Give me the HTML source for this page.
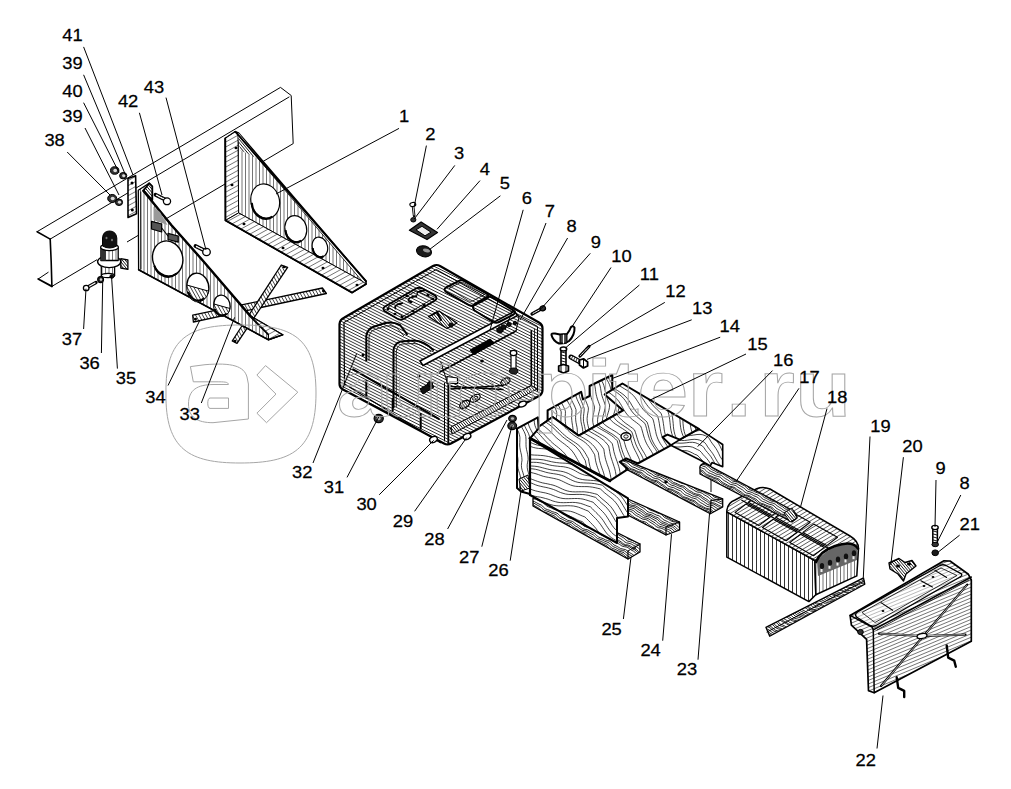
<!DOCTYPE html><html><head><meta charset="utf-8"><style>html,body{margin:0;padding:0;background:#fff;overflow:hidden}svg{display:block}</style></head><body>
<svg width="1011" height="789" viewBox="0 0 1011 789">
<rect width="1011" height="789" fill="#fff"/>
<line x1="37.1" y1="231.7" x2="280.5" y2="87.4" stroke="#000" stroke-width="1"/>
<line x1="50.2" y1="239.1" x2="289.4" y2="96.8" stroke="#000" stroke-width="1"/>
<line x1="51.9" y1="286.4" x2="97.0" y2="259.7" stroke="#000" stroke-width="1"/>
<line x1="127.0" y1="242.0" x2="139.0" y2="234.9" stroke="#000" stroke-width="1"/>
<line x1="138.0" y1="235.4" x2="225.0" y2="184.0" stroke="#000" stroke-width="1"/>
<line x1="238.0" y1="176.3" x2="293.2" y2="143.6" stroke="#000" stroke-width="1"/>
<line x1="280.5" y1="87.4" x2="291.2" y2="95.5" stroke="#000" stroke-width="1"/>
<line x1="291.2" y1="95.5" x2="293.2" y2="143.6" stroke="#000" stroke-width="1"/>
<polyline points="37.1,231.7 50.2,239.1" fill="none" stroke="#000" stroke-width="1.6" stroke-linejoin="round" stroke-linecap="round" />
<polyline points="38.2,279.0 51.9,286.4" fill="none" stroke="#000" stroke-width="1.8" stroke-linejoin="round" stroke-linecap="round" />
<line x1="38.2" y1="279.0" x2="48.5" y2="272.1" stroke="#000" stroke-width="1"/>
<polyline points="50.2,239.1 51.2,262.0 51.9,286.4" fill="none" stroke="#000" stroke-width="1.6" stroke-linejoin="round" stroke-linecap="round" />
<polygon points="225.3,138.3 235.3,131.7 238.5,133.0 366.0,281.2 366.0,284.0 352.1,292.6 225.5,220.4" fill="#fff" stroke="#000" stroke-width="1.6" stroke-linejoin="round" />
<clipPath id="c1"><polygon points="238.0,135.0 362.0,281.0 238.6,212.9"/></clipPath>
<polygon points="238.0,135.0 362.0,281.0 238.6,212.9" fill="#fff" stroke="none"/>
<g clip-path="url(#c1)"><path d="M235.00,133.0V283.0M238.50,133.0V283.0M242.00,133.0V283.0M245.50,133.0V283.0M249.00,133.0V283.0M252.50,133.0V283.0M256.00,133.0V283.0M259.50,133.0V283.0M263.00,133.0V283.0M266.50,133.0V283.0M270.00,133.0V283.0M273.50,133.0V283.0M277.00,133.0V283.0M280.50,133.0V283.0M284.00,133.0V283.0M287.50,133.0V283.0M291.00,133.0V283.0M294.50,133.0V283.0M298.00,133.0V283.0M301.50,133.0V283.0M305.00,133.0V283.0M308.50,133.0V283.0M312.00,133.0V283.0M315.50,133.0V283.0M319.00,133.0V283.0M322.50,133.0V283.0M326.00,133.0V283.0M329.50,133.0V283.0M333.00,133.0V283.0M336.50,133.0V283.0M340.00,133.0V283.0M343.50,133.0V283.0M347.00,133.0V283.0M350.50,133.0V283.0M354.00,133.0V283.0M357.50,133.0V283.0M361.00,133.0V283.0M364.50,133.0V283.0" stroke="#000" stroke-width="0.55" fill="none"/></g>
<polygon points="238.0,135.0 362.0,281.0 238.6,212.9" fill="none" stroke="#000" stroke-width="0.8" stroke-linejoin="round" />
<clipPath id="c2"><polygon points="225.3,138.3 235.3,131.7 238.0,135.0 238.6,212.9 225.5,220.4"/></clipPath>
<polygon points="225.3,138.3 235.3,131.7 238.0,135.0 238.6,212.9 225.5,220.4" fill="#fff" stroke="none"/>
<g clip-path="url(#c2)"><path d="M183.5,150.1L236.0,121.3M185.7,154.0L238.1,125.1M187.8,157.8L240.2,129.0M189.9,161.7L242.3,132.9M192.0,165.5L244.5,136.7M194.2,169.4L246.6,140.6M196.3,173.3L248.7,144.4M198.4,177.1L250.8,148.3M200.5,181.0L252.9,152.1M202.6,184.8L255.1,156.0M204.8,188.7L257.2,159.8M206.9,192.5L259.3,163.7M209.0,196.4L261.4,167.6M211.1,200.2L263.5,171.4M213.2,204.1L265.7,175.3M215.4,208.0L267.8,179.1M217.5,211.8L269.9,183.0M219.6,215.7L272.0,186.8M221.7,219.5L274.1,190.7M223.8,223.4L276.3,194.5M226.0,227.2L278.4,198.4" stroke="#000" stroke-width="0.55" fill="none"/></g>
<polygon points="225.3,138.3 235.3,131.7 238.0,135.0 238.6,212.9 225.5,220.4" fill="none" stroke="#000" stroke-width="1" stroke-linejoin="round" />
<clipPath id="c3"><polygon points="225.5,220.4 238.6,212.9 362.0,281.0 366.0,284.0 352.1,292.6"/></clipPath>
<polygon points="225.5,220.4 238.6,212.9 362.0,281.0 366.0,284.0 352.1,292.6" fill="#fff" stroke="none"/>
<g clip-path="url(#c3)"><path d="M187.1,228.5L333.4,148.0M189.3,232.4L335.5,151.9M191.4,236.2L337.7,155.8M193.5,240.1L339.8,159.6M195.6,243.9L341.9,163.5M197.7,247.8L344.0,167.3M199.9,251.6L346.1,171.2M202.0,255.5L348.3,175.0M204.1,259.3L350.4,178.9M206.2,263.2L352.5,182.7M208.3,267.0L354.6,186.6M210.5,270.9L356.8,190.4M212.6,274.8L358.9,194.3M214.7,278.6L361.0,198.2M216.8,282.5L363.1,202.0M218.9,286.3L365.2,205.9M221.1,290.2L367.4,209.7M223.2,294.0L369.5,213.6M225.3,297.9L371.6,217.4M227.4,301.7L373.7,221.3M229.6,305.6L375.8,225.1M231.7,309.5L378.0,229.0M233.8,313.3L380.1,232.9M235.9,317.2L382.2,236.7M238.0,321.0L384.3,240.6M240.2,324.9L386.4,244.4M242.3,328.7L388.6,248.3M244.4,332.6L390.7,252.1M246.5,336.4L392.8,256.0M248.6,340.3L394.9,259.8M250.8,344.2L397.0,263.7M252.9,348.0L399.2,267.6M255.0,351.9L401.3,271.4" stroke="#000" stroke-width="0.55" fill="none"/></g>
<polygon points="225.5,220.4 238.6,212.9 362.0,281.0 366.0,284.0 352.1,292.6" fill="none" stroke="#000" stroke-width="1" stroke-linejoin="round" />
<clipPath id="c4"><polygon points="238.0,135.0 238.5,133.0 260.0,159.6 240.0,150.0"/></clipPath>
<polygon points="238.0,135.0 238.5,133.0 260.0,159.6 240.0,150.0" fill="#fff" stroke="none"/>
<g clip-path="url(#c4)"><path d="M252.4,117.3L278.1,148.2M250.7,118.7L276.4,149.6M249.0,120.1L274.7,151.0M247.3,121.5L273.0,152.4M245.7,123.0L271.4,153.8M244.0,124.4L269.7,155.2M242.3,125.8L268.0,156.6M240.6,127.2L266.3,158.0M238.9,128.6L264.6,159.4M237.2,130.0L262.9,160.8M235.5,131.4L261.2,162.3M233.8,132.8L259.5,163.7M232.1,134.2L257.8,165.1M230.4,135.6L256.1,166.5M228.8,137.0L254.5,167.9M227.1,138.4L252.8,169.3M225.4,139.9L251.1,170.7M223.7,141.3L249.4,172.1M222.0,142.7L247.7,173.5" stroke="#000" stroke-width="0.9" fill="none"/></g>
<polygon points="238.0,135.0 238.5,133.0 260.0,159.6 240.0,150.0" fill="none" stroke="none" stroke-width="1" stroke-linejoin="round" />
<polyline points="225.3,138.3 225.5,220.4 352.1,292.6 366.0,284.0" fill="none" stroke="#000" stroke-width="1.8" stroke-linejoin="round" stroke-linecap="round" />
<polyline points="235.3,131.7 366.0,281.2" fill="none" stroke="#000" stroke-width="1.8" stroke-linejoin="round" stroke-linecap="round" />
<ellipse cx="236" cy="148" rx="1.5" ry="1.2" transform="rotate(0 236 148)" fill="#000" stroke="none" stroke-width="1"/>
<ellipse cx="232" cy="185" rx="1.5" ry="1.2" transform="rotate(0 232 185)" fill="#000" stroke="none" stroke-width="1"/>
<ellipse cx="244" cy="224" rx="1.5" ry="1.2" transform="rotate(0 244 224)" fill="#000" stroke="none" stroke-width="1"/>
<ellipse cx="283" cy="248" rx="1.5" ry="1.2" transform="rotate(0 283 248)" fill="#000" stroke="none" stroke-width="1"/>
<ellipse cx="323" cy="268" rx="1.5" ry="1.2" transform="rotate(0 323 268)" fill="#000" stroke="none" stroke-width="1"/>
<ellipse cx="357" cy="285" rx="1.5" ry="1.2" transform="rotate(0 357 285)" fill="#000" stroke="none" stroke-width="1"/>
<ellipse cx="265.2" cy="201.1" rx="14.2" ry="17.4" transform="rotate(-15 265.2 201.1)" fill="#fff" stroke="#000" stroke-width="1.2"/>
<path d="M251.7,202.8 A14.2,17.4 0 0 0 272.3,216.8" fill="none" stroke="#000" stroke-width="2.2" stroke-linejoin="round" />
<ellipse cx="295.8" cy="228.8" rx="10.8" ry="13.3" transform="rotate(-15 295.8 228.8)" fill="#fff" stroke="#000" stroke-width="1.2"/>
<path d="M285.5,230.1 A10.8,13.3 0 0 0 301.2,240.8" fill="none" stroke="#000" stroke-width="2.2" stroke-linejoin="round" />
<ellipse cx="319.9" cy="247" rx="7.6" ry="10.1" transform="rotate(-15 319.9 247)" fill="#fff" stroke="#000" stroke-width="1.2"/>
<path d="M312.7,248.0 A7.6,10.1 0 0 0 323.7,256.1" fill="none" stroke="#000" stroke-width="2.2" stroke-linejoin="round" />
<clipPath id="c5"><polygon points="192.7,315.2 322.4,288.0 326.4,293.5 193.4,322.0"/></clipPath>
<polygon points="192.7,315.2 322.4,288.0 326.4,293.5 193.4,322.0" fill="#fff" stroke="none"/>
<g clip-path="url(#c5)"><path d="M297.5,226.7L346.1,314.2M294.9,228.1L343.5,315.6M292.3,229.6L340.9,317.1M289.6,231.0L338.3,318.5M287.0,232.5L335.6,320.0M284.4,233.9L333.0,321.4M281.8,235.4L330.4,322.9M279.2,236.9L327.8,324.4M276.5,238.3L325.1,325.8M273.9,239.8L322.5,327.3M271.3,241.2L319.9,328.7M268.7,242.7L317.3,330.2M266.0,244.1L314.7,331.6M263.4,245.6L312.0,333.1M260.8,247.1L309.4,334.6M258.2,248.5L306.8,336.0M255.6,250.0L304.2,337.5M252.9,251.4L301.5,338.9M250.3,252.9L298.9,340.4M247.7,254.3L296.3,341.8M245.1,255.8L293.7,343.3M242.4,257.3L291.1,344.7M239.8,258.7L288.4,346.2M237.2,260.2L285.8,347.7M234.6,261.6L283.2,349.1M232.0,263.1L280.6,350.6M229.3,264.5L277.9,352.0M226.7,266.0L275.3,353.5M224.1,267.5L272.7,354.9M221.5,268.9L270.1,356.4M218.8,270.4L267.4,357.9M216.2,271.8L264.8,359.3M213.6,273.3L262.2,360.8M211.0,274.7L259.6,362.2M208.4,276.2L257.0,363.7M205.7,277.7L254.3,365.1M203.1,279.1L251.7,366.6M200.5,280.6L249.1,368.1M197.9,282.0L246.5,369.5M195.2,283.5L243.8,371.0M192.6,284.9L241.2,372.4M190.0,286.4L238.6,373.9M187.4,287.8L236.0,375.3M184.7,289.3L233.4,376.8M182.1,290.8L230.7,378.3M179.5,292.2L228.1,379.7M176.9,293.7L225.5,381.2" stroke="#000" stroke-width="0.75" fill="none"/></g>
<polygon points="192.7,315.2 322.4,288.0 326.4,293.5 193.4,322.0" fill="none" stroke="#000" stroke-width="1.3" stroke-linejoin="round" />
<clipPath id="c6"><polygon points="281.3,265.0 287.6,267.4 237.0,343.4 232.2,341.0"/></clipPath>
<polygon points="281.3,265.0 287.6,267.4 237.0,343.4 232.2,341.0" fill="#fff" stroke="none"/>
<g clip-path="url(#c6)"><path d="M276.1,237.5L325.1,325.7M273.5,239.0L322.5,327.1M270.8,240.4L319.8,328.6M268.2,241.9L317.2,330.1M265.6,243.3L314.6,331.5M263.0,244.8L312.0,333.0M260.4,246.2L309.3,334.4M257.7,247.7L306.7,335.9M255.1,249.2L304.1,337.3M252.5,250.6L301.5,338.8M249.9,252.1L298.9,340.3M247.2,253.5L296.2,341.7M244.6,255.0L293.6,343.2M242.0,256.4L291.0,344.6M239.4,257.9L288.4,346.1M236.8,259.4L285.7,347.5M234.1,260.8L283.1,349.0M231.5,262.3L280.5,350.5M228.9,263.7L277.9,351.9M226.3,265.2L275.3,353.4M223.6,266.6L272.6,354.8M221.0,268.1L270.0,356.3M218.4,269.6L267.4,357.7M215.8,271.0L264.8,359.2M213.1,272.5L262.1,360.7M210.5,273.9L259.5,362.1M207.9,275.4L256.9,363.6M205.3,276.8L254.3,365.0M202.7,278.3L251.6,366.5M200.0,279.8L249.0,367.9M197.4,281.2L246.4,369.4" stroke="#000" stroke-width="0.75" fill="none"/></g>
<polygon points="281.3,265.0 287.6,267.4 237.0,343.4 232.2,341.0" fill="none" stroke="#000" stroke-width="1.3" stroke-linejoin="round" />
<ellipse cx="323.5" cy="291" rx="1.5" ry="1.3" transform="rotate(0 323.5 291)" fill="#000" stroke="none" stroke-width="1"/>
<ellipse cx="195.5" cy="319" rx="1.5" ry="1.3" transform="rotate(0 195.5 319)" fill="#000" stroke="none" stroke-width="1"/>
<ellipse cx="284" cy="267" rx="1.5" ry="1.3" transform="rotate(0 284 267)" fill="#000" stroke="none" stroke-width="1"/>
<ellipse cx="235" cy="341" rx="1.5" ry="1.3" transform="rotate(0 235 341)" fill="#000" stroke="none" stroke-width="1"/>
<clipPath id="c7"><polygon points="138.3,190.2 149.1,183.2 152.3,186.4 152.3,201.7 171.3,225.0 202.3,260.0 250.2,315.9 282.7,334.7 268.4,339.8 138.6,269.8"/></clipPath>
<polygon points="138.3,190.2 149.1,183.2 152.3,186.4 152.3,201.7 171.3,225.0 202.3,260.0 250.2,315.9 282.7,334.7 268.4,339.8 138.6,269.8" fill="#fff" stroke="none"/>
<g clip-path="url(#c7)"><path d="M133.50,181.2V341.8M137.00,181.2V341.8M140.50,181.2V341.8M144.00,181.2V341.8M147.50,181.2V341.8M151.00,181.2V341.8M154.50,181.2V341.8M158.00,181.2V341.8M161.50,181.2V341.8M165.00,181.2V341.8M168.50,181.2V341.8M172.00,181.2V341.8M175.50,181.2V341.8M179.00,181.2V341.8M182.50,181.2V341.8M186.00,181.2V341.8M189.50,181.2V341.8M193.00,181.2V341.8M196.50,181.2V341.8M200.00,181.2V341.8M203.50,181.2V341.8M207.00,181.2V341.8M210.50,181.2V341.8M214.00,181.2V341.8M217.50,181.2V341.8M221.00,181.2V341.8M224.50,181.2V341.8M228.00,181.2V341.8M231.50,181.2V341.8M235.00,181.2V341.8M238.50,181.2V341.8M242.00,181.2V341.8M245.50,181.2V341.8M249.00,181.2V341.8M252.50,181.2V341.8M256.00,181.2V341.8M259.50,181.2V341.8M263.00,181.2V341.8M266.50,181.2V341.8M270.00,181.2V341.8M273.50,181.2V341.8M277.00,181.2V341.8M280.50,181.2V341.8M284.00,181.2V341.8" stroke="#000" stroke-width="0.55" fill="none"/></g>
<polygon points="138.3,190.2 149.1,183.2 152.3,186.4 152.3,201.7 171.3,225.0 202.3,260.0 250.2,315.9 282.7,334.7 268.4,339.8 138.6,269.8" fill="none" stroke="#000" stroke-width="1.3" stroke-linejoin="round" />
<clipPath id="c8"><polygon points="143.4,190.8 149.1,183.2 152.3,186.4 152.3,200.0"/></clipPath>
<polygon points="143.4,190.8 149.1,183.2 152.3,186.4 152.3,200.0" fill="#fff" stroke="none"/>
<g clip-path="url(#c8)"><path d="M150.4,173.7L166.0,192.3M148.8,175.1L164.3,193.7M147.1,176.5L162.6,195.1M145.4,177.9L160.9,196.5M143.7,179.3L159.2,197.9M142.0,180.7L157.5,199.3M140.3,182.1L155.8,200.7M138.6,183.5L154.1,202.1M136.9,184.9L152.4,203.5M135.2,186.3L150.8,205.0M133.5,187.7L149.1,206.4M131.9,189.2L147.4,207.8" stroke="#000" stroke-width="0.9" fill="none"/></g>
<polygon points="143.4,190.8 149.1,183.2 152.3,186.4 152.3,200.0" fill="none" stroke="#000" stroke-width="1.8" stroke-linejoin="round" />
<polyline points="143.4,190.8 152.3,201.7 171.3,225.0 202.3,260.0 250.2,315.9 268.4,334.1" fill="none" stroke="#000" stroke-width="2.4" stroke-linejoin="round" stroke-linecap="round" />
<polyline points="140.8,192.0 141.0,269.0" fill="none" stroke="#000" stroke-width="0.9" stroke-linejoin="round" stroke-linecap="round" />
<clipPath id="c9"><polygon points="250.2,315.9 282.7,334.7 268.4,339.8 268.4,334.1"/></clipPath>
<polygon points="250.2,315.9 282.7,334.7 268.4,339.8 268.4,334.1" fill="#fff" stroke="none"/>
<g clip-path="url(#c9)"><path d="M234.9,317.7L274.8,295.8M237.1,321.6L276.9,299.7M239.2,325.4L279.0,303.5M241.3,329.3L281.1,307.4M243.4,333.1L283.2,311.2M245.5,337.0L285.4,315.1M247.7,340.8L287.5,318.9M249.8,344.7L289.6,322.8M251.9,348.5L291.7,326.7M254.0,352.4L293.8,330.5M256.2,356.3L296.0,334.4" stroke="#000" stroke-width="0.55" fill="none"/></g>
<polygon points="250.2,315.9 282.7,334.7 268.4,339.8 268.4,334.1" fill="none" stroke="#000" stroke-width="1.2" stroke-linejoin="round" />
<polyline points="138.6,269.8 268.4,339.8 282.7,334.7" fill="none" stroke="#000" stroke-width="1.6" stroke-linejoin="round" stroke-linecap="round" />
<polygon points="153.5,206.7 160.0,212.0 167.5,225.0 153.5,220.0" fill="#999" stroke="none" stroke-width="1" stroke-linejoin="round" />
<polygon points="151.5,221.3 161.7,224.0 161.7,232.0 151.5,229.0" fill="#555" stroke="#000" stroke-width="1.2" stroke-linejoin="round" />
<polygon points="168.0,233.3 178.2,236.0 178.2,242.2 168.0,239.5" fill="#555" stroke="#000" stroke-width="1.2" stroke-linejoin="round" />
<polyline points="161.7,228.0 168.0,236.0" fill="none" stroke="#000" stroke-width="1.2" stroke-linejoin="round" stroke-linecap="round" />
<ellipse cx="167.7" cy="258.5" rx="15" ry="17.8" transform="rotate(-15 167.7 258.5)" fill="#fff" stroke="#000" stroke-width="1.4"/>
<path d="M154.2,265.6 A15,17.8 0 0 0 176.7,273.6" fill="none" stroke="#000" stroke-width="2" stroke-linejoin="round" />
<ellipse cx="197.9" cy="286.5" rx="10.8" ry="13.5" transform="rotate(-15 197.9 286.5)" fill="#fff" stroke="#000" stroke-width="1.4"/>
<clipPath id="c10"><path d="M187.1,285.1 L208.7,291.2 A10.8,13.5 0 0 1 187.1,285.1 Z"/></clipPath>
<path d="M187.1,285.1 L208.7,291.2 A10.8,13.5 0 0 1 187.1,285.1 Z" fill="#fff" stroke="none"/>
<g clip-path="url(#c10)"><path d="M219.0,-124.8L412.5,223.5M216.3,-123.3L409.8,225.0M213.7,-121.8L407.2,226.5M211.1,-120.4L404.6,227.9M208.5,-118.9L402.0,229.4M205.9,-117.5L399.4,230.8M203.2,-116.0L396.7,232.3M200.6,-114.6L394.1,233.7M198.0,-113.1L391.5,235.2M195.4,-111.6L388.9,236.7M192.7,-110.2L386.2,238.1M190.1,-108.7L383.6,239.6M187.5,-107.3L381.0,241.0M184.9,-105.8L378.4,242.5M182.3,-104.4L375.8,243.9M179.6,-102.9L373.1,245.4M177.0,-101.4L370.5,246.9M174.4,-100.0L367.9,248.3M171.8,-98.5L365.3,249.8M169.1,-97.1L362.6,251.2M166.5,-95.6L360.0,252.7M163.9,-94.2L357.4,254.1M161.3,-92.7L354.8,255.6M158.7,-91.3L352.2,257.1M156.0,-89.8L349.5,258.5M153.4,-88.3L346.9,260.0M150.8,-86.9L344.3,261.4M148.2,-85.4L341.7,262.9M145.5,-84.0L339.0,264.3M142.9,-82.5L336.4,265.8M140.3,-81.1L333.8,267.3M137.7,-79.6L331.2,268.7M135.0,-78.1L328.6,270.2M132.4,-76.7L325.9,271.6M129.8,-75.2L323.3,273.1M127.2,-73.8L320.7,274.5M124.6,-72.3L318.1,276.0M121.9,-70.9L315.4,277.5M119.3,-69.4L312.8,278.9M116.7,-67.9L310.2,280.4M114.1,-66.5L307.6,281.8M111.4,-65.0L305.0,283.3M108.8,-63.6L302.3,284.7M106.2,-62.1L299.7,286.2M103.6,-60.7L297.1,287.7M101.0,-59.2L294.5,289.1M98.3,-57.7L291.8,290.6M95.7,-56.3L289.2,292.0M93.1,-54.8L286.6,293.5M90.5,-53.4L284.0,294.9M87.8,-51.9L281.3,296.4M85.2,-50.5L278.7,297.9M82.6,-49.0L276.1,299.3M80.0,-47.5L273.5,300.8M77.4,-46.1L270.9,302.2M74.7,-44.6L268.2,303.7M72.1,-43.2L265.6,305.1M69.5,-41.7L263.0,306.6M66.9,-40.3L260.4,308.1M64.2,-38.8L257.7,309.5M61.6,-37.3L255.1,311.0M59.0,-35.9L252.5,312.4M56.4,-34.4L249.9,313.9M53.8,-33.0L247.3,315.3M51.1,-31.5L244.6,316.8M48.5,-30.1L242.0,318.2M45.9,-28.6L239.4,319.7M43.3,-27.1L236.8,321.2M40.6,-25.7L234.1,322.6M38.0,-24.2L231.5,324.1M35.4,-22.8L228.9,325.5M32.8,-21.3L226.3,327.0M30.1,-19.9L223.7,328.4M27.5,-18.4L221.0,329.9M24.9,-16.9L218.4,331.4M22.3,-15.5L215.8,332.8M19.7,-14.0L213.2,334.3M17.0,-12.6L210.5,335.7M14.4,-11.1L207.9,337.2M11.8,-9.7L205.3,338.6M9.2,-8.2L202.7,340.1M6.5,-6.7L200.1,341.6M3.9,-5.3L197.4,343.0M1.3,-3.8L194.8,344.5M-1.3,-2.4L192.2,345.9M-3.9,-0.9L189.6,347.4M-6.6,0.5L186.9,348.8M-9.2,2.0L184.3,350.3M-11.8,3.5L181.7,351.8M-14.4,4.9L179.1,353.2M-17.1,6.4L176.4,354.7M-19.7,7.8L173.8,356.1M-22.3,9.3L171.2,357.6M-24.9,10.7L168.6,359.0M-27.5,12.2L166.0,360.5M-30.2,13.6L163.3,362.0M-32.8,15.1L160.7,363.4M-35.4,16.6L158.1,364.9M-38.0,18.0L155.5,366.3M-40.7,19.5L152.8,367.8M-43.3,20.9L150.2,369.2M-45.9,22.4L147.6,370.7M-48.5,23.8L145.0,372.2M-51.1,25.3L142.4,373.6M-53.8,26.8L139.7,375.1M-56.4,28.2L137.1,376.5M-59.0,29.7L134.5,378.0M-61.6,31.1L131.9,379.4M-64.3,32.6L129.2,380.9M-66.9,34.0L126.6,382.4M-69.5,35.5L124.0,383.8M-72.1,37.0L121.4,385.3M-74.7,38.4L118.8,386.7M-77.4,39.9L116.1,388.2M-80.0,41.3L113.5,389.6M-82.6,42.8L110.9,391.1M-85.2,44.2L108.3,392.6M-87.9,45.7L105.6,394.0M-90.5,47.2L103.0,395.5M-93.1,48.6L100.4,396.9M-95.7,50.1L97.8,398.4M-98.4,51.5L95.2,399.8M-101.0,53.0L92.5,401.3M-103.6,54.4L89.9,402.8M-106.2,55.9L87.3,404.2M-108.8,57.4L84.7,405.7M-111.5,58.8L82.0,407.1M-114.1,60.3L79.4,408.6M-116.7,61.7L76.8,410.0M-119.3,63.2L74.2,411.5M-122.0,64.6L71.6,412.9M-124.6,66.1L68.9,414.4M-127.2,67.6L66.3,415.9" stroke="#000" stroke-width="0.75" fill="none"/></g>
<path d="M187.1,285.1 L208.7,291.2 A10.8,13.5 0 0 1 187.1,285.1 Z" fill="none" stroke="#000" stroke-width="1" stroke-linejoin="round" />
<path d="M188.2,291.9 A10.8,13.5 0 0 0 204.4,298.0" fill="none" stroke="#000" stroke-width="2" stroke-linejoin="round" />
<ellipse cx="222" cy="305" rx="8" ry="10" transform="rotate(-15 222 305)" fill="#fff" stroke="#000" stroke-width="1.4"/>
<clipPath id="c11"><path d="M214.0,304.0 L230.0,308.5 A8,10 0 0 1 214.0,304.0 Z"/></clipPath>
<path d="M214.0,304.0 L230.0,308.5 A8,10 0 0 1 214.0,304.0 Z" fill="#fff" stroke="none"/>
<g clip-path="url(#c11)"><path d="M234.7,-133.5L440.0,236.1M232.1,-132.0L437.4,237.5M229.5,-130.6L434.8,239.0M226.8,-129.1L432.1,240.4M224.2,-127.7L429.5,241.9M221.6,-126.2L426.9,243.3M219.0,-124.8L424.3,244.8M216.3,-123.3L421.7,246.2M213.7,-121.8L419.0,247.7M211.1,-120.4L416.4,249.2M208.5,-118.9L413.8,250.6M205.9,-117.5L411.2,252.1M203.2,-116.0L408.5,253.5M200.6,-114.6L405.9,255.0M198.0,-113.1L403.3,256.4M195.4,-111.6L400.7,257.9M192.7,-110.2L398.0,259.4M190.1,-108.7L395.4,260.8M187.5,-107.3L392.8,262.3M184.9,-105.8L390.2,263.7M182.3,-104.4L387.6,265.2M179.6,-102.9L384.9,266.6M177.0,-101.4L382.3,268.1M174.4,-100.0L379.7,269.6M171.8,-98.5L377.1,271.0M169.1,-97.1L374.4,272.5M166.5,-95.6L371.8,273.9M163.9,-94.2L369.2,275.4M161.3,-92.7L366.6,276.8M158.7,-91.3L364.0,278.3M156.0,-89.8L361.3,279.8M153.4,-88.3L358.7,281.2M150.8,-86.9L356.1,282.7M148.2,-85.4L353.5,284.1M145.5,-84.0L350.8,285.6M142.9,-82.5L348.2,287.0M140.3,-81.1L345.6,288.5M137.7,-79.6L343.0,290.0M135.0,-78.1L340.4,291.4M132.4,-76.7L337.7,292.9M129.8,-75.2L335.1,294.3M127.2,-73.8L332.5,295.8M124.6,-72.3L329.9,297.2M121.9,-70.9L327.2,298.7M119.3,-69.4L324.6,300.2M116.7,-67.9L322.0,301.6M114.1,-66.5L319.4,303.1M111.4,-65.0L316.8,304.5M108.8,-63.6L314.1,306.0M106.2,-62.1L311.5,307.4M103.6,-60.7L308.9,308.9M101.0,-59.2L306.3,310.4M98.3,-57.7L303.6,311.8M95.7,-56.3L301.0,313.3M93.1,-54.8L298.4,314.7M90.5,-53.4L295.8,316.2M87.8,-51.9L293.1,317.6M85.2,-50.5L290.5,319.1M82.6,-49.0L287.9,320.6M80.0,-47.5L285.3,322.0M77.4,-46.1L282.7,323.5M74.7,-44.6L280.0,324.9M72.1,-43.2L277.4,326.4M69.5,-41.7L274.8,327.8M66.9,-40.3L272.2,329.3M64.2,-38.8L269.5,330.8M61.6,-37.3L266.9,332.2M59.0,-35.9L264.3,333.7M56.4,-34.4L261.7,335.1M53.8,-33.0L259.1,336.6M51.1,-31.5L256.4,338.0M48.5,-30.1L253.8,339.5M45.9,-28.6L251.2,340.9M43.3,-27.1L248.6,342.4M40.6,-25.7L245.9,343.9M38.0,-24.2L243.3,345.3M35.4,-22.8L240.7,346.8M32.8,-21.3L238.1,348.2M30.1,-19.9L235.5,349.7M27.5,-18.4L232.8,351.1M24.9,-16.9L230.2,352.6M22.3,-15.5L227.6,354.1M19.7,-14.0L225.0,355.5M17.0,-12.6L222.3,357.0M14.4,-11.1L219.7,358.4M11.8,-9.7L217.1,359.9M9.2,-8.2L214.5,361.3M6.5,-6.7L211.9,362.8M3.9,-5.3L209.2,364.3M1.3,-3.8L206.6,365.7M-1.3,-2.4L204.0,367.2M-3.9,-0.9L201.4,368.6M-6.6,0.5L198.7,370.1M-9.2,2.0L196.1,371.5M-11.8,3.5L193.5,373.0M-14.4,4.9L190.9,374.5M-17.1,6.4L188.3,375.9M-19.7,7.8L185.6,377.4M-22.3,9.3L183.0,378.8M-24.9,10.7L180.4,380.3M-27.5,12.2L177.8,381.7M-30.2,13.6L175.1,383.2M-32.8,15.1L172.5,384.7M-35.4,16.6L169.9,386.1M-38.0,18.0L167.3,387.6M-40.7,19.5L164.6,389.0M-43.3,20.9L162.0,390.5M-45.9,22.4L159.4,391.9M-48.5,23.8L156.8,393.4M-51.1,25.3L154.2,394.9M-53.8,26.8L151.5,396.3M-56.4,28.2L148.9,397.8M-59.0,29.7L146.3,399.2M-61.6,31.1L143.7,400.7M-64.3,32.6L141.0,402.1M-66.9,34.0L138.4,403.6M-69.5,35.5L135.8,405.1M-72.1,37.0L133.2,406.5M-74.7,38.4L130.6,408.0M-77.4,39.9L127.9,409.4M-80.0,41.3L125.3,410.9M-82.6,42.8L122.7,412.3M-85.2,44.2L120.1,413.8M-87.9,45.7L117.4,415.3M-90.5,47.2L114.8,416.7M-93.1,48.6L112.2,418.2M-95.7,50.1L109.6,419.6M-98.4,51.5L107.0,421.1M-101.0,53.0L104.3,422.5M-103.6,54.4L101.7,424.0M-106.2,55.9L99.1,425.5M-108.8,57.4L96.5,426.9M-111.5,58.8L93.8,428.4M-114.1,60.3L91.2,429.8M-116.7,61.7L88.6,431.3M-119.3,63.2L86.0,432.7M-122.0,64.6L83.4,434.2M-124.6,66.1L80.7,435.7M-127.2,67.6L78.1,437.1M-129.8,69.0L75.5,438.6M-132.4,70.5L72.9,440.0" stroke="#000" stroke-width="0.75" fill="none"/></g>
<path d="M214.0,304.0 L230.0,308.5 A8,10 0 0 1 214.0,304.0 Z" fill="none" stroke="#000" stroke-width="1" stroke-linejoin="round" />
<path d="M214.8,309.0 A8,10 0 0 0 226.8,313.5" fill="none" stroke="#000" stroke-width="2" stroke-linejoin="round" />
<ellipse cx="114.7" cy="170.5" rx="4.2" ry="3.7800000000000002" transform="rotate(0 114.7 170.5)" fill="#333" stroke="#000" stroke-width="1"/>
<ellipse cx="115.2" cy="170.5" rx="1.8900000000000001" ry="1.6800000000000002" transform="rotate(0 115.2 170.5)" fill="#ddd" stroke="none" stroke-width="1"/>
<ellipse cx="123.2" cy="175.7" rx="3.6" ry="3.24" transform="rotate(0 123.2 175.7)" fill="#333" stroke="#000" stroke-width="1"/>
<ellipse cx="123.7" cy="175.7" rx="1.62" ry="1.4400000000000002" transform="rotate(0 123.7 175.7)" fill="#ddd" stroke="none" stroke-width="1"/>
<ellipse cx="112.2" cy="198.5" rx="4.5" ry="4.05" transform="rotate(0 112.2 198.5)" fill="#333" stroke="#000" stroke-width="1"/>
<ellipse cx="112.7" cy="198.5" rx="2.025" ry="1.8" transform="rotate(0 112.7 198.5)" fill="#ddd" stroke="none" stroke-width="1"/>
<ellipse cx="119" cy="202.3" rx="3.6" ry="3.24" transform="rotate(0 119 202.3)" fill="#333" stroke="#000" stroke-width="1"/>
<ellipse cx="119.5" cy="202.3" rx="1.62" ry="1.4400000000000002" transform="rotate(0 119.5 202.3)" fill="#ddd" stroke="none" stroke-width="1"/>
<clipPath id="c12"><polygon points="128.0,178.5 135.6,175.7 136.5,213.7 128.0,217.5"/></clipPath>
<polygon points="128.0,178.5 135.6,175.7 136.5,213.7 128.0,217.5" fill="#fff" stroke="none"/>
<g clip-path="url(#c12)"><path d="M105.8,182.8L134.8,166.9M108.0,186.7L136.9,170.8M110.1,190.5L139.0,174.6M112.2,194.4L141.1,178.5M114.3,198.3L143.2,182.3M116.4,202.1L145.4,186.2M118.6,206.0L147.5,190.0M120.7,209.8L149.6,193.9M122.8,213.7L151.7,197.8M124.9,217.5L153.9,201.6M127.0,221.4L156.0,205.5" stroke="#000" stroke-width="0.55" fill="none"/></g>
<polygon points="128.0,178.5 135.6,175.7 136.5,213.7 128.0,217.5" fill="none" stroke="#000" stroke-width="1.6" stroke-linejoin="round" />
<ellipse cx="132" cy="183" rx="1.5" ry="1.5" transform="rotate(0 132 183)" fill="#000" stroke="none" stroke-width="1"/>
<ellipse cx="132.3" cy="210" rx="1.5" ry="1.5" transform="rotate(0 132.3 210)" fill="#000" stroke="none" stroke-width="1"/>
<polyline points="155.5,194.7 165.0,199.5" fill="none" stroke="#000" stroke-width="3.8" stroke-linejoin="round" stroke-linecap="round" />
<polyline points="156.5,195.2 164.0,199.0" fill="none" stroke="#fff" stroke-width="1.4" stroke-linejoin="round" stroke-linecap="round" stroke-dasharray="1.2 1.2"/>
<ellipse cx="167" cy="201.3" rx="3.6" ry="3.4" transform="rotate(0 167 201.3)" fill="#fff" stroke="#000" stroke-width="1.3"/>
<polyline points="195.5,246.0 204.5,250.5" fill="none" stroke="#000" stroke-width="3.8" stroke-linejoin="round" stroke-linecap="round" />
<polyline points="196.5,246.5 203.5,250.0" fill="none" stroke="#fff" stroke-width="1.4" stroke-linejoin="round" stroke-linecap="round" stroke-dasharray="1.2 1.2"/>
<ellipse cx="206.5" cy="252" rx="3.8" ry="3.6" transform="rotate(0 206.5 252)" fill="#fff" stroke="#000" stroke-width="1.3"/>
<clipPath id="c13"><polygon points="101.3,264.0 114.6,264.0 114.6,275.5 101.3,275.5"/></clipPath>
<polygon points="101.3,264.0 114.6,264.0 114.6,275.5 101.3,275.5" fill="#fff" stroke="none"/>
<g clip-path="url(#c13)"><path d="M98.50,262.0V277.5M102.00,262.0V277.5M105.50,262.0V277.5M109.00,262.0V277.5M112.50,262.0V277.5M116.00,262.0V277.5" stroke="#000" stroke-width="0.55" fill="none"/></g>
<polygon points="101.3,264.0 114.6,264.0 114.6,275.5 101.3,275.5" fill="none" stroke="#000" stroke-width="1.3" stroke-linejoin="round" />
<ellipse cx="108" cy="275.5" rx="6.6" ry="2.2" transform="rotate(0 108 275.5)" fill="#fff" stroke="#000" stroke-width="1.2"/>
<clipPath id="c14"><path d="M120.8,258.7 L127.9,260 L127.9,269.4 L120.8,268 Z"/></clipPath>
<path d="M120.8,258.7 L127.9,260 L127.9,269.4 L120.8,268 Z" fill="#fff" stroke="none"/>
<g clip-path="url(#c14)"><path d="M125.9,250.8L137.7,264.9M124.2,252.2L136.0,266.3M122.5,253.6L134.3,267.7M120.9,255.0L132.6,269.1M119.2,256.4L130.9,270.5M117.5,257.8L129.3,271.9M115.8,259.2L127.6,273.3M114.1,260.6L125.9,274.8M112.4,262.0L124.2,276.2" stroke="#000" stroke-width="0.9" fill="none"/></g>
<path d="M120.8,258.7 L127.9,260 L127.9,269.4 L120.8,268 Z" fill="none" stroke="#000" stroke-width="1.3" stroke-linejoin="round" />
<ellipse cx="109.2" cy="261.8" rx="11.6" ry="5.8" transform="rotate(0 109.2 261.8)" fill="#fff" stroke="#000" stroke-width="1.4"/>
<clipPath id="c15"><polygon points="100.9,247.2 118.2,247.2 118.2,260.5 100.9,260.5"/></clipPath>
<polygon points="100.9,247.2 118.2,247.2 118.2,260.5 100.9,260.5" fill="#fff" stroke="none"/>
<g clip-path="url(#c15)"><path d="M98.50,245.2V262.5M102.00,245.2V262.5M105.50,245.2V262.5M109.00,245.2V262.5M112.50,245.2V262.5M116.00,245.2V262.5M119.50,245.2V262.5" stroke="#000" stroke-width="0.55" fill="none"/></g>
<polygon points="100.9,247.2 118.2,247.2 118.2,260.5 100.9,260.5" fill="none" stroke="#000" stroke-width="1.3" stroke-linejoin="round" />
<rect x="100.9" y="247.2" width="5" height="13.3" fill="#333" stroke="none"/>
<ellipse cx="109.5" cy="247.2" rx="8.9" ry="3.4" transform="rotate(0 109.5 247.2)" fill="#fff" stroke="#000" stroke-width="1.3"/>
<path d="M102.5,246 L102.5,238 Q103,231 109.5,231 Q116,231 116.8,238 L116.8,246 Q109.5,250 102.5,246 Z" fill="#111" stroke="#000" stroke-width="1" stroke-linejoin="round" />
<ellipse cx="106.5" cy="238" rx="1" ry="1.2" transform="rotate(0 106.5 238)" fill="#777" stroke="none" stroke-width="1"/>
<ellipse cx="112" cy="240" rx="1" ry="1.2" transform="rotate(0 112 240)" fill="#777" stroke="none" stroke-width="1"/>
<ellipse cx="111.8" cy="276.5" rx="1.9" ry="1.8" transform="rotate(0 111.8 276.5)" fill="#111" stroke="#000" stroke-width="1"/>
<ellipse cx="100.6" cy="279.6" rx="2.9" ry="3.1" transform="rotate(0 100.6 279.6)" fill="#222" stroke="#000" stroke-width="1.2"/>
<ellipse cx="101" cy="279.6" rx="1.2" ry="1.3" transform="rotate(0 101 279.6)" fill="#ccc" stroke="none" stroke-width="1"/>
<polyline points="87.0,287.5 96.0,282.5" fill="none" stroke="#000" stroke-width="3.4" stroke-linejoin="round" stroke-linecap="round" />
<polyline points="88.0,287.0 95.0,283.0" fill="none" stroke="#fff" stroke-width="1.2" stroke-linejoin="round" stroke-linecap="round" />
<ellipse cx="86.2" cy="288" rx="2.8" ry="2.7" transform="rotate(0 86.2 288)" fill="#fff" stroke="#000" stroke-width="1.3"/>
<clipPath id="c16"><path d="M339.5,324 Q340,319.5 344,317.8 L433,266 Q436.5,264 440,266 L539,322.5 Q542.5,324.5 542.5,328 L542.5,390 Q542.5,394 539,396 L451,443.5 Q447.5,445.5 444,443.5 L343,389.5 Q339.5,387.5 339.5,384 Z"/></clipPath>
<path d="M339.5,324 Q340,319.5 344,317.8 L433,266 Q436.5,264 440,266 L539,322.5 Q542.5,324.5 542.5,328 L542.5,390 Q542.5,394 539,396 L451,443.5 Q447.5,445.5 444,443.5 L343,389.5 Q339.5,387.5 339.5,384 Z" fill="#fff" stroke="none"/>
<g clip-path="url(#c16)"><path d="M379.7,177.6L619.5,297.5M378.5,180.0L618.3,299.9M377.3,182.5L617.1,302.4M376.0,184.9L615.8,304.8M374.8,187.4L614.6,307.3M373.6,189.9L613.4,309.8M372.3,192.3L612.1,312.2M371.1,194.8L610.9,314.7M369.9,197.2L609.7,317.1M368.7,199.7L608.5,319.6M367.4,202.2L607.2,322.1M366.2,204.6L606.0,324.5M365.0,207.1L604.8,327.0M363.7,209.5L603.5,329.4M362.5,212.0L602.3,331.9M361.3,214.5L601.1,334.4M360.0,216.9L599.8,336.8M358.8,219.4L598.6,339.3M357.6,221.8L597.4,341.7M356.4,224.3L596.2,344.2M355.1,226.8L594.9,346.7M353.9,229.2L593.7,349.1M352.7,231.7L592.5,351.6M351.4,234.1L591.2,354.0M350.2,236.6L590.0,356.5M349.0,239.1L588.8,359.0M347.7,241.5L587.5,361.4M346.5,244.0L586.3,363.9M345.3,246.4L585.1,366.3M344.1,248.9L583.9,368.8M342.8,251.4L582.6,371.3M341.6,253.8L581.4,373.7M340.4,256.3L580.2,376.2M339.1,258.7L578.9,378.6M337.9,261.2L577.7,381.1M336.7,263.6L576.5,383.5M335.4,266.1L575.2,386.0M334.2,268.6L574.0,388.5M333.0,271.0L572.8,390.9M331.8,273.5L571.6,393.4M330.5,275.9L570.3,395.8M329.3,278.4L569.1,398.3M328.1,280.9L567.9,400.8M326.8,283.3L566.6,403.2M325.6,285.8L565.4,405.7M324.4,288.2L564.2,408.1M323.1,290.7L562.9,410.6M321.9,293.2L561.7,413.1M320.7,295.6L560.5,415.5M319.5,298.1L559.3,418.0M318.2,300.5L558.0,420.4M317.0,303.0L556.8,422.9M315.8,305.5L555.6,425.4M314.5,307.9L554.3,427.8M313.3,310.4L553.1,430.3M312.1,312.8L551.9,432.7M310.8,315.3L550.6,435.2M309.6,317.8L549.4,437.7M308.4,320.2L548.2,440.1M307.2,322.7L547.0,442.6M305.9,325.1L545.7,445.0M304.7,327.6L544.5,447.5M303.5,330.1L543.3,450.0M302.2,332.5L542.0,452.4M301.0,335.0L540.8,454.9M299.8,337.4L539.6,457.3M298.6,339.9L538.4,459.8M297.3,342.4L537.1,462.3M296.1,344.8L535.9,464.7M294.9,347.3L534.7,467.2M293.6,349.7L533.4,469.6M292.4,352.2L532.2,472.1M291.2,354.7L531.0,474.6M289.9,357.1L529.7,477.0M288.7,359.6L528.5,479.5M287.5,362.0L527.3,481.9M286.3,364.5L526.1,484.4M285.0,367.0L524.8,486.9M283.8,369.4L523.6,489.3M282.6,371.9L522.4,491.8M281.3,374.3L521.1,494.2M280.1,376.8L519.9,496.7M278.9,379.3L518.7,499.2M277.6,381.7L517.4,501.6M276.4,384.2L516.2,504.1M275.2,386.6L515.0,506.5M274.0,389.1L513.8,509.0M272.7,391.6L512.5,511.5M271.5,394.0L511.3,513.9M270.3,396.5L510.1,516.4M269.0,398.9L508.8,518.8M267.8,401.4L507.6,521.3M266.6,403.9L506.4,523.8M265.3,406.3L505.1,526.2M264.1,408.8L503.9,528.7" stroke="#000" stroke-width="0.8" fill="none"/></g>
<path d="M339.5,324 Q340,319.5 344,317.8 L433,266 Q436.5,264 440,266 L539,322.5 Q542.5,324.5 542.5,328 L542.5,390 Q542.5,394 539,396 L451,443.5 Q447.5,445.5 444,443.5 L343,389.5 Q339.5,387.5 339.5,384 Z" fill="none" stroke="#000" stroke-width="2.2" stroke-linejoin="round" />
<polyline points="344.0,322.5 436.3,269.5 537.5,326.5 537.5,391.0" fill="none" stroke="#000" stroke-width="1" stroke-linejoin="round" stroke-linecap="round" />
<polyline points="344.0,323.0 344.5,385.0" fill="none" stroke="#000" stroke-width="1.2" stroke-linejoin="round" stroke-linecap="round" />
<polyline points="448.3,385.6 448.3,443.9" fill="none" stroke="#000" stroke-width="1.8" stroke-linejoin="round" stroke-linecap="round" />
<polyline points="444.5,383.0 444.5,441.0" fill="none" stroke="#000" stroke-width="1" stroke-linejoin="round" stroke-linecap="round" />
<polyline points="531.3,330.7 531.3,385.6 450.5,428.8" fill="none" stroke="#000" stroke-width="1.6" stroke-linejoin="round" stroke-linecap="round" />
<polyline points="534.5,329.0 534.5,389.0 451.0,433.0" fill="none" stroke="#000" stroke-width="0.8" stroke-linejoin="round" stroke-linecap="round" />
<polyline points="344.9,384.3 440.5,442.8" fill="none" stroke="#000" stroke-width="1.2" stroke-linejoin="round" stroke-linecap="round" />
<polyline points="353.1,369.4 438.8,418.9" fill="none" stroke="#000" stroke-width="2" stroke-linejoin="round" stroke-linecap="round" />
<polygon points="420.0,361.0 514.5,311.3 517.5,315.5 423.0,365.5" fill="#fff" stroke="#000" stroke-width="1.5" stroke-linejoin="round" />
<polyline points="439.9,372.0 516.0,331.0" fill="none" stroke="#000" stroke-width="1.6" stroke-linejoin="round" stroke-linecap="round" />
<polyline points="440.8,362.0 448.3,385.6" fill="none" stroke="#000" stroke-width="1" stroke-linejoin="round" stroke-linecap="round" />
<polyline points="516.0,313.4 519.0,317.0 516.0,331.0" fill="none" stroke="#000" stroke-width="1" stroke-linejoin="round" stroke-linecap="round" />
<polyline points="366.3,381.0 366.3,397.5" fill="none" stroke="#000" stroke-width="2" stroke-linejoin="round" stroke-linecap="round" />
<polyline points="392.7,399.0 392.7,410.7" fill="none" stroke="#000" stroke-width="2" stroke-linejoin="round" stroke-linecap="round" />
<polyline points="420.7,414.0 420.7,428.8" fill="none" stroke="#000" stroke-width="2" stroke-linejoin="round" stroke-linecap="round" />
<path d="M366.3,361.2 L366.3,335.7 Q367.5,329 373,327 L384.4,323.3 Q392,321 400,325 L407.5,334.8" fill="none" stroke="#000" stroke-width="2" stroke-linejoin="round" />
<path d="M369,361 L369,337 Q370,331 375,329.5 L385,326 Q391,324.5 397,328 L404,336" fill="none" stroke="#000" stroke-width="0.8" stroke-linejoin="round" />
<path d="M393.5,408 L393.5,350.5 Q394,343.5 400.9,341.4 L414.1,340.6 Q424,341 433.9,350.5" fill="none" stroke="#000" stroke-width="2" stroke-linejoin="round" />
<path d="M396.3,407 L396.3,352 Q396.5,346 402,344 L414,343.5 Q422,344 431,352" fill="none" stroke="#000" stroke-width="0.8" stroke-linejoin="round" />
<path d="M446,287.5 L459,280.8 Q462,279.5 465,281.3 L487,294 Q490,296.5 487,298.5 L474.5,305 Q471.5,306.5 468.5,304.8 L446,291.8 Q443,289.5 446,287.5 Z" fill="none" stroke="#000" stroke-width="2" stroke-linejoin="round" />
<path d="M449,288.2 L460,282.8 Q462.5,281.8 465,283.3 L484.5,294.5 L473,300.8 Q471,302 468.5,300.8 Z" fill="none" stroke="#000" stroke-width="0.8" stroke-linejoin="round" />
<path d="M474.5,304 L486,297.3 Q489,295.8 492,297.5 L513.5,310.5 Q516.5,312.5 513.5,314.5 L499,322 Q496,323.5 493,321.8 L474.5,310.5 Q471.5,307 474.5,304 Z" fill="none" stroke="#000" stroke-width="2" stroke-linejoin="round" />
<clipPath id="c17"><path d="M385,306.5 L416,288.5 Q419.5,286.8 423,288.8 L435,295.5 Q438,298 435,300.5 L404,318.8 Q400.5,320.5 397,318.5 L384.5,311 Q382,308.5 385,306.5 Z"/></clipPath>
<path d="M385,306.5 L416,288.5 Q419.5,286.8 423,288.8 L435,295.5 Q438,298 435,300.5 L404,318.8 Q400.5,320.5 397,318.5 L384.5,311 Q382,308.5 385,306.5 Z" fill="#fff" stroke="none"/>
<g clip-path="url(#c17)"><path d="M392.1,260.6L455.2,292.2M390.9,263.1L453.9,294.6M389.6,265.5L452.7,297.1M388.4,268.0L451.5,299.5M387.2,270.5L450.3,302.0M385.9,272.9L449.0,304.5M384.7,275.4L447.8,306.9M383.5,277.8L446.6,309.4M382.3,280.3L445.3,311.8M381.0,282.8L444.1,314.3M379.8,285.2L442.9,316.7M378.6,287.7L441.6,319.2M377.3,290.1L440.4,321.7M376.1,292.6L439.2,324.1M374.9,295.0L438.0,326.6M373.6,297.5L436.7,329.0M372.4,300.0L435.5,331.5M371.2,302.4L434.3,334.0M370.0,304.9L433.0,336.4M368.7,307.3L431.8,338.9M367.5,309.8L430.6,341.3M366.3,312.3L429.3,343.8M365.0,314.7L428.1,346.3" stroke="#000" stroke-width="0.8" fill="none"/></g>
<path d="M385,306.5 L416,288.5 Q419.5,286.8 423,288.8 L435,295.5 Q438,298 435,300.5 L404,318.8 Q400.5,320.5 397,318.5 L384.5,311 Q382,308.5 385,306.5 Z" fill="none" stroke="#000" stroke-width="1.8" stroke-linejoin="round" />
<path d="M388,307 L416.5,290.8 L433,298.5 L403,316.5 Z" fill="none" stroke="#000" stroke-width="0.9" stroke-linejoin="round" />
<ellipse cx="388" cy="309" rx="1.5" ry="1.3" transform="rotate(0 388 309)" fill="#000" stroke="none" stroke-width="1"/>
<ellipse cx="395" cy="314" rx="1.5" ry="1.3" transform="rotate(0 395 314)" fill="#000" stroke="none" stroke-width="1"/>
<ellipse cx="402" cy="317" rx="1.5" ry="1.3" transform="rotate(0 402 317)" fill="#000" stroke="none" stroke-width="1"/>
<ellipse cx="411" cy="302" rx="1.5" ry="1.3" transform="rotate(0 411 302)" fill="#000" stroke="none" stroke-width="1"/>
<ellipse cx="421" cy="291" rx="1.5" ry="1.3" transform="rotate(0 421 291)" fill="#000" stroke="none" stroke-width="1"/>
<ellipse cx="428" cy="295" rx="1.5" ry="1.3" transform="rotate(0 428 295)" fill="#000" stroke="none" stroke-width="1"/>
<ellipse cx="433" cy="299" rx="1.5" ry="1.3" transform="rotate(0 433 299)" fill="#000" stroke="none" stroke-width="1"/>
<ellipse cx="424" cy="305" rx="1.5" ry="1.3" transform="rotate(0 424 305)" fill="#000" stroke="none" stroke-width="1"/>
<ellipse cx="413" cy="311" rx="1.5" ry="1.3" transform="rotate(0 413 311)" fill="#000" stroke="none" stroke-width="1"/>
<ellipse cx="400" cy="304" rx="1.5" ry="1.3" transform="rotate(0 400 304)" fill="#000" stroke="none" stroke-width="1"/>
<ellipse cx="407" cy="296" rx="1.5" ry="1.3" transform="rotate(0 407 296)" fill="#000" stroke="none" stroke-width="1"/>
<path d="M396,309 Q393,306 399,304 L403,303" fill="none" stroke="#000" stroke-width="1.8" stroke-linejoin="round" />
<path d="M410,302 Q406,299 412,297 L417,296" fill="none" stroke="#000" stroke-width="1.8" stroke-linejoin="round" />
<path d="M418,295 Q415,292 421,291 L425,290.5" fill="none" stroke="#000" stroke-width="1.4" stroke-linejoin="round" />
<clipPath id="c18"><polygon points="428.5,316.5 439.0,311.0 457.0,323.0 447.0,328.5"/></clipPath>
<polygon points="428.5,316.5 439.0,311.0 457.0,323.0 447.0,328.5" fill="#fff" stroke="none"/>
<g clip-path="url(#c18)"><path d="M446.8,292.1L470.7,320.8M445.1,293.5L469.0,322.2M443.4,294.9L467.3,323.6M441.7,296.3L465.6,325.0M440.0,297.8L463.9,326.4M438.3,299.2L462.2,327.8M436.6,300.6L460.5,329.2M434.9,302.0L458.8,330.6M433.2,303.4L457.1,332.1M431.5,304.8L455.4,333.5M429.9,306.2L453.8,334.9M428.2,307.6L452.1,336.3M426.5,309.0L450.4,337.7M424.8,310.4L448.7,339.1M423.1,311.8L447.0,340.5M421.4,313.2L445.3,341.9M419.7,314.7L443.6,343.3M418.0,316.1L441.9,344.7M416.3,317.5L440.2,346.1" stroke="#000" stroke-width="0.9" fill="none"/></g>
<polygon points="428.5,316.5 439.0,311.0 457.0,323.0 447.0,328.5" fill="none" stroke="#000" stroke-width="1.3" stroke-linejoin="round" />
<polyline points="432.0,315.0 437.0,312.0 441.0,320.0" fill="none" stroke="#000" stroke-width="2" stroke-linejoin="round" stroke-linecap="round" />
<ellipse cx="451" cy="325" rx="2.2" ry="2" transform="rotate(0 451 325)" fill="#111" stroke="#000" stroke-width="1"/>
<polygon points="470.3,350.0 490.0,339.2 493.8,343.0 474.0,354.4" fill="#000" stroke="#000" stroke-width="1.2" stroke-linejoin="round" />
<ellipse cx="500" cy="330" rx="3.2" ry="2.8" transform="rotate(-30 500 330)" fill="#111" stroke="#000" stroke-width="1"/>
<ellipse cx="503.5" cy="327" rx="2.5" ry="2.2" transform="rotate(0 503.5 327)" fill="#111" stroke="#000" stroke-width="1"/>
<ellipse cx="509" cy="324.5" rx="2.2" ry="2" transform="rotate(0 509 324.5)" fill="#111" stroke="#000" stroke-width="1"/>
<ellipse cx="515" cy="323" rx="1.6" ry="1.8" transform="rotate(0 515 323)" fill="#111" stroke="#000" stroke-width="1"/>
<ellipse cx="482" cy="361" rx="1.8" ry="1.6" transform="rotate(0 482 361)" fill="#000" stroke="none" stroke-width="1"/>
<clipPath id="c19"><polygon points="451.0,427.0 531.3,385.6 537.0,389.0 452.0,434.0"/></clipPath>
<polygon points="451.0,427.0 531.3,385.6 537.0,389.0 452.0,434.0" fill="#fff" stroke="none"/>
<g clip-path="url(#c19)"><path d="M502.8,338.8L565.5,413.9M501.1,340.2L563.8,415.4M499.4,341.6L562.1,416.8M497.7,343.0L560.4,418.2M496.0,344.4L558.7,419.6M494.4,345.8L557.0,421.0M492.7,347.2L555.3,422.4M491.0,348.6L553.6,423.8M489.3,350.0L551.9,425.2M487.6,351.4L550.3,426.6M485.9,352.8L548.6,428.0M484.2,354.3L546.9,429.4M482.5,355.7L545.2,430.8M480.8,357.1L543.5,432.3M479.1,358.5L541.8,433.7M477.5,359.9L540.1,435.1M475.8,361.3L538.4,436.5M474.1,362.7L536.7,437.9M472.4,364.1L535.0,439.3M470.7,365.5L533.4,440.7M469.0,366.9L531.7,442.1M467.3,368.3L530.0,443.5M465.6,369.7L528.3,444.9M463.9,371.2L526.6,446.3M462.2,372.6L524.9,447.7M460.6,374.0L523.2,449.2M458.9,375.4L521.5,450.6M457.2,376.8L519.8,452.0M455.5,378.2L518.1,453.4M453.8,379.6L516.5,454.8M452.1,381.0L514.8,456.2M450.4,382.4L513.1,457.6M448.7,383.8L511.4,459.0M447.0,385.2L509.7,460.4M445.3,386.6L508.0,461.8M443.7,388.1L506.3,463.2M442.0,389.5L504.6,464.6M440.3,390.9L502.9,466.1M438.6,392.3L501.2,467.5M436.9,393.7L499.6,468.9M435.2,395.1L497.9,470.3M433.5,396.5L496.2,471.7M431.8,397.9L494.5,473.1M430.1,399.3L492.8,474.5M428.4,400.7L491.1,475.9M426.8,402.1L489.4,477.3M425.1,403.5L487.7,478.7M423.4,405.0L486.0,480.1" stroke="#000" stroke-width="0.9" fill="none"/></g>
<polygon points="451.0,427.0 531.3,385.6 537.0,389.0 452.0,434.0" fill="none" stroke="#000" stroke-width="1" stroke-linejoin="round" />
<rect x="511" y="354" width="5" height="16" fill="#fff" stroke="#000" stroke-width="1.2"/>
<ellipse cx="513.5" cy="353" rx="3.3" ry="2.6" transform="rotate(0 513.5 353)" fill="#fff" stroke="#000" stroke-width="1.3"/>
<ellipse cx="513.7" cy="371" rx="4.2" ry="3" transform="rotate(0 513.7 371)" fill="#222" stroke="#000" stroke-width="1"/>
<polyline points="451.0,386.5 503.0,389.5" fill="none" stroke="#000" stroke-width="1.3" stroke-linejoin="round" stroke-linecap="round" />
<polyline points="451.0,389.0 503.0,385.5" fill="none" stroke="#000" stroke-width="1.3" stroke-linejoin="round" stroke-linecap="round" />
<clipPath id="c20"><ellipse cx="464.7" cy="404.4" rx="5.5" ry="3.2" transform="rotate(-30 464.7 404.4)"/></clipPath>
<ellipse cx="464.7" cy="404.4" rx="5.5" ry="3.2" transform="rotate(-30 464.7 404.4)" fill="#fff" stroke="none"/>
<g clip-path="url(#c20)"><path d="M467.1,388.7L480.6,404.9M465.4,390.1L478.9,406.3M463.7,391.5L477.2,407.7M462.0,392.9L475.5,409.1M460.3,394.3L473.8,410.5M458.6,395.7L472.2,411.9M456.9,397.1L470.5,413.3M455.2,398.5L468.8,414.8M453.6,399.9L467.1,416.2M451.9,401.3L465.4,417.6M450.2,402.8L463.7,419.0" stroke="#000" stroke-width="0.9" fill="none"/></g>
<ellipse cx="464.7" cy="404.4" rx="5.5" ry="3.2" transform="rotate(-30 464.7 404.4)" fill="none" stroke="#000" stroke-width="1.3"/>
<ellipse cx="475.2" cy="398.2" rx="5.5" ry="3" transform="rotate(-30 475.2 398.2)" fill="#fff" stroke="#000" stroke-width="1.3"/>
<clipPath id="c21"><ellipse cx="475.2" cy="398.2" rx="3" ry="1.5" transform="rotate(-30 475.2 398.2)"/></clipPath>
<ellipse cx="475.2" cy="398.2" rx="3" ry="1.5" transform="rotate(-30 475.2 398.2)" fill="#fff" stroke="none"/>
<g clip-path="url(#c21)"><path d="M477.3,387.2L486.4,398.1M475.7,388.7L484.7,399.5M474.0,390.1L483.0,400.9M472.3,391.5L481.3,402.3M470.6,392.9L479.6,403.7M468.9,394.3L477.9,405.1M467.2,395.7L476.2,406.5M465.5,397.1L474.5,407.9" stroke="#000" stroke-width="0.9" fill="none"/></g>
<ellipse cx="475.2" cy="398.2" rx="3" ry="1.5" transform="rotate(-30 475.2 398.2)" fill="none" stroke="#000" stroke-width="0.8"/>
<clipPath id="c22"><ellipse cx="505.4" cy="381.5" rx="5" ry="3" transform="rotate(-30 505.4 381.5)"/></clipPath>
<ellipse cx="505.4" cy="381.5" rx="5" ry="3" transform="rotate(-30 505.4 381.5)" fill="#fff" stroke="none"/>
<g clip-path="url(#c22)"><path d="M506.7,367.5L519.4,382.7M505.1,369.0L517.7,384.1M503.4,370.4L516.0,385.5M501.7,371.8L514.3,386.9M500.0,373.2L512.6,388.3M498.3,374.6L510.9,389.7M496.6,376.0L509.2,391.1M494.9,377.4L507.5,392.5M493.2,378.8L505.9,394.0M491.5,380.2L504.2,395.4" stroke="#000" stroke-width="0.9" fill="none"/></g>
<ellipse cx="505.4" cy="381.5" rx="5" ry="3" transform="rotate(-30 505.4 381.5)" fill="none" stroke="#000" stroke-width="1.2"/>
<polygon points="420.0,389.0 431.0,382.0 434.0,387.0 423.0,394.0" fill="#111" stroke="#000" stroke-width="1" stroke-linejoin="round" />
<ellipse cx="430" cy="384" rx="2.5" ry="2.5" transform="rotate(0 430 384)" fill="#111" stroke="#000" stroke-width="1"/>
<polygon points="447.0,376.5 457.5,378.0 457.5,383.6 447.0,383.0" fill="#fff" stroke="#000" stroke-width="1.2" stroke-linejoin="round" />
<ellipse cx="363" cy="355" rx="1.5" ry="1.5" transform="rotate(0 363 355)" fill="#000" stroke="none" stroke-width="1"/>
<ellipse cx="419" cy="376" rx="1.5" ry="1.5" transform="rotate(0 419 376)" fill="#000" stroke="none" stroke-width="1"/>
<ellipse cx="378.7" cy="418.5" rx="4.6" ry="4.2" transform="rotate(0 378.7 418.5)" fill="#333" stroke="#000" stroke-width="1.2"/>
<ellipse cx="378.7" cy="418.5" rx="2" ry="1.8" transform="rotate(0 378.7 418.5)" fill="#bbb" stroke="none" stroke-width="1"/>
<ellipse cx="512.5" cy="418.5" rx="3.8" ry="3.2" transform="rotate(0 512.5 418.5)" fill="#333" stroke="#000" stroke-width="1.2"/>
<ellipse cx="512.5" cy="418.5" rx="1.6" ry="1.3" transform="rotate(0 512.5 418.5)" fill="#bbb" stroke="none" stroke-width="1"/>
<ellipse cx="512.2" cy="425.8" rx="4.4" ry="3.8" transform="rotate(0 512.2 425.8)" fill="#333" stroke="#000" stroke-width="1.2"/>
<ellipse cx="512.2" cy="425.8" rx="1.8" ry="1.5" transform="rotate(0 512.2 425.8)" fill="#bbb" stroke="none" stroke-width="1"/>
<ellipse cx="467" cy="436.5" rx="4" ry="2.8" transform="rotate(-25 467 436.5)" fill="#fff" stroke="#000" stroke-width="1.4"/>
<ellipse cx="433.5" cy="439.5" rx="4" ry="2.8" transform="rotate(-25 433.5 439.5)" fill="#fff" stroke="#000" stroke-width="1.4"/>
<ellipse cx="522.5" cy="404" rx="4" ry="2.6" transform="rotate(-25 522.5 404)" fill="#fff" stroke="#000" stroke-width="1.4"/>
<polyline points="413.0,206.0 414.2,216.0" fill="none" stroke="#000" stroke-width="2.6" stroke-linejoin="round" stroke-linecap="round" />
<polyline points="413.2,207.0 414.0,215.0" fill="none" stroke="#fff" stroke-width="0.8" stroke-linejoin="round" stroke-linecap="round" />
<ellipse cx="412.8" cy="204.5" rx="3" ry="2" transform="rotate(-10 412.8 204.5)" fill="#fff" stroke="#000" stroke-width="1.1"/>
<ellipse cx="413.3" cy="219.8" rx="2.6" ry="2.2" transform="rotate(0 413.3 219.8)" fill="#333" stroke="#000" stroke-width="1"/>
<polygon points="409.4,230.2 421.1,222.0 437.5,232.5 427.0,239.5" fill="#333" stroke="#000" stroke-width="1.3" stroke-linejoin="round" />
<polygon points="416.0,229.8 422.0,226.3 431.0,232.2 425.0,235.8" fill="#eee" stroke="#000" stroke-width="1" stroke-linejoin="round" />
<ellipse cx="424" cy="251.3" rx="7.6" ry="5.4" transform="rotate(15 424 251.3)" fill="#1a1a1a" stroke="#000" stroke-width="1"/>
<ellipse cx="426.5" cy="250.5" rx="3.6" ry="1.8" transform="rotate(15 426.5 250.5)" fill="#999" stroke="none" stroke-width="1"/>
<polyline points="532.0,314.0 541.0,309.0" fill="none" stroke="#000" stroke-width="3.2" stroke-linejoin="round" stroke-linecap="round" />
<polyline points="533.0,313.4 540.0,309.6" fill="none" stroke="#fff" stroke-width="1" stroke-linejoin="round" stroke-linecap="round" stroke-dasharray="1 1"/>
<ellipse cx="542.8" cy="308.3" rx="2.7" ry="2.5" transform="rotate(-20 542.8 308.3)" fill="#333" stroke="#000" stroke-width="1.2"/>
<path d="M551.5,335 Q551,333 555,333.5 L560,334.5 L567,334 Q570,330 571,327 Q573,325.5 574.5,327.5 Q575,335 569,341 Q565,344 559,343.5 Q553,341 551.5,335 Z" fill="#fff" stroke="#000" stroke-width="2" stroke-linejoin="round" />
<polygon points="560.0,334.5 567.0,334.0 567.0,343.0 560.0,343.0" fill="#444" stroke="#000" stroke-width="1" stroke-linejoin="round" />
<polyline points="563.5,335.0 563.5,343.0" fill="none" stroke="#fff" stroke-width="1.2" stroke-linejoin="round" stroke-linecap="round" />
<polygon points="561.0,349.0 566.0,349.0 566.0,366.0 561.0,366.0" fill="#fff" stroke="#000" stroke-width="1.6" stroke-linejoin="round" />
<polyline points="561.5,352.0 565.5,353.0" fill="none" stroke="#000" stroke-width="0.9" stroke-linejoin="round" stroke-linecap="round" />
<polyline points="561.5,355.0 565.5,356.0" fill="none" stroke="#000" stroke-width="0.9" stroke-linejoin="round" stroke-linecap="round" />
<polyline points="561.5,358.0 565.5,359.0" fill="none" stroke="#000" stroke-width="0.9" stroke-linejoin="round" stroke-linecap="round" />
<polyline points="561.5,361.0 565.5,362.0" fill="none" stroke="#000" stroke-width="0.9" stroke-linejoin="round" stroke-linecap="round" />
<polyline points="561.5,364.0 565.5,365.0" fill="none" stroke="#000" stroke-width="0.9" stroke-linejoin="round" stroke-linecap="round" />
<ellipse cx="563.5" cy="349" rx="3.2" ry="2" transform="rotate(0 563.5 349)" fill="#fff" stroke="#000" stroke-width="1.5"/>
<polygon points="558.7,366.0 563.5,364.5 568.4,366.0 568.4,371.0 563.5,373.0 558.7,371.0" fill="#fff" stroke="#000" stroke-width="1.8" stroke-linejoin="round" />
<polyline points="561.0,366.5 561.0,372.0" fill="none" stroke="#000" stroke-width="1" stroke-linejoin="round" stroke-linecap="round" />
<polyline points="566.0,366.5 566.0,372.0" fill="none" stroke="#000" stroke-width="1" stroke-linejoin="round" stroke-linecap="round" />
<polyline points="580.0,356.0 589.0,346.5" fill="none" stroke="#000" stroke-width="3.2" stroke-linejoin="round" stroke-linecap="round" />
<polyline points="580.5,355.5 588.5,347.0" fill="none" stroke="#fff" stroke-width="1" stroke-linejoin="round" stroke-linecap="round" stroke-dasharray="1 1"/>
<polyline points="571.0,357.0 581.0,362.5" fill="none" stroke="#000" stroke-width="5" stroke-linejoin="round" stroke-linecap="round" />
<polyline points="571.5,357.3 580.5,362.2" fill="none" stroke="#fff" stroke-width="2.6" stroke-linejoin="round" stroke-linecap="round" />
<polyline points="572.5,356.5 571.5,359.0" fill="none" stroke="#000" stroke-width="0.8" stroke-linejoin="round" stroke-linecap="round" />
<polyline points="574.7,357.7 573.7,360.2" fill="none" stroke="#000" stroke-width="0.8" stroke-linejoin="round" stroke-linecap="round" />
<polyline points="576.9,358.9 575.9,361.4" fill="none" stroke="#000" stroke-width="0.8" stroke-linejoin="round" stroke-linecap="round" />
<polyline points="579.1,360.1 578.1,362.6" fill="none" stroke="#000" stroke-width="0.8" stroke-linejoin="round" stroke-linecap="round" />
<polygon points="579.5,360.0 583.5,358.8 587.6,362.0 587.6,366.0 583.5,367.9 579.5,365.0" fill="#fff" stroke="#000" stroke-width="1.8" stroke-linejoin="round" />
<polyline points="583.5,359.5 583.5,367.0" fill="none" stroke="#000" stroke-width="1" stroke-linejoin="round" stroke-linecap="round" />
<clipPath id="c23"><polygon points="619.7,461.8 623.0,459.3 722.7,498.9 722.7,507.0 710.3,513.7 620.0,466.0"/></clipPath>
<polygon points="619.7,461.8 623.0,459.3 722.7,498.9 722.7,507.0 710.3,513.7 620.0,466.0" fill="#fff" stroke="none"/>
<g clip-path="url(#c23)"><path d="M641.5,411.9L643.8,413.1L645.6,415.1L647.7,416.6L650.1,417.4L652.4,418.6L654.7,419.7L657.3,420.2L659.6,421.3L661.5,423.2L663.6,424.7L665.9,425.8L668.0,427.3L670.3,428.3L673.0,428.7L675.4,429.8L677.4,431.4L679.6,432.6L681.8,434.0L683.7,435.9L686.0,436.9L688.6,437.4L691.0,438.5L693.2,439.7L695.6,440.6L697.7,442.2L699.5,444.1L701.8,445.3L704.2,446.1L706.5,447.3L708.9,448.1L711.5,448.8L713.5,450.4L715.4,452.2L717.7,453.4L719.9,454.7L722.0,456.1L724.6,456.7L727.2,457.2L729.3,458.7L731.4,460.2L733.7,461.4L735.7,463.1L737.7,464.7L740.3,465.3L742.8,466.0L745.0,467.3L747.4,468.3L749.7,469.4M640.6,413.6L642.8,414.9L644.6,417.0L646.8,418.3L649.3,419.0L651.6,420.1L653.9,421.1L656.5,421.7L658.7,423.1L660.5,425.1L662.7,426.4L665.0,427.5L667.1,428.9L669.6,429.8L672.3,430.2L674.5,431.5L676.5,433.1L678.7,434.4L680.8,435.8L682.8,437.6L685.2,438.4L687.9,438.8L690.1,440.0L692.4,441.3L694.7,442.3L696.7,444.0L698.6,445.9L701.0,446.8L703.4,447.6L705.7,448.8L708.2,449.6L710.6,450.4L712.6,452.2L714.5,454.0L716.8,455.1L719.0,456.3L721.2,457.6L723.9,458.1L726.4,458.8L728.4,460.5L730.5,462.0L732.7,463.2L734.7,464.9L736.9,466.3L739.5,466.7L742.0,467.5L744.2,468.9L746.5,469.9L748.7,471.2M639.6,415.6L641.6,417.1L643.5,419.0L645.8,420.2L648.4,420.8L650.6,421.9L653.0,422.9L655.5,423.6L657.5,425.2L659.4,427.2L661.6,428.4L664.0,429.4L666.2,430.7L668.7,431.5L671.3,432.0L673.4,433.5L675.4,435.2L677.6,436.4L679.7,437.9L681.8,439.4L684.3,440.1L686.9,440.6L689.1,442.0L691.3,443.2L693.6,444.4L695.5,446.2L697.5,447.9L700.0,448.6L702.5,449.4L704.7,450.6L707.2,451.4L709.5,452.4L711.4,454.4L713.4,456.1L715.8,457.0L718.0,458.2L720.3,459.4L722.9,459.8L725.4,460.7L727.3,462.5L729.4,464.0L731.6,465.2L733.7,466.9L735.9,468.0L738.6,468.4L741.0,469.3L743.1,470.8L745.4,472.0L747.6,473.3M638.8,417.0L640.9,418.6L642.8,420.4L645.2,421.3L647.8,421.9L650.0,423.0L652.4,424.1L654.8,425.0L656.7,426.7L658.6,428.6L661.0,429.7L663.3,430.6L665.6,431.9L668.1,432.5L670.6,433.2L672.6,434.9L674.6,436.6L676.9,437.8L679.0,439.2L681.1,440.6L683.8,441.1L686.3,441.8L688.4,443.3L690.6,444.6L692.8,445.8L694.7,447.6L696.8,449.2L699.4,449.7L701.9,450.5L704.1,451.8L706.5,452.7L708.8,453.9L710.6,455.9L712.7,457.4L715.1,458.2L717.4,459.4L719.7,460.5L722.3,461.0L724.6,462.1L726.5,464.0L728.6,465.4L730.9,466.6L733.0,468.1L735.3,469.1L738.0,469.5L740.4,470.6L742.4,472.2L744.7,473.3L746.8,474.8M637.6,419.2L639.7,420.8L641.7,422.5L644.2,423.2L646.8,423.8L649.0,425.0L651.3,426.1L653.6,427.2L655.5,429.0L657.5,430.8L659.9,431.6L662.3,432.6L664.6,433.8L667.1,434.4L669.5,435.3L671.4,437.2L673.4,438.8L675.7,439.9L677.9,441.3L680.1,442.5L682.8,442.9L685.3,443.7L687.3,445.4L689.4,446.8L691.6,448.0L693.6,449.8L695.8,451.1L698.4,451.6L700.9,452.5L703.0,453.8L705.4,454.8L707.6,456.1L709.4,458.1L711.6,459.5L714.1,460.2L716.4,461.3L718.7,462.3L721.3,462.9L723.5,464.3L725.3,466.3L727.5,467.6L729.8,468.7L731.9,470.1L734.4,471.0L737.0,471.4L739.3,472.6L741.3,474.3L743.5,475.5L745.6,477.0M637.0,420.4L639.0,422.0L641.1,423.5L643.7,424.0L646.3,424.7L648.4,426.0L650.7,427.2L653.0,428.4L654.9,430.3L656.9,431.9L659.4,432.6L661.8,433.5L664.1,434.7L666.6,435.4L668.9,436.5L670.7,438.4L672.8,440.0L675.2,441.0L677.4,442.3L679.7,443.4L682.4,443.8L684.7,444.8L686.6,446.6L688.8,448.0L691.0,449.2L693.0,450.9L695.3,452.0L698.0,452.4L700.4,453.4L702.5,454.8L704.8,455.9L706.9,457.4L708.8,459.3L711.0,460.5L713.6,461.1L715.9,462.2L718.2,463.2L720.8,464.0L722.8,465.5L724.7,467.5L726.9,468.7L729.2,469.7L731.4,471.1L733.9,471.8L736.5,472.3L738.6,473.8L740.6,475.5L742.9,476.7L745.0,478.2M635.9,422.5L637.9,424.0L640.1,425.3L642.8,425.7L645.3,426.5L647.4,428.0L649.6,429.2L651.8,430.5L653.7,432.4L655.9,433.8L658.5,434.4L660.8,435.3L663.1,436.5L665.6,437.3L667.8,438.6L669.6,440.6L671.7,442.1L674.1,442.9L676.4,444.2L678.7,445.1L681.4,445.6L683.6,446.9L685.5,448.7L687.7,450.1L689.9,451.3L691.9,452.9L694.4,453.8L697.1,454.2L699.3,455.4L701.4,456.9L703.7,458.0L705.8,459.6L707.7,461.4L710.1,462.3L712.6,462.9L714.9,464.1L717.3,465.1L719.7,466.0L721.6,467.7L723.5,469.6L725.9,470.7L728.2,471.6L730.5,472.9L733.0,473.6L735.5,474.2L737.5,475.9L739.5,477.6L741.8,478.8L743.9,480.2M634.9,424.3L637.0,425.7L639.3,426.9L642.0,427.2L644.4,428.2L646.4,429.8L648.7,431.1L650.8,432.4L652.7,434.3L655.0,435.4L657.6,435.9L660.0,436.9L662.2,438.1L664.6,439.0L666.7,440.5L668.6,442.5L670.8,443.8L673.3,444.6L675.5,445.8L677.9,446.7L680.5,447.2L682.6,448.7L684.5,450.6L686.7,451.9L689.0,453.1L691.1,454.6L693.6,455.3L696.2,455.7L698.4,457.1L700.5,458.7L702.7,459.8L704.7,461.4L706.7,463.2L709.2,463.9L711.8,464.4L714.1,465.7L716.4,466.8L718.7,467.8L720.6,469.7L722.5,471.5L725.0,472.3L727.4,473.2L729.6,474.4L732.2,475.1L734.6,476.0L736.5,477.8L738.5,479.5L740.8,480.6L743.0,482.0M634.1,425.8L636.3,427.2L638.7,428.1L641.3,428.5L643.6,429.7L645.6,431.4L647.8,432.7L650.0,434.1L651.9,435.8L654.3,436.8L657.0,437.2L659.3,438.3L661.5,439.6L663.8,440.6L665.8,442.2L667.7,444.2L670.0,445.2L672.6,445.9L674.8,447.1L677.2,448.0L679.7,448.7L681.7,450.4L683.6,452.3L685.9,453.4L688.2,454.6L690.3,455.9L692.9,456.5L695.5,457.1L697.6,458.7L699.6,460.3L701.9,461.5L703.9,463.1L706.0,464.6L708.6,465.1L711.1,465.8L713.3,467.1L715.6,468.3L717.8,469.4L719.7,471.4L721.7,473.0L724.3,473.7L726.7,474.6L728.9,475.8L731.4,476.5L733.8,477.6L735.6,479.5L737.6,481.1L740.0,482.1L742.2,483.4M632.9,428.0L635.1,429.4L637.6,430.2L640.2,430.7L642.4,432.0L644.3,433.8L646.5,435.1L648.7,436.5L650.7,438.1L653.2,438.8L655.8,439.3L658.1,440.6L660.2,441.9L662.5,443.0L664.5,444.7L666.4,446.5L668.9,447.4L671.4,448.0L673.7,449.3L676.1,450.2L678.5,451.1L680.4,452.9L682.3,454.7L684.7,455.7L687.0,456.8L689.2,458.0L691.8,458.6L694.3,459.4L696.3,461.1L698.3,462.7L700.6,463.9L702.6,465.4L704.8,466.8L707.5,467.2L710.0,467.9L712.1,469.4L714.3,470.6L716.5,471.9L718.4,473.8L720.5,475.2L723.1,475.8L725.5,476.7L727.8,477.9L730.2,478.7L732.5,480.0L734.3,482.0L736.4,483.5L738.8,484.3L741.0,485.6M632.3,429.2L634.5,430.5L637.0,431.2L639.6,431.8L641.6,433.4L643.5,435.2L645.8,436.4L648.0,437.8L650.1,439.2L652.7,439.8L655.3,440.4L657.4,441.8L659.5,443.2L661.8,444.4L663.7,446.2L665.8,447.8L668.3,448.4L670.8,449.1L673.1,450.4L675.4,451.4L677.8,452.4L679.6,454.4L681.6,456.1L684.0,456.9L686.4,458.0L688.7,459.1L691.2,459.7L693.6,460.6L695.5,462.5L697.6,464.1L699.9,465.2L702.0,466.7L704.2,467.8L706.9,468.2L709.3,469.1L711.4,470.7L713.6,472.0L715.8,473.3L717.7,475.2L719.9,476.4L722.6,476.9L724.9,477.9L727.2,479.1L729.6,480.0L731.7,481.4L733.5,483.5L735.7,484.7L738.2,485.5L740.4,486.7M631.2,431.3L633.4,432.5L635.9,433.2L638.4,434.0L640.4,435.8L642.3,437.6L644.6,438.7L646.8,440.0L649.0,441.3L651.6,441.8L654.2,442.5L656.2,444.1L658.3,445.5L660.6,446.7L662.5,448.5L664.7,449.9L667.3,450.4L669.8,451.2L671.9,452.5L674.3,453.5L676.5,454.8L678.3,456.8L680.4,458.3L683.0,459.0L685.3,460.0L687.6,461.1L690.2,461.7L692.4,462.9L694.2,464.9L696.4,466.3L698.7,467.4L700.8,468.8L703.2,469.8L705.9,470.2L708.2,471.3L710.2,473.0L712.4,474.3L714.5,475.7L716.5,477.4L718.9,478.4L721.5,478.8L723.8,479.9L726.0,481.2L728.4,482.2L730.4,483.8L732.3,485.8L734.6,486.8L737.1,487.5L739.4,488.7M630.3,433.0L632.5,434.2L635.0,435.0L637.4,435.9L639.3,437.9L641.3,439.5L643.6,440.5L645.8,441.8L648.1,442.9L650.8,443.4L653.2,444.3L655.1,446.0L657.3,447.5L659.5,448.7L661.5,450.4L663.7,451.6L666.4,452.0L668.8,452.9L671.0,454.3L673.3,455.4L675.4,456.8L677.3,458.8L679.5,460.1L682.1,460.7L684.4,461.7L686.7,462.8L689.2,463.5L691.3,464.9L693.2,467.0L695.3,468.3L697.7,469.2L699.9,470.6L702.3,471.4L705.0,471.9L707.2,473.2L709.1,475.0L711.3,476.3L713.5,477.7L715.5,479.3L718.0,480.0L720.6,480.5L722.9,481.7L725.0,483.1L727.3,484.2L729.3,485.9L731.2,487.7L733.7,488.6L736.2,489.2L738.5,490.5M629.9,433.8L632.1,435.0L634.5,435.9L636.8,437.1L638.6,439.1L640.7,440.6L643.1,441.5L645.4,442.7L647.7,443.7L650.3,444.2L652.6,445.3L654.5,447.2L656.7,448.6L658.9,449.8L661.0,451.4L663.3,452.4L666.0,452.8L668.3,453.8L670.4,455.4L672.7,456.5L674.8,458.0L676.7,459.9L679.0,460.9L681.6,461.5L683.9,462.6L686.2,463.7L688.7,464.5L690.7,466.1L692.5,468.1L694.8,469.2L697.2,470.1L699.5,471.4L701.9,472.2L704.5,472.8L706.6,474.3L708.5,476.1L710.8,477.3L712.9,478.7L715.0,480.2L717.6,480.8L720.2,481.3L722.3,482.7L724.5,484.1L726.7,485.3L728.7,487.1L730.7,488.7L733.3,489.4L735.8,490.1L738.0,491.3M628.7,436.0L630.9,437.3L633.3,438.2L635.5,439.6L637.3,441.6L639.4,443.0L641.9,443.7L644.2,444.9L646.6,445.9L649.2,446.4L651.3,447.8L653.2,449.7L655.4,451.0L657.7,452.2L659.8,453.7L662.2,454.5L664.9,454.9L667.1,456.2L669.1,457.8L671.4,459.0L673.5,460.5L675.4,462.3L677.9,463.1L680.5,463.6L682.7,464.8L685.0,466.0L687.4,466.9L689.3,468.7L691.2,470.6L693.6,471.5L696.1,472.4L698.3,473.6L700.8,474.3L703.3,475.1L705.2,476.8L707.2,478.6L709.5,479.7L711.7,481.0L713.9,482.4L716.5,482.9L719.0,483.5L721.1,485.1L723.2,486.6L725.4,487.8L727.4,489.5L729.5,491.0L732.1,491.5L734.6,492.2L736.8,493.6M627.9,437.5L630.1,438.9L632.4,439.9L634.5,441.4L636.3,443.4L638.6,444.5L641.2,445.2L643.4,446.3L645.8,447.3L648.3,448.0L650.4,449.5L652.2,451.5L654.5,452.7L656.8,453.8L659.0,455.2L661.5,455.9L664.1,456.4L666.2,457.8L668.2,459.5L670.5,460.7L672.5,462.2L674.6,463.8L677.1,464.5L679.7,465.0L681.9,466.3L684.2,467.6L686.5,468.7L688.4,470.5L690.3,472.2L692.8,473.0L695.3,473.8L697.5,475.0L700.0,475.8L702.4,476.8L704.3,478.7L706.3,480.4L708.6,481.4L710.8,482.6L713.1,483.8L715.8,484.2L718.2,485.1L720.1,486.8L722.3,488.3L724.5,489.5L726.5,491.2L728.7,492.4L731.4,492.8L733.8,493.7L736.0,495.2M627.1,439.0L629.2,440.4L631.5,441.5L633.6,443.1L635.5,445.0L637.9,445.9L640.4,446.6L642.7,447.7L645.1,448.7L647.5,449.5L649.5,451.3L651.3,453.2L653.7,454.2L656.0,455.3L658.2,456.6L660.8,457.2L663.3,457.8L665.3,459.5L667.3,461.2L669.6,462.4L671.7,463.9L673.8,465.3L676.4,465.8L679.0,466.4L681.1,467.9L683.3,469.2L685.6,470.4L687.5,472.2L689.5,473.8L692.1,474.4L694.5,475.2L696.8,476.4L699.2,477.3L701.5,478.4L703.3,480.4L705.4,482.0L707.8,482.9L710.1,484.1L712.4,485.1L715.0,485.6L717.3,486.7L719.2,488.6L721.4,490.0L723.6,491.2L725.7,492.8L728.0,493.8L730.7,494.2L733.0,495.2L735.1,496.7M626.5,440.0L628.6,441.5L630.9,442.7L632.9,444.4L634.9,446.1L637.4,446.8L640.0,447.4L642.2,448.7L644.5,449.7L646.9,450.7L648.8,452.6L650.7,454.3L653.1,455.2L655.5,456.2L657.8,457.4L660.3,458.0L662.8,458.9L664.7,460.7L666.7,462.4L669.0,463.5L671.1,464.9L673.3,466.2L676.0,466.6L678.5,467.4L680.5,469.0L682.7,470.3L684.9,471.6L686.8,473.4L689.0,474.7L691.6,475.2L694.1,476.1L696.3,477.4L698.7,478.3L700.9,479.6L702.7,481.7L704.8,483.1L707.3,483.8L709.6,485.0L711.9,486.0L714.5,486.5L716.7,487.8L718.6,489.8L720.8,491.1L723.0,492.3L725.1,493.8L727.6,494.6L730.3,495.0L732.5,496.3L734.5,497.9M625.4,442.2L627.5,443.8L629.7,444.9L631.7,446.6L633.8,448.2L636.4,448.7L638.9,449.4L641.1,450.7L643.4,451.8L645.7,452.9L647.5,454.9L649.6,456.5L652.1,457.3L654.5,458.2L656.7,459.4L659.3,460.0L661.6,461.1L663.4,463.0L665.5,464.6L667.8,465.6L670.0,467.0L672.3,468.1L675.0,468.5L677.4,469.5L679.3,471.2L681.5,472.5L683.7,473.8L685.7,475.6L688.0,476.7L690.6,477.1L693.0,478.1L695.2,479.5L697.5,480.5L699.6,482.0L701.4,484.0L703.7,485.1L706.3,485.8L708.5,487.0L710.9,487.9L713.4,488.6L715.5,490.1L717.4,492.1L719.6,493.3L721.9,494.4L724.1,495.8L726.6,496.5L729.2,497.0L731.3,498.4L733.3,500.1M624.3,444.2L626.4,445.7L628.7,446.9L630.7,448.6L632.9,449.9L635.5,450.3L638.0,451.1L640.1,452.6L642.4,453.7L644.6,455.0L646.5,456.9L648.6,458.4L651.2,459.0L653.5,459.9L655.8,461.1L658.3,461.8L660.5,463.1L662.3,465.1L664.5,466.5L666.9,467.5L669.1,468.8L671.4,469.7L674.1,470.2L676.3,471.4L678.3,473.2L680.5,474.5L682.7,475.8L684.7,477.5L687.1,478.4L689.8,478.8L692.0,479.9L694.2,481.3L696.5,482.4L698.5,484.0L700.4,485.9L702.8,486.9L705.3,487.5L707.6,488.7L710.0,489.7L712.4,490.5L714.4,492.2L716.3,494.1L718.6,495.2L720.9,496.2L723.2,497.5L725.7,498.1L728.3,498.8L730.3,500.4L732.3,502.1M623.5,445.7L625.6,447.2L627.9,448.4L629.9,449.9L632.2,451.1L634.9,451.5L637.3,452.4L639.4,453.9L641.6,455.1L643.8,456.5L645.7,458.4L647.9,459.6L650.5,460.1L652.9,461.1L655.2,462.3L657.6,463.2L659.7,464.6L661.5,466.7L663.7,467.9L666.2,468.8L668.4,470.0L670.8,470.9L673.4,471.4L675.6,472.8L677.5,474.7L679.7,476.0L681.9,477.3L684.0,478.8L686.5,479.5L689.1,479.9L691.3,481.3L693.4,482.8L695.7,483.9L697.7,485.6L699.7,487.3L702.2,488.1L704.7,488.7L707.0,489.9L709.3,490.9L711.7,491.9L713.6,493.8L715.5,495.6L717.9,496.5L720.3,497.5L722.5,498.7L725.1,499.3L727.5,500.1L729.5,501.9L731.5,503.6M622.6,447.5L624.7,449.0L627.0,450.1L629.1,451.5L631.5,452.5L634.2,452.9L636.5,454.0L638.5,455.6L640.7,456.9L642.8,458.3L644.8,460.1L647.1,461.1L649.8,461.5L652.1,462.7L654.3,463.9L656.7,464.8L658.7,466.5L660.6,468.4L662.9,469.5L665.4,470.3L667.6,471.5L670.1,472.3L672.6,473.0L674.6,474.6L676.5,476.5L678.8,477.7L681.0,478.9L683.2,480.3L685.8,480.9L688.3,481.4L690.4,482.9L692.5,484.5L694.8,485.7L696.8,487.3L698.8,488.9L701.4,489.5L704.0,490.1L706.1,491.5L708.5,492.5L710.7,493.7L712.6,495.6L714.6,497.3L717.1,498.0L719.5,499.0L721.8,500.1L724.3,500.8L726.6,501.8L728.5,503.8L730.5,505.3M621.5,449.5L623.7,450.8L626.1,451.8L628.2,453.2L630.7,454.0L633.3,454.5L635.5,455.8L637.5,457.5L639.7,458.8L641.8,460.2L643.8,461.9L646.3,462.6L649.0,463.1L651.2,464.4L653.4,465.7L655.7,466.7L657.7,468.5L659.6,470.3L662.0,471.1L664.5,471.9L666.8,473.1L669.2,473.9L671.6,474.8L673.6,476.6L675.5,478.4L677.8,479.5L680.1,480.6L682.3,481.9L684.9,482.4L687.4,483.1L689.4,484.8L691.5,486.4L693.7,487.6L695.8,489.2L697.9,490.6L700.6,491.0L703.1,491.8L705.2,493.2L707.5,494.3L709.7,495.6L711.6,497.6L713.7,499.0L716.2,499.6L718.6,500.6L720.9,501.7L723.4,502.5L725.6,503.7L727.4,505.7L729.6,507.2M620.6,451.3L622.8,452.5L625.2,453.4L627.4,454.7L629.9,455.4L632.5,456.0L634.6,457.6L636.5,459.3L638.8,460.5L640.9,461.9L643.0,463.5L645.6,464.0L648.2,464.6L650.3,466.0L652.5,467.3L654.8,468.5L656.7,470.3L658.7,472.0L661.2,472.6L663.7,473.4L666.0,474.6L668.4,475.5L670.7,476.5L672.6,478.5L674.6,480.2L677.0,481.1L679.3,482.2L681.6,483.3L684.2,483.8L686.6,484.8L688.5,486.6L690.6,488.1L692.8,489.3L694.9,490.9L697.2,492.0L699.8,492.4L702.3,493.3L704.3,494.9L706.6,496.1L708.7,497.4L710.6,499.3L712.9,500.6L715.5,501.1L717.8,502.1L720.1,503.3L722.5,504.1L724.7,505.5L726.5,507.6L728.7,508.8M619.3,453.7L621.7,454.6L624.1,455.5L626.3,456.8L628.8,457.5L631.3,458.2L633.3,459.9L635.3,461.7L637.5,462.8L639.7,464.2L641.9,465.5L644.5,466.0L647.1,466.7L649.1,468.2L651.3,469.6L653.5,470.9L655.4,472.7L657.6,474.1L660.2,474.6L662.6,475.4L664.8,476.7L667.2,477.7L669.5,478.9L671.3,480.9L673.4,482.4L675.8,483.2L678.2,484.3L680.5,485.4L683.1,485.9L685.3,487.1L687.2,489.0L689.3,490.5L691.6,491.6L693.7,493.1L696.1,494.0L698.8,494.4L701.1,495.5L703.1,497.2L705.3,498.4L707.5,499.8L709.4,501.6L711.7,502.6L714.4,503.1L716.7,504.2L718.9,505.4L721.3,506.4L723.4,508.0L725.2,509.9L727.5,511.0M618.6,455.0L621.1,455.8L623.5,456.7L625.7,457.9L628.3,458.6L630.6,459.5L632.5,461.4L634.5,463.1L636.9,464.1L639.1,465.4L641.3,466.6L644.0,467.0L646.4,467.9L648.4,469.6L650.5,471.0L652.8,472.3L654.7,474.0L657.0,475.2L659.6,475.7L662.0,476.6L664.2,477.9L666.5,479.0L668.7,480.3L670.5,482.3L672.7,483.7L675.3,484.3L677.6,485.4L679.9,486.4L682.4,487.1L684.6,488.5L686.4,490.5L688.6,491.8L690.9,492.8L693.1,494.2L695.5,495.1L698.2,495.5L700.4,496.8L702.4,498.5L704.6,499.8L706.7,501.2L708.7,502.9L711.2,503.7L713.8,504.1L716.1,505.4L718.3,506.7L720.6,507.7L722.6,509.4L724.5,511.3L726.9,512.2M617.7,456.8L620.2,457.4L622.6,458.3L624.9,459.5L627.4,460.2L629.6,461.4L631.5,463.4L633.5,464.9L635.9,465.9L638.2,467.1L640.5,468.2L643.1,468.6L645.5,469.7L647.4,471.5L649.5,472.9L651.8,474.1L653.8,475.8L656.1,476.8L658.8,477.2L661.1,478.2L663.3,479.7L665.6,480.8L667.7,482.3L669.5,484.2L671.8,485.3L674.4,485.9L676.7,487.0L679.0,488.1L681.5,488.9L683.6,490.4L685.4,492.4L687.7,493.6L690.0,494.6L692.2,495.9L694.7,496.6L697.3,497.2L699.4,498.7L701.4,500.4L703.6,501.6L705.7,503.1L707.8,504.6L710.4,505.2L713.0,505.7L715.1,507.1L717.3,508.5L719.6,509.6L721.5,511.4L723.5,513.1L726.1,513.8M616.7,458.6L619.3,459.1L621.7,460.0L623.9,461.3L626.4,462.1L628.5,463.5L630.3,465.5L632.5,466.9L635.0,467.7L637.2,468.9L639.6,469.9L642.2,470.4L644.4,471.7L646.3,473.6L648.5,474.9L650.7,476.1L652.8,477.7L655.2,478.5L657.9,478.9L660.1,480.1L662.2,481.7L664.5,482.8L666.5,484.4L668.5,486.2L670.9,487.1L673.5,487.6L675.8,488.8L678.1,489.9L680.5,490.8L682.4,492.6L684.3,494.5L686.7,495.5L689.1,496.4L691.3,497.6L693.8,498.3L696.3,499.0L698.3,500.8L700.3,502.5L702.5,503.6L704.7,505.0L706.9,506.4L709.5,506.9L712.0,507.5L714.1,509.1L716.3,510.5L718.5,511.7L720.4,513.5L722.5,515.0L725.1,515.5M615.7,460.5L618.3,460.9L620.7,461.9L622.9,463.2L625.3,464.1L627.4,465.7L629.2,467.7L631.5,468.8L634.0,469.6L636.2,470.7L638.6,471.7L641.2,472.3L643.3,473.8L645.1,475.8L647.4,477.0L649.6,478.2L651.8,479.6L654.3,480.3L656.9,480.7L659.1,482.2L661.1,483.8L663.3,485.0L665.4,486.6L667.4,488.2L669.9,488.9L672.5,489.4L674.7,490.7L677.0,491.9L679.3,492.9L681.2,494.8L683.2,496.6L685.7,497.4L688.1,498.2L690.3,499.4L692.8,500.1L695.2,501.1L697.1,503.0L699.1,504.6L701.5,505.7L703.7,507.0L705.9,508.2L708.6,508.6L711.0,509.5L713.0,511.2L715.1,512.6L717.4,513.8L719.3,515.6L721.5,516.8L724.2,517.3M615.2,461.3L617.9,461.7L620.2,462.9L622.4,464.2L624.7,465.3L626.7,466.9L628.6,468.8L631.0,469.8L633.5,470.4L635.8,471.6L638.2,472.6L640.6,473.3L642.6,475.1L644.5,477.0L646.8,478.0L649.1,479.1L651.3,480.5L653.9,481.1L656.4,481.7L658.5,483.3L660.5,484.9L662.7,486.1L664.8,487.7L666.9,489.2L669.5,489.7L672.1,490.3L674.2,491.7L676.5,492.9L678.7,494.1L680.6,496.0L682.6,497.6L685.2,498.2L687.6,499.1L689.9,500.3L692.3,501.1L694.6,502.2L696.5,504.2L698.5,505.8L700.9,506.7L703.1,508.0L705.5,509.0L708.1,509.5L710.5,510.5L712.4,512.3L714.5,513.7L716.7,515.0L718.8,516.6L721.1,517.7L723.8,518.1M614.6,462.5L617.2,463.0L619.4,464.3L621.6,465.7L623.9,466.8L625.8,468.5L627.8,470.3L630.3,471.1L632.8,471.7L635.1,472.9L637.4,473.9L639.8,474.9L641.7,476.7L643.7,478.5L646.0,479.5L648.4,480.5L650.6,481.7L653.2,482.3L655.7,483.1L657.6,484.9L659.6,486.5L661.9,487.7L664.0,489.2L666.2,490.4L668.9,490.9L671.4,491.6L673.4,493.2L675.6,494.4L677.9,495.7L679.7,497.6L681.9,499.0L684.5,499.5L686.9,500.4L689.2,501.6L691.6,502.5L693.8,503.8L695.6,505.8L697.7,507.2L700.2,508.1L702.4,509.3L704.8,510.3L707.4,510.8L709.6,512.0L711.5,513.9L713.7,515.3L715.9,516.5L718.0,518.0L720.4,518.9L723.1,519.3M613.3,464.9L615.9,465.4L618.0,466.9L620.1,468.4L622.4,469.6L624.4,471.3L626.4,472.9L629.0,473.5L631.5,474.2L633.7,475.5L636.1,476.5L638.4,477.6L640.2,479.6L642.2,481.2L644.7,482.0L647.0,483.0L649.3,484.2L651.9,484.8L654.2,485.8L656.1,487.7L658.2,489.3L660.5,490.3L662.6,491.8L664.9,492.9L667.6,493.3L670.0,494.2L672.0,495.9L674.2,497.2L676.4,498.5L678.3,500.3L680.6,501.5L683.2,501.9L685.6,502.9L687.8,504.2L690.2,505.1L692.3,506.6L694.1,508.6L696.4,509.8L698.9,510.6L701.1,511.8L703.5,512.7L706.1,513.3L708.2,514.8L710.0,516.7L712.3,518.0L714.5,519.1L716.7,520.6L719.2,521.3L721.8,521.8M612.6,466.2L615.1,466.9L617.1,468.6L619.2,470.1L621.5,471.3L623.5,473.0L625.6,474.4L628.3,474.8L630.8,475.6L632.9,477.0L635.2,478.1L637.4,479.3L639.3,481.3L641.4,482.8L643.9,483.4L646.3,484.4L648.6,485.5L651.1,486.2L653.4,487.5L655.2,489.5L657.3,490.9L659.7,491.9L661.8,493.3L664.2,494.2L666.9,494.6L669.2,495.8L671.1,497.6L673.3,498.8L675.5,500.2L677.5,501.9L679.9,502.8L682.5,503.2L684.8,504.4L687.0,505.7L689.3,506.8L691.4,508.4L693.2,510.3L695.6,511.3L698.1,512.0L700.4,513.2L702.8,514.1L705.3,514.9L707.2,516.5L709.1,518.5L711.4,519.6L713.7,520.7L715.9,522.0L718.5,522.6L721.0,523.2M611.9,467.6L614.3,468.6L616.2,470.4L618.3,471.9L620.6,473.1L622.6,474.7L624.8,475.8L627.5,476.2L629.9,477.1L632.0,478.6L634.3,479.8L636.5,481.2L638.3,483.1L640.6,484.3L643.2,484.9L645.5,485.9L647.8,487.1L650.3,487.8L652.4,489.3L654.2,491.3L656.4,492.6L658.8,493.5L661.0,494.8L663.5,495.6L666.1,496.1L668.2,497.5L670.1,499.4L672.4,500.6L674.5,502.0L676.6,503.5L679.1,504.3L681.8,504.7L684.0,506.0L686.1,507.4L688.4,508.5L690.4,510.2L692.3,512.0L694.8,512.8L697.3,513.5L699.6,514.7L702.0,515.6L704.3,516.6L706.3,518.4L708.2,520.2L710.6,521.2L712.9,522.2L715.1,523.5L717.7,524.0L720.2,524.8M611.2,468.9L613.5,470.0L615.3,472.0L617.5,473.4L619.8,474.5L621.8,476.1L624.2,477.1L626.9,477.4L629.2,478.5L631.2,480.1L633.5,481.3L635.6,482.8L637.5,484.6L639.9,485.6L642.5,486.1L644.8,487.2L647.1,488.4L649.5,489.3L651.5,490.9L653.4,492.9L655.7,494.0L658.1,494.8L660.3,496.1L662.8,496.8L665.4,497.5L667.4,499.1L669.3,500.9L671.6,502.1L673.8,503.4L675.9,504.8L678.5,505.4L681.1,506.0L683.2,507.4L685.3,508.9L687.5,510.1L689.5,511.8L691.6,513.4L694.1,514.0L696.7,514.7L698.9,516.0L701.2,517.0L703.5,518.1L705.4,520.1L707.4,521.7L709.8,522.5L712.2,523.5L714.5,524.7L717.0,525.3L719.4,526.3M610.5,470.2L612.7,471.6L614.5,473.6L616.7,474.9L619.0,476.0L621.1,477.4L623.6,478.2L626.3,478.6L628.4,479.9L630.4,481.6L632.7,482.8L634.8,484.3L636.8,486.0L639.2,486.8L641.9,487.3L644.1,488.5L646.3,489.8L648.7,490.8L650.7,492.5L652.6,494.4L655.0,495.3L657.4,496.1L659.7,497.3L662.2,498.1L664.6,498.9L666.5,500.7L668.5,502.5L670.8,503.6L673.0,504.8L675.2,506.1L677.9,506.6L680.4,507.3L682.4,508.9L684.5,510.4L686.7,511.6L688.7,513.3L690.9,514.7L693.5,515.2L696.0,516.0L698.1,517.3L700.5,518.4L702.7,519.7L704.5,521.7L706.6,523.1L709.2,523.8L711.5,524.8L713.8,525.9L716.4,526.6L718.6,527.8M609.7,471.8L611.7,473.4L613.6,475.3L615.8,476.5L618.2,477.6L620.3,478.9L622.9,479.6L625.5,480.1L627.5,481.6L629.5,483.4L631.8,484.6L633.9,486.0L635.9,487.6L638.5,488.2L641.1,488.7L643.3,490.1L645.5,491.4L647.8,492.5L649.7,494.3L651.7,496.0L654.2,496.8L656.7,497.5L658.9,498.8L661.4,499.6L663.7,500.6L665.6,502.5L667.6,504.2L670.0,505.2L672.2,506.3L674.5,507.5L677.1,508.0L679.5,508.9L681.5,510.7L683.6,512.2L685.8,513.4L687.8,515.0L690.1,516.2L692.8,516.6L695.2,517.5L697.3,519.0L699.6,520.1L701.7,521.5L703.6,523.4L705.8,524.7L708.4,525.2L710.7,526.3L713.0,527.4L715.5,528.2L717.6,529.6M608.7,473.7L610.6,475.4L612.5,477.3L614.8,478.3L617.2,479.3L619.4,480.6L622.0,481.2L624.5,481.9L626.5,483.6L628.5,485.3L630.7,486.5L632.9,487.9L635.0,489.3L637.7,489.8L640.2,490.5L642.3,492.0L644.5,493.3L646.7,494.5L648.6,496.4L650.7,497.9L653.3,498.4L655.8,499.2L658.0,500.5L660.4,501.4L662.7,502.6L664.5,504.6L666.6,506.1L669.0,506.9L671.3,508.1L673.6,509.1L676.2,509.7L678.5,510.8L680.4,512.7L682.5,514.1L684.8,515.3L686.9,516.8L689.2,517.8L691.9,518.2L694.2,519.3L696.3,520.9L698.5,522.0L700.7,523.5L702.6,525.4L704.9,526.4L707.5,526.9L709.8,528.0L712.1,529.1L714.5,530.0L716.6,531.6M607.6,475.6L609.5,477.5L611.5,479.3L613.9,480.1L616.3,481.0L618.6,482.2L621.1,482.9L623.5,483.8L625.4,485.7L627.4,487.3L629.7,488.4L631.9,489.8L634.1,491.0L636.8,491.4L639.3,492.2L641.3,493.9L643.4,495.2L645.6,496.5L647.6,498.3L649.8,499.6L652.4,500.0L654.9,500.9L657.0,502.3L659.4,503.2L661.6,504.6L663.4,506.6L665.6,508.0L668.1,508.7L670.4,509.8L672.7,510.8L675.3,511.4L677.5,512.8L679.3,514.7L681.5,516.1L683.8,517.2L685.9,518.6L688.4,519.4L691.0,519.9L693.2,521.1L695.2,522.8L697.5,524.0L699.6,525.5L701.6,527.2L704.0,528.0L706.7,528.5L708.9,529.7L711.1,531.0L713.5,532.0L715.5,533.7M606.9,477.1L608.7,479.0L610.8,480.6L613.3,481.3L615.7,482.2L618.0,483.4L620.5,484.1L622.8,485.2L624.6,487.2L626.7,488.7L629.0,489.7L631.2,491.0L633.6,492.1L636.2,492.5L638.6,493.5L640.5,495.3L642.7,496.7L644.9,498.0L646.9,499.7L649.2,500.7L651.9,501.1L654.2,502.1L656.4,503.5L658.7,504.6L660.8,506.1L662.6,508.1L664.9,509.2L667.5,509.8L669.8,510.9L672.1,511.9L674.6,512.7L676.7,514.2L678.5,516.2L680.8,517.4L683.1,518.4L685.3,519.8L687.8,520.5L690.4,521.0L692.5,522.5L694.5,524.2L696.7,525.4L698.8,526.9L700.9,528.5L703.5,529.1L706.1,529.6L708.2,531.0L710.4,532.3L712.7,533.4L714.7,535.2M605.5,479.6L607.4,481.5L609.5,482.9L612.1,483.4L614.5,484.4L616.8,485.6L619.3,486.3L621.5,487.7L623.3,489.7L625.4,491.1L627.8,492.0L630.1,493.2L632.4,494.2L635.1,494.7L637.3,495.9L639.2,497.8L641.4,499.1L643.6,500.4L645.6,502.0L648.1,502.8L650.7,503.2L653.0,504.4L655.1,505.9L657.4,507.0L659.4,508.6L661.3,510.5L663.8,511.4L666.3,511.9L668.6,513.1L670.9,514.2L673.4,515.0L675.3,516.8L677.2,518.7L679.6,519.7L681.9,520.7L684.1,521.9L686.7,522.6L689.2,523.3L691.2,525.0L693.2,526.7L695.5,527.9L697.6,529.3L699.7,530.7L702.3,531.2L704.9,531.8L707.0,533.3L709.2,534.7L711.4,535.9L713.3,537.7M604.5,481.5L606.4,483.3L608.7,484.5L611.3,484.9L613.7,486.0L615.9,487.2L618.3,488.1L620.4,489.6L622.2,491.6L624.5,492.8L627.0,493.6L629.2,494.8L631.6,495.7L634.2,496.3L636.3,497.8L638.2,499.7L640.4,500.9L642.7,502.1L644.8,503.6L647.3,504.3L649.9,504.8L652.1,506.2L654.1,507.7L656.4,508.9L658.4,510.5L660.4,512.2L662.9,512.9L665.5,513.5L667.7,514.7L670.1,515.8L672.4,516.9L674.3,518.7L676.2,520.5L678.7,521.4L681.1,522.3L683.3,523.5L685.9,524.1L688.3,525.0L690.2,526.9L692.2,528.6L694.5,529.6L696.7,531.0L698.9,532.2L701.6,532.7L704.0,533.5L706.0,535.1L708.2,536.5L710.4,537.7L712.4,539.6M603.9,482.6L605.9,484.3L608.3,485.3L610.9,485.7L613.2,486.8L615.4,488.1L617.8,489.1L619.8,490.8L621.7,492.7L624.0,493.7L626.5,494.4L628.8,495.6L631.2,496.5L633.7,497.2L635.7,498.9L637.6,500.8L639.9,501.9L642.1,503.1L644.3,504.4L646.9,505.0L649.5,505.6L651.5,507.2L653.6,508.8L655.8,510.0L657.9,511.6L659.9,513.1L662.5,513.6L665.1,514.3L667.3,515.7L669.5,516.8L671.8,518.0L673.7,519.9L675.7,521.5L678.2,522.2L680.6,523.1L682.9,524.3L685.4,525.0L687.7,526.1L689.6,528.1L691.6,529.6L694.0,530.6L696.2,531.9L698.5,533.0L701.2,533.4L703.5,534.4L705.5,536.2L707.6,537.6L709.8,538.9L711.8,540.6M602.5,485.2L604.5,486.8L607.1,487.6L609.7,488.0L611.9,489.3L614.1,490.7L616.4,491.8L618.3,493.5L620.3,495.3L622.7,496.1L625.3,496.8L627.5,498.0L629.9,498.9L632.3,499.8L634.2,501.7L636.2,503.5L638.5,504.5L640.8,505.6L643.1,506.8L645.7,507.3L648.1,508.1L650.1,509.9L652.2,511.4L654.4,512.6L656.5,514.2L658.7,515.5L661.3,515.9L663.8,516.7L665.9,518.2L668.2,519.4L670.4,520.7L672.2,522.6L674.4,524.0L677.0,524.6L679.4,525.5L681.6,526.7L684.1,527.5L686.3,528.8L688.1,530.8L690.2,532.2L692.7,533.1L694.9,534.4L697.3,535.3L699.9,535.8L702.1,537.0L704.0,538.9L706.2,540.2L708.4,541.5L710.5,543.1M601.8,486.6L603.9,488.1L606.5,488.7L609.1,489.2L611.2,490.7L613.3,492.1L615.6,493.2L617.5,495.0L619.6,496.6L622.1,497.3L624.6,498.0L626.9,499.2L629.2,500.2L631.6,501.3L633.4,503.2L635.4,504.9L637.9,505.7L640.2,506.8L642.5,507.9L645.1,508.5L647.4,509.5L649.3,511.4L651.4,512.9L653.7,514.0L655.8,515.5L658.1,516.7L660.7,517.0L663.1,518.0L665.2,519.6L667.4,520.8L669.6,522.2L671.5,524.1L673.7,525.2L676.4,525.7L678.7,526.7L681.0,527.9L683.4,528.8L685.5,530.3L687.3,532.3L689.5,533.5L692.0,534.3L694.2,535.6L696.7,536.5L699.2,537.0L701.4,538.5L703.2,540.4L705.5,541.6L707.7,542.9L709.8,544.4M600.6,488.8L602.8,490.1L605.5,490.5L608.0,491.2L610.0,492.8L612.1,494.3L614.4,495.5L616.3,497.3L618.5,498.7L621.1,499.2L623.6,499.9L625.8,501.3L628.1,502.3L630.3,503.6L632.2,505.6L634.3,507.0L636.8,507.7L639.1,508.8L641.4,509.9L644.0,510.5L646.2,511.7L648.1,513.7L650.2,515.1L652.5,516.2L654.7,517.6L657.0,518.6L659.7,518.9L662.0,520.1L664.0,521.8L666.2,523.1L668.4,524.5L670.3,526.2L672.7,527.2L675.4,527.6L677.6,528.7L679.9,530.0L682.2,531.0L684.2,532.6L686.1,534.6L688.4,535.6L690.9,536.3L693.2,537.5L695.6,538.4L698.1,539.1L700.1,540.8L702.0,542.7L704.3,543.8L706.6,545.0L708.7,546.3M600.0,490.0L602.3,491.1L604.9,491.6L607.3,492.5L609.3,494.2L611.4,495.7L613.7,496.9L615.6,498.6L617.9,499.8L620.6,500.2L623.0,501.1L625.1,502.5L627.4,503.6L629.6,505.0L631.4,507.0L633.6,508.2L636.2,508.8L638.5,509.9L640.8,511.0L643.4,511.7L645.5,513.1L647.3,515.1L649.5,516.4L651.9,517.4L654.1,518.7L656.5,519.6L659.1,520.0L661.3,521.4L663.3,523.2L665.5,524.4L667.6,525.8L669.7,527.4L672.2,528.2L674.8,528.6L677.0,529.9L679.2,531.3L681.5,532.4L683.5,534.1L685.4,535.9L687.8,536.7L690.4,537.4L692.6,538.6L695.0,539.5L697.4,540.4L699.4,542.2L701.3,544.1L703.6,545.1L705.9,546.2L708.2,547.4M599.0,491.9L601.3,492.9L604.0,493.4L606.3,494.5L608.1,496.4L610.3,497.8L612.5,499.0L614.6,500.6L616.9,501.6L619.6,502.0L622.0,503.0L624.0,504.6L626.3,505.7L628.4,507.2L630.3,509.1L632.6,510.1L635.2,510.6L637.5,511.8L639.8,512.9L642.3,513.7L644.3,515.3L646.1,517.3L648.4,518.4L650.8,519.3L653.1,520.6L655.6,521.4L658.1,522.0L660.2,523.5L662.1,525.3L664.4,526.5L666.5,527.9L668.6,529.4L671.2,530.0L673.8,530.5L675.9,531.9L678.1,533.3L680.4,534.5L682.3,536.3L684.3,537.9L686.9,538.5L689.4,539.3L691.6,540.5L694.0,541.5L696.3,542.5L698.2,544.5L700.2,546.2L702.6,547.0L704.9,548.1L707.2,549.2M598.3,493.1L600.7,494.1L603.3,494.6L605.5,496.0L607.3,497.9L609.5,499.2L611.8,500.4L613.9,501.9L616.3,502.7L619.0,503.1L621.2,504.4L623.3,506.0L625.5,507.2L627.6,508.7L629.6,510.5L632.0,511.3L634.6,511.8L636.9,513.0L639.2,514.2L641.5,515.1L643.5,516.9L645.4,518.8L647.8,519.7L650.2,520.6L652.4,521.8L654.9,522.5L657.4,523.3L659.4,525.1L661.3,526.8L663.6,527.9L665.8,529.3L668.0,530.6L670.6,531.1L673.2,531.7L675.2,533.3L677.3,534.8L679.6,536.0L681.5,537.8L683.6,539.2L686.3,539.7L688.8,540.5L690.9,541.8L693.3,542.8L695.5,544.0L697.3,546.0L699.4,547.5L701.9,548.3L704.3,549.3L706.6,550.4M597.4,494.8L599.8,495.7L602.3,496.4L604.4,498.0L606.3,499.9L608.5,501.1L610.8,502.2L613.0,503.6L615.5,504.3L618.1,504.8L620.2,506.3L622.2,508.0L624.5,509.1L626.5,510.7L628.6,512.3L631.1,512.9L633.7,513.5L635.9,514.8L638.2,516.0L640.5,517.1L642.4,519.0L644.4,520.7L646.8,521.4L649.3,522.3L651.5,523.5L654.0,524.2L656.4,525.2L658.3,527.1L660.3,528.8L662.6,529.8L664.8,531.1L667.1,532.2L669.8,532.7L672.2,533.6L674.1,535.3L676.3,536.8L678.5,538.0L680.5,539.7L682.7,540.9L685.4,541.3L687.8,542.2L690.0,543.6L692.3,544.7L694.4,546.1L696.3,548.1L698.5,549.3L701.0,549.9L703.4,551.0L705.7,552.1M596.7,496.2L599.0,497.2L601.5,498.0L603.5,499.8L605.3,501.7L607.7,502.7L610.0,503.8L612.2,505.0L614.8,505.7L617.3,506.3L619.3,508.0L621.3,509.7L623.6,510.8L625.7,512.4L627.8,513.8L630.4,514.3L633.0,514.9L635.1,516.4L637.3,517.6L639.6,518.8L641.4,520.7L643.5,522.3L646.1,522.9L648.5,523.7L650.8,524.9L653.2,525.7L655.5,526.9L657.3,528.9L659.4,530.5L661.8,531.3L664.1,532.5L666.4,533.6L669.0,534.1L671.3,535.2L673.2,537.0L675.4,538.5L677.6,539.7L679.6,541.3L682.0,542.3L684.7,542.6L687.0,543.7L689.1,545.2L691.4,546.4L693.5,547.8L695.4,549.8L697.7,550.8L700.3,551.3L702.6,552.5L704.9,553.6M596.1,497.3L598.4,498.3L600.8,499.3L602.7,501.2L604.6,503.0L607.0,503.9L609.4,504.9L611.7,506.1L614.2,506.7L616.7,507.5L618.6,509.4L620.6,511.0L622.9,512.1L625.0,513.6L627.2,514.8L629.9,515.2L632.4,516.0L634.4,517.6L636.6,518.9L638.8,520.2L640.7,522.1L642.9,523.4L645.6,523.9L648.0,524.8L650.2,526.0L652.6,526.9L654.8,528.3L656.6,530.3L658.7,531.7L661.2,532.5L663.5,533.6L665.8,534.6L668.4,535.2L670.6,536.5L672.5,538.4L674.7,539.8L676.9,540.9L679.0,542.4L681.5,543.3L684.2,543.7L686.4,544.9L688.4,546.5L690.7,547.7L692.8,549.2L694.7,551.0L697.1,551.8L699.8,552.4L702.0,553.6L704.3,554.7M595.2,499.1L597.5,500.1L599.8,501.3L601.6,503.2L603.6,504.9L606.1,505.6L608.5,506.6L610.8,507.7L613.3,508.4L615.7,509.4L617.5,511.4L619.6,512.9L621.9,514.0L624.1,515.4L626.4,516.4L629.1,516.8L631.4,517.8L633.4,519.5L635.6,520.9L637.8,522.2L639.7,524.0L642.0,525.0L644.7,525.4L647.1,526.5L649.2,527.8L651.6,528.8L653.7,530.3L655.5,532.3L657.8,533.5L660.3,534.1L662.6,535.3L665.0,536.3L667.5,536.9L669.6,538.5L671.4,540.4L673.7,541.6L676.0,542.7L678.1,544.1L680.6,544.8L683.3,545.3L685.4,546.8L687.4,548.4L689.7,549.6L691.7,551.2L693.8,552.8L696.3,553.4L698.9,554.0L701.1,555.3L703.3,556.5M594.2,500.8L596.5,501.9L598.7,503.2L600.6,505.2L602.7,506.6L605.3,507.2L607.6,508.2L609.9,509.3L612.4,510.1L614.6,511.3L616.5,513.4L618.6,514.8L621.0,515.7L623.2,517.0L625.6,518.0L628.2,518.4L630.5,519.6L632.4,521.5L634.6,522.8L636.8,524.1L638.8,525.7L641.2,526.6L643.9,527.0L646.1,528.2L648.3,529.6L650.6,530.7L652.6,532.3L654.5,534.2L656.9,535.1L659.5,535.8L661.7,536.9L664.1,537.9L666.6,538.7L668.5,540.5L670.4,542.4L672.7,543.4L675.1,544.5L677.3,545.8L679.8,546.4L682.4,547.0L684.4,548.7L686.4,550.4L688.6,551.5L690.7,553.0L692.9,554.5L695.5,555.0L698.0,555.6L700.1,557.1L702.4,558.3" stroke="#000" stroke-width="0.85" fill="none"/></g>
<polygon points="619.7,461.8 623.0,459.3 722.7,498.9 722.7,507.0 710.3,513.7 620.0,466.0" fill="none" stroke="#000" stroke-width="1.3" stroke-linejoin="round" />
<polyline points="711.0,500.5 722.7,498.9" fill="none" stroke="#000" stroke-width="1" stroke-linejoin="round" stroke-linecap="round" />
<polyline points="711.0,500.5 710.3,513.7" fill="none" stroke="#000" stroke-width="1.2" stroke-linejoin="round" stroke-linecap="round" />
<ellipse cx="666" cy="482" rx="1.8" ry="1.4" transform="rotate(0 666 482)" fill="#000" stroke="none" stroke-width="1"/>
<clipPath id="c24"><polygon points="670.8,445.3 679.8,439.6 698.8,428.8 722.7,444.5 722.7,466.8 712.0,462.6 710.3,466.0 700.0,460.0"/></clipPath>
<polygon points="670.8,445.3 679.8,439.6 698.8,428.8 722.7,444.5 722.7,466.8 712.0,462.6 710.3,466.0 700.0,460.0" fill="#fff" stroke="none"/>
<g clip-path="url(#c24)"><path d="M684.9,398.3L687.6,398.8L690.4,399.2L693.4,399.3L696.3,399.3L699.2,399.5L701.9,400.0L704.4,400.9L706.7,402.1L709.0,403.3L711.5,404.1L714.4,404.3L717.4,404.2L720.6,403.8L723.8,403.6L726.8,403.6L728.9,405.1L730.5,407.4L732.3,409.6L734.1,411.5L736.2,413.2L738.2,414.9L740.0,416.9L741.6,419.4L742.9,422.3L744.0,425.6L745.2,428.7L746.5,431.5M681.4,404.5L684.0,405.1L686.8,405.5L689.7,405.6L692.6,405.7L695.4,406.1L698.0,406.7L700.4,407.7L702.8,408.9L705.2,409.9L707.9,410.4L710.8,410.5L714.0,410.1L717.3,409.7L720.4,409.4L723.4,409.4L725.5,410.9L727.1,413.3L728.9,415.5L730.7,417.4L732.7,419.2L734.6,421.1L736.3,423.3L737.8,426.0L738.9,429.1L740.1,432.4L741.3,435.5L742.7,438.1M680.3,406.3L682.9,407.0L685.7,407.4L688.5,407.6L691.4,407.8L694.2,408.2L696.7,409.0L699.1,410.0L701.5,411.1L704.1,411.8L706.9,412.1L710.0,411.9L713.3,411.4L716.6,410.9L719.7,410.7L722.6,410.8L724.7,412.4L726.3,414.8L728.0,417.0L729.8,419.0L731.7,420.9L733.5,422.9L735.1,425.4L736.4,428.3L737.6,431.5L738.7,434.7L740.0,437.6L741.6,440.1M676.6,412.8L679.1,413.5L681.9,414.0L684.7,414.2L687.6,414.5L690.3,415.0L692.8,415.7L695.3,416.7L697.7,417.6L700.4,418.2L703.4,418.2L706.6,417.8L709.9,417.2L713.2,416.7L716.3,416.5L719.1,416.8L721.2,418.5L722.7,420.9L724.4,423.2L726.2,425.3L728.0,427.3L729.7,429.5L731.2,432.1L732.5,435.2L733.6,438.4L734.8,441.5L736.2,444.3L737.9,446.5M674.2,416.8L676.8,417.6L679.5,418.0L682.4,418.2L685.2,418.5L688.0,419.0L690.5,419.8L693.0,420.6L695.6,421.3L698.4,421.7L701.5,421.5L704.8,420.9L708.2,420.2L711.4,419.8L714.4,419.8L717.1,420.2L719.1,422.0L720.6,424.6L722.3,426.9L724.0,429.0L725.8,431.2L727.4,433.5L728.8,436.3L730.0,439.4L731.2,442.6L732.4,445.6L734.0,448.1L735.8,450.1M671.3,421.9L673.9,422.6L676.7,423.0L679.6,423.2L682.4,423.4L685.1,423.9L687.7,424.6L690.3,425.3L693.0,425.8L695.9,425.9L699.1,425.5L702.5,424.9L705.9,424.3L709.0,424.0L711.9,424.2L714.5,424.8L716.4,426.7L717.9,429.3L719.5,431.7L721.2,433.9L722.9,436.1L724.5,438.6L725.9,441.4L727.1,444.5L728.3,447.6L729.7,450.4L731.4,452.6L733.3,454.4M668.4,426.9L671.1,427.5L673.9,427.8L676.8,427.9L679.7,428.1L682.4,428.5L685.1,429.2L687.7,429.8L690.5,430.1L693.6,430.0L696.9,429.4L700.3,428.8L703.5,428.3L706.6,428.2L709.3,428.6L711.9,429.4L713.7,431.4L715.2,434.1L716.8,436.5L718.5,438.7L720.1,441.0L721.6,443.6L723.0,446.4L724.2,449.5L725.5,452.4L727.1,454.9L728.9,456.9L731.0,458.5M666.8,429.7L669.6,430.1L672.5,430.3L675.4,430.3L678.4,430.4L681.1,430.8L683.8,431.3L686.6,431.8L689.5,431.9L692.6,431.7L695.9,431.1L699.3,430.5L702.4,430.2L705.3,430.3L708.0,431.0L710.4,431.9L712.2,434.0L713.6,436.7L715.3,439.1L717.0,441.3L718.6,443.6L720.1,446.2L721.4,449.1L722.7,452.0L724.2,454.7L725.9,457.0L727.8,458.7L730.0,460.2M664.1,434.5L666.9,434.8L669.9,434.8L672.9,434.7L675.9,434.8L678.7,435.1L681.4,435.5L684.2,435.8L687.2,435.9L690.4,435.5L693.7,435.0L697.0,434.5L700.0,434.4L702.8,434.8L705.3,435.7L707.6,436.7L709.4,438.8L710.9,441.5L712.5,443.8L714.2,446.0L715.9,448.4L717.4,450.9L718.8,453.7L720.1,456.5L721.7,459.0L723.5,461.0L725.6,462.6L727.8,464.0M661.0,439.8L663.9,439.9L667.0,439.8L670.1,439.6L673.0,439.6L675.9,439.9L678.7,440.3L681.5,440.5L684.5,440.5L687.7,440.1L691.0,439.6L694.2,439.3L697.1,439.5L699.7,440.1L702.1,441.2L704.4,442.3L706.2,444.4L707.7,446.9L709.4,449.2L711.1,451.4L712.8,453.7L714.3,456.2L715.8,458.9L717.3,461.5L718.9,463.8L720.9,465.6L723.0,467.1L725.2,468.4M659.1,443.1L662.2,443.0L665.3,442.6L668.5,442.4L671.4,442.4L674.3,442.7L677.1,443.0L680.0,443.2L683.0,443.1L686.2,442.8L689.4,442.4L692.4,442.3L695.2,442.7L697.7,443.6L700.0,444.8L702.3,445.9L704.1,447.9L705.7,450.4L707.5,452.5L709.3,454.6L711.0,456.8L712.5,459.3L714.0,461.9L715.6,464.4L717.4,466.5L719.4,468.1L721.6,469.6L723.8,471.0M656.8,447.1L659.9,446.8L663.2,446.4L666.3,446.1L669.3,446.1L672.1,446.4L674.9,446.8L677.8,447.0L680.8,446.9L684.0,446.6L687.1,446.4L690.0,446.6L692.6,447.2L695.0,448.3L697.3,449.5L699.6,450.6L701.5,452.5L703.2,454.7L705.1,456.7L706.9,458.7L708.6,460.9L710.2,463.3L711.8,465.8L713.4,468.1L715.3,470.1L717.4,471.7L719.5,473.1L721.6,474.7M654.5,450.9L657.8,450.5L661.1,450.0L664.2,449.7L667.2,449.8L669.9,450.2L672.7,450.6L675.6,450.8L678.6,450.7L681.7,450.6L684.7,450.6L687.5,450.9L690.0,451.8L692.3,452.9L694.6,454.2L697.0,455.1L699.0,456.8L700.8,458.9L702.7,460.8L704.6,462.7L706.4,464.8L708.0,467.2L709.6,469.6L711.3,471.8L713.2,473.7L715.3,475.2L717.4,476.7L719.4,478.5M651.5,456.3L654.8,455.7L658.1,455.2L661.2,455.0L664.0,455.2L666.8,455.7L669.5,456.1L672.4,456.4L675.3,456.4L678.4,456.4L681.2,456.5L683.9,457.1L686.3,458.1L688.6,459.3L691.0,460.4L693.5,461.2L695.7,462.7L697.6,464.5L699.5,466.3L701.5,468.1L703.2,470.2L704.9,472.6L706.5,474.9L708.3,477.1L710.2,478.9L712.3,480.5L714.3,482.2L716.1,484.2M649.4,459.9L652.7,459.3L656.0,458.9L659.0,458.8L661.8,459.2L664.4,459.8L667.1,460.3L669.9,460.6L672.9,460.7L675.8,460.8L678.6,461.1L681.2,461.8L683.6,462.9L685.9,464.0L688.3,465.0L691.0,465.6L693.3,466.8L695.3,468.5L697.3,470.1L699.3,472.0L701.0,474.1L702.7,476.4L704.3,478.8L706.1,480.9L708.0,482.7L710.0,484.4L711.9,486.3L713.6,488.5M647.4,463.3L650.8,462.7L653.9,462.4L656.8,462.5L659.5,463.1L662.1,463.7L664.8,464.3L667.6,464.7L670.5,464.8L673.3,465.0L676.1,465.5L678.6,466.3L681.0,467.4L683.3,468.5L685.9,469.2L688.7,469.5L691.1,470.5L693.2,472.1L695.3,473.6L697.2,475.5L698.9,477.7L700.6,480.1L702.2,482.4L703.9,484.6L705.8,486.5L707.8,488.3L709.6,490.3L711.2,492.8M646.2,465.4L649.5,464.9L652.6,464.8L655.3,465.1L657.9,465.8L660.4,466.6L663.1,467.3L665.8,467.6L668.7,467.9L671.6,468.1L674.2,468.7L676.7,469.5L679.1,470.5L681.6,471.5L684.3,472.0L687.2,472.1L689.8,472.8L691.9,474.3L694.0,475.9L695.9,477.8L697.6,480.1L699.1,482.5L700.7,484.9L702.5,487.1L704.3,489.1L706.2,491.1L707.9,493.3L709.3,495.9M643.1,470.7L646.3,470.4L649.3,470.5L651.9,471.1L654.4,472.0L656.9,472.9L659.5,473.5L662.2,473.9L665.1,474.1L667.9,474.4L670.6,475.0L673.1,475.8L675.5,476.8L678.1,477.5L680.9,477.8L684.0,477.6L686.7,478.2L688.8,479.6L690.9,481.3L692.7,483.3L694.3,485.7L695.8,488.3L697.4,490.8L699.1,493.0L700.9,495.1L702.7,497.2L704.3,499.6L705.6,502.4M641.6,473.4L644.7,473.3L647.4,473.6L650.0,474.4L652.4,475.5L654.8,476.4L657.4,477.0L660.2,477.4L663.1,477.6L665.9,477.9L668.6,478.4L671.1,479.2L673.7,480.0L676.3,480.5L679.3,480.6L682.5,480.2L685.2,480.7L687.4,482.2L689.3,484.0L691.0,486.2L692.5,488.8L694.0,491.4L695.5,494.0L697.2,496.2L699.0,498.4L700.7,500.6L702.2,503.1L703.5,506.0M639.7,476.6L642.7,476.7L645.3,477.3L647.7,478.3L650.1,479.4L652.5,480.3L655.2,480.9L658.1,481.1L661.0,481.3L663.8,481.6L666.5,482.1L669.1,482.8L671.7,483.4L674.5,483.8L677.6,483.6L680.9,483.1L683.6,483.6L685.7,485.1L687.5,487.1L689.1,489.5L690.5,492.3L691.9,495.0L693.4,497.6L695.1,499.9L696.8,502.1L698.4,504.5L699.9,507.1L701.2,510.0M637.1,481.2L639.9,481.5L642.4,482.4L644.7,483.5L647.1,484.7L649.6,485.5L652.3,486.0L655.2,486.1L658.1,486.2L661.0,486.4L663.7,486.9L666.4,487.5L669.1,488.0L672.0,488.1L675.2,487.8L678.5,487.2L681.2,487.7L683.2,489.5L684.9,491.6L686.4,494.3L687.7,497.2L689.0,500.0L690.5,502.6L692.2,505.0L693.9,507.2L695.5,509.6L696.9,512.2L698.2,515.2M634.7,485.3L637.3,485.9L639.7,487.0L642.0,488.2L644.4,489.3L647.0,490.0L649.8,490.3L652.8,490.3L655.8,490.3L658.6,490.5L661.4,490.9L664.1,491.4L666.9,491.7L669.9,491.7L673.1,491.3L676.5,490.7L679.1,491.4L681.0,493.3L682.5,495.7L683.9,498.6L685.1,501.6L686.5,504.5L688.0,507.1L689.6,509.4L691.3,511.6L692.9,514.0L694.4,516.7L695.7,519.5" stroke="#000" stroke-width="0.75" fill="none"/></g>
<polygon points="670.8,445.3 679.8,439.6 698.8,428.8 722.7,444.5 722.7,466.8 712.0,462.6 710.3,466.0 700.0,460.0" fill="none" stroke="#000" stroke-width="1.6" stroke-linejoin="round" />
<line x1="711.0" y1="479.0" x2="711.0" y2="492.0" stroke="#000" stroke-width="1"/>
<clipPath id="c25"><polygon points="618.0,492.0 627.9,499.0 679.6,522.0 679.6,530.0 666.0,535.0 618.0,510.0"/></clipPath>
<polygon points="618.0,492.0 627.9,499.0 679.6,522.0 679.6,530.0 666.0,535.0 618.0,510.0" fill="#fff" stroke="none"/>
<g clip-path="url(#c25)"><path d="M629.8,463.4L632.3,464.1L634.9,464.6L637.1,465.9L639.3,467.1L641.6,468.1L643.5,469.8L645.4,471.7L647.7,472.6L650.2,473.3L652.4,474.5L654.8,475.3L657.3,476.1L659.2,477.8L661.1,479.6L663.4,480.7L665.6,481.9L667.8,483.2L670.3,483.8L672.8,484.4L674.9,485.9L676.9,487.5L679.1,488.7L681.1,490.2L683.2,491.8L685.7,492.4L688.2,492.9L690.4,494.2L692.6,495.4L694.9,496.5L696.8,498.3L698.7,500.1L701.1,500.9M629.0,465.0L631.5,465.6L634.1,466.1L636.2,467.5L638.4,468.8L640.6,469.9L642.5,471.7L644.5,473.4L646.9,474.1L649.4,474.8L651.6,476.0L654.0,476.9L656.4,477.8L658.2,479.7L660.2,481.4L662.5,482.4L664.8,483.5L667.0,484.7L669.5,485.2L672.0,486.0L673.9,487.7L675.9,489.3L678.2,490.4L680.2,491.9L682.3,493.3L684.9,493.8L687.4,494.4L689.5,495.9L691.7,497.1L694.0,498.3L695.8,500.1L697.8,501.7L700.4,502.4M628.0,466.8L630.6,467.2L633.1,467.9L635.1,469.4L637.3,470.8L639.5,472.0L641.4,473.8L643.5,475.3L646.0,475.8L648.5,476.6L650.6,477.8L653.0,478.8L655.3,479.9L657.1,481.8L659.1,483.4L661.5,484.3L663.8,485.3L666.0,486.5L668.6,487.0L670.9,487.9L672.8,489.8L674.8,491.3L677.1,492.4L679.2,493.9L681.4,495.1L684.0,495.5L686.5,496.3L688.5,497.9L690.6,499.2L692.8,500.4L694.7,502.2L696.8,503.6L699.4,504.1M627.4,467.9L630.1,468.3L632.4,469.2L634.4,470.8L636.6,472.2L638.7,473.4L640.7,475.2L642.8,476.5L645.5,476.9L647.9,477.7L650.0,479.1L652.3,480.0L654.5,481.3L656.3,483.3L658.4,484.7L660.9,485.4L663.2,486.5L665.4,487.6L668.0,488.2L670.2,489.3L672.0,491.3L674.1,492.7L676.4,493.8L678.5,495.2L680.8,496.2L683.5,496.6L685.8,497.6L687.7,499.2L689.9,500.6L692.1,501.9L694.0,503.6L696.2,504.8L698.9,505.2M626.4,469.8L629.1,470.2L631.3,471.2L633.3,473.0L635.4,474.4L637.6,475.6L639.5,477.3L641.8,478.4L644.5,478.7L646.8,479.7L648.9,481.1L651.2,482.2L653.3,483.6L655.1,485.5L657.3,486.8L659.9,487.3L662.2,488.4L664.4,489.5L666.9,490.2L669.0,491.5L670.8,493.5L673.0,494.9L675.3,495.8L677.5,497.1L679.8,498.0L682.5,498.5L684.7,499.7L686.6,501.5L688.7,502.8L690.9,504.0L692.9,505.7L695.2,506.6L697.9,507.0M626.0,470.6L628.6,471.1L630.7,472.4L632.6,474.2L634.8,475.5L637.0,476.8L639.0,478.3L641.4,479.2L644.0,479.6L646.3,480.7L648.3,482.2L650.6,483.3L652.6,484.8L654.5,486.7L656.8,487.7L659.4,488.2L661.7,489.3L663.9,490.4L666.3,491.2L668.4,492.8L670.2,494.8L672.4,495.9L674.8,496.8L677.0,498.1L679.4,498.9L682.0,499.4L684.1,500.8L685.9,502.7L688.1,503.9L690.3,505.2L692.3,506.7L694.8,507.5L697.4,507.9M625.0,472.4L627.6,473.0L629.6,474.5L631.5,476.4L633.7,477.6L635.9,478.8L638.0,480.2L640.4,480.9L643.1,481.4L645.2,482.7L647.2,484.3L649.5,485.4L651.5,487.0L653.4,488.7L655.9,489.5L658.4,490.0L660.7,491.2L662.9,492.4L665.2,493.3L667.2,495.0L669.0,496.9L671.4,497.9L673.8,498.7L676.0,499.9L678.4,500.7L680.9,501.4L682.9,503.0L684.8,504.8L687.0,506.0L689.2,507.2L691.3,508.6L693.9,509.2L696.4,509.7M624.2,473.9L626.6,474.7L628.6,476.4L630.5,478.3L632.7,479.4L635.0,480.5L637.1,481.8L639.7,482.4L642.2,483.0L644.2,484.5L646.2,486.1L648.5,487.3L650.5,488.8L652.5,490.4L655.1,491.0L657.6,491.6L659.8,492.9L662.0,494.1L664.3,495.1L666.2,496.9L668.1,498.7L670.5,499.5L673.0,500.3L675.2,501.5L677.6,502.3L680.0,503.1L681.9,504.9L683.8,506.7L686.1,507.7L688.3,508.9L690.5,510.1L693.1,510.7L695.6,511.3M623.5,475.3L625.8,476.3L627.7,478.1L629.6,479.9L631.9,480.9L634.2,481.9L636.4,483.2L639.0,483.7L641.4,484.4L643.4,486.1L645.4,487.8L647.6,488.9L649.7,490.4L651.8,491.8L654.4,492.3L656.9,492.9L659.0,494.3L661.2,495.6L663.4,496.8L665.3,498.6L667.3,500.2L669.8,500.8L672.2,501.6L674.4,502.8L676.8,503.7L679.1,504.7L681.0,506.6L682.9,508.3L685.3,509.2L687.6,510.3L689.8,511.5L692.4,512.0L694.8,512.8M622.3,477.6L624.5,478.7L626.3,480.7L628.3,482.3L630.8,483.1L633.0,484.1L635.3,485.3L637.9,485.8L640.2,486.8L642.1,488.6L644.1,490.2L646.4,491.3L648.4,492.7L650.7,493.9L653.3,494.3L655.7,495.1L657.7,496.7L659.9,498.0L662.1,499.3L664.0,501.1L666.1,502.4L668.7,502.9L671.1,503.7L673.3,505.0L675.6,505.9L677.8,507.2L679.6,509.1L681.7,510.6L684.1,511.4L686.4,512.5L688.7,513.6L691.2,514.1L693.5,515.2M621.6,478.8L623.8,480.1L625.6,482.1L627.7,483.5L630.1,484.2L632.5,485.2L634.7,486.3L637.2,487.0L639.5,488.1L641.3,490.1L643.4,491.5L645.7,492.6L647.8,493.9L650.1,495.0L652.7,495.3L655.1,496.3L657.0,498.1L659.2,499.4L661.3,500.7L663.3,502.4L665.5,503.5L668.1,503.9L670.5,504.9L672.6,506.2L675.0,507.2L677.1,508.6L678.9,510.6L681.0,511.9L683.5,512.5L685.8,513.6L688.1,514.6L690.6,515.3L692.8,516.6M620.4,481.1L622.5,482.5L624.3,484.4L626.5,485.7L629.1,486.2L631.4,487.3L633.6,488.4L636.1,489.1L638.2,490.4L640.0,492.4L642.2,493.8L644.5,494.7L646.7,496.0L649.1,496.9L651.7,497.3L653.9,498.6L655.8,500.4L657.9,501.7L660.1,502.9L662.1,504.6L664.5,505.5L667.1,505.9L669.4,507.0L671.5,508.4L673.8,509.5L675.8,511.0L677.6,512.9L679.9,514.0L682.5,514.5L684.7,515.6L687.0,516.7L689.5,517.4L691.5,518.9M619.4,483.0L621.4,484.5L623.3,486.4L625.6,487.4L628.2,487.9L630.5,489.0L632.7,490.1L635.1,490.9L637.1,492.5L638.9,494.5L641.2,495.6L643.6,496.5L645.8,497.7L648.2,498.6L650.8,499.1L652.8,500.5L654.7,502.4L656.9,503.6L659.1,504.9L661.1,506.4L663.6,507.1L666.2,507.6L668.4,508.8L670.5,510.3L672.7,511.4L674.7,513.0L676.6,514.8L679.0,515.7L681.6,516.2L683.8,517.4L686.1,518.4L688.5,519.3L690.4,521.0M618.8,484.2L620.8,485.7L622.7,487.4L625.2,488.2L627.8,488.7L630.0,489.9L632.2,491.0L634.6,492.0L636.5,493.7L638.4,495.6L640.7,496.6L643.1,497.4L645.3,498.6L647.8,499.4L650.3,500.0L652.2,501.7L654.1,503.5L656.3,504.7L658.6,505.9L660.7,507.3L663.2,507.9L665.8,508.4L667.9,509.8L669.9,511.4L672.1,512.6L674.1,514.2L676.1,515.8L678.6,516.5L681.2,517.0L683.3,518.2L685.6,519.4L687.9,520.4L689.8,522.2M617.5,486.6L619.5,488.2L621.5,489.7L624.1,490.3L626.6,490.8L628.8,492.2L631.0,493.4L633.3,494.5L635.2,496.3L637.1,498.0L639.5,498.8L642.0,499.5L644.2,500.7L646.6,501.5L649.0,502.4L650.9,504.2L652.8,506.0L655.1,507.0L657.3,508.2L659.5,509.4L662.1,510.0L664.6,510.6L666.6,512.3L668.6,513.9L670.8,515.0L672.8,516.6L674.9,518.0L677.5,518.5L680.0,519.2L682.1,520.5L684.3,521.7L686.6,522.9L688.5,524.7M616.6,488.3L618.6,489.8L620.7,491.2L623.3,491.6L625.8,492.3L627.9,493.8L630.1,495.0L632.3,496.2L634.2,498.0L636.2,499.6L638.8,500.2L641.2,501.0L643.4,502.2L645.8,503.1L648.1,504.1L649.9,506.1L651.9,507.7L654.3,508.6L656.5,509.7L658.8,510.9L661.3,511.4L663.7,512.2L665.6,514.0L667.7,515.6L669.9,516.7L671.9,518.2L674.1,519.5L676.8,519.9L679.2,520.7L681.3,522.2L683.5,523.4L685.6,524.7L687.5,526.5M615.7,489.9L617.8,491.4L620.0,492.6L622.6,493.0L625.1,493.8L627.1,495.4L629.2,496.7L631.4,497.9L633.3,499.7L635.4,501.1L638.0,501.6L640.4,502.4L642.6,503.7L645.0,504.6L647.2,505.8L649.0,507.8L651.0,509.3L653.5,510.1L655.8,511.1L658.0,512.2L660.6,512.8L662.9,513.9L664.7,515.8L666.8,517.3L669.0,518.3L671.1,519.8L673.4,520.9L676.1,521.2L678.4,522.2L680.4,523.8L682.6,525.1L684.7,526.4L686.6,528.2M615.1,491.0L617.3,492.4L619.6,493.4L622.2,493.8L624.5,494.8L626.5,496.5L628.6,497.8L630.8,499.1L632.7,500.9L635.0,502.0L637.6,502.4L640.0,503.3L642.1,504.7L644.4,505.7L646.5,507.1L648.3,509.0L650.5,510.3L653.0,511.0L655.3,512.0L657.6,513.1L660.1,513.7L662.2,515.0L664.0,517.0L666.2,518.4L668.5,519.4L670.6,520.7L673.0,521.7L675.6,522.1L677.9,523.2L679.8,525.0L682.0,526.2L684.1,527.6L686.0,529.3M614.0,493.1L616.2,494.4L618.6,495.3L621.2,495.7L623.4,497.0L625.3,498.8L627.4,500.1L629.6,501.4L631.6,503.0L633.9,503.9L636.6,504.3L638.9,505.4L640.9,506.8L643.2,507.9L645.3,509.4L647.1,511.3L649.4,512.4L652.0,512.9L654.2,514.0L656.5,515.1L659.0,515.8L661.0,517.3L662.8,519.3L665.0,520.5L667.4,521.5L669.5,522.7L672.0,523.6L674.6,524.1L676.7,525.4L678.6,527.2L680.8,528.5L682.9,529.8L684.9,531.4M613.1,494.9L615.3,496.1L617.7,496.9L620.2,497.5L622.3,499.0L624.2,500.8L626.4,502.0L628.6,503.3L630.6,504.8L633.1,505.5L635.7,505.9L637.9,507.2L639.9,508.7L642.2,509.9L644.2,511.4L646.1,513.2L648.5,514.1L651.1,514.6L653.3,515.8L655.6,516.9L658.0,517.7L659.9,519.4L661.7,521.3L664.0,522.4L666.4,523.2L668.6,524.5L671.1,525.2L673.6,525.8L675.6,527.4L677.5,529.2L679.7,530.4L681.9,531.7L684.0,533.1M612.4,496.1L614.6,497.3L617.1,498.1L619.5,498.8L621.5,500.5L623.4,502.3L625.6,503.5L627.8,504.7L630.0,506.0L632.5,506.6L635.1,507.2L637.1,508.6L639.2,510.2L641.4,511.4L643.4,512.9L645.4,514.6L647.9,515.2L650.4,515.8L652.6,517.0L654.9,518.2L657.2,519.2L659.1,521.0L661.0,522.8L663.4,523.7L665.8,524.5L668.0,525.7L670.4,526.4L672.9,527.2L674.8,529.0L676.7,530.8L679.0,531.8L681.2,533.1L683.3,534.4M611.6,497.6L613.8,498.8L616.3,499.6L618.6,500.5L620.5,502.3L622.4,504.1L624.8,505.1L627.0,506.2L629.2,507.5L631.7,508.0L634.2,508.7L636.2,510.4L638.2,511.9L640.5,513.1L642.5,514.7L644.6,516.1L647.2,516.6L649.7,517.2L651.8,518.6L654.0,519.8L656.2,521.0L658.1,522.8L660.1,524.4L662.6,525.1L665.0,525.9L667.2,527.1L669.7,527.9L672.0,528.9L673.8,530.8L675.8,532.5L678.1,533.4L680.4,534.6L682.6,535.8M610.8,499.2L613.0,500.4L615.4,501.3L617.6,502.4L619.5,504.3L621.4,506.0L623.8,506.8L626.1,507.9L628.3,509.1L630.9,509.6L633.3,510.5L635.2,512.3L637.2,513.8L639.5,515.0L641.5,516.5L643.7,517.7L646.3,518.1L648.8,518.9L650.8,520.4L653.0,521.7L655.2,522.9L657.1,524.8L659.2,526.2L661.7,526.7L664.1,527.6L666.3,528.8L668.7,529.6L671.0,530.8L672.8,532.8L674.8,534.3L677.2,535.2L679.5,536.3L681.7,537.4M610.0,500.7L612.1,502.0L614.5,502.9L616.7,504.2L618.5,506.2L620.5,507.6L623.0,508.4L625.3,509.4L627.6,510.5L630.1,511.1L632.4,512.2L634.2,514.1L636.3,515.6L638.6,516.7L640.7,518.1L642.9,519.2L645.6,519.5L647.9,520.5L649.9,522.1L652.1,523.4L654.2,524.7L656.1,526.5L658.4,527.7L661.0,528.1L663.3,529.1L665.5,530.4L667.9,531.3L670.0,532.6L671.8,534.6L673.9,536.0L676.4,536.7L678.7,537.8L681.0,538.8M608.9,502.8L611.0,504.2L613.3,505.2L615.4,506.6L617.2,508.6L619.4,509.8L621.9,510.5L624.2,511.5L626.5,512.6L629.0,513.2L631.1,514.6L632.9,516.5L635.1,517.9L637.4,518.9L639.5,520.2L641.9,521.2L644.5,521.6L646.7,522.7L648.7,524.5L650.8,525.8L653.0,527.1L654.9,528.8L657.3,529.8L659.9,530.1L662.2,531.2L664.3,532.6L666.6,533.6L668.7,535.1L670.5,537.0L672.8,538.2L675.3,538.8L677.6,539.9L679.9,540.9M608.2,504.0L610.3,505.4L612.6,506.5L614.6,508.0L616.5,509.9L618.8,511.0L621.3,511.5L623.6,512.6L625.9,513.7L628.3,514.5L630.4,516.0L632.2,518.0L634.4,519.2L636.7,520.1L638.9,521.4L641.3,522.2L643.9,522.7L646.0,524.1L647.9,525.9L650.1,527.1L652.3,528.4L654.3,530.0L656.7,530.8L659.4,531.2L661.6,532.4L663.7,533.8L665.9,534.9L667.9,536.5L669.8,538.4L672.2,539.3L674.7,539.8L677.0,541.0L679.3,542.0M607.3,505.8L609.3,507.3L611.6,508.4L613.6,510.0L615.5,511.8L617.9,512.6L620.5,513.1L622.7,514.3L625.0,515.4L627.4,516.3L629.3,518.0L631.1,519.9L633.5,520.9L635.9,521.8L638.1,523.0L640.5,523.7L643.0,524.4L645.0,526.0L646.9,527.8L649.1,529.0L651.3,530.2L653.4,531.7L655.9,532.3L658.5,532.8L660.6,534.2L662.7,535.7L664.9,536.8L666.9,538.4L668.9,540.1L671.3,540.9L673.9,541.4L676.1,542.6L678.4,543.7M606.2,507.7L608.3,509.3L610.5,510.5L612.5,512.0L614.5,513.6L617.0,514.3L619.6,514.8L621.7,516.1L624.0,517.3L626.3,518.3L628.2,520.1L630.1,521.9L632.5,522.7L634.9,523.5L637.1,524.7L639.6,525.5L642.0,526.3L643.9,528.1L645.8,529.9L648.1,530.9L650.3,532.1L652.5,533.4L655.0,534.0L657.5,534.6L659.6,536.2L661.6,537.7L663.8,538.9L665.8,540.5L667.9,542.0L670.4,542.5L673.0,543.2L675.1,544.5L677.3,545.6M605.1,509.8L607.1,511.4L609.4,512.6L611.4,514.1L613.5,515.6L616.1,516.0L618.6,516.7L620.7,518.1L622.9,519.3L625.1,520.5L627.0,522.3L629.0,523.9L631.5,524.6L633.9,525.4L636.1,526.6L638.6,527.4L640.9,528.4L642.7,530.3L644.7,532.0L647.0,532.9L649.3,534.1L651.5,535.2L654.1,535.7L656.5,536.6L658.4,538.3L660.5,539.8L662.7,541.0L664.7,542.6L666.9,543.9L669.5,544.3L672.0,545.0L674.0,546.5L676.3,547.7M604.5,511.0L606.5,512.6L608.8,513.7L610.8,515.2L613.0,516.4L615.7,516.8L618.1,517.6L620.1,519.1L622.3,520.4L624.5,521.7L626.4,523.5L628.5,524.9L631.1,525.4L633.5,526.3L635.7,527.5L638.0,528.4L640.3,529.6L642.1,531.5L644.1,533.1L646.5,533.9L648.8,535.0L651.1,536.1L653.6,536.6L655.9,537.6L657.8,539.5L659.9,541.0L662.1,542.1L664.2,543.6L666.4,544.7L669.1,545.1L671.5,546.0L673.5,547.6L675.7,548.8M603.6,512.7L605.7,514.1L608.0,515.2L610.1,516.6L612.4,517.7L615.0,518.0L617.4,519.0L619.3,520.7L621.5,521.9L623.7,523.3L625.6,525.0L627.8,526.2L630.4,526.6L632.8,527.6L634.9,528.9L637.3,529.8L639.4,531.2L641.2,533.2L643.3,534.5L645.8,535.2L648.1,536.3L650.4,537.3L652.9,537.9L655.1,539.2L656.9,541.1L659.0,542.5L661.3,543.6L663.4,545.0L665.8,546.0L668.4,546.3L670.7,547.4L672.7,549.1L674.8,550.3M602.1,515.5L604.2,516.8L606.6,517.8L608.7,519.2L611.1,520.1L613.7,520.5L615.9,521.7L617.9,523.4L620.0,524.7L622.2,526.0L624.1,527.7L626.5,528.7L629.1,529.0L631.4,530.1L633.5,531.5L635.8,532.5L637.9,534.0L639.7,535.9L642.0,537.1L644.5,537.7L646.8,538.8L649.1,539.8L651.6,540.5L653.6,542.0L655.4,543.9L657.6,545.2L659.9,546.2L662.1,547.5L664.5,548.3L667.1,548.8L669.3,550.1L671.2,551.8L673.4,553.1M601.2,517.2L603.4,518.4L605.8,519.3L608.0,520.6L610.4,521.4L613.0,521.9L615.1,523.3L617.0,525.1L619.2,526.4L621.3,527.7L623.3,529.2L625.8,530.0L628.4,530.4L630.6,531.6L632.7,533.1L635.0,534.2L637.0,535.8L638.8,537.6L641.2,538.5L643.8,539.0L646.0,540.2L648.3,541.2L650.7,542.1L652.7,543.7L654.5,545.7L656.8,546.8L659.2,547.7L661.3,548.9L663.8,549.7L666.3,550.2L668.4,551.7L670.3,553.5L672.5,554.7M600.2,519.0L602.6,520.0L605.0,520.9L607.2,522.1L609.6,522.8L612.1,523.5L614.1,525.1L616.0,526.9L618.2,528.1L620.4,529.3L622.5,530.8L625.0,531.4L627.6,531.9L629.7,533.3L631.8,534.8L634.0,536.0L636.0,537.6L638.0,539.2L640.4,540.0L643.0,540.5L645.2,541.7L647.5,542.8L649.8,543.8L651.7,545.6L653.6,547.4L655.9,548.3L658.3,549.2L660.5,550.4L663.0,551.1L665.5,551.9L667.4,553.6L669.3,555.4L671.6,556.5M599.4,520.5L601.9,521.3L604.3,522.1L606.5,523.3L608.9,524.1L611.4,524.9L613.3,526.7L615.2,528.5L617.5,529.5L619.7,530.8L621.8,532.0L624.4,532.6L626.9,533.2L628.9,534.8L631.0,536.3L633.2,537.5L635.2,539.1L637.2,540.6L639.8,541.1L642.3,541.8L644.5,543.1L646.7,544.3L649.0,545.4L650.8,547.2L652.8,548.9L655.2,549.6L657.7,550.5L659.9,551.7L662.3,552.4L664.7,553.3L666.6,555.2L668.5,556.9L670.8,557.9M598.7,521.9L601.2,522.6L603.6,523.4L605.8,524.6L608.3,525.4L610.6,526.4L612.4,528.3L614.4,530.0L616.7,530.9L619.0,532.1L621.2,533.3L623.8,533.8L626.2,534.6L628.1,536.3L630.1,537.9L632.4,539.0L634.4,540.6L636.6,541.9L639.2,542.3L641.6,543.0L643.7,544.5L645.9,545.7L648.1,546.9L650.0,548.8L652.1,550.3L654.6,550.9L657.0,551.7L659.2,552.9L661.6,553.7L663.9,554.8L665.7,556.8L667.7,558.4L670.1,559.3M597.9,523.5L600.4,524.0L602.8,524.8L605.0,526.1L607.4,527.0L609.6,528.2L611.4,530.2L613.5,531.7L615.9,532.5L618.2,533.6L620.4,534.7L623.0,535.2L625.3,536.2L627.2,538.1L629.2,539.6L631.5,540.7L633.5,542.2L635.8,543.3L638.5,543.7L640.8,544.6L642.8,546.2L645.0,547.4L647.2,548.7L649.1,550.6L651.2,551.8L653.8,552.3L656.2,553.2L658.4,554.4L660.8,555.3L662.9,556.6L664.7,558.6L666.8,560.0L669.3,560.8M596.9,525.2L599.6,525.6L601.9,526.6L604.1,527.9L606.4,528.8L608.6,530.2L610.3,532.2L612.5,533.5L615.0,534.2L617.3,535.3L619.6,536.3L622.1,536.9L624.3,538.2L626.1,540.1L628.2,541.5L630.5,542.6L632.6,544.0L634.9,544.9L637.6,545.3L639.9,546.4L641.8,548.1L644.0,549.4L646.1,550.7L648.0,552.5L650.3,553.5L653.0,553.9L655.3,554.9L657.4,556.2L659.8,557.2L661.9,558.7L663.7,560.6L665.9,561.9L668.4,562.5" stroke="#000" stroke-width="0.85" fill="none"/></g>
<polygon points="618.0,492.0 627.9,499.0 679.6,522.0 679.6,530.0 666.0,535.0 618.0,510.0" fill="none" stroke="#000" stroke-width="1.3" stroke-linejoin="round" />
<polyline points="666.0,527.0 679.6,522.0" fill="none" stroke="#000" stroke-width="1" stroke-linejoin="round" stroke-linecap="round" />
<polyline points="666.0,527.0 666.0,535.0" fill="none" stroke="#000" stroke-width="1.2" stroke-linejoin="round" stroke-linecap="round" />
<clipPath id="c26"><polygon points="533.0,498.4 541.2,495.0 640.0,544.0 640.0,552.0 628.0,559.0 533.0,506.0"/></clipPath>
<polygon points="533.0,498.4 541.2,495.0 640.0,544.0 640.0,552.0 628.0,559.0 533.0,506.0" fill="#fff" stroke="none"/>
<g clip-path="url(#c26)"><path d="M555.6,446.1L557.8,447.2L560.4,447.8L562.7,448.8L564.6,450.6L566.6,452.2L568.8,453.3L570.9,454.7L573.1,455.9L575.8,456.3L578.2,457.1L580.2,458.7L582.3,460.0L584.5,461.2L586.4,463.0L588.5,464.4L591.1,464.9L593.5,465.7L595.7,467.0L598.0,467.9L600.2,469.1L602.0,471.0L604.1,472.6L606.5,473.4L608.8,474.4L611.0,475.5L613.6,476.1L615.9,477.1L617.7,479.0L619.7,480.5L622.0,481.6L624.1,483.0L626.3,484.1L629.0,484.5L631.4,485.3L633.4,487.0L635.5,488.3L637.7,489.5L639.6,491.3L641.7,492.7L644.3,493.1L646.7,493.9L648.9,495.2L651.2,496.2L653.4,497.4L655.2,499.4L657.2,500.9L659.7,501.6L662.0,502.6L664.3,503.7L666.8,504.3L669.1,505.4L670.9,507.3M554.8,447.6L557.0,448.7L559.6,449.4L561.8,450.5L563.6,452.5L565.6,454.0L567.9,455.0L570.1,456.3L572.4,457.3L575.0,457.7L577.3,458.7L579.3,460.4L581.4,461.8L583.6,463.0L585.5,464.7L587.7,465.9L590.3,466.3L592.7,467.2L594.8,468.6L597.1,469.6L599.3,470.9L601.1,472.9L603.2,474.2L605.7,474.9L608.0,475.9L610.3,477.0L612.7,477.6L615.0,478.8L616.7,480.8L618.8,482.3L621.1,483.2L623.3,484.6L625.6,485.6L628.2,486.0L630.5,487.0L632.4,488.7L634.6,490.1L636.7,491.3L638.7,493.0L640.9,494.2L643.6,494.5L645.9,495.4L648.0,496.8L650.3,497.9L652.4,499.2L654.2,501.2L656.4,502.5L658.9,503.1L661.2,504.1L663.5,505.2L665.9,505.9L668.1,507.2L669.9,509.1M553.8,449.4L556.1,450.5L558.5,451.3L560.7,452.6L562.4,454.6L564.6,456.0L566.9,456.9L569.1,458.1L571.5,459.1L574.1,459.5L576.3,460.7L578.1,462.5L580.3,463.8L582.5,465.1L584.5,466.7L586.8,467.7L589.4,468.0L591.7,469.1L593.8,470.5L596.0,471.6L598.1,473.0L600.0,475.0L602.2,476.1L604.8,476.6L607.0,477.7L609.3,478.8L611.7,479.5L613.8,480.9L615.6,482.9L617.8,484.3L620.1,485.1L622.3,486.4L624.7,487.3L627.3,487.8L629.5,489.0L631.3,490.8L633.5,492.1L635.6,493.4L637.6,495.0L640.0,495.9L642.6,496.3L644.9,497.3L647.0,498.8L649.2,499.9L651.3,501.4L653.1,503.3L655.4,504.4L658.0,504.9L660.2,505.9L662.5,507.0L664.9,507.8L667.0,509.3L668.8,511.3M553.2,450.6L555.5,451.7L557.9,452.6L559.9,454.1L561.7,456.1L563.9,457.3L566.3,458.1L568.5,459.3L570.9,460.1L573.4,460.7L575.5,462.1L577.4,464.0L579.6,465.2L581.7,466.4L583.8,467.9L586.2,468.7L588.9,469.1L591.1,470.3L593.1,471.9L595.3,473.0L597.3,474.5L599.2,476.3L601.6,477.2L604.2,477.7L606.4,478.8L608.7,480.0L611.0,480.9L613.0,482.4L614.8,484.4L617.1,485.5L619.5,486.3L621.7,487.5L624.1,488.4L626.6,489.0L628.7,490.4L630.5,492.3L632.7,493.5L634.9,494.7L637.0,496.2L639.4,497.0L642.1,497.4L644.2,498.6L646.2,500.2L648.5,501.3L650.5,502.8L652.4,504.6L654.8,505.5L657.4,506.0L659.6,507.1L661.8,508.3L664.2,509.2L666.2,510.8L668.0,512.7M552.2,452.6L554.4,453.7L556.7,454.7L558.7,456.4L560.5,458.3L562.8,459.3L565.3,460.0L567.5,461.2L569.9,462.0L572.4,462.7L574.3,464.3L576.2,466.2L578.4,467.4L580.6,468.5L582.8,469.9L585.2,470.5L587.8,471.0L589.9,472.4L591.9,474.0L594.1,475.2L596.2,476.7L598.1,478.4L600.6,479.1L603.2,479.6L605.4,480.8L607.6,482.0L609.9,483.0L611.8,484.7L613.7,486.6L616.0,487.5L618.5,488.3L620.7,489.4L623.1,490.3L625.5,491.0L627.5,492.7L629.4,494.5L631.6,495.6L633.8,496.8L636.0,498.1L638.5,498.8L641.0,499.3L643.1,500.7L645.1,502.4L647.3,503.5L649.3,505.0L651.3,506.7L653.8,507.3L656.4,507.8L658.6,509.1L660.8,510.3L663.1,511.3L665.0,513.1L666.8,514.9M551.6,453.6L553.8,454.8L556.1,455.9L558.0,457.7L559.9,459.4L562.3,460.2L564.8,460.9L567.0,462.1L569.4,463.0L571.8,463.8L573.7,465.6L575.5,467.4L577.8,468.4L580.1,469.5L582.3,470.8L584.8,471.4L587.3,472.0L589.3,473.6L591.3,475.2L593.5,476.4L595.5,477.9L597.6,479.4L600.2,479.9L602.7,480.5L604.8,481.8L607.0,483.1L609.2,484.2L611.1,486.0L613.1,487.7L615.5,488.4L618.0,489.2L620.2,490.4L622.6,491.2L624.9,492.1L626.8,493.9L628.7,495.7L631.0,496.7L633.3,497.8L635.5,499.0L638.0,499.6L640.5,500.3L642.5,501.9L644.5,503.6L646.7,504.7L648.7,506.2L650.8,507.6L653.4,508.2L655.9,508.7L658.0,510.1L660.2,511.4L662.4,512.5L664.3,514.3L666.3,516.0M550.6,455.6L552.7,456.9L554.9,458.0L556.8,459.8L558.8,461.4L561.4,462.0L563.8,462.7L566.0,464.0L568.4,464.9L570.7,465.9L572.5,467.8L574.4,469.5L576.8,470.4L579.1,471.4L581.3,472.6L583.9,473.2L586.3,474.0L588.2,475.7L590.2,477.4L592.4,478.5L594.5,479.9L596.6,481.2L599.2,481.7L601.7,482.4L603.8,483.9L605.9,485.2L608.1,486.4L610.0,488.2L612.0,489.7L614.6,490.2L617.0,491.0L619.2,492.2L621.6,493.1L623.8,494.2L625.6,496.1L627.6,497.8L630.0,498.6L632.3,499.7L634.5,500.8L637.1,501.4L639.5,502.3L641.3,504.1L643.3,505.7L645.6,506.8L647.7,508.2L649.8,509.5L652.4,509.9L654.9,510.6L656.9,512.1L659.1,513.5L661.3,514.7L663.2,516.5L665.2,517.9M549.6,457.4L551.8,458.7L553.9,459.9L555.8,461.7L558.0,463.0L560.6,463.5L563.0,464.3L565.1,465.6L567.5,466.6L569.7,467.8L571.5,469.8L573.5,471.3L575.9,472.0L578.2,473.0L580.5,474.1L583.0,474.7L585.3,475.8L587.1,477.7L589.2,479.2L591.5,480.3L593.6,481.6L595.8,482.8L598.4,483.2L600.8,484.0L602.8,485.7L604.9,487.0L607.1,488.2L609.0,490.0L611.2,491.3L613.8,491.7L616.2,492.6L618.3,493.9L620.6,494.9L622.8,496.1L624.6,498.1L626.7,499.6L629.1,500.3L631.4,501.3L633.7,502.4L636.2,503.0L638.5,504.1L640.3,506.0L642.3,507.5L644.6,508.5L646.8,509.9L649.0,511.0L651.7,511.4L654.0,512.3L656.0,514.0L658.1,515.3L660.3,516.6L662.2,518.3L664.4,519.6M548.8,459.0L550.9,460.3L553.1,461.6L555.0,463.3L557.3,464.4L559.9,464.8L562.2,465.7L564.3,467.1L566.6,468.1L568.8,469.5L570.6,471.4L572.7,472.7L575.2,473.4L577.5,474.4L579.8,475.5L582.3,476.1L584.5,477.4L586.2,479.4L588.3,480.8L590.7,481.7L592.8,483.1L595.1,484.1L597.8,484.5L600.0,485.5L601.9,487.3L604.1,488.6L606.2,489.9L608.2,491.6L610.5,492.6L613.1,493.0L615.4,494.0L617.5,495.4L619.8,496.4L621.9,497.8L623.7,499.7L625.9,501.0L628.4,501.6L630.7,502.6L633.0,503.7L635.5,504.4L637.6,505.7L639.4,507.7L641.5,509.1L643.9,510.0L646.0,511.3L648.3,512.3L651.0,512.7L653.2,513.8L655.1,515.6L657.2,516.9L659.4,518.2L661.4,519.8L663.7,520.9M547.5,461.4L549.6,462.7L551.8,464.0L553.8,465.6L556.1,466.5L558.8,466.8L561.1,467.9L563.1,469.4L565.4,470.5L567.4,472.0L569.3,473.9L571.5,474.9L574.1,475.5L576.4,476.5L578.6,477.6L581.1,478.4L583.1,479.9L584.9,481.9L587.1,483.1L589.5,484.0L591.6,485.2L594.0,486.1L596.6,486.6L598.8,487.9L600.6,489.7L602.8,491.0L605.0,492.3L607.0,493.8L609.3,494.7L612.0,495.1L614.2,496.2L616.3,497.7L618.5,498.8L620.6,500.3L622.5,502.2L624.7,503.2L627.3,503.7L629.6,504.8L631.8,505.9L634.3,506.7L636.3,508.2L638.1,510.2L640.3,511.4L642.7,512.3L644.9,513.5L647.2,514.4L649.8,514.9L651.9,516.2L653.8,518.0L656.0,519.3L658.1,520.6L660.2,522.1L662.6,523.0M546.7,462.8L548.9,464.1L551.1,465.3L553.1,466.8L555.6,467.5L558.2,467.9L560.4,469.2L562.4,470.7L564.6,471.9L566.7,473.4L568.6,475.2L571.0,476.0L573.5,476.5L575.8,477.7L578.0,478.8L580.4,479.7L582.4,481.3L584.2,483.3L586.4,484.3L588.9,485.1L591.1,486.4L593.5,487.2L596.0,487.8L598.0,489.3L599.9,491.2L602.1,492.4L604.3,493.6L606.3,495.0L608.8,495.7L611.4,496.2L613.6,497.5L615.6,499.0L617.8,500.2L619.8,501.7L621.8,503.5L624.2,504.3L626.7,504.8L629.0,505.9L631.2,507.1L633.6,508.0L635.5,509.7L637.3,511.6L639.6,512.6L642.1,513.4L644.3,514.6L646.7,515.4L649.2,516.1L651.2,517.6L653.0,519.5L655.3,520.7L657.5,521.9L659.6,523.3L662.0,524.0M545.5,465.2L547.7,466.3L549.9,467.5L552.1,468.8L554.6,469.4L557.1,469.9L559.2,471.4L561.2,473.0L563.4,474.2L565.4,475.7L567.4,477.3L569.9,478.0L572.5,478.5L574.7,479.8L576.9,481.0L579.2,482.0L581.1,483.7L583.0,485.5L585.3,486.4L587.8,487.2L590.0,488.4L592.4,489.2L594.8,489.9L596.8,491.6L598.6,493.5L600.9,494.6L603.1,495.7L605.3,497.1L607.8,497.7L610.3,498.2L612.4,499.7L614.4,501.3L616.6,502.5L618.6,504.0L620.6,505.6L623.1,506.2L625.7,506.8L627.9,508.0L630.1,509.2L632.3,510.3L634.3,512.0L636.1,513.8L638.5,514.7L641.0,515.4L643.2,516.6L645.6,517.4L648.0,518.2L649.9,520.0L651.8,521.8L654.1,522.9L656.3,524.0L658.5,525.3L661.0,525.9M544.4,467.2L546.7,468.2L549.0,469.3L551.2,470.5L553.7,471.1L556.2,471.7L558.2,473.4L560.1,475.0L562.4,476.1L564.4,477.7L566.5,479.1L569.1,479.6L571.6,480.2L573.7,481.6L575.9,482.8L578.1,484.0L580.0,485.8L581.9,487.4L584.4,488.1L586.9,488.9L589.1,490.1L591.5,490.9L593.8,491.9L595.7,493.7L597.6,495.5L599.9,496.4L602.2,497.5L604.4,498.7L606.9,499.3L609.4,500.0L611.3,501.7L613.3,503.3L615.5,504.5L617.6,506.0L619.7,507.4L622.3,507.9L624.8,508.5L626.9,509.9L629.0,511.1L631.3,512.3L633.2,514.1L635.1,515.7L637.6,516.4L640.1,517.1L642.3,518.3L644.7,519.2L647.0,520.2L648.8,522.0L650.8,523.8L653.1,524.7L655.4,525.8L657.6,527.0L660.1,527.5M543.8,468.2L546.2,469.1L548.5,470.2L550.7,471.3L553.3,471.8L555.7,472.7L557.5,474.5L559.5,476.1L561.8,477.2L563.9,478.7L566.0,479.9L568.7,480.4L571.1,481.1L573.1,482.6L575.3,483.9L577.5,485.1L579.4,486.9L581.4,488.4L584.0,488.9L586.4,489.7L588.6,491.0L591.0,491.9L593.2,493.0L595.0,494.9L597.0,496.5L599.4,497.4L601.7,498.4L603.9,499.5L606.5,500.1L608.8,501.0L610.7,502.8L612.7,504.4L615.0,505.5L617.1,507.0L619.2,508.2L621.9,508.6L624.3,509.3L626.3,510.9L628.5,512.2L630.7,513.4L632.6,515.2L634.6,516.7L637.2,517.2L639.6,518.0L641.8,519.2L644.2,520.1L646.4,521.3L648.2,523.3L650.2,524.8L652.6,525.6L654.9,526.7L657.2,527.8L659.7,528.3M542.6,470.6L545.0,471.3L547.3,472.4L549.6,473.5L552.1,474.0L554.4,475.1L556.2,477.1L558.2,478.6L560.5,479.6L562.6,481.0L564.9,482.1L567.5,482.5L569.9,483.4L571.9,485.0L574.0,486.3L576.2,487.6L578.1,489.4L580.3,490.6L582.9,491.0L585.3,491.9L587.4,493.2L589.7,494.2L591.9,495.5L593.7,497.5L595.8,498.9L598.2,499.6L600.5,500.6L602.8,501.7L605.3,502.3L607.6,503.4L609.4,505.4L611.4,506.9L613.7,507.9L615.8,509.3L618.1,510.3L620.8,510.7L623.1,511.6L625.0,513.3L627.2,514.7L629.3,515.9L631.3,517.7L633.5,518.9L636.1,519.3L638.5,520.2L640.6,521.5L642.9,522.5L645.1,523.8L646.8,525.8L649.0,527.2L651.4,527.8L653.7,528.9L656.0,529.9L658.5,530.6M541.7,472.2L544.3,472.8L546.6,473.8L548.8,474.9L551.3,475.6L553.5,476.9L555.2,478.9L557.4,480.2L559.7,481.2L561.8,482.5L564.2,483.5L566.8,483.9L569.0,485.0L570.9,486.8L573.1,488.1L575.2,489.3L577.2,491.0L579.5,492.0L582.1,492.4L584.5,493.4L586.6,494.8L588.8,495.9L590.9,497.3L592.7,499.2L594.9,500.4L597.5,501.0L599.8,502.1L602.0,503.1L604.5,503.8L606.6,505.2L608.4,507.2L610.5,508.5L612.9,509.5L615.0,510.8L617.4,511.7L620.0,512.1L622.2,513.3L624.1,515.1L626.3,516.4L628.4,517.7L630.4,519.3L632.7,520.3L635.4,520.7L637.7,521.7L639.7,523.1L642.0,524.2L644.1,525.6L645.9,527.5L648.1,528.7L650.7,529.3L653.0,530.3L655.2,531.4L657.7,532.1M541.0,473.6L543.5,474.1L545.8,475.2L548.1,476.3L550.5,477.1L552.5,478.6L554.3,480.6L556.5,481.8L558.9,482.7L561.1,483.9L563.5,484.8L566.0,485.3L568.2,486.6L570.0,488.5L572.2,489.7L574.4,491.0L576.4,492.5L578.8,493.4L581.4,493.8L583.7,494.9L585.7,496.4L588.0,497.5L590.0,499.0L591.9,500.9L594.2,501.9L596.7,502.4L599.0,503.5L601.3,504.6L603.7,505.4L605.7,506.9L607.5,508.9L609.7,510.1L612.1,511.0L614.3,512.2L616.7,513.0L619.2,513.5L621.3,514.9L623.2,516.8L625.4,518.0L627.6,519.3L629.6,520.8L632.0,521.6L634.6,522.0L636.9,523.2L638.9,524.7L641.1,525.8L643.2,527.3L645.0,529.2L647.4,530.1L650.0,530.6L652.2,531.7L654.5,532.9L656.9,533.7M540.5,474.5L543.1,475.0L545.3,476.2L547.5,477.3L549.9,478.2L551.9,479.9L553.7,481.8L556.0,482.8L558.4,483.6L560.6,484.8L563.0,485.6L565.5,486.3L567.5,487.8L569.4,489.7L571.6,490.9L573.8,492.1L575.9,493.5L578.4,494.2L581.0,494.6L583.1,496.0L585.1,497.5L587.3,498.7L589.4,500.2L591.3,502.0L593.7,502.7L596.3,503.2L598.5,504.4L600.7,505.6L603.1,506.5L605.0,508.2L606.9,510.1L609.2,511.1L611.6,511.9L613.8,513.1L616.2,513.9L618.7,514.5L620.7,516.1L622.6,518.0L624.8,519.2L627.0,520.4L629.1,521.8L631.6,522.4L634.2,522.9L636.3,524.3L638.3,525.8L640.5,527.0L642.5,528.6L644.5,530.2L646.9,531.0L649.5,531.5L651.7,532.7L653.9,533.9L656.3,534.8M539.5,476.4L542.1,476.9L544.2,478.2L546.4,479.4L548.7,480.4L550.6,482.2L552.5,484.0L554.9,484.8L557.3,485.6L559.5,486.8L562.0,487.6L564.4,488.4L566.3,490.1L568.2,492.0L570.5,493.0L572.7,494.2L574.8,495.5L577.4,496.1L579.9,496.6L581.9,498.2L583.9,499.8L586.1,500.9L588.2,502.5L590.2,504.0L592.7,504.6L595.3,505.2L597.4,506.5L599.6,507.7L601.9,508.8L603.8,510.5L605.7,512.3L608.1,513.1L610.5,513.9L612.8,515.0L615.2,515.9L617.6,516.7L619.5,518.5L621.3,520.3L623.6,521.3L625.9,522.5L628.0,523.7L630.6,524.3L633.1,524.9L635.1,526.5L637.1,528.1L639.3,529.3L641.3,530.8L643.4,532.3L645.9,532.9L648.5,533.4L650.6,534.8L652.8,536.0L655.1,537.1M538.6,478.0L541.1,478.6L543.2,480.1L545.4,481.3L547.6,482.5L549.5,484.3L551.5,485.9L554.0,486.5L556.4,487.3L558.6,488.5L561.0,489.4L563.4,490.3L565.2,492.2L567.1,493.9L569.5,494.9L571.7,496.0L573.9,497.2L576.5,497.7L578.9,498.5L580.9,500.2L582.9,501.8L585.1,502.9L587.1,504.4L589.3,505.8L591.8,506.2L594.3,506.9L596.4,508.3L598.6,509.6L600.8,510.8L602.7,512.6L604.7,514.2L607.2,514.8L609.6,515.6L611.8,516.8L614.2,517.6L616.5,518.6L618.4,520.5L620.3,522.2L622.7,523.1L624.9,524.2L627.1,525.4L629.7,525.9L632.1,526.7L634.0,528.5L636.0,530.1L638.3,531.2L640.3,532.7L642.5,534.0L645.1,534.5L647.5,535.2L649.6,536.6L651.8,537.9L654.0,539.1M538.0,479.1L540.5,479.9L542.5,481.4L544.7,482.7L546.8,484.0L548.7,485.8L550.8,487.2L553.4,487.7L555.8,488.5L558.0,489.8L560.3,490.7L562.6,491.8L564.4,493.8L566.4,495.4L568.8,496.2L571.1,497.2L573.3,498.3L575.9,498.9L578.2,499.9L580.0,501.7L582.1,503.3L584.3,504.3L586.4,505.8L588.6,507.0L591.3,507.4L593.7,508.2L595.7,509.7L597.8,511.0L600.0,512.3L601.9,514.1L604.0,515.5L606.6,515.9L609.0,516.8L611.2,518.0L613.5,519.0L615.7,520.2L617.5,522.1L619.5,523.7L622.0,524.4L624.3,525.5L626.5,526.6L629.1,527.1L631.4,528.2L633.2,530.0L635.2,531.6L637.5,532.6L639.6,534.1L641.8,535.2L644.5,535.6L646.9,536.4L648.9,538.0L651.0,539.4L653.2,540.6M537.3,480.5L539.6,481.5L541.6,483.2L543.7,484.5L545.9,485.7L547.8,487.5L550.0,488.7L552.6,489.1L555.0,490.0L557.1,491.3L559.5,492.3L561.6,493.6L563.4,495.6L565.5,497.0L568.0,497.7L570.3,498.7L572.5,499.8L575.1,500.4L577.3,501.6L579.1,503.5L581.2,505.0L583.5,506.0L585.6,507.4L587.9,508.4L590.5,508.8L592.8,509.8L594.8,511.5L596.9,512.8L599.1,514.1L601.0,515.8L603.2,516.9L605.9,517.3L608.2,518.3L610.3,519.6L612.6,520.6L614.8,522.0L616.6,523.9L618.7,525.3L621.2,525.9L623.5,527.0L625.8,528.0L628.3,528.7L630.4,529.9L632.2,531.9L634.3,533.3L636.6,534.3L638.8,535.6L641.1,536.6L643.7,537.0L646.0,538.1L647.9,539.8L650.1,541.1L652.2,542.4M536.5,482.1L538.7,483.3L540.6,485.1L542.7,486.4L544.9,487.7L546.8,489.3L549.2,490.3L551.8,490.7L554.1,491.7L556.2,493.1L558.5,494.2L560.6,495.6L562.4,497.5L564.6,498.7L567.1,499.3L569.4,500.3L571.7,501.4L574.1,502.1L576.2,503.5L578.0,505.5L580.2,506.8L582.5,507.7L584.7,509.0L587.0,509.9L589.7,510.4L591.9,511.6L593.7,513.4L595.9,514.7L598.1,516.0L600.0,517.6L602.4,518.5L605.0,518.9L607.3,520.0L609.4,521.4L611.7,522.5L613.7,523.9L615.5,525.8L617.8,527.0L620.3,527.5L622.6,528.6L624.9,529.7L627.3,530.4L629.4,531.8L631.2,533.8L633.4,535.1L635.7,536.0L637.9,537.3L640.3,538.2L642.9,538.6L645.0,539.9L646.9,541.7L649.1,543.0L651.2,544.3M535.6,483.6L537.7,485.0L539.6,486.9L541.8,488.1L544.0,489.4L546.0,490.9L548.4,491.7L551.0,492.1L553.3,493.3L555.3,494.8L557.6,495.9L559.6,497.4L561.4,499.3L563.8,500.2L566.4,500.7L568.6,501.8L570.9,502.9L573.3,503.8L575.3,505.4L577.1,507.3L579.3,508.5L581.7,509.3L583.9,510.5L586.3,511.4L588.8,511.9L590.9,513.3L592.8,515.2L595.0,516.4L597.1,517.7L599.2,519.2L601.6,519.9L604.3,520.3L606.4,521.6L608.5,523.1L610.7,524.2L612.7,525.8L614.6,527.6L617.0,528.5L619.6,529.0L621.8,530.1L624.1,531.2L626.4,532.1L628.4,533.7L630.2,535.6L632.5,536.7L634.9,537.6L637.1,538.8L639.5,539.6L642.0,540.2L644.1,541.7L646.0,543.5L648.1,544.7L650.3,546.0M534.5,485.8L536.5,487.4L538.3,489.3L540.6,490.4L542.8,491.6L544.9,493.0L547.4,493.7L550.0,494.2L552.1,495.5L554.1,497.1L556.3,498.3L558.3,499.8L560.3,501.5L562.7,502.2L565.3,502.8L567.5,504.0L569.7,505.1L572.0,506.1L574.0,507.8L575.8,509.7L578.2,510.6L580.6,511.4L582.8,512.6L585.2,513.4L587.7,514.1L589.6,515.7L591.5,517.6L593.8,518.7L596.0,519.9L598.1,521.3L600.6,521.9L603.2,522.4L605.2,523.8L607.2,525.4L609.5,526.6L611.5,528.1L613.4,529.8L615.9,530.5L618.5,531.0L620.7,532.2L622.9,533.4L625.2,534.4L627.1,536.1L629.0,538.0L631.4,538.9L633.8,539.7L636.0,540.9L638.4,541.6L640.9,542.4L642.8,544.1L644.7,545.9L646.9,547.0L649.1,548.2M533.8,487.1L535.7,488.9L537.6,490.6L539.9,491.7L542.1,492.9L544.3,494.1L546.8,494.7L549.3,495.3L551.3,496.9L553.3,498.5L555.6,499.6L557.6,501.2L559.6,502.7L562.2,503.3L564.7,503.8L566.8,505.2L569.0,506.4L571.3,507.5L573.2,509.3L575.1,511.0L577.6,511.7L580.0,512.5L582.2,513.7L584.6,514.5L587.0,515.4L588.9,517.2L590.8,519.0L593.1,520.0L595.3,521.1L597.5,522.4L600.0,522.9L602.5,523.6L604.5,525.2L606.5,526.8L608.7,527.9L610.8,529.5L612.8,531.0L615.4,531.5L617.9,532.1L620.0,533.4L622.2,534.7L624.5,535.8L626.4,537.6L628.3,539.3L630.8,540.0L633.2,540.8L635.4,542.0L637.8,542.8L640.2,543.7L642.0,545.5L643.9,547.3L646.3,548.3L648.5,549.4M532.8,488.9L534.7,490.8L536.6,492.5L539.0,493.4L541.2,494.5L543.4,495.7L546.0,496.2L548.4,497.0L550.3,498.8L552.3,500.4L554.6,501.5L556.6,503.0L558.8,504.3L561.4,504.8L563.8,505.5L565.9,506.9L568.1,508.2L570.3,509.4L572.2,511.2L574.2,512.7L576.7,513.3L579.1,514.1L581.3,515.3L583.7,516.2L586.0,517.2L587.8,519.2L589.8,520.8L592.2,521.7L594.4,522.8L596.6,524.0L599.2,524.5L601.6,525.3L603.5,527.1L605.5,528.7L607.7,529.8L609.8,531.3L612.0,532.6L614.6,533.0L617.0,533.7L619.1,535.2L621.3,536.5L623.5,537.7L625.3,539.5L627.4,541.0L629.9,541.6L632.3,542.4L634.5,543.6L636.9,544.5L639.2,545.6L641.0,547.5L643.0,549.1L645.4,550.0L647.6,551.1M531.7,491.0L533.5,493.0L535.6,494.5L538.0,495.3L540.3,496.3L542.5,497.4L545.1,498.0L547.4,499.0L549.2,500.9L551.3,502.4L553.5,503.5L555.6,504.9L557.8,506.1L560.5,506.4L562.9,507.3L564.9,508.9L567.0,510.2L569.2,511.5L571.1,513.3L573.2,514.6L575.8,515.0L578.2,515.9L580.4,517.2L582.7,518.1L584.9,519.3L586.7,521.3L588.7,522.8L591.2,523.5L593.5,524.6L595.7,525.7L598.3,526.2L600.6,527.3L602.4,529.2L604.4,530.7L606.7,531.8L608.8,533.2L611.0,534.3L613.7,534.7L616.1,535.6L618.0,537.2L620.2,538.5L622.4,539.8L624.2,541.6L626.4,542.8L629.0,543.3L631.4,544.1L633.6,545.4L635.9,546.4L638.1,547.6L639.9,549.6L641.9,551.1L644.4,551.8L646.7,552.8M530.6,493.2L532.4,495.2L534.5,496.5L537.0,497.1L539.3,498.2L541.6,499.3L544.1,499.9L546.2,501.1L548.0,503.1L550.1,504.5L552.4,505.5L554.6,506.9L556.9,507.9L559.5,508.2L561.8,509.3L563.7,511.0L565.9,512.3L568.0,513.6L570.0,515.3L572.2,516.4L574.9,516.8L577.2,517.8L579.3,519.1L581.6,520.1L583.7,521.5L585.5,523.5L587.7,524.8L590.2,525.4L592.5,526.5L594.8,527.5L597.3,528.1L599.4,529.4L601.2,531.4L603.3,532.8L605.6,533.8L607.8,535.1L610.1,536.1L612.7,536.5L615.0,537.6L616.9,539.3L619.1,540.6L621.2,541.9L623.1,543.6L625.4,544.7L628.1,545.0L630.4,546.0L632.5,547.4L634.8,548.4L636.9,549.8L638.7,551.8L640.9,553.0L643.4,553.6L645.7,554.7M529.9,494.4L531.7,496.3L534.0,497.4L536.5,498.0L538.8,499.1L541.1,500.1L543.5,500.9L545.6,502.3L547.4,504.3L549.6,505.6L551.9,506.5L554.1,507.8L556.5,508.7L559.1,509.1L561.2,510.4L563.1,512.2L565.3,513.4L567.4,514.7L569.4,516.4L571.8,517.2L574.4,517.6L576.7,518.7L578.8,520.2L581.0,521.2L583.1,522.7L584.9,524.6L587.2,525.7L589.7,526.3L592.0,527.3L594.3,528.4L596.7,529.2L598.8,530.6L600.6,532.6L602.8,533.9L605.1,534.8L607.3,536.1L609.7,536.9L612.3,537.4L614.4,538.7L616.3,540.5L618.5,541.8L620.6,543.0L622.6,544.6L625.0,545.5L627.6,545.9L629.9,547.0L631.9,548.5L634.2,549.5L636.2,551.1L638.1,552.9L640.4,554.0L643.0,554.5L645.2,555.6M529.0,496.0L530.9,497.8L533.3,498.7L535.9,499.3L538.1,500.4L540.4,501.5L542.8,502.3L544.7,504.0L546.5,505.9L548.8,507.0L551.2,507.9L553.4,509.1L555.8,509.9L558.3,510.5L560.4,511.9L562.3,513.8L564.5,515.0L566.6,516.3L568.7,517.7L571.1,518.5L573.8,518.9L575.9,520.2L578.0,521.7L580.2,522.8L582.2,524.4L584.1,526.1L586.5,527.0L589.1,527.5L591.3,528.7L593.6,529.8L595.9,530.6L597.9,532.3L599.7,534.2L602.0,535.3L604.4,536.1L606.6,537.3L609.0,538.1L611.5,538.7L613.6,540.3L615.4,542.1L617.6,543.3L619.8,544.5L621.9,546.0L624.4,546.7L627.0,547.1L629.1,548.4L631.1,550.0L633.4,551.1L635.4,552.7L637.3,554.4L639.7,555.2L642.3,555.7L644.5,556.9M527.6,498.8L529.5,500.5L532.0,501.2L534.6,501.7L536.8,502.9L539.0,504.1L541.3,505.1L543.2,506.8L545.1,508.7L547.4,509.6L549.9,510.4L552.1,511.6L554.5,512.3L557.0,513.1L558.9,514.7L560.8,516.6L563.0,517.7L565.2,518.9L567.4,520.2L569.9,520.8L572.4,521.4L574.5,522.8L576.5,524.4L578.7,525.6L580.7,527.1L582.7,528.7L585.2,529.4L587.8,529.9L590.0,531.2L592.2,532.4L594.5,533.4L596.4,535.1L598.3,537.0L600.6,537.8L603.1,538.6L605.3,539.8L607.7,540.6L610.1,541.3L612.1,543.1L613.9,544.9L616.2,546.0L618.4,547.2L620.6,548.5L623.1,549.1L625.6,549.6L627.7,551.1L629.7,552.7L631.9,553.9L633.9,555.4L635.9,557.0L638.4,557.6L641.0,558.2L643.1,559.5M526.7,500.5L528.7,502.0L531.3,502.5L533.8,503.1L536.0,504.4L538.2,505.6L540.4,506.7L542.3,508.6L544.2,510.3L546.7,511.0L549.1,511.8L551.3,513.0L553.7,513.7L556.1,514.7L558.0,516.5L559.9,518.2L562.2,519.2L564.4,520.4L566.6,521.6L569.2,522.1L571.7,522.8L573.6,524.5L575.6,526.1L577.9,527.2L579.9,528.8L582.0,530.2L584.5,530.7L587.0,531.3L589.1,532.7L591.3,533.9L593.6,535.1L595.5,536.9L597.4,538.5L599.9,539.2L602.3,540.0L604.5,541.2L606.9,542.0L609.3,543.0L611.1,544.8L613.1,546.6L615.4,547.5L617.6,548.7L619.8,549.9L622.4,550.4L624.8,551.1L626.8,552.8L628.8,554.4L631.0,555.5L633.0,557.1L635.2,558.5L637.7,558.9L640.2,559.6L642.3,561.0M525.8,502.2L527.9,503.5L530.6,503.9L533.0,504.6L535.1,506.1L537.3,507.3L539.5,508.6L541.3,510.4L543.4,511.9L545.9,512.4L548.3,513.3L550.5,514.5L552.9,515.3L555.2,516.4L557.0,518.4L559.0,520.0L561.3,520.8L563.6,522.0L565.8,523.1L568.4,523.6L570.8,524.5L572.7,526.3L574.7,527.8L576.9,529.0L579.0,530.5L581.2,531.7L583.8,532.1L586.2,532.9L588.3,534.4L590.4,535.6L592.6,536.9L594.5,538.7L596.6,540.1L599.1,540.7L601.5,541.5L603.7,542.7L606.1,543.6L608.3,544.7L610.1,546.7L612.1,548.3L614.5,549.1L616.8,550.2L619.1,551.3L621.6,551.8L624.0,552.8L625.8,554.6L627.9,556.2L630.1,557.3L632.2,558.8L634.4,560.0L637.0,560.3L639.4,561.1L641.4,562.7M525.0,503.6L527.3,504.7L529.9,505.1L532.3,506.0L534.3,507.6L536.4,508.9L538.6,510.1L540.5,511.9L542.7,513.2L545.3,513.7L547.6,514.5L549.8,515.8L552.2,516.7L554.3,518.0L556.1,520.0L558.2,521.4L560.6,522.2L562.9,523.2L565.2,524.3L567.7,524.9L570.0,526.0L571.8,527.9L573.9,529.4L576.1,530.4L578.2,531.9L580.5,532.9L583.1,533.3L585.5,534.2L587.5,535.9L589.6,537.2L591.8,538.5L593.7,540.2L595.9,541.5L598.5,541.9L600.8,542.8L603.0,544.1L605.3,545.0L607.5,546.3L609.3,548.3L611.4,549.7L613.8,550.4L616.1,551.5L618.4,552.6L620.9,553.1L623.2,554.3L625.0,556.2L627.0,557.7L629.3,558.7L631.4,560.1L633.7,561.2L636.4,561.5L638.7,562.5L640.6,564.2M524.3,504.9L526.7,505.9L529.3,506.3L531.6,507.4L533.5,509.1L535.6,510.4L537.8,511.7L539.7,513.4L542.0,514.4L544.6,514.8L547.0,515.8L549.1,517.2L551.4,518.2L553.5,519.6L555.3,521.6L557.5,522.8L560.0,523.4L562.2,524.5L564.5,525.5L567.0,526.2L569.2,527.5L571.0,529.5L573.1,530.9L575.4,531.8L577.5,533.2L579.9,534.1L582.5,534.5L584.7,535.7L586.7,537.4L588.8,538.7L591.0,540.0L592.9,541.7L595.2,542.7L597.9,543.1L600.2,544.1L602.3,545.5L604.6,546.5L606.6,547.9L608.4,549.9L610.7,551.1L613.2,551.7L615.4,552.8L617.7,553.8L620.2,554.5L622.3,555.9L624.1,557.8L626.3,559.2L628.6,560.1L630.7,561.5L633.1,562.3L635.7,562.8L637.9,564.0L639.8,565.7M523.5,506.4L525.9,507.3L528.5,507.7L530.7,509.1L532.5,510.8L534.7,512.1L536.9,513.4L538.9,515.0L541.3,515.8L543.9,516.2L546.1,517.4L548.2,518.8L550.5,519.9L552.5,521.4L554.4,523.3L556.7,524.3L559.2,524.9L561.5,526.0L563.7,527.0L566.2,527.8L568.2,529.3L570.0,531.3L572.2,532.5L574.6,533.4L576.7,534.7L579.1,535.5L581.7,536.0L583.8,537.4L585.7,539.2L587.9,540.4L590.1,541.7L592.1,543.3L594.5,544.1L597.1,544.5L599.3,545.7L601.4,547.1L603.7,548.2L605.7,549.7L607.5,551.6L609.9,552.6L612.4,553.1L614.7,554.2L616.9,555.3L619.4,556.1L621.4,557.7L623.2,559.6L625.4,560.8L627.8,561.7L629.9,562.9L632.4,563.7L634.9,564.3L637.0,565.7L638.9,567.5M522.6,508.1L525.1,508.9L527.6,509.5L529.6,511.0L531.5,512.8L533.7,514.0L535.9,515.3L537.9,516.8L540.4,517.4L543.0,517.9L545.2,519.2L547.2,520.7L549.4,521.9L551.4,523.4L553.4,525.2L555.8,526.0L558.3,526.5L560.5,527.7L562.8,528.8L565.2,529.7L567.1,531.4L568.9,533.3L571.2,534.3L573.6,535.2L575.8,536.4L578.3,537.1L580.8,537.8L582.8,539.3L584.7,541.2L586.9,542.3L589.0,543.6L591.1,545.0L593.6,545.7L596.2,546.1L598.3,547.5L600.4,549.0L602.6,550.2L604.6,551.8L606.5,553.5L609.0,554.2L611.5,554.8L613.7,556.0L616.0,557.1L618.3,558.0L620.3,559.7L622.1,561.6L624.4,562.6L626.8,563.4L629.0,564.6L631.5,565.4L634.0,566.0L635.9,567.7L637.8,569.5M521.7,509.8L524.2,510.6L526.6,511.3L528.5,513.1L530.4,514.9L532.7,515.9L534.9,517.2L537.0,518.5L539.6,519.0L542.1,519.6L544.1,521.1L546.2,522.7L548.4,523.8L550.4,525.4L552.4,527.0L554.9,527.6L557.4,528.2L559.6,529.5L561.8,530.6L564.1,531.7L566.0,533.5L567.9,535.2L570.3,536.1L572.7,536.9L574.9,538.1L577.4,538.8L579.8,539.6L581.7,541.4L583.6,543.2L585.9,544.2L588.1,545.4L590.2,546.7L592.8,547.3L595.3,547.9L597.3,549.4L599.3,551.0L601.6,552.1L603.6,553.7L605.6,555.3L608.1,555.9L610.6,556.4L612.8,557.7L615.0,558.9L617.3,560.0L619.2,561.8L621.1,563.5L623.5,564.3L625.9,565.1L628.1,566.3L630.6,567.1L633.0,567.9L634.9,569.7L636.8,571.5M521.1,511.0L523.6,511.7L525.9,512.7L527.7,514.6L529.7,516.3L532.0,517.2L534.2,518.4L536.4,519.6L539.0,520.1L541.4,520.9L543.4,522.5L545.4,524.1L547.6,525.3L549.6,526.8L551.7,528.2L554.3,528.7L556.8,529.3L558.9,530.7L561.1,531.9L563.4,533.1L565.2,535.0L567.2,536.5L569.7,537.2L572.1,538.0L574.3,539.2L576.7,540.0L579.1,541.0L580.9,542.9L582.8,544.6L585.2,545.5L587.4,546.7L589.6,547.8L592.2,548.3L594.6,549.1L596.6,550.9L598.6,552.4L600.8,553.6L602.8,555.1L605.0,556.5L607.6,556.9L610.0,557.6L612.1,559.0L614.3,560.2L616.5,561.4L618.4,563.3L620.4,564.8L622.9,565.4L625.3,566.3L627.5,567.5L629.9,568.3L632.2,569.3L634.1,571.2L636.0,572.9M519.9,513.2L522.3,514.0L524.6,515.1L526.4,517.1L528.4,518.7L530.8,519.5L533.0,520.6L535.3,521.7L537.9,522.2L540.2,523.2L542.1,525.0L544.1,526.5L546.3,527.7L548.4,529.2L550.6,530.4L553.2,530.8L555.6,531.6L557.7,533.1L559.9,534.3L562.0,535.6L563.9,537.4L566.0,538.8L568.6,539.3L571.0,540.2L573.1,541.4L575.5,542.3L577.7,543.5L579.5,545.4L581.6,547.0L584.0,547.8L586.2,548.9L588.5,550.0L591.1,550.5L593.4,551.5L595.2,553.4L597.3,554.9L599.5,556.0L601.6,557.5L603.8,558.6L606.4,559.0L608.8,559.8L610.9,561.4L613.0,562.6L615.2,563.9L617.1,565.7L619.2,567.1L621.8,567.6L624.2,568.4L626.3,569.7L628.7,570.6L630.9,571.8L632.7,573.8L634.7,575.3M519.1,514.8L521.4,515.7L523.6,517.0L525.4,519.0L527.5,520.4L529.9,521.1L532.2,522.2L534.5,523.3L537.0,523.8L539.2,525.0L541.0,526.9L543.1,528.4L545.4,529.4L547.5,530.9L549.8,531.9L552.4,532.2L554.8,533.2L556.7,534.9L558.9,536.2L561.0,537.5L562.9,539.3L565.2,540.4L567.8,540.8L570.1,541.8L572.3,543.1L574.6,544.0L576.7,545.4L578.5,547.4L580.6,548.7L583.1,549.4L585.4,550.5L587.7,551.5L590.2,552.1L592.4,553.3L594.2,555.3L596.3,556.7L598.6,557.7L600.7,559.1L603.0,560.1L605.6,560.5L607.9,561.5L609.9,563.2L612.1,564.5L614.2,565.8L616.1,567.6L618.4,568.7L621.0,569.1L623.3,570.0L625.5,571.3L627.8,572.3L629.9,573.7L631.7,575.7L633.8,577.0M518.6,515.7L520.9,516.7L522.9,518.2L524.7,520.2L527.0,521.3L529.5,522.0L531.7,523.0L534.0,524.1L536.5,524.7L538.6,526.1L540.4,528.1L542.6,529.4L544.9,530.4L547.0,531.7L549.4,532.6L552.0,533.0L554.2,534.2L556.1,536.0L558.3,537.3L560.4,538.6L562.4,540.3L564.7,541.2L567.4,541.6L569.7,542.6L571.8,544.0L574.1,545.0L576.1,546.5L577.9,548.5L580.2,549.6L582.7,550.2L585.0,551.3L587.2,552.3L589.7,553.0L591.8,554.5L593.6,556.4L595.8,557.7L598.1,558.7L600.2,560.0L602.6,560.9L605.2,561.3L607.4,562.5L609.3,564.3L611.5,565.6L613.6,566.9L615.6,568.5L617.9,569.4L620.6,569.8L622.8,570.9L624.9,572.3L627.2,573.4L629.3,574.9L631.1,576.8L633.4,577.9M517.2,518.3L519.5,519.4L521.5,520.9L523.4,522.8L525.7,523.7L528.2,524.3L530.5,525.4L532.8,526.5L535.2,527.3L537.2,528.9L539.0,530.8L541.2,532.0L543.6,532.9L545.7,534.1L548.2,534.9L550.7,535.4L552.8,536.9L554.7,538.7L556.9,539.9L559.0,541.2L561.1,542.8L563.5,543.5L566.1,543.9L568.3,545.1L570.4,546.6L572.7,547.7L574.7,549.3L576.5,551.1L578.9,552.0L581.4,552.6L583.7,553.7L586.0,554.7L588.4,555.6L590.4,557.2L592.2,559.1L594.4,560.2L596.8,561.1L599.0,562.4L601.4,563.2L603.9,563.7L606.0,565.2L607.9,567.0L610.1,568.2L612.2,569.5L614.3,571.0L616.7,571.7L619.3,572.2L621.5,573.4L623.6,574.9L625.8,576.0L627.8,577.6L629.7,579.4L632.1,580.3M516.5,519.7L518.7,520.8L520.7,522.5L522.6,524.2L525.1,524.9L527.6,525.5L529.8,526.7L532.1,527.7L534.4,528.7L536.4,530.4L538.2,532.3L540.5,533.3L542.9,534.1L545.1,535.3L547.6,536.1L550.1,536.7L552.0,538.4L553.9,540.2L556.1,541.3L558.3,542.6L560.4,544.0L562.9,544.6L565.5,545.1L567.6,546.5L569.6,548.0L571.9,549.2L573.9,550.8L575.8,552.4L578.3,553.2L580.8,553.7L583.0,554.9L585.3,556.0L587.6,557.0L589.5,558.7L591.4,560.6L593.7,561.5L596.1,562.4L598.3,563.6L600.8,564.3L603.2,565.0L605.2,566.7L607.1,568.5L609.3,569.6L611.5,570.9L613.6,572.2L616.1,572.8L618.7,573.4L620.8,574.8L622.8,576.3L625.0,577.5L627.0,579.1L629.0,580.7L631.5,581.4M515.3,521.9L517.5,523.1L519.5,524.7L521.5,526.2L524.1,526.8L526.6,527.4L528.7,528.7L531.0,529.8L533.2,530.9L535.1,532.8L537.0,534.5L539.5,535.3L541.9,536.1L544.1,537.3L546.5,538.0L548.9,538.9L550.8,540.7L552.7,542.4L555.0,543.5L557.2,544.7L559.4,546.0L561.9,546.5L564.4,547.1L566.4,548.7L568.5,550.2L570.7,551.4L572.7,553.0L574.7,554.5L577.3,555.0L579.8,555.7L581.9,557.0L584.2,558.1L586.4,559.2L588.3,561.1L590.2,562.8L592.7,563.5L595.1,564.3L597.3,565.5L599.7,566.3L602.1,567.2L604.0,569.0L605.9,570.7L608.2,571.8L610.4,573.0L612.6,574.2L615.1,574.7L617.6,575.4L619.6,577.0L621.6,578.6L623.9,579.7L625.8,581.3L627.9,582.8L630.5,583.3M514.6,523.3L516.8,524.5L518.8,526.0L520.9,527.4L523.5,527.8L526.0,528.5L528.1,529.9L530.3,531.1L532.5,532.3L534.3,534.2L536.4,535.7L538.9,536.4L541.3,537.2L543.5,538.4L545.9,539.2L548.2,540.2L550.0,542.1L552.0,543.8L554.3,544.7L556.6,545.9L558.8,547.0L561.4,547.5L563.8,548.3L565.7,550.1L567.7,551.6L570.0,552.8L572.0,554.3L574.1,555.6L576.7,556.0L579.2,556.8L581.3,558.2L583.5,559.4L585.7,560.6L587.5,562.5L589.6,564.0L592.1,564.6L594.5,565.4L596.7,566.6L599.1,567.4L601.4,568.5L603.2,570.5L605.2,572.1L607.5,573.0L609.8,574.1L612.0,575.3L614.6,575.7L617.0,576.6L618.9,578.4L620.9,579.9L623.1,581.1L625.2,582.6L627.3,583.9L630.0,584.3M513.4,525.4L515.7,526.6L517.7,528.1L519.9,529.2L522.6,529.6L525.0,530.4L527.0,532.0L529.2,533.2L531.3,534.5L533.2,536.4L535.3,537.7L537.9,538.2L540.3,539.0L542.5,540.3L544.9,541.1L547.1,542.4L548.8,544.4L550.9,545.9L553.3,546.6L555.6,547.8L557.8,548.8L560.4,549.3L562.7,550.4L564.5,552.3L566.6,553.7L568.8,554.9L570.9,556.3L573.2,557.5L575.8,557.8L578.2,558.7L580.2,560.3L582.4,561.5L584.5,562.8L586.4,564.7L588.5,565.9L591.1,566.4L593.5,567.3L595.7,568.6L598.1,569.4L600.2,570.7L602.0,572.7L604.1,574.1L606.5,574.9L608.8,576.0L611.0,577.1L613.6,577.6L615.9,578.7L617.7,580.6L619.8,582.1L622.0,583.2L624.1,584.6L626.4,585.7L629.0,586.1M512.6,526.9L514.9,528.0L517.0,529.4L519.3,530.3L522.0,530.7L524.3,531.8L526.2,533.4L528.4,534.7L530.5,536.0L532.4,537.8L534.7,538.9L537.3,539.3L539.6,540.3L541.8,541.6L544.1,542.5L546.2,543.9L548.0,545.9L550.2,547.2L552.7,547.9L554.9,549.0L557.2,550.0L559.7,550.6L561.9,551.9L563.7,553.8L565.8,555.2L568.1,556.2L570.2,557.6L572.5,558.6L575.2,559.0L577.5,560.0L579.4,561.7L581.6,563.0L583.7,564.3L585.6,566.1L587.9,567.1L590.5,567.5L592.8,568.5L595.0,569.8L597.3,570.8L599.4,572.2L601.2,574.2L603.4,575.5L605.9,576.1L608.1,577.2L610.4,578.2L612.9,578.9L615.1,580.2L616.9,582.1L619.0,583.5L621.3,584.5L623.4,585.9L625.8,586.8L628.4,587.2M511.6,528.8L513.9,529.8L516.1,531.1L518.5,532.0L521.1,532.4L523.3,533.7L525.2,535.4L527.4,536.6L529.5,538.0L531.4,539.7L533.8,540.5L536.4,540.9L538.7,542.0L540.8,543.4L543.1,544.4L545.1,546.0L547.0,547.9L549.2,549.0L551.8,549.6L554.0,550.7L556.3,551.7L558.8,552.4L560.8,553.9L562.6,555.9L564.8,557.1L567.1,558.1L569.3,559.4L571.7,560.2L574.3,560.6L576.4,562.0L578.3,563.7L580.5,565.0L582.7,566.3L584.6,567.9L587.0,568.8L589.7,569.2L591.9,570.3L594.0,571.7L596.3,572.8L598.3,574.3L600.1,576.2L602.4,577.2L605.0,577.8L607.2,578.9L609.5,579.9L612.0,580.7L614.0,582.2L615.8,584.2L618.0,585.4L620.3,586.3L622.5,587.6L624.9,588.4L627.5,588.9M510.8,530.4L513.1,531.3L515.3,532.6L517.8,533.3L520.3,533.9L522.4,535.3L524.3,537.1L526.5,538.3L528.6,539.7L530.6,541.2L533.1,541.9L535.7,542.3L537.9,543.6L540.0,545.0L542.2,546.1L544.2,547.7L546.1,549.5L548.5,550.4L551.0,551.0L553.2,552.1L555.5,553.2L557.9,554.0L559.9,555.7L561.7,557.6L564.0,558.7L566.3,559.6L568.5,560.8L571.0,561.6L573.5,562.1L575.5,563.6L577.4,565.4L579.6,566.6L581.8,568.0L583.8,569.4L586.3,570.1L588.9,570.6L591.1,571.9L593.1,573.3L595.4,574.4L597.4,576.1L599.3,577.8L601.7,578.6L604.2,579.2L606.4,580.4L608.7,581.4L611.1,582.3L613.1,584.0L614.9,585.9L617.2,586.9L619.5,587.8L621.7,589.1L624.2,589.8L626.7,590.4M510.2,531.5L512.6,532.4L514.8,533.6L517.2,534.3L519.7,535.0L521.6,536.7L523.5,538.5L525.8,539.6L527.9,540.9L530.0,542.3L532.6,542.9L535.1,543.4L537.2,544.8L539.3,546.3L541.5,547.5L543.5,549.1L545.4,550.8L547.9,551.4L550.5,552.0L552.7,553.2L554.9,554.3L557.2,555.3L559.1,557.1L561.0,558.9L563.4,559.8L565.8,560.7L568.0,561.9L570.4,562.6L572.9,563.3L574.8,565.0L576.7,566.8L579.0,567.9L581.1,569.2L583.3,570.5L585.8,571.1L588.3,571.6L590.4,573.1L592.4,574.6L594.7,575.8L596.6,577.4L598.6,579.0L601.1,579.7L603.7,580.2L605.9,581.5L608.1,582.6L610.4,583.6L612.3,585.4L614.2,587.2L616.6,588.1L619.0,588.9L621.2,590.1L623.6,590.8L626.1,591.6M509.3,533.2L511.7,534.1L513.9,535.3L516.3,536.0L518.7,536.9L520.6,538.7L522.5,540.4L524.8,541.5L527.0,542.7L529.2,543.9L531.8,544.4L534.2,545.1L536.2,546.7L538.2,548.3L540.5,549.4L542.4,551.0L544.5,552.5L547.1,553.0L549.6,553.6L551.7,555.0L554.0,556.1L556.2,557.3L558.0,559.1L560.0,560.8L562.5,561.5L564.9,562.3L567.1,563.5L569.5,564.3L571.9,565.2L573.7,567.1L575.7,568.8L578.0,569.8L580.2,571.0L582.4,572.2L585.0,572.7L587.4,573.4L589.4,575.0L591.4,576.6L593.6,577.7L595.6,579.3L597.7,580.7L600.3,581.2L602.8,581.9L604.9,583.3L607.1,584.4L609.4,585.6L611.2,587.4L613.2,589.1L615.7,589.7L618.1,590.6L620.3,591.8L622.7,592.5L625.1,593.5M508.4,534.9L510.8,535.7L513.0,536.9L515.4,537.7L517.7,538.8L519.5,540.7L521.5,542.3L523.9,543.2L526.1,544.4L528.3,545.5L530.9,546.0L533.3,546.9L535.2,548.7L537.2,550.2L539.5,551.3L541.5,552.9L543.6,554.1L546.3,554.5L548.7,555.3L550.8,556.8L553.0,558.0L555.2,559.2L557.0,561.1L559.1,562.5L561.6,563.1L564.0,564.0L566.2,565.2L568.6,566.0L570.9,567.1L572.7,569.1L574.7,570.6L577.1,571.5L579.3,572.6L581.5,573.8L584.1,574.2L586.5,575.2L588.4,577.0L590.4,578.5L592.6,579.6L594.7,581.2L596.9,582.4L599.5,582.8L601.9,583.6L604.0,585.1L606.2,586.3L608.3,587.5L610.2,589.4L612.3,590.8L614.8,591.3L617.2,592.2L619.4,593.4L621.8,594.2L624.0,595.4M507.5,536.5L509.9,537.4L512.1,538.7L514.5,539.5L516.6,540.8L518.4,542.8L520.5,544.2L522.9,545.0L525.2,546.1L527.4,547.2L530.0,547.7L532.3,548.8L534.1,550.7L536.2,552.1L538.4,553.3L540.5,554.7L542.8,555.8L545.4,556.2L547.8,557.1L549.7,558.7L551.9,559.9L554.1,561.2L555.9,563.1L558.1,564.3L560.7,564.8L563.1,565.7L565.3,566.9L567.6,567.8L569.8,569.1L571.6,571.1L573.7,572.5L576.1,573.3L578.4,574.4L580.6,575.4L583.2,576.0L585.4,577.1L587.3,579.0L589.3,580.5L591.6,581.6L593.7,583.0L596.0,584.0L598.6,584.4L600.9,585.4L602.9,587.0L605.1,588.2L607.2,589.6L609.1,591.4L611.3,592.6L613.9,593.0L616.3,593.9L618.5,595.2L620.8,596.1L623.0,597.4M506.8,538.0L509.1,539.0L511.2,540.3L513.6,541.2L515.6,542.7L517.4,544.6L519.6,545.9L522.1,546.5L524.3,547.7L526.7,548.7L529.2,549.3L531.3,550.6L533.1,552.5L535.2,553.9L537.5,554.9L539.6,556.3L542.0,557.2L544.6,557.6L546.9,558.8L548.8,560.4L551.0,561.7L553.1,563.1L555.0,564.8L557.3,565.8L560.0,566.2L562.3,567.2L564.4,568.5L566.7,569.5L568.8,571.0L570.6,572.9L572.8,574.1L575.3,574.8L577.6,575.9L579.9,576.9L582.4,577.5L584.5,578.9L586.3,580.9L588.4,582.2L590.7,583.2L592.8,584.6L595.2,585.5L597.8,585.9L600.1,587.0L602.0,588.8L604.2,590.0L606.3,591.4L608.2,593.1L610.6,594.0L613.2,594.4L615.5,595.5L617.6,596.8L619.9,597.8L622.0,599.3M505.9,539.6L508.1,540.7L510.2,542.1L512.5,543.2L514.5,544.7L516.4,546.6L518.7,547.6L521.2,548.2L523.4,549.4L525.7,550.4L528.2,551.1L530.2,552.6L532.0,554.6L534.2,555.8L536.6,556.8L538.7,558.1L541.1,558.9L543.7,559.3L545.8,560.7L547.8,562.4L549.9,563.7L552.1,565.0L554.1,566.6L556.5,567.4L559.1,567.8L561.3,569.0L563.4,570.4L565.7,571.5L567.7,573.0L569.5,574.9L571.9,575.9L574.4,576.5L576.6,577.6L578.9,578.6L581.4,579.4L583.4,581.0L585.2,582.9L587.4,584.1L589.8,585.0L591.9,586.3L594.3,587.1L596.9,587.6L599.0,589.0L600.9,590.8L603.1,592.0L605.2,593.3L607.2,594.9L609.7,595.7L612.3,596.1L614.5,597.3L616.6,598.7L618.9,599.8L620.9,601.4M505.0,541.2L507.2,542.5L509.2,544.0L511.5,545.1L513.5,546.7L515.4,548.5L517.8,549.3L520.3,549.9L522.5,551.1L524.8,552.1L527.2,553.0L529.2,554.7L531.0,556.6L533.3,557.6L535.6,558.5L537.8,559.7L540.3,560.5L542.8,561.1L544.8,562.6L546.7,564.4L548.9,565.6L551.1,566.9L553.1,568.4L555.6,569.0L558.2,569.5L560.4,570.8L562.4,572.3L564.7,573.4L566.6,575.0L568.6,576.8L571.0,577.5L573.5,578.1L575.7,579.3L578.0,580.4L580.4,581.3L582.3,583.0L584.2,584.9L586.5,585.9L588.8,586.8L591.0,588.0L593.5,588.7L596.0,589.3L598.0,590.9L599.9,592.7L602.1,593.9L604.3,595.2L606.3,596.6L608.8,597.3L611.4,597.7L613.5,599.1L615.6,600.6L617.8,601.7L619.8,603.4M504.3,542.5L506.4,544.0L508.4,545.5L510.7,546.7L512.6,548.3L514.6,549.9L517.1,550.5L519.7,551.1L521.8,552.4L524.1,553.5L526.4,554.5L528.3,556.3L530.2,558.1L532.6,558.9L534.9,559.8L537.2,561.0L539.6,561.7L542.0,562.5L544.0,564.2L545.9,566.0L548.1,567.1L550.3,568.4L552.4,569.7L555.0,570.2L557.5,570.8L559.6,572.3L561.6,573.8L563.8,575.0L565.8,576.6L567.8,578.2L570.3,578.8L572.9,579.4L575.0,580.7L577.3,581.8L579.6,582.8L581.4,584.6L583.4,586.4L585.8,587.2L588.1,588.1L590.4,589.2L592.8,590.0L595.2,590.8L597.1,592.6L599.0,594.3L601.3,595.4L603.5,596.6L605.6,597.9L608.2,598.4L610.7,599.1L612.7,600.6L614.8,602.1L617.0,603.3L619.0,604.9M503.5,544.1L505.5,545.7L507.5,547.2L509.7,548.4L511.7,550.0L513.8,551.4L516.4,551.9L518.9,552.6L521.0,554.0L523.2,555.1L525.5,556.2L527.3,558.1L529.3,559.7L531.8,560.4L534.2,561.3L536.4,562.5L538.8,563.2L541.2,564.2L543.0,566.1L544.9,567.7L547.3,568.7L549.5,569.9L551.7,571.1L554.3,571.6L556.7,572.3L558.6,574.0L560.7,575.5L562.9,576.7L564.9,578.3L567.0,579.7L569.6,580.1L572.1,580.8L574.2,582.2L576.4,583.4L578.6,584.6L580.5,586.5L582.5,588.0L585.0,588.7L587.4,589.5L589.6,590.7L592.0,591.5L594.3,592.5L596.2,594.4L598.1,596.0L600.5,597.0L602.7,598.2L604.9,599.3L607.5,599.8L609.9,600.6L611.8,602.3L613.9,603.9L616.1,605.0L618.1,606.6" stroke="#000" stroke-width="0.85" fill="none"/></g>
<polygon points="533.0,498.4 541.2,495.0 640.0,544.0 640.0,552.0 628.0,559.0 533.0,506.0" fill="none" stroke="#000" stroke-width="1.3" stroke-linejoin="round" />
<polyline points="628.0,551.0 640.0,544.0" fill="none" stroke="#000" stroke-width="1" stroke-linejoin="round" stroke-linecap="round" />
<polyline points="628.0,551.0 628.0,559.0" fill="none" stroke="#000" stroke-width="1.2" stroke-linejoin="round" stroke-linecap="round" />
<ellipse cx="634" cy="548" rx="2.2" ry="1.6" transform="rotate(0 634 548)" fill="#222" stroke="none" stroke-width="1"/>
<clipPath id="c27"><polygon points="537.0,428.0 547.6,422.3 547.6,410.4 581.2,391.9 582.9,399.4 589.6,396.0 589.6,386.0 612.3,375.0 612.3,398.0 623.2,410.4 578.7,435.6 552.6,417.0"/></clipPath>
<polygon points="537.0,428.0 547.6,422.3 547.6,410.4 581.2,391.9 582.9,399.4 589.6,396.0 589.6,386.0 612.3,375.0 612.3,398.0 623.2,410.4 578.7,435.6 552.6,417.0" fill="#fff" stroke="none"/>
<g clip-path="url(#c27)"><path d="M628.5,359.1L628.9,361.6L629.1,364.1L629.1,366.6L629.3,369.2L629.7,371.7L630.4,374.1L631.3,376.5L632.5,378.9L633.7,381.3L634.8,383.6L635.7,386.1L636.5,388.5L637.2,390.9L638.0,393.3L639.1,395.7L640.3,398.1L641.8,400.4L642.5,402.9L642.9,405.4L643.1,407.9L643.0,410.4L642.5,413.1L641.8,415.7L641.0,418.3L640.3,421.0L639.7,423.6L639.5,426.2L639.4,428.7L639.3,431.3L639.2,433.8L638.9,436.4M625.2,359.6L625.5,362.1L625.6,364.6L625.7,367.1L625.9,369.6L626.5,372.1L627.3,374.5L628.5,376.9L629.8,379.3L631.0,381.6L632.1,384.0L633.1,386.4L633.9,388.8L634.7,391.3L635.6,393.7L636.7,396.1L637.9,398.4L639.4,400.8L640.0,403.2L640.3,405.7L640.3,408.3L639.9,410.9L639.2,413.5L638.4,416.2L637.6,418.8L636.9,421.5L636.5,424.1L636.3,426.6L636.2,429.2L636.2,431.7L636.1,434.3L635.8,436.9M619.8,360.3L620.0,362.8L620.1,365.4L620.3,367.9L620.7,370.4L621.4,372.8L622.5,375.2L623.8,377.6L625.1,379.9L626.5,382.3L627.6,384.6L628.5,387.1L629.4,389.5L630.2,391.9L631.1,394.3L632.2,396.7L633.5,399.1L634.8,401.4L635.4,403.9L635.4,406.4L635.2,409.0L634.7,411.6L633.9,414.3L633.0,416.9L632.1,419.6L631.5,422.2L631.2,424.8L631.1,427.4L631.2,429.9L631.2,432.4L631.2,435.0L631.0,437.5M614.7,361.0L614.9,363.6L615.1,366.1L615.4,368.6L616.0,371.0L616.9,373.4L618.2,375.8L619.6,378.2L621.0,380.5L622.4,382.8L623.5,385.2L624.4,387.6L625.2,390.1L626.0,392.5L626.9,394.9L628.0,397.3L629.2,399.7L630.5,402.0L630.9,404.5L630.8,407.1L630.4,409.7L629.6,412.3L628.7,415.0L627.8,417.6L627.1,420.3L626.6,422.9L626.4,425.5L626.5,428.0L626.6,430.5L626.7,433.0L626.7,435.6L626.6,438.2M609.2,361.8L609.5,364.3L609.7,366.8L610.2,369.3L611.0,371.7L612.1,374.1L613.6,376.5L615.1,378.8L616.6,381.1L617.9,383.5L618.9,385.9L619.7,388.3L620.5,390.7L621.3,393.2L622.1,395.6L623.2,398.0L624.4,400.3L625.5,402.7L625.7,405.2L625.5,407.8L624.9,410.4L624.1,413.1L623.2,415.8L622.3,418.4L621.7,421.1L621.3,423.6L621.3,426.2L621.5,428.7L621.8,431.2L622.0,433.7L622.0,436.3L621.8,438.8M602.6,362.8L602.9,365.2L603.3,367.7L604.0,370.2L605.0,372.6L606.3,374.9L607.9,377.3L609.4,379.6L610.9,381.9L612.1,384.3L613.1,386.7L613.8,389.1L614.5,391.6L615.2,394.0L616.0,396.4L617.0,398.8L618.1,401.2L619.2,403.6L619.2,406.2L618.8,408.8L618.1,411.4L617.3,414.1L616.4,416.7L615.6,419.4L615.1,422.0L615.0,424.5L615.2,427.1L615.5,429.5L615.8,432.0L616.1,434.6L616.1,437.1L615.9,439.6M599.3,363.2L599.7,365.7L600.3,368.2L601.1,370.6L602.3,373.0L603.8,375.3L605.4,377.6L607.0,379.9L608.4,382.3L609.5,384.7L610.3,387.1L610.9,389.5L611.5,392.0L612.2,394.4L613.0,396.9L613.9,399.3L614.9,401.7L615.9,404.1L615.8,406.6L615.3,409.2L614.5,411.9L613.7,414.6L612.8,417.2L612.3,419.8L612.0,422.4L612.0,425.0L612.4,427.4L612.8,429.9L613.2,432.4L613.4,434.9L613.4,437.5L613.3,440.0M593.2,364.1L593.8,366.5L594.5,369.0L595.6,371.4L596.9,373.7L598.5,376.0L600.1,378.3L601.6,380.7L602.9,383.0L603.8,385.4L604.5,387.9L605.0,390.4L605.5,392.8L606.1,395.3L606.9,397.7L607.8,400.1L608.7,402.5L609.6,405.0L609.4,407.5L608.9,410.2L608.1,412.8L607.3,415.5L606.6,418.1L606.2,420.7L606.1,423.2L606.4,425.7L606.9,428.2L607.4,430.7L607.8,433.2L607.9,435.7L607.9,438.2L607.7,440.8M589.4,364.6L590.1,367.1L591.0,369.5L592.2,371.8L593.7,374.2L595.3,376.5L596.9,378.8L598.2,381.2L599.3,383.5L600.1,386.0L600.6,388.4L601.0,390.9L601.4,393.4L602.0,395.9L602.8,398.3L603.7,400.7L604.6,403.1L605.3,405.6L605.1,408.1L604.5,410.8L603.8,413.4L603.1,416.0L602.6,418.7L602.4,421.2L602.5,423.7L603.0,426.2L603.5,428.7L604.1,431.2L604.4,433.6L604.5,436.2L604.4,438.7L604.1,441.3M584.6,365.3L585.4,367.7L586.4,370.1L587.8,372.5L589.3,374.8L590.9,377.1L592.3,379.4L593.6,381.8L594.5,384.2L595.0,386.7L595.4,389.2L595.7,391.7L596.1,394.2L596.7,396.6L597.4,399.1L598.3,401.5L599.2,403.9L600.0,406.3L599.8,408.9L599.2,411.5L598.5,414.1L598.0,416.8L597.6,419.4L597.6,421.9L598.0,424.4L598.5,426.9L599.1,429.3L599.6,431.8L599.9,434.3L599.9,436.8L599.6,439.4L599.2,442.0M579.7,366.0L580.6,368.4L581.8,370.8L583.2,373.1L584.7,375.4L586.2,377.8L587.5,380.1L588.6,382.5L589.2,385.0L589.6,387.4L589.9,390.0L590.1,392.5L590.5,394.9L591.1,397.4L591.9,399.8L592.9,402.2L593.8,404.7L594.5,407.1L594.3,409.7L593.8,412.3L593.3,414.9L592.9,417.5L592.7,420.0L592.9,422.6L593.4,425.0L594.0,427.5L594.6,429.9L595.0,432.4L595.1,435.0L595.0,437.5L594.6,440.1L594.1,442.7M574.2,366.7L575.2,369.1L576.4,371.5L577.8,373.9L579.2,376.2L580.6,378.5L581.8,380.9L582.6,383.4L583.1,385.8L583.3,388.3L583.5,390.9L583.7,393.4L584.1,395.8L584.8,398.3L585.7,400.7L586.7,403.1L587.6,405.5L588.4,407.9L588.3,410.5L587.8,413.1L587.4,415.7L587.1,418.3L587.2,420.8L587.5,423.3L588.1,425.8L588.7,428.2L589.2,430.7L589.5,433.2L589.5,435.7L589.1,438.3L588.6,441.0L588.0,443.6M570.5,367.3L571.5,369.7L572.7,372.0L574.1,374.4L575.4,376.7L576.7,379.1L577.6,381.5L578.2,384.0L578.5,386.5L578.7,389.0L578.8,391.5L579.1,394.0L579.6,396.5L580.4,398.9L581.4,401.3L582.4,403.7L583.4,406.1L584.2,408.5L584.1,411.1L583.8,413.7L583.5,416.3L583.4,418.8L583.5,421.3L584.0,423.8L584.6,426.3L585.1,428.7L585.6,431.2L585.7,433.7L585.4,436.3L584.9,438.9L584.2,441.6L583.6,444.2M567.7,367.7L568.8,370.0L570.0,372.4L571.3,374.8L572.5,377.1L573.6,379.5L574.3,382.0L574.8,384.5L574.9,387.0L575.0,389.5L575.2,392.0L575.5,394.5L576.2,397.0L577.1,399.4L578.2,401.8L579.3,404.1L580.4,406.5L581.3,408.9L581.2,411.5L580.9,414.1L580.7,416.6L580.8,419.2L581.0,421.7L581.5,424.2L582.1,426.6L582.5,429.1L582.8,431.6L582.7,434.2L582.2,436.8L581.6,439.4L580.8,442.0L580.1,444.7M562.5,368.4L563.5,370.8L564.7,373.2L565.9,375.5L567.0,377.9L567.9,380.3L568.4,382.8L568.7,385.3L568.8,387.8L568.9,390.4L569.1,392.9L569.6,395.3L570.5,397.8L571.6,400.1L572.8,402.5L574.0,404.9L575.1,407.3L576.0,409.7L576.0,412.2L575.7,414.8L575.6,417.4L575.7,419.9L576.0,422.4L576.5,424.9L577.0,427.3L577.3,429.8L577.4,432.4L577.1,435.0L576.4,437.6L575.6,440.2L574.8,442.9L574.2,445.5M558.3,369.0L559.2,371.4L560.3,373.8L561.4,376.2L562.4,378.6L563.1,381.0L563.6,383.5L563.8,386.0L563.8,388.5L564.0,391.0L564.3,393.5L565.0,396.0L566.0,398.4L567.3,400.8L568.6,403.1L569.9,405.5L571.0,407.9L571.9,410.3L571.9,412.8L571.7,415.4L571.6,417.9L571.8,420.4L572.1,422.9L572.5,425.4L572.9,427.9L573.0,430.4L572.9,433.0L572.4,435.6L571.6,438.3L570.7,440.9L569.9,443.6L569.3,446.2M551.5,369.9L552.4,372.4L553.4,374.7L554.4,377.2L555.2,379.6L555.8,382.0L556.2,384.5L556.3,387.0L556.5,389.6L556.7,392.1L557.3,394.5L558.1,397.0L559.3,399.3L560.7,401.7L562.1,404.0L563.4,406.4L564.5,408.8L565.4,411.2L565.4,413.7L565.2,416.3L565.2,418.8L565.3,421.4L565.6,423.9L566.0,426.3L566.2,428.9L566.1,431.4L565.8,434.0L565.1,436.6L564.2,439.3L563.3,442.0L562.5,444.6L562.0,447.2M546.7,370.6L547.6,373.0L548.6,375.4L549.5,377.8L550.2,380.3L550.8,382.7L551.1,385.2L551.2,387.8L551.4,390.3L551.9,392.8L552.6,395.2L553.7,397.6L555.1,399.9L556.5,402.3L558.0,404.6L559.3,407.0L560.3,409.3L561.2,411.8L561.2,414.3L561.0,416.9L560.9,419.4L561.0,422.0L561.2,424.5L561.5,427.0L561.5,429.5L561.3,432.1L560.7,434.7L559.9,437.4L559.0,440.0L558.1,442.7L557.5,445.3L557.1,447.9M541.8,371.3L542.6,373.7L543.5,376.1L544.4,378.6L545.1,381.0L545.5,383.5L545.8,386.0L546.1,388.5L546.4,391.0L547.0,393.4L548.0,395.8L549.3,398.2L550.8,400.5L552.3,402.9L553.8,405.2L555.0,407.6L556.0,410.0L556.7,412.4L556.7,414.9L556.4,417.5L556.3,420.1L556.4,422.6L556.5,425.1L556.6,427.7L556.5,430.2L556.1,432.8L555.5,435.4L554.6,438.1L553.7,440.8L552.9,443.4L552.4,446.0L552.2,448.6M536.6,372.0L537.5,374.4L538.4,376.9L539.2,379.3L539.8,381.7L540.3,384.2L540.6,386.7L541.0,389.2L541.5,391.7L542.3,394.1L543.5,396.5L544.9,398.8L546.5,401.1L548.1,403.4L549.5,405.8L550.6,408.2L551.4,410.6L552.1,413.0L552.0,415.6L551.7,418.2L551.6,420.7L551.6,423.3L551.6,425.8L551.6,428.4L551.3,430.9L550.8,433.6L550.1,436.2L549.2,438.9L548.3,441.5L547.7,444.2L547.4,446.7L547.4,449.3M531.7,372.7L532.6,375.1L533.5,377.5L534.3,380.0L535.0,382.4L535.5,384.9L535.9,387.4L536.4,389.8L537.1,392.3L538.1,394.7L539.4,397.0L541.0,399.4L542.6,401.7L544.1,404.0L545.4,406.4L546.4,408.8L547.1,411.2L547.7,413.7L547.4,416.2L547.1,418.8L546.9,421.4L546.9,423.9L546.9,426.5L546.7,429.0L546.4,431.6L545.8,434.3L545.0,436.9L544.1,439.6L543.4,442.2L542.9,444.8L542.8,447.4L543.0,449.9M526.0,373.5L527.0,375.9L527.9,378.3L528.8,380.8L529.4,383.2L530.0,385.7L530.5,388.1L531.2,390.6L532.0,393.0L533.2,395.4L534.6,397.7L536.3,400.0L537.9,402.3L539.3,404.7L540.4,407.1L541.2,409.5L541.8,412.0L542.2,414.4L541.9,417.0L541.6,419.6L541.4,422.2L541.3,424.7L541.2,427.3L541.0,429.9L540.6,432.5L539.9,435.1L539.2,437.7L538.4,440.4L537.8,443.0L537.6,445.6L537.7,448.1L538.0,450.6M521.4,374.2L522.4,376.6L523.4,379.0L524.3,381.4L525.1,383.8L525.7,386.3L526.3,388.7L527.1,391.2L528.1,393.5L529.4,395.9L530.9,398.2L532.6,400.5L534.1,402.9L535.3,405.2L536.3,407.6L536.9,410.1L537.3,412.6L537.7,415.1L537.3,417.7L536.9,420.3L536.7,422.8L536.6,425.4L536.5,427.9L536.3,430.5L535.8,433.1L535.2,435.8L534.5,438.4L533.9,441.0L533.5,443.6L533.4,446.2L533.7,448.7L534.2,451.1M518.0,374.6L519.1,377.0L520.2,379.4L521.1,381.8L521.9,384.3L522.6,386.7L523.3,389.1L524.2,391.6L525.4,393.9L526.8,396.3L528.3,398.6L529.9,400.9L531.2,403.3L532.3,405.7L533.1,408.1L533.5,410.6L533.8,413.1L534.1,415.6L533.7,418.2L533.3,420.8L533.2,423.3L533.1,425.9L532.9,428.4L532.7,431.0L532.2,433.6L531.7,436.2L531.1,438.9L530.6,441.5L530.4,444.0L530.6,446.6L531.0,449.0L531.6,451.5M511.5,375.5L512.8,377.9L513.9,380.3L514.9,382.7L515.7,385.1L516.4,387.6L517.2,390.0L518.2,392.4L519.4,394.8L520.9,397.1L522.4,399.4L523.8,401.8L525.0,404.1L525.9,406.6L526.4,409.0L526.7,411.5L526.9,414.0L527.2,416.6L526.8,419.1L526.5,421.7L526.4,424.3L526.3,426.8L526.2,429.4L526.0,432.0L525.6,434.6L525.1,437.2L524.6,439.8L524.3,442.4L524.3,444.9L524.6,447.4L525.1,449.9L525.8,452.3M508.0,376.1L509.3,378.4L510.4,380.8L511.4,383.2L512.3,385.6L513.0,388.0L513.9,390.5L514.9,392.9L516.2,395.2L517.6,397.6L519.0,399.9L520.3,402.3L521.3,404.7L522.0,407.1L522.3,409.6L522.5,412.1L522.7,414.6L522.9,417.1L522.7,419.7L522.4,422.3L522.4,424.8L522.4,427.4L522.3,429.9L522.1,432.5L521.8,435.1L521.3,437.7L521.0,440.3L520.9,442.8L521.0,445.4L521.4,447.8L522.0,450.3L522.6,452.8" stroke="#000" stroke-width="0.75" fill="none"/></g>
<polygon points="537.0,428.0 547.6,422.3 547.6,410.4 581.2,391.9 582.9,399.4 589.6,396.0 589.6,386.0 612.3,375.0 612.3,398.0 623.2,410.4 578.7,435.6 552.6,417.0" fill="none" stroke="#000" stroke-width="2" stroke-linejoin="round" />
<polyline points="552.6,417.0 560.0,428.0 578.7,435.6" fill="none" stroke="#000" stroke-width="1" stroke-linejoin="round" stroke-linecap="round" />
<clipPath id="c28"><polygon points="530.0,438.3 537.0,428.0 552.6,417.0 578.7,435.6 623.2,410.4 604.7,394.4 622.4,383.5 698.8,428.8 679.8,439.6 667.5,434.6 662.5,437.1 670.8,445.3 637.8,463.5 626.3,458.5 619.7,461.8 627.9,469.2 609.8,480.8"/></clipPath>
<polygon points="530.0,438.3 537.0,428.0 552.6,417.0 578.7,435.6 623.2,410.4 604.7,394.4 622.4,383.5 698.8,428.8 679.8,439.6 667.5,434.6 662.5,437.1 670.8,445.3 637.8,463.5 626.3,458.5 619.7,461.8 627.9,469.2 609.8,480.8" fill="#fff" stroke="none"/>
<g clip-path="url(#c28)"><path d="M657.7,300.2L659.3,302.1L661.1,303.9L663.0,305.7L664.9,307.5L666.8,309.3L668.6,311.1L670.3,313.0L671.9,314.9L673.4,317.0L674.9,319.0L676.4,321.0L678.0,323.0L679.7,324.8L681.7,326.5L683.9,328.1L686.2,329.6L688.7,331.1L691.2,332.5L693.6,333.9L696.0,335.4L698.1,337.0L700.1,338.7L701.9,340.5L703.6,342.4L705.3,344.3L706.9,346.2L708.6,348.1L710.5,350.0L712.4,351.7L714.3,353.5L716.3,355.2L718.3,356.9L720.1,358.7L721.8,360.6L723.4,362.6L724.8,364.7L726.1,366.8L727.3,369.0L728.6,371.1L729.1,373.8L729.6,376.4L730.4,378.9L731.4,381.2L732.5,383.5L733.7,385.7L735.0,387.8L736.3,390.0L737.4,392.2L738.4,394.6L739.3,397.0L740.1,399.4L740.8,401.9L741.6,404.4L742.4,406.8L743.4,409.2L744.4,411.5L745.6,413.7L746.7,416.0L747.9,418.2L748.9,420.5L749.8,422.9L750.5,425.4L751.0,428.1L751.3,430.8L751.5,433.7L751.7,436.5L751.9,439.3L752.2,442.1L752.7,444.8L753.3,447.3L754.2,449.7M653.3,302.9L655.0,304.8L656.8,306.6L658.7,308.4L660.6,310.2L662.5,311.9L664.4,313.7L666.1,315.6L667.7,317.6L669.3,319.5L670.8,321.5L672.4,323.5L674.2,325.3L676.1,327.1L678.2,328.7L680.5,330.2L682.9,331.7L685.4,333.1L687.9,334.5L690.3,335.9L692.6,337.5L694.6,339.2L696.5,341.0L698.2,342.9L699.8,344.8L701.3,346.8L702.9,348.8L704.6,350.7L706.4,352.5L708.2,354.3L710.2,356.0L712.1,357.8L714.0,359.6L715.8,361.4L717.4,363.3L718.9,365.4L720.3,367.5L721.6,369.6L722.9,371.7L724.3,373.8L724.9,376.4L725.6,378.9L726.6,381.3L727.7,383.5L729.0,385.7L730.3,387.8L731.6,389.9L732.9,392.1L734.0,394.4L735.0,396.7L735.8,399.1L736.6,401.6L737.3,404.1L738.0,406.6L738.8,409.1L739.8,411.5L740.8,413.8L741.9,416.1L743.0,418.3L744.0,420.6L744.9,423.0L745.6,425.5L746.2,428.1L746.6,430.9L746.8,433.7L746.9,436.5L747.1,439.4L747.4,442.2L747.8,444.9L748.4,447.4L749.2,449.9L750.1,452.3M647.6,306.5L649.4,308.3L651.3,310.1L653.2,311.8L655.2,313.5L657.2,315.3L659.0,317.1L660.8,318.9L662.4,320.8L664.1,322.8L665.7,324.7L667.4,326.6L669.3,328.4L671.4,330.1L673.6,331.6L676.0,333.1L678.5,334.5L681.0,335.9L683.4,337.3L685.7,338.8L687.8,340.5L689.7,342.3L691.4,344.1L693.0,346.1L694.5,348.1L695.9,350.2L697.5,352.1L699.1,354.1L700.9,355.9L702.8,357.7L704.7,359.5L706.6,361.3L708.4,363.1L710.1,364.9L711.7,366.9L713.2,368.9L714.6,371.0L716.0,373.1L717.4,375.2L719.0,377.2L719.7,379.7L720.6,382.0L721.7,384.3L723.0,386.5L724.3,388.6L725.7,390.7L727.1,392.8L728.3,395.0L729.3,397.3L730.2,399.7L731.0,402.2L731.7,404.7L732.3,407.2L733.1,409.7L733.8,412.2L734.7,414.6L735.7,416.9L736.7,419.3L737.7,421.6L738.7,424.0L739.4,426.4L740.0,429.0L740.5,431.7L740.8,434.5L740.9,437.3L741.1,440.2L741.3,443.0L741.7,445.7L742.2,448.3L743.0,450.8L743.9,453.2L745.0,455.4M643.2,309.2L645.1,311.0L647.0,312.7L649.1,314.4L651.1,316.1L653.1,317.8L655.0,319.6L656.8,321.4L658.5,323.3L660.2,325.2L661.9,327.1L663.8,328.9L665.8,330.6L667.9,332.2L670.2,333.7L672.7,335.2L675.1,336.6L677.6,338.0L679.9,339.5L682.0,341.1L684.0,342.8L685.7,344.7L687.3,346.7L688.7,348.7L690.2,350.8L691.6,352.9L693.1,354.9L694.8,356.8L696.5,358.7L698.4,360.4L700.3,362.2L702.2,364.0L704.0,365.8L705.7,367.7L707.3,369.7L708.8,371.7L710.3,373.7L711.7,375.8L713.3,377.8L715.0,379.6L715.9,382.0L716.9,384.3L718.2,386.5L719.6,388.6L721.0,390.7L722.4,392.8L723.7,394.9L724.8,397.1L725.8,399.5L726.6,402.0L727.2,404.5L727.9,407.1L728.5,409.6L729.1,412.2L729.9,414.7L730.7,417.1L731.7,419.5L732.6,421.8L733.5,424.2L734.3,426.7L735.0,429.2L735.5,431.8L735.9,434.6L736.1,437.4L736.3,440.2L736.5,443.0L736.9,445.8L737.4,448.4L738.1,450.9L739.0,453.3L740.1,455.6L741.3,457.8M637.3,312.9L639.3,314.6L641.3,316.3L643.5,317.9L645.6,319.6L647.6,321.3L649.5,323.0L651.3,324.8L653.1,326.7L654.9,328.5L656.7,330.4L658.6,332.1L660.7,333.8L662.9,335.3L665.2,336.8L667.7,338.3L670.1,339.7L672.4,341.2L674.6,342.8L676.6,344.5L678.4,346.4L680.0,348.3L681.4,350.4L682.7,352.5L684.1,354.6L685.5,356.7L687.0,358.7L688.7,360.6L690.5,362.4L692.4,364.2L694.3,365.9L696.2,367.7L698.1,369.5L699.8,371.4L701.4,373.4L702.9,375.4L704.5,377.4L706.0,379.3L707.7,381.2L709.6,383.0L710.6,385.3L711.8,387.5L713.2,389.6L714.6,391.7L716.0,393.8L717.4,395.9L718.6,398.1L719.6,400.4L720.5,402.8L721.2,405.3L721.7,407.9L722.3,410.6L722.8,413.2L723.4,415.7L724.1,418.3L725.0,420.7L725.8,423.1L726.7,425.5L727.6,427.9L728.3,430.4L728.9,433.0L729.3,435.7L729.7,438.5L729.9,441.3L730.1,444.1L730.5,446.8L730.9,449.5L731.6,452.0L732.5,454.4L733.6,456.7L734.8,458.9L736.1,461.0M633.2,315.5L635.3,317.1L637.5,318.7L639.7,320.3L641.8,321.9L643.9,323.6L645.8,325.3L647.7,327.1L649.5,329.0L651.3,330.8L653.1,332.6L655.1,334.3L657.3,335.9L659.5,337.5L661.9,339.0L664.2,340.4L666.6,341.9L668.8,343.5L670.8,345.2L672.6,347.0L674.2,349.0L675.7,351.0L677.0,353.1L678.3,355.3L679.6,357.4L681.0,359.5L682.6,361.4L684.3,363.3L686.2,365.1L688.2,366.8L690.1,368.6L692.0,370.3L693.9,372.1L695.6,374.0L697.3,375.9L698.9,377.9L700.5,379.8L702.2,381.7L704.0,383.5L706.0,385.2L707.2,387.5L708.5,389.6L709.9,391.7L711.4,393.7L712.8,395.8L714.0,398.0L715.1,400.3L716.0,402.7L716.7,405.2L717.2,407.8L717.7,410.5L718.2,413.1L718.7,415.8L719.2,418.4L719.9,420.9L720.7,423.3L721.6,425.8L722.4,428.2L723.2,430.6L723.9,433.2L724.5,435.8L724.9,438.5L725.2,441.2L725.5,444.0L725.8,446.8L726.3,449.4L726.9,452.0L727.7,454.4L728.8,456.7L730.0,458.9L731.3,461.0L732.7,463.1M629.2,318.0L631.4,319.5L633.7,321.1L636.0,322.6L638.1,324.2L640.2,325.9L642.2,327.6L644.0,329.4L645.8,331.2L647.7,333.0L649.6,334.8L651.6,336.5L653.7,338.1L656.0,339.7L658.3,341.2L660.6,342.7L662.8,344.3L664.8,346.0L666.7,347.7L668.3,349.7L669.8,351.7L671.1,353.9L672.4,356.0L673.6,358.2L675.0,360.3L676.5,362.3L678.1,364.2L680.0,366.1L681.9,367.8L683.9,369.5L685.9,371.2L687.9,372.9L689.8,374.7L691.6,376.5L693.3,378.4L694.9,380.3L696.7,382.2L698.5,384.1L700.4,385.8L702.5,387.4L703.8,389.6L705.2,391.7L706.6,393.8L708.0,395.8L709.3,398.0L710.4,400.2L711.4,402.6L712.1,405.1L712.6,407.7L713.1,410.4L713.4,413.1L713.8,415.8L714.3,418.5L714.9,421.1L715.6,423.6L716.4,426.1L717.2,428.5L718.0,430.9L718.8,433.4L719.4,436.0L720.0,438.6L720.4,441.3L720.8,444.0L721.1,446.7L721.6,449.4L722.2,452.0L723.0,454.5L724.0,456.8L725.2,459.0L726.5,461.1L727.9,463.2L729.3,465.3M625.3,320.4L627.6,321.9L630.0,323.4L632.3,324.9L634.5,326.5L636.5,328.2L638.4,329.9L640.3,331.7L642.1,333.6L643.9,335.4L645.8,337.1L647.8,338.8L650.0,340.5L652.2,342.0L654.4,343.6L656.6,345.2L658.7,346.9L660.6,348.6L662.3,350.5L663.8,352.5L665.1,354.6L666.4,356.8L667.6,359.0L668.9,361.2L670.3,363.2L671.9,365.2L673.6,367.1L675.6,368.8L677.6,370.5L679.7,372.1L681.8,373.8L683.8,375.5L685.7,377.2L687.5,379.1L689.3,380.9L691.0,382.8L692.8,384.6L694.7,386.4L696.8,388.1L699.0,389.6L700.3,391.8L701.7,393.9L703.0,396.0L704.4,398.1L705.5,400.3L706.5,402.7L707.3,405.1L707.9,407.7L708.3,410.4L708.6,413.2L708.9,416.0L709.2,418.7L709.7,421.4L710.3,423.9L711.0,426.4L711.9,428.9L712.7,431.3L713.5,433.7L714.3,436.2L714.9,438.8L715.5,441.4L715.9,444.1L716.4,446.8L716.8,449.4L717.4,452.0L718.2,454.5L719.1,456.8L720.3,459.1L721.6,461.2L723.0,463.3L724.5,465.3L725.8,467.4M621.2,323.0L623.6,324.4L626.0,325.9L628.3,327.4L630.4,329.0L632.4,330.7L634.3,332.5L636.1,334.3L637.9,336.2L639.7,338.0L641.6,339.8L643.6,341.5L645.7,343.1L647.8,344.7L650.0,346.4L652.1,348.0L654.0,349.8L655.7,351.6L657.3,353.6L658.7,355.7L660.0,357.9L661.2,360.1L662.4,362.2L663.8,364.4L665.3,366.4L667.0,368.2L668.9,370.0L671.0,371.7L673.1,373.3L675.3,374.9L677.4,376.5L679.5,378.2L681.4,379.9L683.3,381.7L685.1,383.6L686.9,385.4L688.7,387.2L690.7,388.9L692.8,390.6L695.0,392.1L696.4,394.2L697.7,396.3L699.0,398.5L700.2,400.7L701.2,403.0L702.0,405.5L702.6,408.0L703.0,410.7L703.3,413.5L703.6,416.3L703.8,419.1L704.2,421.8L704.7,424.5L705.4,427.0L706.1,429.5L707.0,431.9L707.9,434.3L708.7,436.7L709.5,439.2L710.2,441.8L710.8,444.4L711.3,447.0L711.8,449.6L712.4,452.2L713.1,454.7L714.0,457.1L715.1,459.4L716.4,461.5L717.8,463.6L719.2,465.7L720.6,467.7L721.9,469.9M618.8,324.4L621.3,325.9L623.7,327.3L625.9,328.9L628.0,330.6L629.9,332.3L631.7,334.1L633.5,336.0L635.2,337.9L637.0,339.7L638.8,341.5L640.8,343.2L642.8,344.9L644.9,346.6L647.0,348.3L648.9,350.0L650.7,351.8L652.3,353.8L653.8,355.8L655.1,357.9L656.3,360.1L657.6,362.3L658.9,364.4L660.4,366.5L662.0,368.4L663.9,370.2L666.0,371.8L668.2,373.4L670.4,375.0L672.6,376.5L674.8,378.1L676.9,379.8L678.8,381.5L680.7,383.3L682.5,385.2L684.3,387.0L686.2,388.8L688.2,390.5L690.4,392.1L692.6,393.6L693.9,395.8L695.2,397.9L696.4,400.1L697.4,402.4L698.3,404.9L698.9,407.4L699.4,410.1L699.6,412.9L699.8,415.7L700.0,418.5L700.3,421.3L700.7,424.0L701.3,426.6L702.0,429.1L702.9,431.5L703.8,433.9L704.8,436.3L705.6,438.7L706.4,441.1L707.1,443.7L707.8,446.2L708.4,448.8L709.0,451.4L709.7,453.9L710.5,456.3L711.6,458.6L712.8,460.8L714.1,463.0L715.5,465.0L716.9,467.1L718.3,469.2L719.5,471.4M614.5,327.2L616.9,328.6L619.3,330.1L621.4,331.7L623.4,333.4L625.2,335.2L626.9,337.1L628.6,339.0L630.3,341.0L632.0,342.8L633.8,344.6L635.8,346.4L637.8,348.1L639.8,349.8L641.7,351.5L643.6,353.3L645.3,355.2L646.8,357.2L648.2,359.3L649.5,361.5L650.7,363.6L652.0,365.8L653.5,367.8L655.1,369.8L656.9,371.6L658.9,373.3L661.1,374.9L663.4,376.4L665.8,377.9L668.1,379.4L670.2,381.0L672.3,382.7L674.2,384.4L676.1,386.2L677.9,388.0L679.7,389.9L681.6,391.6L683.7,393.3L685.8,394.9L688.0,396.5L689.3,398.7L690.4,400.9L691.5,403.2L692.4,405.6L693.1,408.1L693.5,410.8L693.8,413.5L694.0,416.4L694.2,419.2L694.4,422.1L694.7,424.8L695.2,427.4L695.9,430.0L696.7,432.4L697.7,434.8L698.7,437.1L699.7,439.4L700.6,441.8L701.5,444.2L702.2,446.7L702.9,449.3L703.5,451.8L704.2,454.3L705.1,456.8L706.0,459.1L707.1,461.4L708.4,463.6L709.8,465.7L711.2,467.7L712.5,469.9L713.7,472.1L714.8,474.4M611.6,329.0L614.0,330.4L616.3,332.0L618.3,333.7L620.2,335.5L621.9,337.3L623.5,339.3L625.0,341.3L626.7,343.2L628.4,345.1L630.2,346.9L632.1,348.7L634.0,350.4L635.9,352.2L637.8,354.0L639.6,355.8L641.2,357.8L642.7,359.8L644.0,361.9L645.3,364.0L646.7,366.2L648.1,368.2L649.7,370.2L651.4,372.1L653.5,373.8L655.6,375.3L658.0,376.8L660.4,378.3L662.7,379.8L665.0,381.3L667.2,382.9L669.2,384.6L671.1,386.4L672.9,388.2L674.7,390.0L676.5,391.9L678.4,393.6L680.4,395.3L682.5,397.0L684.7,398.6L685.9,400.8L686.9,403.1L687.8,405.5L688.6,408.0L689.1,410.6L689.5,413.3L689.7,416.1L689.8,419.0L690.0,421.9L690.3,424.6L690.7,427.3L691.3,429.9L692.1,432.4L693.1,434.7L694.1,437.0L695.2,439.3L696.3,441.6L697.2,443.9L698.1,446.4L698.9,448.8L699.6,451.3L700.3,453.8L701.1,456.3L702.0,458.7L703.0,461.0L704.2,463.2L705.5,465.4L706.8,467.5L708.1,469.6L709.4,471.8L710.5,474.1L711.3,476.5M606.1,332.4L608.4,333.9L610.5,335.6L612.4,337.3L614.1,339.2L615.7,341.2L617.2,343.2L618.7,345.2L620.3,347.2L622.0,349.1L623.7,350.9L625.6,352.7L627.5,354.5L629.4,356.3L631.3,358.1L633.0,359.9L634.6,361.9L636.0,364.0L637.4,366.1L638.7,368.2L640.2,370.2L641.7,372.2L643.5,374.1L645.4,375.8L647.6,377.4L649.9,378.9L652.4,380.4L654.8,381.8L657.2,383.3L659.4,384.8L661.5,386.4L663.5,388.2L665.3,390.0L667.1,391.8L668.8,393.7L670.6,395.5L672.5,397.3L674.5,399.0L676.5,400.7L678.6,402.4L679.7,404.6L680.6,407.0L681.4,409.5L682.0,412.1L682.4,414.8L682.7,417.6L682.9,420.4L683.0,423.3L683.3,426.1L683.6,428.8L684.2,431.4L684.9,433.9L685.9,436.2L687.0,438.5L688.1,440.8L689.3,443.0L690.4,445.3L691.4,447.6L692.3,450.0L693.0,452.5L693.8,455.0L694.5,457.4L695.4,459.9L696.3,462.2L697.4,464.5L698.6,466.7L699.8,468.9L701.1,471.1L702.4,473.2L703.5,475.5L704.4,477.9L705.1,480.4M604.5,333.4L606.7,335.0L608.6,336.7L610.4,338.6L611.9,340.6L613.4,342.6L614.8,344.7L616.3,346.7L617.8,348.7L619.5,350.6L621.3,352.5L623.2,354.3L625.1,356.0L627.0,357.8L628.8,359.6L630.4,361.5L632.0,363.5L633.5,365.5L634.9,367.6L636.4,369.7L637.9,371.6L639.6,373.5L641.5,375.3L643.7,376.9L646.0,378.4L648.4,379.9L650.9,381.3L653.3,382.7L655.7,384.2L657.9,385.8L659.9,387.5L661.7,389.3L663.5,391.1L665.2,393.0L666.9,394.9L668.6,396.8L670.5,398.6L672.4,400.3L674.4,402.0L676.4,403.7L677.4,406.1L678.2,408.5L678.9,411.1L679.4,413.7L679.7,416.5L679.9,419.3L680.1,422.1L680.3,424.9L680.7,427.7L681.2,430.3L681.9,432.8L682.8,435.2L683.9,437.5L685.1,439.7L686.3,441.9L687.6,444.1L688.7,446.3L689.7,448.7L690.5,451.1L691.3,453.5L692.1,456.0L692.9,458.5L693.7,460.9L694.7,463.3L695.7,465.6L696.9,467.8L698.1,470.0L699.3,472.2L700.4,474.4L701.4,476.8L702.1,479.3L702.6,481.9M598.7,337.0L600.7,338.7L602.5,340.6L604.1,342.6L605.5,344.6L606.9,346.7L608.2,348.8L609.7,350.9L611.2,352.9L612.9,354.8L614.7,356.6L616.6,358.4L618.5,360.1L620.4,361.9L622.2,363.7L623.9,365.6L625.5,367.6L627.0,369.6L628.5,371.6L630.1,373.6L631.8,375.5L633.6,377.3L635.7,378.9L638.0,380.5L640.4,381.9L642.9,383.3L645.4,384.7L647.8,386.2L650.1,387.7L652.1,389.4L654.0,391.1L655.8,393.0L657.4,394.9L659.0,396.9L660.7,398.8L662.4,400.7L664.2,402.5L666.1,404.3L668.1,406.0L670.0,407.7L670.9,410.1L671.6,412.6L672.2,415.2L672.6,417.9L672.9,420.7L673.2,423.5L673.4,426.3L673.7,429.1L674.2,431.7L674.8,434.3L675.7,436.7L676.8,439.0L678.0,441.2L679.3,443.3L680.6,445.4L681.9,447.6L683.0,449.9L683.9,452.2L684.8,454.7L685.5,457.2L686.3,459.7L687.0,462.1L687.9,464.6L688.8,466.9L689.9,469.2L691.0,471.5L692.2,473.7L693.3,476.0L694.2,478.3L695.0,480.8L695.6,483.4L696.0,486.1M596.5,338.4L598.3,340.2L599.9,342.2L601.4,344.2L602.7,346.4L604.0,348.5L605.3,350.6L606.8,352.7L608.4,354.6L610.1,356.5L612.0,358.3L613.9,360.0L615.9,361.8L617.8,363.5L619.6,365.3L621.3,367.2L623.0,369.2L624.5,371.1L626.1,373.1L627.8,375.0L629.7,376.8L631.7,378.5L633.9,380.1L636.2,381.6L638.7,383.0L641.2,384.4L643.7,385.8L646.0,387.3L648.1,388.9L650.1,390.6L651.9,392.5L653.5,394.4L655.0,396.4L656.5,398.4L658.1,400.4L659.8,402.3L661.6,404.1L663.5,405.9L665.4,407.7L667.3,409.4L668.1,411.9L668.8,414.4L669.3,417.0L669.7,419.7L670.0,422.5L670.3,425.3L670.6,428.1L671.1,430.7L671.7,433.3L672.5,435.7L673.6,438.0L674.8,440.2L676.1,442.3L677.5,444.4L678.8,446.6L680.0,448.8L681.1,451.1L682.0,453.4L682.8,455.9L683.5,458.4L684.2,460.9L685.0,463.4L685.8,465.9L686.7,468.2L687.7,470.6L688.8,472.9L689.8,475.2L690.8,477.5L691.6,479.9L692.3,482.5L692.7,485.2L693.0,487.9M590.6,342.1L592.3,344.0L593.7,346.1L595.0,348.2L596.3,350.4L597.6,352.5L598.9,354.6L600.4,356.6L602.1,358.5L604.0,360.4L605.9,362.1L607.9,363.8L609.9,365.5L611.8,367.2L613.7,369.0L615.4,370.9L617.1,372.8L618.8,374.7L620.5,376.6L622.3,378.5L624.2,380.2L626.4,381.8L628.7,383.3L631.1,384.8L633.6,386.2L636.1,387.6L638.4,389.1L640.6,390.6L642.6,392.3L644.4,394.2L646.0,396.1L647.5,398.1L649.0,400.2L650.5,402.2L652.0,404.2L653.7,406.1L655.5,408.0L657.3,409.8L659.2,411.5L661.1,413.3L661.9,415.8L662.5,418.3L663.0,421.0L663.4,423.7L663.8,426.4L664.1,429.1L664.6,431.8L665.2,434.4L666.0,436.9L667.0,439.2L668.2,441.4L669.5,443.5L670.9,445.6L672.3,447.7L673.6,449.8L674.8,452.1L675.8,454.4L676.6,456.8L677.3,459.3L678.0,461.9L678.6,464.4L679.3,467.0L680.1,469.4L681.0,471.8L682.0,474.2L682.9,476.5L683.9,478.9L684.7,481.3L685.4,483.8L686.0,486.4L686.3,489.2L686.6,492.0M587.0,344.3L588.5,346.4L589.8,348.5L591.1,350.7L592.3,352.9L593.6,355.0L595.0,357.1L596.6,359.0L598.4,360.9L600.3,362.6L602.4,364.3L604.5,366.0L606.5,367.6L608.5,369.3L610.4,371.1L612.2,373.0L613.9,374.8L615.6,376.7L617.4,378.5L619.3,380.3L621.4,382.0L623.6,383.5L626.0,385.0L628.4,386.5L630.9,387.9L633.2,389.3L635.5,390.9L637.5,392.6L639.3,394.4L641.0,396.3L642.5,398.4L643.9,400.4L645.2,402.5L646.7,404.6L648.2,406.6L649.9,408.5L651.7,410.3L653.6,412.1L655.5,413.9L657.4,415.6L658.2,418.1L658.8,420.7L659.3,423.3L659.7,426.0L660.2,428.7L660.6,431.3L661.2,433.9L662.0,436.4L662.9,438.8L664.1,441.0L665.4,443.1L666.8,445.2L668.3,447.3L669.6,449.4L670.8,451.6L671.9,453.9L672.8,456.3L673.5,458.8L674.1,461.3L674.7,463.9L675.3,466.5L675.9,469.1L676.7,471.5L677.5,474.0L678.5,476.4L679.4,478.7L680.2,481.2L681.0,483.6L681.6,486.2L682.0,488.9L682.4,491.7L682.6,494.5M582.1,347.4L583.5,349.5L584.8,351.7L586.0,353.9L587.2,356.0L588.6,358.1L590.1,360.1L591.9,362.0L593.8,363.8L595.8,365.4L598.0,367.1L600.1,368.7L602.2,370.3L604.2,372.0L606.1,373.8L608.0,375.6L609.8,377.4L611.5,379.3L613.4,381.0L615.4,382.8L617.5,384.4L619.8,385.9L622.1,387.4L624.6,388.9L626.9,390.3L629.2,391.9L631.3,393.5L633.1,395.3L634.8,397.2L636.3,399.3L637.6,401.4L639.0,403.5L640.3,405.6L641.8,407.7L643.3,409.6L645.1,411.5L646.9,413.3L648.8,415.1L650.8,416.8L652.7,418.6L653.5,421.0L654.1,423.6L654.6,426.2L655.1,428.9L655.7,431.5L656.2,434.1L657.0,436.6L657.9,439.0L659.0,441.2L660.2,443.4L661.6,445.5L663.1,447.5L664.5,449.6L665.8,451.8L666.9,454.0L667.8,456.4L668.6,458.9L669.2,461.5L669.7,464.1L670.2,466.7L670.7,469.4L671.4,471.9L672.1,474.4L672.9,476.9L673.8,479.3L674.6,481.7L675.4,484.2L676.1,486.7L676.7,489.3L677.1,492.0L677.4,494.8L677.6,497.6M576.2,351.1L577.5,353.2L578.7,355.4L580.0,357.6L581.3,359.7L582.8,361.8L584.4,363.7L586.3,365.5L588.4,367.1L590.5,368.7L592.8,370.3L595.0,371.9L597.1,373.5L599.2,375.2L601.1,376.9L602.9,378.7L604.7,380.5L606.6,382.4L608.5,384.1L610.5,385.8L612.7,387.4L614.9,389.0L617.3,390.4L619.6,391.9L621.9,393.5L624.0,395.1L625.9,396.9L627.6,398.8L629.1,400.8L630.5,402.9L631.7,405.1L633.0,407.2L634.4,409.3L635.9,411.4L637.5,413.3L639.3,415.1L641.2,416.9L643.2,418.6L645.2,420.3L647.1,422.1L647.9,424.5L648.6,427.0L649.2,429.6L649.8,432.2L650.4,434.8L651.1,437.3L651.9,439.7L653.0,442.0L654.2,444.2L655.5,446.3L657.0,448.4L658.4,450.5L659.7,452.6L660.9,454.8L661.9,457.2L662.7,459.6L663.3,462.2L663.7,464.9L664.2,467.6L664.6,470.2L665.1,472.9L665.7,475.5L666.4,478.0L667.2,480.4L668.1,482.8L668.9,485.3L669.7,487.8L670.3,490.3L670.8,493.0L671.2,495.7L671.5,498.4L671.8,501.2M573.4,352.8L574.7,355.0L575.9,357.2L577.2,359.3L578.7,361.4L580.3,363.3L582.1,365.1L584.2,366.8L586.4,368.4L588.6,369.9L591.0,371.4L593.2,373.0L595.4,374.6L597.4,376.3L599.3,378.0L601.2,379.8L603.0,381.6L604.8,383.5L606.8,385.2L608.8,386.9L611.0,388.5L613.2,390.0L615.5,391.6L617.7,393.1L619.8,394.8L621.8,396.5L623.5,398.4L625.1,400.3L626.5,402.4L627.7,404.6L629.0,406.8L630.2,409.0L631.6,411.0L633.2,413.0L635.0,414.9L636.9,416.6L638.9,418.3L640.9,420.0L642.9,421.7L644.9,423.4L645.8,425.8L646.5,428.4L647.1,430.9L647.8,433.5L648.5,436.0L649.3,438.4L650.3,440.8L651.4,443.0L652.7,445.2L654.1,447.3L655.5,449.3L656.8,451.5L658.0,453.7L659.1,456.0L659.9,458.4L660.5,461.0L661.0,463.6L661.3,466.4L661.7,469.1L662.1,471.8L662.5,474.5L663.2,477.1L663.9,479.6L664.7,482.0L665.5,484.4L666.4,486.9L667.1,489.4L667.7,491.9L668.2,494.6L668.6,497.3L669.0,500.0L669.5,502.7M568.5,355.9L569.7,358.1L571.1,360.2L572.5,362.3L574.0,364.3L575.8,366.1L577.8,367.8L580.0,369.4L582.3,370.9L584.7,372.4L587.1,373.9L589.3,375.4L591.5,377.0L593.5,378.7L595.4,380.5L597.2,382.3L599.0,384.1L600.8,385.9L602.8,387.7L604.8,389.4L606.9,391.0L609.1,392.6L611.3,394.2L613.4,395.8L615.4,397.5L617.2,399.4L618.8,401.3L620.2,403.4L621.5,405.6L622.7,407.7L623.9,409.9L625.3,412.0L626.8,414.1L628.5,416.0L630.3,417.8L632.3,419.5L634.4,421.1L636.6,422.7L638.7,424.4L640.7,426.1L641.6,428.5L642.3,431.0L643.0,433.5L643.7,436.0L644.5,438.5L645.4,440.9L646.4,443.2L647.6,445.4L648.9,447.5L650.3,449.6L651.6,451.7L652.9,453.9L654.0,456.2L654.8,458.6L655.5,461.2L655.9,463.8L656.3,466.6L656.5,469.4L656.8,472.1L657.2,474.9L657.7,477.5L658.4,480.0L659.1,482.5L660.0,484.9L660.8,487.4L661.7,489.8L662.4,492.3L663.0,494.9L663.6,497.5L664.1,500.1L664.5,502.8L665.1,505.4M561.5,360.3L562.8,362.4L564.3,364.5L565.8,366.5L567.6,368.3L569.5,370.0L571.7,371.6L574.0,373.1L576.4,374.6L578.9,376.0L581.2,377.5L583.5,379.1L585.6,380.7L587.5,382.5L589.3,384.3L591.1,386.1L592.9,388.0L594.7,389.8L596.6,391.6L598.6,393.3L600.7,394.9L602.8,396.5L604.9,398.2L606.9,399.9L608.7,401.7L610.4,403.6L611.8,405.7L613.2,407.8L614.4,410.0L615.6,412.2L616.9,414.3L618.3,416.4L620.0,418.3L621.8,420.1L623.8,421.8L625.9,423.5L628.1,425.0L630.3,426.6L632.5,428.2L634.5,429.9L635.4,432.3L636.2,434.8L636.9,437.3L637.7,439.8L638.5,442.2L639.5,444.6L640.6,446.8L641.8,449.0L643.1,451.2L644.4,453.3L645.6,455.5L646.7,457.8L647.6,460.2L648.3,462.7L648.8,465.3L649.1,468.1L649.4,470.9L649.6,473.7L649.9,476.5L650.3,479.2L650.8,481.8L651.5,484.3L652.4,486.8L653.3,489.1L654.2,491.5L655.0,494.0L655.8,496.4L656.4,499.0L657.0,501.6L657.6,504.2L658.1,506.8L658.8,509.3M557.9,362.5L559.3,364.6L560.9,366.6L562.6,368.5L564.5,370.2L566.6,371.9L568.9,373.4L571.4,374.8L573.8,376.2L576.3,377.7L578.6,379.1L580.8,380.7L582.8,382.4L584.6,384.2L586.4,386.1L588.1,388.0L589.8,389.9L591.6,391.7L593.5,393.5L595.4,395.2L597.4,396.9L599.5,398.6L601.5,400.3L603.4,402.1L605.1,404.0L606.6,406.0L608.0,408.1L609.3,410.2L610.5,412.4L611.8,414.6L613.2,416.6L614.8,418.6L616.5,420.5L618.5,422.2L620.7,423.8L622.9,425.3L625.2,426.9L627.5,428.4L629.6,430.0L631.7,431.7L632.6,434.1L633.3,436.6L634.1,439.1L634.9,441.5L635.7,443.9L636.7,446.3L637.8,448.5L639.0,450.8L640.3,452.9L641.5,455.1L642.6,457.4L643.5,459.8L644.3,462.3L644.8,464.9L645.1,467.6L645.4,470.4L645.5,473.3L645.7,476.1L646.1,478.9L646.5,481.5L647.2,484.1L648.0,486.5L648.9,488.9L649.9,491.3L650.8,493.6L651.7,496.0L652.5,498.5L653.2,501.0L653.8,503.6L654.5,506.1L655.1,508.7L655.9,511.1M554.5,364.7L556.0,366.7L557.7,368.6L559.6,370.3L561.7,372.0L563.9,373.5L566.3,375.0L568.8,376.4L571.3,377.8L573.7,379.2L576.0,380.8L578.0,382.5L579.9,384.2L581.7,386.1L583.3,388.0L585.0,390.0L586.6,391.9L588.4,393.7L590.2,395.5L592.1,397.3L594.1,399.0L596.1,400.7L598.0,402.5L599.8,404.4L601.4,406.3L602.9,408.3L604.2,410.4L605.5,412.6L606.8,414.8L608.1,416.8L609.7,418.8L611.4,420.7L613.4,422.5L615.5,424.1L617.8,425.6L620.1,427.1L622.5,428.6L624.7,430.1L626.9,431.7L628.9,433.4L629.8,435.8L630.6,438.3L631.3,440.8L632.1,443.3L632.9,445.7L633.9,448.0L635.0,450.3L636.2,452.5L637.3,454.8L638.4,457.1L639.4,459.4L640.2,461.9L640.7,464.5L641.1,467.2L641.4,470.0L641.5,472.8L641.7,475.7L641.9,478.5L642.3,481.2L642.9,483.8L643.7,486.3L644.6,488.7L645.6,491.0L646.6,493.3L647.7,495.6L648.6,498.0L649.4,500.4L650.2,502.9L650.8,505.4L651.5,508.0L652.3,510.4L653.2,512.9M547.9,368.8L549.6,370.7L551.4,372.5L553.4,374.2L555.6,375.8L558.0,377.2L560.5,378.6L563.0,380.0L565.4,381.5L567.8,383.0L569.9,384.6L571.8,386.3L573.6,388.2L575.2,390.1L576.8,392.1L578.3,394.1L579.9,396.0L581.7,397.9L583.5,399.8L585.4,401.5L587.3,403.3L589.2,405.0L591.0,406.8L592.8,408.7L594.3,410.7L595.8,412.8L597.1,414.9L598.4,417.0L599.8,419.1L601.3,421.1L603.0,423.0L604.9,424.8L607.0,426.4L609.3,427.9L611.7,429.4L614.1,430.8L616.5,432.3L618.7,433.9L620.9,435.5L622.8,437.2L623.7,439.7L624.4,442.2L625.1,444.7L625.8,447.2L626.7,449.6L627.7,451.9L628.7,454.3L629.8,456.5L630.8,458.8L631.8,461.2L632.6,463.6L633.3,466.2L633.7,468.9L634.0,471.6L634.2,474.5L634.3,477.3L634.5,480.2L634.9,482.9L635.4,485.5L636.1,488.0L637.0,490.4L638.0,492.8L639.1,495.0L640.3,497.3L641.3,499.6L642.3,501.9L643.1,504.3L643.9,506.8L644.6,509.3L645.4,511.8L646.2,514.3L647.1,516.6M543.9,371.3L545.7,373.1L547.6,374.9L549.8,376.5L552.1,378.0L554.5,379.4L557.0,380.8L559.5,382.2L561.9,383.7L564.1,385.3L566.0,387.0L567.8,388.8L569.5,390.8L571.0,392.8L572.4,394.8L573.9,396.8L575.5,398.8L577.2,400.7L579.0,402.5L580.9,404.3L582.8,406.1L584.7,407.9L586.5,409.7L588.1,411.6L589.7,413.6L591.1,415.7L592.5,417.7L593.9,419.8L595.4,421.8L597.1,423.8L598.9,425.6L601.0,427.2L603.3,428.8L605.7,430.2L608.1,431.6L610.6,433.1L612.9,434.5L615.1,436.1L617.2,437.8L619.1,439.6L619.8,442.1L620.5,444.6L621.1,447.1L621.9,449.7L622.7,452.1L623.6,454.5L624.6,456.8L625.6,459.1L626.6,461.5L627.4,463.9L628.1,466.4L628.6,469.1L629.0,471.8L629.2,474.6L629.4,477.5L629.5,480.3L629.8,483.1L630.3,485.8L631.0,488.3L631.8,490.7L632.9,493.0L634.0,495.3L635.2,497.5L636.4,499.7L637.5,502.0L638.5,504.3L639.3,506.7L640.1,509.2L640.9,511.7L641.6,514.2L642.5,516.6L643.5,518.9M542.0,372.4L543.9,374.2L546.0,375.9L548.2,377.4L550.6,378.9L553.1,380.3L555.5,381.7L557.9,383.2L560.2,384.8L562.2,386.4L564.0,388.3L565.7,390.2L567.1,392.2L568.5,394.3L569.9,396.4L571.4,398.4L573.0,400.4L574.7,402.3L576.5,404.1L578.4,405.9L580.3,407.6L582.2,409.4L583.9,411.3L585.6,413.2L587.2,415.2L588.6,417.2L590.1,419.3L591.6,421.3L593.3,423.2L595.1,425.0L597.1,426.7L599.3,428.3L601.7,429.7L604.2,431.1L606.7,432.5L609.1,434.0L611.4,435.5L613.5,437.2L615.4,438.9L617.2,440.7L617.9,443.3L618.5,445.9L619.1,448.4L619.8,451.0L620.6,453.4L621.4,455.8L622.4,458.2L623.3,460.6L624.2,463.0L624.9,465.5L625.5,468.1L625.9,470.8L626.2,473.5L626.4,476.4L626.6,479.2L626.9,482.0L627.3,484.7L627.9,487.2L628.8,489.7L629.8,492.0L631.0,494.2L632.2,496.4L633.5,498.5L634.7,500.7L635.8,503.0L636.8,505.4L637.6,507.8L638.4,510.3L639.1,512.8L639.9,515.2L640.8,517.6L641.8,520.0M537.4,375.3L539.4,377.1L541.5,378.7L543.8,380.2L546.2,381.7L548.6,383.1L551.0,384.6L553.3,386.1L555.3,387.8L557.2,389.6L558.9,391.5L560.4,393.5L561.7,395.6L563.1,397.7L564.4,399.8L565.9,401.9L567.5,403.8L569.2,405.7L571.1,407.5L573.0,409.3L574.9,411.0L576.8,412.8L578.6,414.6L580.3,416.5L581.8,418.5L583.4,420.5L584.9,422.5L586.6,424.4L588.4,426.2L590.3,428.0L592.5,429.6L594.9,431.1L597.3,432.5L599.8,433.9L602.3,435.3L604.7,436.8L606.8,438.4L608.8,440.1L610.6,441.9L612.3,443.8L612.9,446.4L613.4,449.0L613.9,451.6L614.6,454.2L615.4,456.7L616.2,459.1L617.1,461.5L617.9,463.9L618.7,466.4L619.4,468.9L619.9,471.6L620.3,474.3L620.6,477.1L620.8,479.9L621.1,482.6L621.5,485.3L622.1,487.9L622.9,490.4L623.9,492.7L625.0,495.0L626.3,497.1L627.7,499.2L629.0,501.4L630.2,503.6L631.2,505.9L632.2,508.2L633.0,510.7L633.7,513.2L634.4,515.7L635.2,518.2L636.1,520.6L637.0,522.9M534.3,377.3L536.4,378.9L538.6,380.5L540.8,382.1L543.2,383.5L545.6,385.0L547.8,386.6L549.9,388.2L551.8,390.0L553.5,391.9L555.0,393.9L556.4,396.0L557.7,398.1L559.0,400.3L560.3,402.4L561.8,404.4L563.5,406.3L565.3,408.1L567.2,409.9L569.2,411.6L571.2,413.4L573.1,415.1L574.9,416.9L576.6,418.8L578.2,420.8L579.8,422.7L581.5,424.6L583.3,426.5L585.2,428.2L587.3,429.9L589.6,431.4L592.0,432.8L594.5,434.2L597.0,435.6L599.4,437.1L601.6,438.7L603.7,440.3L605.5,442.1L607.2,444.1L608.7,446.0L609.2,448.7L609.7,451.4L610.2,454.0L610.8,456.6L611.6,459.1L612.4,461.5L613.2,463.9L614.0,466.4L614.8,468.9L615.4,471.4L615.9,474.1L616.3,476.8L616.6,479.6L616.9,482.3L617.3,485.0L617.8,487.6L618.6,490.1L619.5,492.5L620.7,494.7L622.0,496.9L623.4,499.0L624.7,501.1L626.0,503.2L627.2,505.4L628.2,507.8L629.1,510.2L629.8,512.7L630.5,515.2L631.2,517.7L631.9,520.2L632.7,522.7L633.7,525.0M530.1,379.9L532.1,381.6L534.3,383.2L536.6,384.7L538.9,386.2L541.1,387.8L543.3,389.4L545.2,391.2L547.0,393.0L548.5,395.0L549.9,397.1L551.1,399.3L552.4,401.5L553.7,403.6L555.1,405.7L556.7,407.6L558.4,409.5L560.3,411.3L562.3,413.0L564.3,414.7L566.4,416.4L568.3,418.1L570.1,419.9L571.9,421.8L573.6,423.7L575.3,425.6L577.0,427.4L578.9,429.2L581.0,430.9L583.2,432.5L585.5,433.9L588.0,435.4L590.5,436.8L592.9,438.2L595.2,439.7L597.3,441.4L599.1,443.2L600.8,445.1L602.3,447.1L603.8,449.1L604.2,451.8L604.6,454.5L605.1,457.2L605.7,459.7L606.5,462.2L607.3,464.7L608.2,467.1L609.0,469.5L609.7,472.1L610.3,474.6L610.8,477.3L611.2,480.0L611.5,482.7L611.9,485.4L612.5,488.0L613.2,490.5L614.1,492.9L615.2,495.2L616.5,497.3L617.9,499.4L619.3,501.5L620.7,503.6L621.9,505.8L623.0,508.1L623.9,510.4L624.7,512.9L625.3,515.5L625.9,518.0L626.6,520.6L627.3,523.1L628.1,525.6L629.0,528.0M525.4,382.8L527.5,384.5L529.6,386.1L531.8,387.7L534.0,389.3L536.2,390.9L538.2,392.6L539.9,394.4L541.5,396.4L542.9,398.5L544.2,400.6L545.4,402.8L546.7,405.0L548.0,407.1L549.5,409.1L551.2,411.0L553.1,412.8L555.1,414.5L557.2,416.2L559.3,417.8L561.4,419.5L563.3,421.2L565.2,423.0L567.0,424.8L568.8,426.7L570.5,428.5L572.4,430.3L574.3,432.1L576.5,433.7L578.7,435.2L581.1,436.7L583.6,438.1L586.0,439.6L588.3,441.1L590.4,442.7L592.3,444.5L594.1,446.3L595.6,448.3L597.0,450.4L598.3,452.5L598.7,455.3L599.1,458.0L599.6,460.6L600.3,463.1L601.1,465.6L601.9,468.0L602.8,470.5L603.6,472.9L604.3,475.4L604.9,478.0L605.4,480.6L605.9,483.3L606.3,486.0L606.9,488.6L607.5,491.1L608.4,493.5L609.5,495.8L610.7,498.0L612.1,500.1L613.5,502.2L614.9,504.2L616.3,506.4L617.4,508.6L618.4,510.9L619.2,513.4L619.8,516.0L620.4,518.6L620.9,521.2L621.5,523.8L622.1,526.3L622.9,528.8L623.8,531.2M522.6,384.6L524.6,386.3L526.7,387.9L528.9,389.5L531.0,391.2L533.0,392.9L534.8,394.7L536.5,396.6L537.9,398.7L539.2,400.8L540.5,403.0L541.7,405.2L543.0,407.3L544.4,409.4L546.1,411.3L547.9,413.1L549.9,414.8L552.0,416.5L554.2,418.0L556.4,419.6L558.5,421.3L560.5,423.0L562.4,424.7L564.2,426.6L566.0,428.4L567.8,430.2L569.7,432.0L571.8,433.7L573.9,435.3L576.2,436.8L578.6,438.3L581.0,439.7L583.3,441.2L585.5,442.8L587.4,444.6L589.2,446.4L590.7,448.4L592.1,450.5L593.4,452.6L594.7,454.8L595.1,457.5L595.5,460.2L596.1,462.8L596.8,465.3L597.6,467.8L598.5,470.2L599.4,472.6L600.2,475.0L601.0,477.5L601.6,480.0L602.2,482.7L602.7,485.3L603.3,487.9L603.9,490.4L604.7,492.9L605.7,495.2L606.9,497.4L608.3,499.5L609.7,501.6L611.1,503.7L612.5,505.8L613.7,508.0L614.7,510.3L615.6,512.7L616.2,515.3L616.7,517.9L617.2,520.6L617.7,523.2L618.2,525.8L618.8,528.4L619.6,530.9L620.4,533.3M517.1,388.0L519.1,389.7L521.2,391.4L523.2,393.1L525.2,394.8L527.1,396.6L528.8,398.5L530.3,400.4L531.7,402.5L533.0,404.7L534.2,406.9L535.5,409.1L536.9,411.1L538.4,413.1L540.2,415.0L542.2,416.7L544.3,418.3L546.6,419.8L548.9,421.4L551.1,422.9L553.2,424.6L555.2,426.3L557.1,428.0L559.0,429.8L560.8,431.7L562.6,433.5L564.6,435.2L566.6,436.9L568.8,438.5L571.1,440.0L573.4,441.5L575.7,443.0L577.9,444.6L579.9,446.3L581.7,448.2L583.3,450.1L584.7,452.2L586.0,454.3L587.2,456.5L588.5,458.7L588.9,461.4L589.4,464.0L590.0,466.6L590.8,469.0L591.8,471.4L592.7,473.8L593.6,476.2L594.5,478.6L595.3,481.0L596.0,483.6L596.6,486.2L597.2,488.7L597.8,491.3L598.6,493.7L599.6,496.1L600.7,498.4L602.0,500.5L603.3,502.6L604.8,504.7L606.1,506.8L607.4,508.9L608.5,511.2L609.4,513.6L610.0,516.2L610.5,518.8L610.9,521.5L611.3,524.2L611.7,526.9L612.3,529.5L612.9,532.1L613.6,534.6L614.5,537.0M514.5,389.7L516.4,391.4L518.4,393.1L520.4,394.8L522.3,396.6L524.1,398.5L525.7,400.4L527.1,402.4L528.5,404.6L529.7,406.7L531.0,408.9L532.4,411.0L533.9,413.0L535.6,414.9L537.6,416.6L539.7,418.2L542.0,419.8L544.3,421.2L546.7,422.7L548.9,424.3L551.0,425.9L553.0,427.6L554.9,429.4L556.8,431.2L558.6,433.0L560.4,434.8L562.4,436.6L564.4,438.2L566.6,439.8L568.9,441.4L571.1,443.0L573.3,444.6L575.3,446.2L577.1,448.1L578.8,450.0L580.2,452.0L581.5,454.2L582.7,456.4L584.0,458.5L585.3,460.7L585.8,463.3L586.3,465.9L587.1,468.4L588.0,470.8L589.0,473.1L590.0,475.4L591.0,477.8L591.9,480.2L592.7,482.6L593.5,485.1L594.1,487.7L594.8,490.2L595.6,492.7L596.4,495.1L597.5,497.4L598.7,499.6L600.0,501.7L601.4,503.8L602.8,505.9L604.0,508.1L605.2,510.3L606.1,512.7L606.8,515.2L607.3,517.9L607.7,520.6L608.0,523.3L608.3,526.1L608.7,528.8L609.2,531.4L609.9,534.0L610.6,536.5L611.5,538.9M509.7,392.6L511.6,394.4L513.6,396.1L515.5,397.9L517.3,399.7L519.0,401.6L520.6,403.6L522.0,405.7L523.3,407.8L524.6,409.9L526.0,412.0L527.5,414.0L529.2,415.9L531.1,417.7L533.2,419.3L535.5,420.9L537.9,422.3L540.3,423.8L542.6,425.3L544.9,426.8L547.0,428.5L548.9,430.2L550.8,432.0L552.6,433.8L554.3,435.7L556.2,437.5L558.1,439.2L560.2,440.9L562.3,442.5L564.5,444.1L566.6,445.8L568.6,447.4L570.5,449.2L572.2,451.1L573.7,453.1L575.1,455.3L576.3,457.4L577.5,459.6L578.8,461.8L580.2,463.9L580.8,466.5L581.5,469.0L582.4,471.4L583.4,473.7L584.5,476.0L585.6,478.2L586.6,480.5L587.6,482.9L588.4,485.3L589.1,487.8L589.9,490.3L590.6,492.8L591.4,495.3L592.4,497.6L593.5,499.9L594.7,502.1L596.0,504.2L597.4,506.3L598.7,508.5L599.8,510.7L600.8,513.1L601.5,515.6L602.0,518.2L602.4,520.9L602.7,523.7L602.9,526.5L603.2,529.3L603.7,532.0L604.2,534.6L604.9,537.1L605.7,539.5L606.6,542.0M503.5,396.5L505.4,398.3L507.3,400.0L509.2,401.8L511.0,403.7L512.7,405.6L514.2,407.6L515.6,409.7L517.0,411.8L518.4,413.8L519.9,415.9L521.5,417.8L523.4,419.6L525.5,421.2L527.7,422.8L530.1,424.2L532.6,425.6L535.0,427.1L537.3,428.6L539.5,430.2L541.5,431.9L543.4,433.6L545.2,435.5L546.9,437.4L548.7,439.2L550.5,441.0L552.4,442.8L554.4,444.5L556.5,446.2L558.6,447.8L560.6,449.5L562.5,451.3L564.3,453.1L565.8,455.1L567.2,457.2L568.5,459.3L569.7,461.5L571.0,463.7L572.4,465.8L573.9,467.8L574.6,470.3L575.5,472.7L576.5,475.0L577.6,477.3L578.8,479.5L580.0,481.7L581.0,484.0L582.0,486.4L582.8,488.8L583.6,491.3L584.3,493.8L585.1,496.3L586.0,498.7L587.0,501.0L588.1,503.3L589.3,505.4L590.6,507.6L591.9,509.8L593.0,512.0L594.0,514.3L594.8,516.8L595.4,519.4L595.8,522.1L596.0,524.9L596.2,527.7L596.5,530.5L596.8,533.3L597.2,536.0L597.9,538.5L598.6,541.0L599.5,543.4L600.5,545.8M500.0,398.7L501.9,400.5L503.8,402.3L505.6,404.1L507.4,405.9L509.0,407.8L510.6,409.8L512.0,411.9L513.5,413.9L515.0,416.0L516.6,417.9L518.4,419.7L520.5,421.4L522.7,423.0L525.1,424.4L527.5,425.8L530.0,427.2L532.4,428.7L534.7,430.2L536.8,431.9L538.7,433.6L540.5,435.5L542.2,437.4L543.9,439.3L545.6,441.2L547.4,443.0L549.2,444.8L551.2,446.5L553.2,448.2L555.2,449.9L557.2,451.7L559.0,453.5L560.6,455.4L562.1,457.5L563.4,459.6L564.7,461.7L565.9,463.9L567.3,466.0L568.8,468.1L570.4,470.0L571.3,472.4L572.3,474.7L573.5,476.9L574.8,479.1L576.0,481.3L577.2,483.5L578.2,485.8L579.2,488.1L580.0,490.6L580.8,493.1L581.5,495.5L582.3,498.0L583.2,500.4L584.2,502.7L585.4,505.0L586.5,507.2L587.7,509.4L588.9,511.6L589.9,514.0L590.7,516.4L591.4,519.0L591.8,521.6L592.1,524.4L592.2,527.3L592.4,530.1L592.7,532.9L593.0,535.6L593.6,538.3L594.3,540.8L595.2,543.2L596.2,545.5L597.2,547.9M495.3,401.6L497.2,403.4L499.1,405.2L501.0,407.0L502.8,408.8L504.4,410.7L506.0,412.7L507.5,414.7L509.0,416.7L510.7,418.6L512.5,420.5L514.4,422.2L516.6,423.8L519.0,425.3L521.4,426.7L523.9,428.1L526.4,429.5L528.7,431.0L530.9,432.6L532.9,434.3L534.7,436.1L536.4,438.1L538.0,440.0L539.6,442.0L541.2,443.9L543.0,445.8L544.8,447.6L546.7,449.3L548.7,451.0L550.6,452.8L552.5,454.6L554.2,456.5L555.8,458.4L557.2,460.5L558.5,462.6L559.8,464.8L561.1,466.9L562.6,469.0L564.2,470.9L566.1,472.7L567.1,475.0L568.3,477.2L569.6,479.4L570.9,481.5L572.2,483.6L573.4,485.9L574.4,488.2L575.3,490.6L576.1,493.0L576.9,495.5L577.6,498.0L578.4,500.5L579.3,502.9L580.3,505.2L581.4,507.5L582.5,509.7L583.6,512.0L584.6,514.3L585.5,516.7L586.1,519.3L586.6,521.9L586.9,524.7L587.1,527.5L587.3,530.4L587.5,533.2L587.8,536.0L588.3,538.6L588.9,541.2L589.8,543.6L590.8,545.9L591.8,548.2L592.9,550.5M490.3,404.8L492.2,406.5L494.2,408.3L496.1,410.0L497.8,411.9L499.5,413.8L501.1,415.7L502.7,417.7L504.4,419.6L506.2,421.5L508.1,423.2L510.2,424.8L512.5,426.4L514.9,427.8L517.4,429.2L519.9,430.6L522.3,432.1L524.5,433.6L526.6,435.3L528.4,437.1L530.1,439.0L531.6,441.0L533.2,443.0L534.7,445.0L536.3,447.0L538.0,448.8L539.8,450.7L541.7,452.4L543.7,454.2L545.5,456.0L547.3,457.8L549.0,459.7L550.5,461.7L551.9,463.8L553.3,465.9L554.7,468.0L556.1,470.0L557.7,472.0L559.5,473.8L561.6,475.5L562.8,477.7L564.1,479.9L565.4,482.0L566.8,484.1L568.1,486.2L569.2,488.5L570.2,490.8L571.0,493.2L571.8,495.7L572.5,498.3L573.2,500.8L573.9,503.2L574.8,505.7L575.8,508.0L576.8,510.3L577.8,512.6L578.8,515.0L579.7,517.4L580.5,519.9L581.0,522.5L581.4,525.2L581.6,528.0L581.7,530.9L581.9,533.7L582.2,536.5L582.6,539.2L583.2,541.8L584.0,544.2L585.0,546.6L586.1,548.8L587.3,551.1L588.4,553.3M486.1,407.4L488.1,409.1L490.1,410.8L492.0,412.6L493.8,414.4L495.6,416.3L497.2,418.2L498.9,420.1L500.7,421.9L502.6,423.7L504.6,425.4L506.8,427.0L509.2,428.4L511.7,429.8L514.1,431.3L516.6,432.7L518.8,434.2L520.9,435.9L522.8,437.7L524.5,439.6L526.0,441.6L527.5,443.6L528.9,445.7L530.4,447.7L532.0,449.6L533.7,451.5L535.6,453.3L537.4,455.1L539.3,456.9L541.2,458.7L543.0,460.5L544.6,462.5L546.1,464.5L547.6,466.5L549.0,468.6L550.5,470.6L552.0,472.6L553.8,474.4L555.8,476.2L558.0,477.8L559.3,479.9L560.7,482.0L562.1,484.0L563.5,486.1L564.7,488.3L565.8,490.6L566.7,493.0L567.4,495.5L568.1,498.0L568.7,500.6L569.4,503.1L570.1,505.6L570.9,508.1L571.8,510.5L572.8,512.8L573.8,515.2L574.7,517.6L575.4,520.0L576.1,522.6L576.5,525.3L576.8,528.1L577.0,530.9L577.2,533.7L577.4,536.5L577.8,539.3L578.3,541.9L579.1,544.3L580.1,546.7L581.2,548.9L582.4,551.1L583.7,553.3L584.8,555.5M482.0,410.0L484.1,411.6L486.1,413.3L488.1,415.0L489.9,416.8L491.7,418.7L493.4,420.6L495.2,422.4L497.0,424.2L499.0,425.9L501.1,427.6L503.4,429.1L505.8,430.5L508.3,432.0L510.7,433.4L513.0,434.9L515.1,436.5L517.1,438.3L518.8,440.2L520.3,442.2L521.7,444.3L523.1,446.4L524.5,448.4L526.0,450.5L527.6,452.4L529.3,454.3L531.2,456.1L533.1,457.9L535.0,459.6L536.8,461.4L538.6,463.3L540.2,465.2L541.8,467.2L543.3,469.2L544.8,471.2L546.4,473.2L548.1,475.1L550.0,476.8L552.2,478.4L554.5,479.9L555.9,482.0L557.4,484.1L558.8,486.1L560.1,488.3L561.2,490.5L562.2,492.9L563.0,495.3L563.6,497.9L564.2,500.5L564.7,503.1L565.3,505.7L566.0,508.2L566.8,510.6L567.7,513.1L568.6,515.4L569.5,517.8L570.3,520.3L571.0,522.8L571.5,525.5L571.9,528.2L572.2,531.0L572.4,533.8L572.6,536.6L573.0,539.3L573.5,542.0L574.2,544.5L575.2,546.8L576.3,549.1L577.5,551.2L578.8,553.4L580.1,555.5L581.3,557.8M478.7,412.0L480.8,413.6L482.9,415.3L484.9,417.0L486.8,418.8L488.6,420.6L490.4,422.5L492.2,424.3L494.1,426.0L496.2,427.7L498.4,429.3L500.7,430.8L503.1,432.3L505.4,433.7L507.8,435.2L509.9,436.8L511.9,438.6L513.6,440.4L515.2,442.4L516.6,444.5L517.9,446.6L519.2,448.8L520.6,450.9L522.1,452.9L523.8,454.8L525.5,456.6L527.4,458.4L529.4,460.1L531.3,461.9L533.2,463.7L535.0,465.5L536.6,467.4L538.2,469.4L539.8,471.4L541.4,473.3L543.1,475.2L545.0,477.0L547.1,478.6L549.4,480.2L551.8,481.6L553.3,483.7L554.7,485.7L556.0,487.8L557.3,490.0L558.3,492.3L559.1,494.8L559.8,497.3L560.3,500.0L560.8,502.6L561.3,505.3L561.8,507.9L562.5,510.4L563.2,512.9L564.1,515.3L565.0,517.7L565.8,520.2L566.5,522.6L567.2,525.2L567.6,527.9L568.0,530.6L568.3,533.4L568.5,536.2L568.9,538.9L569.4,541.6L570.1,544.1L571.0,546.5L572.1,548.7L573.3,550.9L574.7,553.0L576.0,555.1L577.3,557.3L578.5,559.5M472.9,415.6L475.1,417.2L477.2,418.9L479.2,420.6L481.1,422.3L482.9,424.2L484.7,426.0L486.6,427.8L488.6,429.5L490.6,431.2L492.9,432.7L495.2,434.2L497.5,435.7L499.8,437.3L502.0,438.9L504.0,440.6L505.8,442.4L507.3,444.4L508.8,446.4L510.1,448.6L511.3,450.8L512.6,452.9L514.0,455.0L515.6,457.0L517.3,458.8L519.2,460.6L521.1,462.3L523.1,464.0L525.1,465.8L527.0,467.5L528.8,469.4L530.5,471.2L532.2,473.2L533.9,475.1L535.6,477.0L537.4,478.8L539.4,480.5L541.6,482.1L544.0,483.5L546.4,485.0L547.9,487.0L549.3,489.1L550.6,491.3L551.6,493.5L552.5,496.0L553.2,498.5L553.7,501.1L554.1,503.8L554.5,506.5L555.0,509.2L555.5,511.8L556.1,514.4L556.9,516.8L557.7,519.3L558.6,521.7L559.4,524.2L560.1,526.7L560.7,529.3L561.1,531.9L561.5,534.7L561.8,537.4L562.2,540.2L562.7,542.8L563.3,545.4L564.2,547.8L565.2,550.1L566.5,552.2L567.9,554.3L569.3,556.4L570.6,558.5L571.9,560.7L573.0,563.0M468.4,418.4L470.7,420.0L472.8,421.6L474.8,423.4L476.6,425.1L478.4,427.0L480.3,428.8L482.1,430.6L484.1,432.3L486.2,433.9L488.4,435.5L490.7,437.1L492.9,438.6L495.1,440.2L497.1,441.9L499.0,443.7L500.6,445.6L502.0,447.7L503.3,449.8L504.6,452.0L505.8,454.2L507.1,456.3L508.6,458.3L510.3,460.3L512.1,462.1L514.1,463.8L516.1,465.5L518.2,467.1L520.2,468.8L522.2,470.6L524.0,472.4L525.8,474.2L527.5,476.1L529.2,478.0L531.0,479.8L533.0,481.5L535.1,483.2L537.4,484.7L539.8,486.2L542.2,487.6L543.7,489.7L544.9,491.8L546.1,494.1L547.0,496.4L547.7,499.0L548.2,501.6L548.6,504.3L548.9,507.1L549.3,509.8L549.7,512.5L550.2,515.1L550.9,517.7L551.7,520.1L552.5,522.6L553.3,525.0L554.1,527.4L554.8,530.0L555.4,532.6L555.9,535.2L556.3,537.9L556.7,540.6L557.2,543.3L557.8,545.8L558.6,548.3L559.7,550.6L560.9,552.8L562.2,554.9L563.6,557.0L565.1,559.0L566.4,561.2L567.6,563.4L568.6,565.7M464.7,420.8L466.9,422.4L469.0,424.0L470.9,425.8L472.8,427.6L474.5,429.4L476.3,431.2L478.2,433.0L480.2,434.7L482.3,436.4L484.4,438.0L486.6,439.6L488.7,441.2L490.8,442.9L492.7,444.7L494.3,446.6L495.8,448.6L497.2,450.7L498.4,452.9L499.6,455.1L500.9,457.3L502.3,459.3L503.9,461.3L505.7,463.1L507.7,464.9L509.7,466.5L511.9,468.1L514.0,469.8L516.1,471.4L518.1,473.1L519.9,474.9L521.7,476.8L523.5,478.6L525.3,480.4L527.2,482.2L529.2,483.9L531.4,485.5L533.7,487.0L536.1,488.5L538.5,489.9L539.9,492.0L541.0,494.3L542.0,496.6L542.7,499.1L543.3,501.7L543.6,504.5L543.9,507.2L544.2,510.0L544.5,512.8L544.9,515.5L545.5,518.1L546.2,520.6L547.0,523.0L547.9,525.4L548.7,527.9L549.5,530.3L550.2,532.8L550.8,535.4L551.4,538.0L551.8,540.7L552.4,543.3L553.0,545.9L553.8,548.4L554.7,550.7L555.9,553.0L557.2,555.1L558.6,557.2L560.1,559.2L561.4,561.3L562.7,563.5L563.8,565.8L564.6,568.2M461.8,422.6L464.0,424.2L466.0,425.9L467.9,427.7L469.6,429.5L471.4,431.4L473.1,433.2L475.0,435.0L476.9,436.8L479.0,438.5L481.1,440.1L483.2,441.7L485.2,443.4L487.1,445.2L488.8,447.1L490.4,449.0L491.8,451.1L493.1,453.3L494.3,455.5L495.5,457.7L496.9,459.8L498.4,461.8L500.2,463.6L502.1,465.4L504.2,467.0L506.4,468.6L508.6,470.2L510.8,471.8L512.9,473.4L514.9,475.1L516.8,476.9L518.6,478.7L520.4,480.5L522.3,482.3L524.2,484.1L526.3,485.7L528.5,487.3L530.8,488.8L533.2,490.3L535.5,491.8L536.7,494.0L537.7,496.3L538.5,498.8L539.0,501.4L539.4,504.1L539.7,506.9L539.9,509.7L540.1,512.5L540.5,515.3L541.0,517.9L541.6,520.5L542.4,523.0L543.3,525.4L544.2,527.8L545.1,530.2L545.9,532.6L546.6,535.1L547.3,537.7L547.8,540.2L548.4,542.9L549.0,545.4L549.8,547.9L550.7,550.3L551.8,552.6L553.0,554.7L554.4,556.8L555.9,558.9L557.3,561.0L558.6,563.1L559.7,565.4L560.6,567.7L561.3,570.2M458.9,424.4L461.0,426.1L462.9,427.8L464.7,429.6L466.4,431.5L468.1,433.4L469.8,435.3L471.6,437.1L473.5,438.9L475.5,440.6L477.5,442.3L479.5,444.0L481.5,445.8L483.3,447.6L484.9,449.5L486.4,451.6L487.7,453.7L488.9,455.9L490.2,458.0L491.5,460.2L493.0,462.2L494.7,464.1L496.6,465.9L498.7,467.5L500.9,469.1L503.2,470.6L505.5,472.1L507.7,473.7L509.8,475.3L511.8,477.0L513.7,478.8L515.5,480.6L517.3,482.5L519.2,484.2L521.2,486.0L523.3,487.6L525.5,489.2L527.7,490.7L530.0,492.3L532.2,493.8L533.3,496.1L534.1,498.6L534.8,501.1L535.2,503.8L535.5,506.6L535.6,509.4L535.8,512.3L536.1,515.1L536.5,517.8L537.0,520.4L537.8,522.9L538.6,525.3L539.6,527.7L540.6,530.0L541.5,532.4L542.4,534.8L543.1,537.3L543.8,539.8L544.5,542.4L545.1,544.9L545.8,547.4L546.7,549.8L547.7,552.1L548.9,554.4L550.2,556.5L551.6,558.6L553.0,560.6L554.4,562.8L555.5,565.0L556.5,567.4L557.2,569.8L557.8,572.4M455.1,426.8L457.1,428.5L458.9,430.3L460.6,432.2L462.2,434.2L463.8,436.1L465.5,438.0L467.3,439.9L469.1,441.6L471.1,443.4L473.0,445.1L475.0,446.9L476.8,448.7L478.5,450.5L480.1,452.5L481.5,454.6L482.8,456.7L484.1,458.9L485.4,461.0L486.9,463.1L488.5,465.0L490.4,466.8L492.4,468.5L494.7,470.0L497.0,471.5L499.4,473.0L501.7,474.5L503.9,476.1L506.0,477.7L508.0,479.4L509.8,481.2L511.6,483.1L513.4,484.9L515.3,486.7L517.3,488.4L519.4,490.1L521.5,491.7L523.7,493.2L525.9,494.8L528.0,496.5L528.9,498.9L529.6,501.4L530.1,504.1L530.4,506.8L530.6,509.7L530.7,512.5L530.9,515.4L531.2,518.1L531.7,520.8L532.4,523.3L533.3,525.7L534.2,528.1L535.3,530.4L536.3,532.7L537.3,535.0L538.2,537.4L539.0,539.8L539.7,542.3L540.4,544.9L541.2,547.4L542.0,549.8L542.9,552.2L544.0,554.5L545.3,556.6L546.6,558.8L548.0,560.9L549.3,563.0L550.5,565.2L551.5,567.5L552.3,570.0L552.9,572.6L553.3,575.3M450.4,429.7L452.2,431.5L453.9,433.4L455.5,435.4L457.0,437.4L458.6,439.4L460.2,441.3L462.0,443.2L463.8,445.0L465.7,446.7L467.6,448.5L469.5,450.3L471.3,452.1L473.0,454.0L474.5,456.0L475.9,458.1L477.2,460.3L478.5,462.4L480.0,464.4L481.6,466.4L483.4,468.2L485.4,469.9L487.6,471.5L490.0,472.9L492.4,474.4L494.8,475.8L497.2,477.3L499.4,478.9L501.4,480.6L503.3,482.4L505.1,484.2L506.9,486.0L508.6,487.9L510.5,489.7L512.4,491.4L514.5,493.1L516.6,494.7L518.7,496.4L520.8,498.0L522.8,499.8L523.5,502.2L524.1,504.9L524.4,507.6L524.6,510.4L524.8,513.3L525.0,516.1L525.2,518.9L525.7,521.6L526.3,524.2L527.1,526.6L528.1,528.9L529.2,531.2L530.3,533.5L531.4,535.7L532.5,538.0L533.4,540.4L534.2,542.9L535.0,545.3L535.7,547.8L536.5,550.3L537.3,552.7L538.3,555.0L539.5,557.3L540.7,559.5L542.0,561.6L543.3,563.7L544.6,565.9L545.6,568.2L546.4,570.7L547.1,573.2L547.5,575.9L547.8,578.7M446.4,432.2L448.1,434.1L449.6,436.1L451.1,438.1L452.5,440.2L454.1,442.2L455.7,444.1L457.4,446.0L459.3,447.8L461.2,449.6L463.1,451.3L464.9,453.1L466.7,455.0L468.3,457.0L469.8,459.0L471.2,461.0L472.6,463.1L474.0,465.2L475.6,467.1L477.4,469.0L479.4,470.7L481.6,472.3L483.9,473.8L486.4,475.2L488.8,476.6L491.2,478.1L493.5,479.6L495.6,481.2L497.6,483.0L499.4,484.8L501.2,486.7L502.9,488.5L504.6,490.4L506.4,492.2L508.3,494.0L510.3,495.7L512.4,497.4L514.4,499.1L516.4,500.8L518.2,502.6L518.9,505.1L519.3,507.8L519.6,510.6L519.8,513.4L519.9,516.3L520.2,519.1L520.6,521.8L521.1,524.4L521.9,526.9L522.9,529.2L524.0,531.5L525.2,533.7L526.4,535.9L527.6,538.1L528.6,540.4L529.5,542.8L530.4,545.3L531.1,547.7L531.9,550.2L532.7,552.7L533.6,555.1L534.6,557.4L535.8,559.6L537.0,561.8L538.2,564.0L539.4,566.2L540.5,568.5L541.4,570.9L542.1,573.4L542.5,576.1L542.8,578.8L543.0,581.7M443.6,434.0L445.1,436.0L446.5,438.0L447.9,440.1L449.3,442.2L450.8,444.2L452.4,446.2L454.2,448.0L456.1,449.8L458.0,451.6L459.9,453.3L461.7,455.2L463.4,457.0L465.1,459.0L466.6,461.0L468.1,463.0L469.6,465.0L471.1,467.0L472.9,468.9L474.8,470.6L476.9,472.2L479.3,473.7L481.7,475.2L484.2,476.6L486.7,478.0L489.0,479.5L491.2,481.0L493.2,482.7L495.1,484.5L496.8,486.4L498.5,488.3L500.1,490.3L501.8,492.2L503.6,494.0L505.4,495.8L507.4,497.5L509.4,499.2L511.4,501.0L513.2,502.8L515.0,504.6L515.5,507.2L515.9,510.0L516.1,512.8L516.3,515.6L516.6,518.4L516.9,521.1L517.4,523.8L518.2,526.3L519.1,528.6L520.2,530.9L521.5,533.1L522.8,535.2L524.0,537.4L525.2,539.6L526.2,541.9L527.1,544.3L527.9,546.8L528.7,549.3L529.4,551.7L530.3,554.2L531.2,556.6L532.2,558.9L533.3,561.1L534.5,563.4L535.6,565.6L536.7,567.9L537.6,570.3L538.3,572.8L538.9,575.4L539.2,578.2L539.4,581.0L539.6,583.8" stroke="#000" stroke-width="0.75" fill="none"/></g>
<polygon points="530.0,438.3 537.0,428.0 552.6,417.0 578.7,435.6 623.2,410.4 604.7,394.4 622.4,383.5 698.8,428.8 679.8,439.6 667.5,434.6 662.5,437.1 670.8,445.3 637.8,463.5 626.3,458.5 619.7,461.8 627.9,469.2 609.8,480.8" fill="none" stroke="#000" stroke-width="2" stroke-linejoin="round" />
<ellipse cx="626" cy="436.5" rx="5" ry="3.8" transform="rotate(0 626 436.5)" fill="#fff" stroke="#000" stroke-width="1.4"/>
<ellipse cx="626" cy="436.5" rx="2.2" ry="1.7" transform="rotate(0 626 436.5)" fill="none" stroke="#000" stroke-width="0.9"/>
<clipPath id="c29"><polygon points="517.0,428.6 537.9,417.4 538.6,428.6 530.0,438.3 530.0,494.0 521.0,491.5 517.0,488.0"/></clipPath>
<polygon points="517.0,428.6 537.9,417.4 538.6,428.6 530.0,438.3 530.0,494.0 521.0,491.5 517.0,488.0" fill="#fff" stroke="none"/>
<g clip-path="url(#c29)"><path d="M541.8,411.8L542.2,414.3L542.4,416.9L542.3,419.4L542.2,422.0L542.3,424.6L542.8,427.1L543.8,429.6L545.0,432.0L546.2,434.5L547.2,436.9L547.9,439.4L548.3,442.0L548.7,444.5L549.3,447.0L550.0,449.5L550.8,452.0L551.6,454.5L552.1,457.0L551.6,459.6L550.9,462.3L550.1,464.9L549.5,467.6L549.3,470.2L549.5,472.7L549.9,475.2L550.3,477.8L550.6,480.3L550.7,482.9L550.6,485.5L550.6,488.0L550.9,490.6L551.4,493.1L552.1,495.6M538.6,412.1L539.0,414.6L539.2,417.2L539.1,419.8L539.1,422.3L539.4,424.9L540.2,427.4L541.3,429.8L542.6,432.3L543.8,434.7L544.7,437.2L545.3,439.7L545.7,442.2L546.0,444.8L546.5,447.3L547.1,449.8L547.9,452.3L548.5,454.8L548.8,457.3L548.3,460.0L547.6,462.6L546.8,465.3L546.4,467.9L546.4,470.5L546.7,473.0L547.3,475.5L547.8,478.0L548.0,480.6L548.1,483.2L548.0,485.7L548.1,488.3L548.4,490.8L548.9,493.4L549.5,495.9M533.6,412.6L534.0,415.2L534.1,417.7L534.2,420.3L534.4,422.8L534.9,425.4L535.8,427.8L537.0,430.3L538.4,432.7L539.5,435.2L540.3,437.7L540.7,440.2L541.0,442.7L541.2,445.3L541.7,447.8L542.3,450.3L543.0,452.8L543.5,455.3L543.7,457.9L543.1,460.5L542.4,463.2L541.8,465.8L541.5,468.4L541.7,471.0L542.2,473.5L542.9,476.0L543.4,478.5L543.6,481.1L543.7,483.6L543.6,486.2L543.7,488.8L544.0,491.3L544.4,493.8L544.8,496.4M527.2,413.3L527.6,415.8L527.8,418.4L528.0,420.9L528.3,423.5L529.0,426.0L530.1,428.4L531.4,430.9L532.7,433.3L533.7,435.8L534.4,438.3L534.6,440.8L534.8,443.4L535.0,445.9L535.4,448.5L535.9,451.0L536.5,453.5L537.0,456.0L537.1,458.6L536.5,461.2L535.8,463.9L535.4,466.5L535.4,469.1L535.8,471.6L536.5,474.1L537.1,476.6L537.6,479.1L537.8,481.7L537.8,484.2L537.7,486.8L537.7,489.4L538.0,491.9L538.4,494.5L538.6,497.0M522.6,413.8L523.0,416.3L523.3,418.9L523.5,421.4L524.0,423.9L524.9,426.4L526.1,428.9L527.4,431.3L528.6,433.7L529.4,436.2L529.9,438.8L530.0,441.3L530.0,443.9L530.2,446.4L530.6,449.0L531.1,451.5L531.7,454.0L532.0,456.5L532.1,459.1L531.6,461.7L531.1,464.4L530.8,467.0L531.0,469.5L531.6,472.0L532.4,474.5L533.1,477.0L533.5,479.5L533.6,482.1L533.4,484.7L533.3,487.3L533.3,489.9L533.5,492.4L533.8,495.0L533.9,497.5M518.8,414.2L519.3,416.7L519.6,419.3L520.0,421.8L520.6,424.3L521.6,426.8L522.8,429.2L524.1,431.6L525.2,434.1L525.8,436.6L526.0,439.2L526.0,441.7L526.0,444.3L526.1,446.9L526.5,449.4L527.1,451.9L527.6,454.4L528.0,457.0L528.1,459.5L527.6,462.2L527.2,464.8L527.2,467.3L527.6,469.9L528.3,472.4L529.1,474.9L529.7,477.4L530.0,479.9L530.0,482.5L529.8,485.1L529.5,487.7L529.5,490.3L529.6,492.8L529.8,495.4L529.8,497.9M513.0,414.8L513.5,417.3L513.9,419.9L514.4,422.4L515.2,424.9L516.2,427.3L517.4,429.8L518.6,432.2L519.4,434.7L519.9,437.2L519.9,439.8L519.8,442.4L519.7,445.0L519.9,447.5L520.3,450.1L520.9,452.6L521.5,455.1L521.8,457.6L522.0,460.2L521.6,462.8L521.4,465.4L521.6,467.9L522.2,470.4L523.0,472.9L523.7,475.4L524.3,477.9L524.4,480.5L524.2,483.1L523.9,485.7L523.6,488.3L523.5,490.9L523.6,493.4L523.7,496.0L523.6,498.6M509.3,415.2L509.8,417.7L510.3,420.2L510.8,422.8L511.6,425.2L512.7,427.7L513.8,430.2L514.8,432.6L515.5,435.1L515.7,437.7L515.6,440.3L515.4,442.9L515.3,445.4L515.6,448.0L516.1,450.5L516.8,453.0L517.4,455.5L517.8,458.0L518.0,460.6L517.8,463.2L517.7,465.8L518.0,468.3L518.7,470.8L519.5,473.3L520.2,475.8L520.6,478.3L520.6,480.9L520.2,483.5L519.8,486.1L519.4,488.7L519.3,491.3L519.4,493.9L519.4,496.5L519.3,499.0M503.7,415.8L504.2,418.3L504.7,420.8L505.3,423.3L506.1,425.8L507.1,428.3L508.2,430.7L509.0,433.2L509.5,435.8L509.5,438.3L509.2,440.9L509.0,443.5L509.0,446.1L509.4,448.6L510.0,451.1L510.8,453.6L511.4,456.1L511.9,458.7L512.2,461.2L512.1,463.8L512.2,466.3L512.6,468.9L513.4,471.4L514.2,473.9L514.7,476.4L514.9,478.9L514.6,481.5L514.1,484.2L513.6,486.8L513.3,489.4L513.2,492.0L513.2,494.5L513.2,497.1L513.1,499.7M501.1,416.1L501.7,418.6L502.1,421.1L502.7,423.6L503.5,426.1L504.5,428.6L505.4,431.0L506.0,433.5L506.3,436.1L506.1,438.7L505.8,441.3L505.7,443.9L505.8,446.4L506.3,449.0L507.1,451.4L507.9,453.9L508.6,456.4L509.1,459.0L509.5,461.5L509.5,464.1L509.7,466.6L510.2,469.1L511.0,471.6L511.6,474.1L512.0,476.7L512.0,479.2L511.5,481.9L510.9,484.5L510.4,487.1L510.0,489.7L510.0,492.3L510.1,494.9L510.1,497.4L509.9,500.0" stroke="#000" stroke-width="0.75" fill="none"/></g>
<polygon points="517.0,428.6 537.9,417.4 538.6,428.6 530.0,438.3 530.0,494.0 521.0,491.5 517.0,488.0" fill="none" stroke="#000" stroke-width="2" stroke-linejoin="round" />
<clipPath id="c30"><polygon points="519.0,479.0 528.0,475.0 530.0,488.0 521.0,491.0"/></clipPath>
<polygon points="519.0,479.0 528.0,475.0 530.0,488.0 521.0,491.0" fill="#fff" stroke="none"/>
<g clip-path="url(#c30)"><path d="M527.3,464.4L543.3,483.6M525.6,465.8L541.6,485.0M523.9,467.2L539.9,486.4M522.3,468.6L538.2,487.8M520.6,470.0L536.5,489.2M518.9,471.4L534.9,490.6M517.2,472.8L533.2,492.0M515.5,474.3L531.5,493.4M513.8,475.7L529.8,494.8M512.1,477.1L528.1,496.3M510.4,478.5L526.4,497.7M508.7,479.9L524.7,499.1" stroke="#000" stroke-width="0.9" fill="none"/></g>
<polygon points="519.0,479.0 528.0,475.0 530.0,488.0 521.0,491.0" fill="none" stroke="#000" stroke-width="1" stroke-linejoin="round" />
<clipPath id="c31"><polygon points="530.0,438.3 628.0,498.4 628.0,516.5 617.0,518.0 617.0,543.0 530.0,495.0"/></clipPath>
<polygon points="530.0,438.3 628.0,498.4 628.0,516.5 617.0,518.0 617.0,543.0 530.0,495.0" fill="#fff" stroke="none"/>
<g clip-path="url(#c31)"><path d="M551.7,393.0L554.5,393.1L557.3,393.3L560.0,393.7L562.7,394.1L565.3,394.7L567.8,395.3L570.4,395.9L573.1,396.3L575.9,396.6L578.7,396.8L581.5,396.9L584.3,397.1L587.0,397.4L589.6,398.0L592.1,398.8L594.4,399.9L596.7,401.1L598.9,402.3L601.2,403.5L603.5,404.4L606.0,405.2L608.6,405.8L611.3,406.2L614.0,406.5L616.7,406.9L619.3,407.4L621.9,408.0L624.4,408.7L626.9,409.4L629.5,410.1L632.1,410.6L634.8,411.0L637.6,411.1L640.6,411.1L643.5,411.0L645.8,412.1L647.9,413.6L649.8,415.3L651.7,417.3L653.3,419.5L655.0,421.8L656.5,424.2L658.2,426.6L659.8,428.8L661.6,430.8L663.5,432.7L665.3,434.6L667.2,436.5L669.0,438.4L670.8,440.5L672.4,442.8L674.1,445.1L675.7,447.4L677.4,449.6L679.2,451.6L681.1,453.3M549.4,397.1L552.3,397.2L555.1,397.4L557.8,397.7L560.4,398.3L563.0,398.9L565.5,399.5L568.1,400.1L570.8,400.5L573.5,400.8L576.3,401.0L579.1,401.3L581.8,401.6L584.5,402.1L587.0,402.8L589.3,403.8L591.6,404.9L593.8,406.2L596.1,407.4L598.4,408.5L600.8,409.3L603.4,410.0L606.0,410.4L608.8,410.7L611.5,411.0L614.2,411.3L616.9,411.8L619.5,412.4L622.0,413.0L624.6,413.7L627.2,414.3L629.8,414.7L632.6,414.9L635.5,415.0L638.4,415.0L641.3,415.0L643.5,416.2L645.5,417.9L647.4,419.8L649.1,421.9L650.7,424.3L652.2,426.7L653.8,429.2L655.4,431.5L657.1,433.7L658.9,435.7L660.8,437.6L662.7,439.4L664.6,441.3L666.4,443.2L668.1,445.3L669.8,447.5L671.5,449.8L673.2,452.0L674.9,454.0L676.8,455.8L678.9,457.4M547.1,401.2L550.0,401.2L552.8,401.5L555.5,401.9L558.0,402.5L560.6,403.2L563.1,403.8L565.7,404.4L568.4,404.9L571.1,405.2L573.8,405.5L576.5,405.9L579.2,406.3L581.8,407.0L584.2,407.8L586.5,408.9L588.7,410.1L590.9,411.4L593.2,412.5L595.6,413.5L598.1,414.2L600.7,414.7L603.5,415.0L606.3,415.2L609.1,415.4L611.8,415.7L614.5,416.1L617.1,416.7L619.7,417.3L622.2,417.9L624.8,418.4L627.5,418.8L630.3,419.0L633.2,419.1L636.1,419.1L639.0,419.2L641.1,420.6L643.0,422.4L644.7,424.5L646.4,426.8L647.9,429.3L649.4,431.8L651.0,434.3L652.6,436.6L654.3,438.7L656.2,440.6L658.1,442.4L660.0,444.2L661.9,446.1L663.7,448.0L665.5,450.1L667.2,452.2L668.9,454.4L670.7,456.4L672.5,458.3L674.5,460.0L676.6,461.5M545.6,403.9L548.5,404.1L551.2,404.4L553.8,404.9L556.3,405.6L558.8,406.3L561.4,407.0L563.9,407.7L566.5,408.2L569.2,408.6L571.9,408.9L574.6,409.4L577.2,409.9L579.7,410.7L582.0,411.7L584.3,412.8L586.6,414.1L588.8,415.2L591.1,416.3L593.6,417.1L596.2,417.7L598.9,418.0L601.7,418.2L604.6,418.3L607.4,418.4L610.2,418.7L612.8,419.1L615.4,419.7L618.0,420.3L620.6,420.9L623.2,421.4L625.9,421.7L628.7,421.9L631.6,422.0L634.4,422.1L637.2,422.4L639.3,423.9L641.1,425.9L642.7,428.2L644.3,430.6L645.8,433.2L647.3,435.7L648.8,438.1L650.5,440.4L652.3,442.4L654.2,444.2L656.1,445.9L658.1,447.7L660.0,449.5L661.9,451.4L663.7,453.4L665.4,455.5L667.2,457.5L669.0,459.5L670.9,461.3L673.0,462.8L675.1,464.2M543.0,408.6L545.8,408.8L548.5,409.3L551.0,409.9L553.5,410.7L556.0,411.5L558.4,412.3L561.0,412.9L563.6,413.5L566.3,413.9L568.9,414.4L571.5,414.9L574.1,415.6L576.5,416.4L578.8,417.5L581.1,418.6L583.4,419.8L585.7,420.9L588.1,421.8L590.6,422.4L593.3,422.8L596.1,423.0L599.0,423.1L601.9,423.1L604.7,423.2L607.5,423.5L610.1,424.0L612.7,424.5L615.3,425.2L617.9,425.8L620.5,426.2L623.2,426.6L626.0,426.8L628.8,427.0L631.6,427.2L634.3,427.6L636.3,429.3L638.0,431.5L639.5,433.9L641.0,436.4L642.5,439.0L644.0,441.5L645.7,443.9L647.4,446.0L649.3,447.9L651.2,449.6L653.2,451.2L655.2,452.9L657.1,454.6L659.0,456.5L660.8,458.5L662.6,460.5L664.4,462.5L666.3,464.3L668.3,466.0L670.4,467.5L672.5,468.9M540.7,412.8L543.4,413.2L546.0,413.7L548.5,414.5L550.9,415.4L553.3,416.3L555.8,417.1L558.3,417.8L560.9,418.4L563.5,418.9L566.1,419.4L568.7,420.0L571.2,420.7L573.6,421.6L575.9,422.7L578.2,423.8L580.5,424.9L582.9,425.9L585.4,426.6L588.1,427.0L590.9,427.3L593.8,427.3L596.7,427.3L599.6,427.3L602.4,427.4L605.1,427.8L607.8,428.3L610.3,428.9L612.9,429.6L615.4,430.2L618.1,430.7L620.8,431.1L623.5,431.4L626.3,431.6L629.0,432.0L631.6,432.5L633.5,434.4L635.1,436.7L636.6,439.2L638.1,441.7L639.6,444.3L641.2,446.7L642.8,448.9L644.7,450.9L646.6,452.7L648.6,454.3L650.7,455.8L652.7,457.4L654.6,459.1L656.5,461.0L658.4,462.9L660.2,464.9L662.0,466.8L663.9,468.6L666.0,470.2L668.1,471.7L670.2,473.0M538.2,417.3L540.9,417.8L543.4,418.5L545.8,419.4L548.1,420.4L550.5,421.4L552.9,422.2L555.5,422.9L558.1,423.5L560.7,424.0L563.3,424.5L565.8,425.2L568.3,426.0L570.7,426.9L573.0,427.9L575.4,429.0L577.7,430.0L580.2,430.8L582.8,431.3L585.6,431.6L588.4,431.6L591.4,431.6L594.3,431.5L597.2,431.6L600.0,431.8L602.7,432.2L605.3,432.8L607.8,433.5L610.3,434.2L612.9,434.8L615.5,435.4L618.1,435.8L620.8,436.1L623.6,436.5L626.2,437.0L628.8,437.6L630.5,439.6L632.1,442.0L633.6,444.6L635.1,447.2L636.6,449.6L638.3,451.9L640.0,454.0L642.0,455.8L644.0,457.4L646.1,458.9L648.1,460.4L650.2,461.9L652.2,463.6L654.0,465.5L655.9,467.4L657.7,469.3L659.6,471.2L661.5,473.0L663.5,474.6L665.6,476.0L667.8,477.4M536.9,419.6L539.5,420.3L541.9,421.2L544.2,422.2L546.5,423.3L548.9,424.3L551.3,425.1L553.9,425.8L556.4,426.4L559.1,426.9L561.7,427.4L564.2,428.1L566.7,428.9L569.1,429.8L571.5,430.8L573.8,431.7L576.3,432.6L578.9,433.2L581.6,433.6L584.4,433.7L587.3,433.6L590.3,433.5L593.2,433.5L596.1,433.6L598.8,433.9L601.5,434.4L604.0,435.1L606.4,435.9L608.9,436.7L611.4,437.4L614.0,437.9L616.7,438.4L619.4,438.8L622.0,439.3L624.6,439.8L627.1,440.6L628.8,442.7L630.4,445.2L631.9,447.7L633.4,450.2L635.0,452.6L636.7,454.7L638.6,456.6L640.6,458.2L642.7,459.7L644.8,461.1L646.9,462.5L649.0,464.1L651.0,465.8L652.8,467.6L654.7,469.6L656.5,471.5L658.4,473.4L660.3,475.1L662.3,476.7L664.4,478.3L666.5,479.8M534.2,424.5L536.6,425.4L539.0,426.4L541.3,427.6L543.6,428.7L545.9,429.6L548.4,430.5L550.9,431.1L553.5,431.6L556.2,432.1L558.8,432.7L561.3,433.3L563.8,434.1L566.2,434.9L568.7,435.8L571.1,436.7L573.6,437.4L576.3,437.8L579.1,438.0L582.0,438.0L584.9,437.9L587.9,437.8L590.8,437.8L593.6,438.0L596.3,438.5L598.8,439.1L601.3,440.0L603.7,440.8L606.1,441.7L608.6,442.4L611.2,443.0L613.8,443.5L616.5,444.0L619.1,444.5L621.7,445.2L624.1,446.0L625.8,448.2L627.4,450.6L628.9,453.1L630.5,455.5L632.1,457.7L634.0,459.7L635.9,461.4L638.0,462.9L640.2,464.2L642.4,465.6L644.5,467.0L646.5,468.6L648.5,470.3L650.3,472.2L652.1,474.2L653.9,476.2L655.8,478.0L657.7,479.8L659.7,481.4L661.8,483.0L663.8,484.6M532.0,428.5L534.3,429.6L536.6,430.7L538.8,431.9L541.1,433.0L543.5,433.9L546.0,434.7L548.6,435.3L551.3,435.7L553.9,436.2L556.6,436.7L559.1,437.3L561.6,438.0L564.1,438.8L566.5,439.6L569.1,440.4L571.7,440.9L574.4,441.2L577.3,441.3L580.2,441.3L583.2,441.1L586.1,441.1L589.0,441.2L591.7,441.5L594.3,442.1L596.7,443.0L599.1,443.9L601.5,444.8L603.9,445.7L606.4,446.5L609.0,447.1L611.6,447.6L614.2,448.2L616.8,448.7L619.3,449.4L621.7,450.3L623.4,452.5L625.0,454.9L626.6,457.3L628.2,459.6L630.0,461.6L631.9,463.4L634.0,464.9L636.2,466.3L638.4,467.5L640.5,468.8L642.6,470.3L644.6,471.9L646.5,473.8L648.4,475.7L650.1,477.8L651.9,479.8L653.8,481.7L655.7,483.5L657.7,485.2L659.7,486.8L661.6,488.5M528.3,435.2L530.6,436.3L532.8,437.5L535.1,438.7L537.4,439.8L539.8,440.7L542.4,441.3L545.0,441.8L547.7,442.2L550.4,442.6L553.0,443.0L555.6,443.6L558.2,444.3L560.7,445.0L563.2,445.7L565.8,446.3L568.4,446.7L571.2,447.0L574.1,447.0L577.1,446.9L580.0,446.8L582.9,446.9L585.7,447.1L588.3,447.7L590.8,448.4L593.2,449.4L595.5,450.4L597.8,451.4L600.2,452.3L602.7,453.1L605.3,453.7L607.9,454.2L610.5,454.8L613.1,455.4L615.6,456.1L618.0,457.0L619.7,459.1L621.4,461.5L623.0,463.7L624.7,465.8L626.6,467.7L628.6,469.3L630.8,470.7L633.0,472.0L635.2,473.2L637.4,474.5L639.4,476.1L641.4,477.8L643.2,479.7L645.0,481.8L646.7,483.9L648.5,485.9L650.3,487.9L652.2,489.7L654.2,491.5L656.1,493.2L658.0,495.0M525.8,439.8L528.0,441.0L530.2,442.2L532.5,443.4L534.9,444.3L537.4,445.1L540.0,445.6L542.7,446.0L545.4,446.3L548.2,446.6L550.8,447.0L553.4,447.6L556.0,448.2L558.5,448.9L561.1,449.5L563.7,450.0L566.4,450.3L569.3,450.5L572.2,450.5L575.1,450.4L578.0,450.4L580.8,450.6L583.5,451.1L586.0,451.8L588.4,452.7L590.7,453.8L593.0,454.9L595.3,455.9L597.8,456.8L600.3,457.6L602.8,458.1L605.5,458.7L608.1,459.2L610.7,459.8L613.2,460.5L615.6,461.3L617.4,463.4L619.0,465.7L620.7,467.8L622.6,469.8L624.6,471.4L626.6,472.9L628.8,474.2L631.1,475.4L633.3,476.7L635.4,478.1L637.4,479.7L639.3,481.6L641.1,483.6L642.8,485.8L644.5,488.0L646.2,490.1L648.0,492.1L649.9,493.9L651.8,495.7L653.7,497.6L655.6,499.5M524.0,443.0L526.2,444.3L528.4,445.5L530.7,446.5L533.2,447.4L535.8,448.0L538.4,448.4L541.2,448.6L544.0,448.8L546.8,449.1L549.5,449.5L552.1,450.0L554.7,450.6L557.2,451.2L559.8,451.8L562.5,452.2L565.2,452.5L568.1,452.6L571.0,452.6L573.9,452.7L576.7,452.8L579.4,453.2L582.0,453.8L584.4,454.7L586.7,455.7L589.0,456.9L591.3,458.1L593.6,459.1L596.0,459.9L598.6,460.6L601.2,461.1L603.8,461.6L606.5,462.1L609.1,462.7L611.6,463.4L614.0,464.2L615.8,466.2L617.6,468.3L619.4,470.3L621.3,472.1L623.3,473.6L625.5,475.0L627.7,476.2L629.9,477.5L632.1,478.8L634.2,480.3L636.1,482.1L637.9,484.1L639.6,486.3L641.2,488.6L642.9,490.8L644.6,493.0L646.4,495.0L648.3,496.9L650.2,498.7L652.0,500.6L653.9,502.5M519.8,450.5L522.1,451.7L524.3,452.8L526.7,453.8L529.3,454.4L531.9,454.9L534.7,455.1L537.5,455.2L540.4,455.4L543.1,455.6L545.8,456.0L548.5,456.5L551.1,457.1L553.6,457.7L556.2,458.3L558.9,458.7L561.7,458.9L564.5,459.0L567.4,459.1L570.2,459.3L573.0,459.6L575.6,460.1L578.0,460.9L580.4,461.9L582.6,463.1L584.9,464.3L587.2,465.4L589.5,466.4L592.0,467.2L594.6,467.8L597.3,468.2L599.9,468.6L602.6,469.1L605.2,469.6L607.8,470.2L610.3,471.0L612.1,472.9L613.9,475.0L615.8,476.8L617.7,478.5L619.8,479.9L622.0,481.2L624.3,482.5L626.5,483.8L628.6,485.2L630.5,486.9L632.4,488.9L634.1,491.0L635.7,493.3L637.3,495.7L638.9,498.0L640.7,500.1L642.4,502.1L644.3,504.0L646.2,505.9L648.0,507.8L649.8,509.8M517.1,455.4L519.4,456.5L521.7,457.5L524.2,458.3L526.8,458.8L529.6,459.1L532.5,459.2L535.3,459.2L538.2,459.3L541.0,459.6L543.7,459.9L546.3,460.5L548.8,461.1L551.4,461.7L554.0,462.2L556.7,462.6L559.5,462.9L562.3,463.1L565.1,463.2L567.9,463.5L570.5,464.0L573.0,464.7L575.4,465.6L577.7,466.8L579.9,468.0L582.1,469.2L584.5,470.3L586.9,471.2L589.4,471.8L592.1,472.3L594.8,472.7L597.5,473.0L600.2,473.4L602.8,473.9L605.4,474.5L607.9,475.2L609.8,477.0L611.7,479.0L613.6,480.7L615.6,482.3L617.8,483.7L620.0,485.0L622.2,486.3L624.3,487.7L626.3,489.3L628.2,491.1L629.9,493.3L631.5,495.6L633.1,498.0L634.7,500.4L636.3,502.7L638.0,504.8L639.8,506.8L641.7,508.7L643.6,510.6L645.5,512.4L647.3,514.5M514.9,459.4L517.2,460.4L519.6,461.3L522.2,461.9L525.0,462.2L527.8,462.3L530.7,462.3L533.6,462.3L536.5,462.4L539.2,462.7L541.9,463.1L544.5,463.7L547.0,464.3L549.6,465.0L552.2,465.5L554.9,465.9L557.6,466.2L560.4,466.5L563.2,466.7L565.8,467.2L568.4,467.8L570.8,468.7L573.1,469.7L575.4,470.9L577.6,472.2L579.9,473.4L582.2,474.3L584.7,475.1L587.3,475.6L590.1,475.9L592.8,476.2L595.6,476.4L598.3,476.8L601.0,477.3L603.6,477.8L606.1,478.5L608.0,480.3L609.9,482.1L611.9,483.8L613.9,485.3L616.1,486.7L618.3,488.0L620.4,489.4L622.5,491.0L624.4,492.7L626.2,494.8L627.8,497.1L629.4,499.5L630.9,502.0L632.4,504.4L634.1,506.7L635.8,508.8L637.7,510.8L639.6,512.6L641.5,514.4L643.3,516.3L645.1,518.3M512.3,464.0L514.7,464.9L517.3,465.6L520.0,466.0L522.8,466.1L525.7,466.1L528.6,466.1L531.6,466.0L534.4,466.2L537.1,466.5L539.7,467.0L542.3,467.7L544.8,468.4L547.3,469.0L549.9,469.6L552.6,470.1L555.3,470.4L558.0,470.8L560.7,471.2L563.3,471.7L565.8,472.5L568.2,473.4L570.4,474.6L572.7,475.8L574.9,477.0L577.2,478.1L579.7,478.9L582.3,479.5L585.0,479.9L587.8,480.1L590.6,480.3L593.4,480.5L596.1,480.8L598.8,481.2L601.4,481.8L603.9,482.4L605.9,484.2L607.8,486.0L609.8,487.6L611.8,489.1L614.0,490.5L616.1,491.9L618.2,493.5L620.1,495.2L621.9,497.1L623.6,499.4L625.2,501.8L626.7,504.3L628.2,506.8L629.8,509.2L631.5,511.5L633.3,513.5L635.1,515.3L637.1,517.1L639.0,518.9L640.9,520.7L642.7,522.7M510.5,467.3L513.0,468.1L515.6,468.6L518.4,468.8L521.3,468.8L524.2,468.7L527.2,468.6L530.1,468.7L532.9,468.9L535.6,469.3L538.1,469.9L540.6,470.7L543.1,471.4L545.6,472.2L548.2,472.8L550.8,473.3L553.5,473.7L556.2,474.1L558.8,474.6L561.4,475.3L563.8,476.1L566.1,477.2L568.3,478.4L570.6,479.6L572.9,480.7L575.3,481.6L577.8,482.3L580.5,482.7L583.3,482.9L586.1,483.0L589.0,483.1L591.8,483.3L594.6,483.6L597.2,484.1L599.8,484.6L602.4,485.2L604.3,487.0L606.2,488.8L608.2,490.4L610.3,491.9L612.4,493.4L614.4,494.9L616.4,496.6L618.3,498.5L620.0,500.6L621.6,503.0L623.1,505.5L624.6,508.1L626.1,510.6L627.7,512.9L629.5,515.0L631.3,516.9L633.3,518.7L635.2,520.4L637.2,522.1L639.1,523.9L641.0,525.8M508.3,471.3L510.9,471.9L513.6,472.2L516.5,472.3L519.4,472.2L522.4,472.1L525.3,472.1L528.2,472.2L530.9,472.5L533.5,473.1L536.0,473.8L538.4,474.6L540.9,475.5L543.3,476.3L545.9,476.9L548.5,477.4L551.2,477.9L553.8,478.4L556.4,479.0L558.9,479.7L561.3,480.7L563.6,481.8L565.8,482.9L568.1,484.0L570.5,485.0L573.0,485.8L575.6,486.3L578.4,486.5L581.3,486.6L584.2,486.6L587.0,486.6L589.8,486.8L592.6,487.2L595.2,487.7L597.8,488.3L600.3,488.9L602.3,490.7L604.2,492.5L606.2,494.1L608.2,495.7L610.2,497.3L612.2,498.9L614.1,500.7L615.9,502.8L617.6,505.1L619.1,507.5L620.6,510.1L622.1,512.7L623.6,515.1L625.3,517.3L627.1,519.3L629.0,521.1L631.0,522.8L633.0,524.4L635.0,526.0L637.0,527.8L638.8,529.7M505.2,476.8L507.9,477.2L510.7,477.4L513.6,477.4L516.6,477.3L519.5,477.2L522.4,477.3L525.2,477.5L527.9,478.0L530.4,478.7L532.8,479.6L535.2,480.5L537.6,481.4L540.1,482.2L542.6,482.9L545.2,483.4L547.8,483.9L550.4,484.5L553.0,485.1L555.4,485.9L557.8,486.9L560.1,488.0L562.4,489.1L564.8,490.1L567.2,490.9L569.8,491.5L572.6,491.8L575.4,491.9L578.3,491.8L581.3,491.8L584.2,491.8L586.9,492.1L589.6,492.5L592.2,493.1L594.7,493.7L597.3,494.4L599.2,496.2L601.1,498.0L603.1,499.7L605.1,501.3L607.1,503.0L609.0,504.8L610.8,506.7L612.5,508.9L614.1,511.3L615.6,513.9L617.1,516.5L618.6,519.0L620.2,521.3L622.0,523.4L623.8,525.2L625.8,526.8L627.9,528.4L630.0,529.9L632.0,531.5L633.9,533.2L635.8,535.1M503.7,479.6L506.4,479.9L509.3,480.0L512.2,480.0L515.2,479.9L518.1,479.8L520.9,480.0L523.6,480.4L526.2,481.0L528.6,481.9L530.9,482.9L533.3,483.9L535.7,484.9L538.1,485.7L540.7,486.3L543.3,486.9L545.9,487.4L548.5,488.0L551.0,488.7L553.5,489.5L555.8,490.4L558.2,491.5L560.5,492.5L563.0,493.3L565.5,494.0L568.2,494.4L571.0,494.5L574.0,494.5L576.9,494.4L579.8,494.4L582.7,494.5L585.4,494.8L588.1,495.3L590.6,496.0L593.1,496.7L595.6,497.4L597.5,499.2L599.4,501.1L601.3,502.9L603.3,504.6L605.2,506.3L607.1,508.2L608.8,510.3L610.5,512.6L612.0,515.1L613.5,517.6L615.0,520.2L616.6,522.6L618.3,524.7L620.1,526.6L622.1,528.3L624.2,529.8L626.3,531.2L628.4,532.7L630.4,534.3L632.4,536.0L634.2,537.9M501.3,483.9L504.1,484.1L507.0,484.1L509.9,484.1L512.8,484.1L515.7,484.2L518.4,484.5L521.0,485.0L523.5,485.9L525.8,486.9L528.1,488.0L530.4,489.0L532.8,490.0L535.3,490.8L537.8,491.4L540.5,492.0L543.1,492.5L545.7,493.0L548.2,493.7L550.7,494.5L553.1,495.5L555.4,496.4L557.9,497.3L560.4,498.0L563.0,498.5L565.8,498.7L568.7,498.7L571.7,498.6L574.6,498.5L577.5,498.5L580.3,498.7L583.0,499.1L585.6,499.8L588.1,500.6L590.5,501.4L593.0,502.2L594.9,504.0L596.7,505.9L598.6,507.7L600.5,509.5L602.4,511.4L604.2,513.3L605.9,515.5L607.5,517.9L609.1,520.4L610.6,522.9L612.1,525.3L613.8,527.6L615.6,529.6L617.6,531.3L619.6,532.8L621.8,534.2L623.9,535.6L626.0,537.0L628.0,538.6L630.0,540.4L631.8,542.3M499.1,487.9L501.9,488.1L504.8,488.1L507.7,488.1L510.5,488.2L513.3,488.4L516.0,488.9L518.4,489.7L520.8,490.7L523.1,491.8L525.4,493.0L527.7,494.0L530.1,495.0L532.6,495.7L535.2,496.3L537.8,496.8L540.4,497.2L543.0,497.8L545.6,498.5L548.1,499.2L550.5,500.1L552.9,501.0L555.4,501.7L558.0,502.3L560.7,502.6L563.6,502.7L566.5,502.6L569.5,502.5L572.5,502.4L575.3,502.5L578.0,502.9L580.6,503.4L583.1,504.2L585.5,505.1L587.9,506.0L590.4,506.8L592.3,508.7L594.1,510.6L596.0,512.5L597.9,514.3L599.7,516.2L601.5,518.3L603.2,520.5L604.7,522.9L606.3,525.4L607.9,527.8L609.5,530.1L611.3,532.2L613.2,534.0L615.2,535.5L617.3,536.9L619.5,538.2L621.7,539.6L623.8,541.0L625.8,542.7L627.7,544.5L629.5,546.5M497.2,491.3L500.0,491.4L502.9,491.5L505.7,491.6L508.5,491.8L511.2,492.2L513.8,492.9L516.2,493.8L518.4,494.9L520.7,496.1L522.9,497.3L525.3,498.4L527.7,499.2L530.2,499.9L532.9,500.4L535.6,500.8L538.2,501.2L540.8,501.8L543.4,502.4L545.9,503.1L548.4,503.9L550.9,504.7L553.4,505.3L556.1,505.7L558.9,505.9L561.8,505.9L564.8,505.8L567.7,505.7L570.6,505.8L573.4,506.0L576.0,506.5L578.5,507.2L580.9,508.1L583.3,509.1L585.7,510.1L588.1,511.0L590.0,512.8L591.8,514.8L593.7,516.6L595.6,518.5L597.4,520.5L599.1,522.6L600.8,524.8L602.4,527.2L604.0,529.6L605.6,531.9L607.3,534.0L609.2,535.9L611.2,537.5L613.3,538.9L615.5,540.2L617.7,541.5L619.9,542.8L621.9,544.4L623.9,546.1L625.7,548.0L627.5,550.0M494.4,496.4L497.2,496.6L500.0,496.8L502.8,497.0L505.5,497.3L508.1,497.9L510.5,498.7L512.8,499.8L515.1,501.0L517.3,502.3L519.6,503.4L521.9,504.4L524.4,505.1L527.0,505.7L529.7,506.1L532.4,506.4L535.1,506.8L537.8,507.3L540.4,507.9L542.9,508.5L545.4,509.3L548.0,509.9L550.6,510.4L553.3,510.7L556.2,510.9L559.1,510.8L562.0,510.8L564.9,510.7L567.8,510.9L570.5,511.3L573.0,512.0L575.4,512.9L577.7,513.9L580.1,515.0L582.4,516.0L584.8,516.9L586.7,518.7L588.6,520.6L590.4,522.5L592.3,524.4L594.1,526.3L595.9,528.4L597.5,530.7L599.2,533.0L600.8,535.3L602.5,537.4L604.3,539.4L606.3,541.1L608.4,542.6L610.6,543.9L612.8,545.1L615.0,546.4L617.1,547.8L619.1,549.4L621.0,551.3L622.8,553.3L624.5,555.4M492.1,500.5L494.9,500.7L497.7,500.9L500.4,501.3L503.0,501.8L505.5,502.6L507.9,503.5L510.1,504.7L512.3,506.0L514.6,507.2L516.9,508.2L519.3,509.1L521.9,509.7L524.6,510.1L527.3,510.4L530.1,510.7L532.8,511.0L535.5,511.4L538.1,512.0L540.6,512.6L543.2,513.3L545.8,513.9L548.4,514.3L551.2,514.5L554.1,514.6L557.0,514.6L559.9,514.6L562.8,514.7L565.5,515.0L568.1,515.6L570.5,516.5L572.8,517.5L575.1,518.6L577.4,519.8L579.8,520.8L582.2,521.6L584.1,523.4L586.0,525.3L587.9,527.1L589.8,529.0L591.6,530.9L593.3,533.0L595.0,535.2L596.7,537.4L598.4,539.6L600.2,541.6L602.1,543.4L604.1,545.0L606.3,546.4L608.5,547.6L610.7,548.8L612.9,550.2L615.0,551.7L616.9,553.4L618.7,555.4L620.4,557.6L622.1,559.8M489.2,505.8L491.9,506.1L494.6,506.4L497.3,506.9L499.8,507.6L502.2,508.4L504.5,509.5L506.8,510.8L509.0,512.0L511.3,513.1L513.7,514.1L516.2,514.8L518.8,515.3L521.6,515.5L524.4,515.7L527.2,515.9L529.9,516.2L532.6,516.6L535.2,517.1L537.8,517.8L540.4,518.4L543.0,518.9L545.7,519.3L548.5,519.5L551.3,519.6L554.2,519.6L557.1,519.7L559.8,520.0L562.5,520.5L564.9,521.3L567.3,522.3L569.6,523.4L571.8,524.6L574.1,525.7L576.5,526.7L579.0,527.4L580.9,529.2L582.8,531.0L584.7,532.8L586.6,534.6L588.5,536.5L590.3,538.6L592.0,540.7L593.7,542.8L595.5,544.9L597.3,546.8L599.3,548.5L601.4,549.9L603.6,551.2L605.9,552.4L608.1,553.7L610.2,555.1L612.2,556.8L614.0,558.7L615.7,560.8L617.4,563.1L619.0,565.4M487.2,509.3L489.9,509.7L492.6,510.2L495.1,510.7L497.6,511.5L500.0,512.5L502.2,513.7L504.5,514.9L506.7,516.1L509.1,517.1L511.5,517.9L514.2,518.4L516.9,518.7L519.7,518.9L522.6,519.0L525.4,519.1L528.2,519.4L530.9,519.8L533.5,520.3L536.0,520.9L538.6,521.5L541.2,522.0L544.0,522.4L546.7,522.6L549.6,522.7L552.4,522.9L555.2,523.1L557.9,523.5L560.4,524.2L562.8,525.1L565.1,526.3L567.3,527.5L569.5,528.7L571.9,529.8L574.3,530.7L576.8,531.3L578.8,533.0L580.8,534.7L582.7,536.4L584.6,538.2L586.5,540.1L588.3,542.1L590.1,544.1L591.8,546.2L593.7,548.1L595.6,549.9L597.6,551.5L599.8,552.8L602.0,554.1L604.2,555.4L606.4,556.7L608.4,558.3L610.3,560.2L612.0,562.3L613.7,564.5L615.3,566.9L616.9,569.3M484.5,514.2L487.2,514.6L489.8,515.2L492.3,515.9L494.7,516.7L497.1,517.8L499.3,518.9L501.6,520.1L503.9,521.2L506.3,522.0L508.9,522.6L511.6,523.0L514.4,523.2L517.3,523.2L520.2,523.2L523.1,523.4L525.8,523.6L528.5,524.1L531.1,524.7L533.6,525.3L536.2,525.9L538.8,526.4L541.5,526.8L544.3,527.0L547.1,527.2L549.9,527.4L552.6,527.8L555.1,528.4L557.6,529.3L559.9,530.3L562.1,531.6L564.4,532.8L566.6,534.0L569.0,535.0L571.5,535.7L574.1,536.3L576.1,537.8L578.1,539.4L580.1,541.1L582.1,542.8L584.0,544.6L585.8,546.6L587.6,548.6L589.4,550.6L591.3,552.4L593.3,554.1L595.3,555.6L597.5,557.0L599.7,558.3L601.9,559.6L603.9,561.1L605.9,562.9L607.7,564.9L609.3,567.1L610.9,569.6L612.4,572.0L614.0,574.4M482.1,518.5L484.8,519.0L487.3,519.6L489.8,520.3L492.2,521.2L494.6,522.3L496.8,523.4L499.2,524.5L501.6,525.4L504.1,526.1L506.7,526.5L509.6,526.7L512.4,526.7L515.4,526.7L518.3,526.7L521.1,526.9L523.8,527.2L526.5,527.7L529.0,528.4L531.5,529.0L534.1,529.7L536.7,530.2L539.4,530.6L542.2,530.9L544.9,531.2L547.6,531.5L550.2,532.1L552.7,532.8L555.1,533.8L557.4,534.9L559.6,536.2L561.8,537.4L564.1,538.5L566.6,539.3L569.1,540.0L571.8,540.3L573.9,541.8L576.0,543.3L578.0,544.9L580.0,546.6L581.9,548.4L583.7,550.4L585.5,552.3L587.4,554.2L589.3,556.0L591.3,557.6L593.4,559.1L595.6,560.5L597.7,561.8L599.8,563.3L601.8,565.0L603.6,566.9L605.3,569.1L606.9,571.5L608.4,574.0L609.9,576.5L611.5,578.9M479.3,523.6L481.9,524.1L484.5,524.8L486.9,525.5L489.3,526.5L491.7,527.5L494.0,528.6L496.4,529.5L498.9,530.3L501.5,530.8L504.3,531.0L507.1,531.1L510.1,531.0L513.0,530.9L515.9,531.0L518.7,531.2L521.4,531.6L524.0,532.2L526.5,532.9L529.0,533.7L531.5,534.3L534.1,534.9L536.8,535.3L539.5,535.7L542.2,536.1L544.8,536.6L547.4,537.2L549.8,538.1L552.1,539.2L554.4,540.4L556.6,541.6L558.9,542.7L561.2,543.7L563.8,544.4L566.4,544.8L569.2,545.1L571.4,546.4L573.5,547.8L575.5,549.4L577.5,551.1L579.4,552.9L581.2,554.8L583.1,556.8L584.9,558.7L586.9,560.4L588.9,562.0L591.0,563.5L593.1,564.9L595.2,566.4L597.2,568.0L599.1,569.9L600.8,572.0L602.4,574.3L603.9,576.8L605.4,579.4L607.0,581.9L608.6,584.2M477.0,527.8L479.6,528.3L482.1,529.0L484.6,529.7L487.0,530.7L489.4,531.6L491.8,532.6L494.2,533.4L496.8,534.0L499.5,534.3L502.4,534.4L505.3,534.4L508.3,534.2L511.2,534.2L514.1,534.3L516.8,534.6L519.4,535.2L521.9,535.9L524.4,536.7L526.9,537.5L529.4,538.2L532.0,538.8L534.6,539.3L537.3,539.7L539.9,540.2L542.5,540.7L545.0,541.5L547.4,542.5L549.7,543.6L551.9,544.8L554.2,545.9L556.5,546.9L559.0,547.7L561.6,548.2L564.4,548.5L567.2,548.6L569.5,549.8L571.6,551.3L573.6,552.8L575.6,554.5L577.5,556.4L579.3,558.3L581.1,560.3L583.0,562.1L584.9,563.9L587.0,565.5L589.0,567.0L591.1,568.5L593.1,570.1L595.0,571.9L596.8,574.0L598.5,576.2L600.0,578.7L601.5,581.3L603.0,583.8L604.5,586.3L606.2,588.5M474.6,532.0L477.3,532.5L479.8,533.1L482.3,533.9L484.7,534.8L487.2,535.6L489.6,536.5L492.2,537.1L494.8,537.6L497.6,537.7L500.5,537.7L503.5,537.6L506.5,537.5L509.4,537.6L512.2,537.8L514.8,538.2L517.3,538.9L519.8,539.8L522.2,540.6L524.6,541.5L527.1,542.2L529.7,542.9L532.3,543.4L535.0,543.9L537.6,544.4L540.1,545.1L542.6,545.9L544.9,546.9L547.2,548.0L549.5,549.1L551.8,550.2L554.2,551.0L556.8,551.6L559.5,552.0L562.4,552.1L565.3,552.1L567.6,553.3L569.7,554.7L571.7,556.3L573.7,558.0L575.5,559.9L577.3,561.9L579.1,563.9L581.0,565.8L582.9,567.5L584.9,569.2L586.9,570.8L589.0,572.4L590.9,574.1L592.7,576.1L594.4,578.3L596.0,580.7L597.5,583.2L599.0,585.8L600.5,588.3L602.1,590.6L603.9,592.7M471.1,538.5L473.7,538.9L476.3,539.5L478.8,540.3L481.2,541.1L483.7,541.9L486.2,542.6L488.9,543.1L491.6,543.4L494.5,543.5L497.4,543.4L500.4,543.3L503.3,543.2L506.1,543.4L508.8,543.7L511.4,544.4L513.9,545.2L516.2,546.1L518.6,547.1L521.0,548.0L523.5,548.8L526.1,549.4L528.7,550.0L531.3,550.5L533.9,551.0L536.4,551.8L538.8,552.6L541.2,553.6L543.5,554.7L545.8,555.7L548.2,556.6L550.8,557.3L553.4,557.7L556.3,557.9L559.2,557.9L562.1,557.8L564.4,559.0L566.5,560.4L568.5,562.1L570.4,563.9L572.2,565.9L574.0,567.9L575.8,570.0L577.6,571.9L579.5,573.7L581.5,575.4L583.5,577.1L585.4,578.8L587.3,580.7L589.0,582.8L590.7,585.1L592.2,587.5L593.7,590.1L595.2,592.6L596.8,595.1L598.5,597.2L600.3,599.2M468.6,542.9L471.2,543.4L473.8,543.9L476.4,544.6L478.9,545.3L481.4,546.0L484.0,546.6L486.7,547.0L489.5,547.2L492.4,547.2L495.3,547.2L498.3,547.1L501.1,547.2L503.9,547.5L506.5,548.0L509.0,548.8L511.3,549.8L513.7,550.8L516.0,551.8L518.4,552.8L520.9,553.5L523.4,554.1L526.1,554.7L528.7,555.2L531.3,555.8L533.8,556.5L536.2,557.4L538.6,558.3L540.9,559.3L543.3,560.3L545.8,561.0L548.5,561.5L551.2,561.8L554.1,561.8L557.1,561.7L560.0,561.6L562.3,562.8L564.3,564.3L566.3,566.1L568.1,568.0L569.9,570.1L571.6,572.2L573.4,574.3L575.2,576.2L577.1,578.1L579.0,579.8L580.9,581.6L582.8,583.4L584.6,585.4L586.3,587.6L587.9,590.0L589.4,592.5L590.9,595.0L592.5,597.5L594.1,599.8L595.9,601.8L597.9,603.5M466.4,546.8L469.1,547.2L471.7,547.8L474.3,548.4L476.8,549.1L479.4,549.7L482.0,550.2L484.7,550.5L487.6,550.6L490.5,550.6L493.4,550.6L496.3,550.6L499.1,550.9L501.7,551.3L504.2,552.0L506.6,553.0L508.9,554.1L511.2,555.2L513.5,556.3L516.0,557.2L518.5,557.9L521.0,558.5L523.7,559.0L526.3,559.5L528.9,560.1L531.4,560.8L533.8,561.6L536.3,562.5L538.7,563.4L541.1,564.2L543.7,564.8L546.4,565.1L549.3,565.2L552.2,565.2L555.2,565.0L558.2,565.0L560.4,566.2L562.4,567.9L564.2,569.8L566.0,571.9L567.7,574.0L569.4,576.2L571.1,578.3L572.9,580.3L574.8,582.2L576.7,584.0L578.6,585.8L580.4,587.8L582.2,589.8L583.9,592.1L585.4,594.5L587.0,597.0L588.5,599.5L590.1,601.8L591.9,603.9L593.7,605.7L595.8,607.3M464.3,550.7L467.0,551.0L469.6,551.5L472.2,552.1L474.8,552.8L477.3,553.3L480.0,553.8L482.8,554.0L485.6,554.2L488.5,554.2L491.4,554.2L494.2,554.4L496.9,554.8L499.5,555.4L501.9,556.3L504.2,557.4L506.4,558.6L508.7,559.7L511.0,560.8L513.5,561.6L516.0,562.3L518.6,562.8L521.3,563.3L523.9,563.7L526.5,564.3L529.1,565.0L531.5,565.8L534.0,566.6L536.5,567.4L539.0,568.0L541.7,568.5L544.5,568.7L547.4,568.7L550.4,568.6L553.3,568.5L556.2,568.5L558.4,569.9L560.3,571.7L562.0,573.7L563.7,575.9L565.4,578.2L567.0,580.4L568.8,582.6L570.5,584.6L572.4,586.5L574.3,588.4L576.2,590.2L578.0,592.2L579.7,594.3L581.3,596.6L582.9,599.0L584.5,601.4L586.1,603.8L587.8,606.0L589.6,607.9L591.6,609.5L593.7,611.0M462.6,553.7L465.3,554.0L467.9,554.5L470.5,555.1L473.1,555.8L475.7,556.3L478.4,556.7L481.2,556.9L484.0,557.1L486.9,557.2L489.7,557.3L492.4,557.7L495.0,558.2L497.4,559.1L499.8,560.1L502.0,561.3L504.3,562.5L506.5,563.6L508.9,564.6L511.4,565.4L514.0,565.9L516.7,566.4L519.4,566.8L522.0,567.2L524.7,567.7L527.2,568.3L529.7,569.1L532.2,569.8L534.7,570.5L537.4,571.0L540.1,571.3L542.9,571.4L545.9,571.4L548.8,571.3L551.8,571.3L554.6,571.4L556.6,573.0L558.5,574.9L560.2,577.1L561.8,579.5L563.4,581.8L565.0,584.1L566.7,586.3L568.5,588.3L570.4,590.2L572.2,592.1L574.1,593.9L575.9,595.9L577.6,598.1L579.3,600.4L580.9,602.7L582.5,605.1L584.2,607.3L586.0,609.3L587.9,611.0L590.0,612.5L592.2,613.8M460.5,557.4L463.2,557.8L465.9,558.3L468.4,559.0L471.0,559.6L473.6,560.1L476.3,560.5L479.0,560.8L481.8,561.0L484.7,561.2L487.4,561.4L490.0,561.9L492.5,562.7L494.9,563.6L497.2,564.8L499.4,566.0L501.6,567.3L503.9,568.3L506.4,569.2L508.9,569.8L511.6,570.3L514.3,570.6L517.1,570.9L519.8,571.3L522.4,571.8L525.0,572.4L527.5,573.1L530.0,573.7L532.6,574.3L535.3,574.7L538.1,575.0L541.0,575.0L543.9,575.0L546.8,574.9L549.7,575.0L552.4,575.3L554.4,577.1L556.1,579.2L557.7,581.5L559.3,584.0L560.8,586.4L562.5,588.7L564.2,590.8L566.0,592.8L567.9,594.7L569.8,596.5L571.6,598.4L573.4,600.4L575.1,602.6L576.8,604.8L578.5,607.1L580.1,609.3L581.9,611.4L583.8,613.2L585.8,614.8L588.0,616.1L590.2,617.4M458.3,561.5L460.9,561.9L463.5,562.5L466.1,563.2L468.6,563.8L471.2,564.4L473.9,564.8L476.6,565.1L479.4,565.4L482.1,565.7L484.8,566.1L487.4,566.8L489.8,567.6L492.1,568.7L494.3,570.0L496.5,571.2L498.8,572.3L501.2,573.3L503.7,574.0L506.3,574.5L509.1,574.8L511.8,575.1L514.6,575.3L517.3,575.6L520.0,576.1L522.6,576.7L525.1,577.3L527.7,577.9L530.3,578.5L533.0,578.8L535.9,579.0L538.7,579.0L541.6,579.0L544.5,579.1L547.3,579.3L549.9,579.8L551.8,581.7L553.4,584.0L555.0,586.5L556.5,589.0L558.1,591.4L559.7,593.7L561.4,595.8L563.3,597.7L565.2,599.5L567.1,601.3L569.0,603.2L570.8,605.2L572.5,607.3L574.2,609.5L575.9,611.7L577.7,613.7L579.5,615.6L581.5,617.3L583.6,618.8L585.8,620.1L588.0,621.3" stroke="#000" stroke-width="0.75" fill="none"/></g>
<polygon points="530.0,438.3 628.0,498.4 628.0,516.5 617.0,518.0 617.0,543.0 530.0,495.0" fill="none" stroke="#000" stroke-width="2" stroke-linejoin="round" />
<polyline points="530.0,438.3 609.8,480.8" fill="none" stroke="#000" stroke-width="3" stroke-linejoin="round" stroke-linecap="round" />
<polyline points="530.0,438.3 530.0,495.0" fill="none" stroke="#000" stroke-width="2.2" stroke-linejoin="round" stroke-linecap="round" />
<clipPath id="c32"><polygon points="726.8,511.8 814.9,560.5 815.8,594.7 808.9,601.6 726.8,557.1"/></clipPath>
<polygon points="726.8,511.8 814.9,560.5 815.8,594.7 808.9,601.6 726.8,557.1" fill="#fff" stroke="none"/>
<g clip-path="url(#c32)"><path d="M724.50,509.8V603.6M728.50,509.8V603.6M732.50,509.8V603.6M736.50,509.8V603.6M740.50,509.8V603.6M744.50,509.8V603.6M748.50,509.8V603.6M752.50,509.8V603.6M756.50,509.8V603.6M760.50,509.8V603.6M764.50,509.8V603.6M768.50,509.8V603.6M772.50,509.8V603.6M776.50,509.8V603.6M780.50,509.8V603.6M784.50,509.8V603.6M788.50,509.8V603.6M792.50,509.8V603.6M796.50,509.8V603.6M800.50,509.8V603.6M804.50,509.8V603.6M808.50,509.8V603.6M812.50,509.8V603.6M816.50,509.8V603.6" stroke="#000" stroke-width="0.8" fill="none"/></g>
<polygon points="726.8,511.8 814.9,560.5 815.8,594.7 808.9,601.6 726.8,557.1" fill="none" stroke="#000" stroke-width="1.5" stroke-linejoin="round" />
<clipPath id="c33"><path d="M726.8,511.8 Q727,503 735,500 L756.8,488.7 Q763,486 770,489 L850,536 Q858.5,541 858.5,548.5 L814.9,560.5 Z"/></clipPath>
<path d="M726.8,511.8 Q727,503 735,500 L756.8,488.7 Q763,486 770,489 L850,536 Q858.5,541 858.5,548.5 L814.9,560.5 Z" fill="#fff" stroke="none"/>
<g clip-path="url(#c33)"><path d="M688.9,502.6L823.3,422.0M690.6,505.5L825.0,424.9M692.4,508.4L826.8,427.8M694.1,511.4L828.5,430.7M695.9,514.3L830.3,433.6M697.6,517.2L832.0,436.5M699.4,520.1L833.8,439.5M701.1,523.0L835.5,442.4M702.9,525.9L837.3,445.3M704.6,528.8L839.0,448.2M706.4,531.8L840.8,451.1M708.1,534.7L842.5,454.0M709.9,537.6L844.3,456.9M711.6,540.5L846.0,459.9M713.4,543.4L847.8,462.8M715.1,546.3L849.5,465.7M716.9,549.3L851.3,468.6M718.6,552.2L853.0,471.5M720.4,555.1L854.8,474.4M722.1,558.0L856.5,477.4M723.9,560.9L858.3,480.3M725.6,563.8L860.0,483.2M727.3,566.7L861.8,486.1M729.1,569.7L863.5,489.0M730.8,572.6L865.3,491.9M732.6,575.5L867.0,494.8M734.3,578.4L868.8,497.8M736.1,581.3L870.5,500.7M737.8,584.2L872.3,503.6M739.6,587.2L874.0,506.5M741.3,590.1L875.8,509.4M743.1,593.0L877.5,512.3M744.8,595.9L879.3,515.3M746.6,598.8L881.0,518.2M748.3,601.7L882.8,521.1M750.1,604.6L884.5,524.0M751.8,607.6L886.3,526.9M753.6,610.5L888.0,529.8M755.3,613.4L889.7,532.7M757.1,616.3L891.5,535.7M758.8,619.2L893.2,538.6M760.6,622.1L895.0,541.5" stroke="#000" stroke-width="0.65" fill="none"/></g>
<path d="M726.8,511.8 Q727,503 735,500 L756.8,488.7 Q763,486 770,489 L850,536 Q858.5,541 858.5,548.5 L814.9,560.5 Z" fill="none" stroke="#000" stroke-width="1.5" stroke-linejoin="round" />
<clipPath id="c34"><polygon points="814.9,560.5 858.5,548.5 856.8,575.9 815.8,594.7"/></clipPath>
<polygon points="814.9,560.5 858.5,548.5 856.8,575.9 815.8,594.7" fill="#fff" stroke="none"/>
<g clip-path="url(#c34)"><path d="M812.50,546.5V596.7M816.00,546.5V596.7M819.50,546.5V596.7M823.00,546.5V596.7M826.50,546.5V596.7M830.00,546.5V596.7M833.50,546.5V596.7M837.00,546.5V596.7M840.50,546.5V596.7M844.00,546.5V596.7M847.50,546.5V596.7M851.00,546.5V596.7M854.50,546.5V596.7M858.00,546.5V596.7" stroke="#000" stroke-width="0.55" fill="none"/></g>
<polygon points="814.9,560.5 858.5,548.5 856.8,575.9 815.8,594.7" fill="none" stroke="#000" stroke-width="1.5" stroke-linejoin="round" />
<path d="M817,561 Q825,550 840,545 Q853,541 857,549 L857,560 L818,576 Z" fill="#666" stroke="none" stroke-width="1" stroke-linejoin="round" />
<path d="M815.5,563 Q820,551 835,546 Q852,540 857.5,548" fill="none" stroke="#000" stroke-width="2.4" stroke-linejoin="round" />
<ellipse cx="822" cy="566.0" rx="2.2" ry="3" transform="rotate(0 822 566.0)" fill="#111" stroke="none" stroke-width="1"/>
<rect x="820.5" y="569.0" width="2" height="3" fill="#eee"/>
<ellipse cx="830" cy="562.8" rx="2.2" ry="3" transform="rotate(0 830 562.8)" fill="#111" stroke="none" stroke-width="1"/>
<rect x="828.5" y="565.8" width="2" height="3" fill="#eee"/>
<ellipse cx="838" cy="559.6" rx="2.2" ry="3" transform="rotate(0 838 559.6)" fill="#111" stroke="none" stroke-width="1"/>
<rect x="836.5" y="562.6" width="2" height="3" fill="#eee"/>
<ellipse cx="846" cy="556.4" rx="2.2" ry="3" transform="rotate(0 846 556.4)" fill="#111" stroke="none" stroke-width="1"/>
<rect x="844.5" y="559.4" width="2" height="3" fill="#eee"/>
<ellipse cx="854" cy="553.2" rx="2.2" ry="3" transform="rotate(0 854 553.2)" fill="#111" stroke="none" stroke-width="1"/>
<rect x="852.5" y="556.2" width="2" height="3" fill="#eee"/>
<polyline points="741.8,500.2 829.9,549.0" fill="none" stroke="#000" stroke-width="1.3" stroke-linejoin="round" stroke-linecap="round" />
<polygon points="735.1,512.4 758.9,525.6 769.7,517.2 745.9,504.1" fill="none" stroke="#000" stroke-width="1.1" stroke-linejoin="round" />
<polygon points="748.3,502.2 772.1,515.4 782.9,507.1 759.1,493.9" fill="none" stroke="#000" stroke-width="1.1" stroke-linejoin="round" />
<polygon points="762.4,527.5 786.2,540.7 797.0,532.3 773.2,519.2" fill="none" stroke="#000" stroke-width="1.1" stroke-linejoin="round" />
<polygon points="775.6,517.3 799.4,530.5 810.2,522.2 786.4,509.0" fill="none" stroke="#000" stroke-width="1.1" stroke-linejoin="round" />
<polygon points="789.7,542.6 813.5,555.8 824.3,547.4 800.5,534.3" fill="none" stroke="#000" stroke-width="1.1" stroke-linejoin="round" />
<polygon points="802.9,532.4 826.7,545.6 837.5,537.3 813.7,524.1" fill="none" stroke="#000" stroke-width="1.1" stroke-linejoin="round" />
<clipPath id="c35"><path d="M700,469 Q699,464 705,463.5 L790,509 Q797,512 797,518 L792,522 L700,474 Z"/></clipPath>
<path d="M700,469 Q699,464 705,463.5 L790,509 Q797,512 797,518 L792,522 L700,474 Z" fill="#fff" stroke="none"/>
<g clip-path="url(#c35)"><path d="M719.5,418.6L721.5,420.3L723.3,422.2L725.7,423.3L728.1,424.2L730.3,425.4L732.8,426.2L735.3,426.8L737.3,428.5L739.3,430.3L741.6,431.4L743.7,432.8L745.9,434.2L748.5,434.8L751.1,435.3L753.1,436.8L755.3,438.3L757.5,439.5L759.5,441.2L761.6,442.8L764.1,443.4L766.6,444.1L768.8,445.4L771.2,446.3L773.5,447.5L775.4,449.5L777.4,451.1L779.9,451.9L782.2,452.9L784.5,454.1L787.1,454.6L789.4,455.7L791.3,457.6L793.4,459.1L795.7,460.2L797.8,461.7L800.1,462.8L802.8,463.1L805.1,464.1L807.2,465.8L809.4,467.0L811.5,468.4L813.4,470.3L815.8,471.4L818.4,471.8L820.7,472.9L823.0,474.1L825.4,475.0M718.5,420.4L720.5,422.2L722.4,424.0L724.8,424.9L727.3,425.7L729.5,426.9L732.0,427.7L734.5,428.5L736.4,430.3L738.3,432.1L740.7,433.1L742.9,434.4L745.1,435.7L747.7,436.2L750.2,436.9L752.2,438.6L754.3,440.0L756.6,441.3L758.6,443.0L760.7,444.3L763.4,444.8L765.8,445.6L768.0,447.0L770.3,448.0L772.5,449.3L774.4,451.3L776.5,452.7L779.0,453.4L781.4,454.5L783.7,455.5L786.2,456.2L788.4,457.5L790.3,459.5L792.4,460.8L794.8,461.9L796.9,463.3L799.3,464.2L802.0,464.6L804.2,465.8L806.2,467.6L808.4,468.8L810.6,470.2L812.6,471.9L815.0,472.8L817.6,473.2L819.9,474.4L822.1,475.7L824.5,476.7M717.4,422.4L719.3,424.3L721.3,426.0L723.9,426.7L726.3,427.5L728.6,428.7L731.0,429.5L733.4,430.5L735.2,432.5L737.2,434.1L739.6,435.1L741.9,436.3L744.2,437.4L746.8,437.9L749.2,438.9L751.1,440.7L753.3,442.1L755.5,443.3L757.5,445.0L759.8,446.1L762.5,446.5L764.9,447.5L767.0,448.9L769.3,450.0L771.4,451.4L773.3,453.4L775.5,454.6L778.1,455.2L780.4,456.3L782.7,457.3L785.2,458.1L787.3,459.6L789.1,461.6L791.4,462.8L793.8,463.8L795.9,465.1L798.4,465.9L801.0,466.4L803.2,467.9L805.1,469.6L807.4,470.9L809.5,472.3L811.5,473.8L814.1,474.5L816.7,475.0L818.9,476.3L821.1,477.7L823.4,478.8M716.7,423.9L718.6,425.8L720.7,427.2L723.3,427.8L725.7,428.6L727.9,429.9L730.4,430.7L732.6,432.0L734.4,434.0L736.5,435.5L739.0,436.3L741.2,437.5L743.6,438.5L746.2,439.0L748.5,440.2L750.3,442.1L752.5,443.5L754.8,444.7L756.8,446.3L759.2,447.2L761.9,447.6L764.2,448.7L766.3,450.3L768.5,451.4L770.6,452.9L772.5,454.8L774.9,455.8L777.5,456.3L779.8,457.4L782.1,458.5L784.5,459.4L786.5,461.1L788.4,463.0L790.7,464.1L793.1,465.0L795.3,466.2L797.8,467.0L800.4,467.6L802.4,469.3L804.3,471.1L806.6,472.2L808.8,473.6L810.9,475.0L813.5,475.6L816.1,476.2L818.2,477.6L820.3,479.1L822.6,480.2M715.5,426.1L717.4,428.0L719.6,429.2L722.3,429.6L724.7,430.6L726.9,431.9L729.3,432.8L731.4,434.2L733.2,436.2L735.4,437.5L737.9,438.3L740.2,439.4L742.6,440.4L745.2,441.0L747.3,442.4L749.2,444.4L751.4,445.6L753.6,446.8L755.8,448.3L758.2,449.0L760.9,449.5L763.1,450.8L765.1,452.4L767.4,453.6L769.4,455.2L771.4,456.9L773.9,457.6L776.5,458.1L778.7,459.4L781.0,460.6L783.4,461.6L785.3,463.4L787.2,465.2L789.6,466.1L792.1,466.9L794.3,468.2L796.8,468.9L799.3,469.7L801.2,471.5L803.2,473.3L805.5,474.4L807.7,475.7L809.9,476.9L812.6,477.4L815.0,478.1L817.1,479.8L819.2,481.2L821.4,482.5M714.8,427.3L716.8,429.1L719.2,430.1L721.8,430.5L724.2,431.5L726.3,432.9L728.7,433.9L730.7,435.5L732.6,437.5L734.9,438.5L737.4,439.2L739.7,440.3L742.1,441.3L744.6,442.0L746.6,443.7L748.5,445.6L750.8,446.8L753.1,447.8L755.3,449.2L757.8,449.8L760.4,450.4L762.5,451.9L764.5,453.6L766.7,454.8L768.8,456.3L770.9,457.9L773.5,458.5L776.0,459.0L778.2,460.4L780.5,461.6L782.7,462.8L784.6,464.6L786.6,466.3L789.2,467.0L791.6,467.9L793.8,469.1L796.3,469.8L798.7,470.9L800.5,472.8L802.5,474.5L804.9,475.4L807.2,476.7L809.4,477.8L812.1,478.2L814.5,479.2L816.4,481.0L818.6,482.4L820.8,483.7M713.7,429.4L715.8,431.0L718.2,431.8L720.9,432.2L723.1,433.5L725.3,434.9L727.6,436.0L729.6,437.7L731.5,439.5L733.9,440.4L736.5,441.0L738.7,442.2L741.1,443.2L743.5,444.1L745.5,445.9L747.4,447.7L749.7,448.7L752.1,449.8L754.3,451.0L756.9,451.6L759.4,452.3L761.3,454.1L763.4,455.7L765.6,456.9L767.7,458.4L769.9,459.7L772.5,460.2L775.1,460.9L777.1,462.4L779.4,463.7L781.6,464.9L783.5,466.8L785.6,468.3L788.2,468.8L790.6,469.7L792.9,470.9L795.3,471.8L797.5,473.0L799.4,475.0L801.5,476.5L803.9,477.3L806.2,478.5L808.5,479.6L811.1,480.1L813.4,481.2L815.3,483.1L817.4,484.5L819.7,485.7M712.8,431.2L714.9,432.7L717.4,433.3L720.1,433.8L722.2,435.2L724.3,436.7L726.6,437.9L728.6,439.6L730.6,441.2L733.1,441.9L735.7,442.5L737.9,443.8L740.2,444.8L742.6,445.9L744.4,447.8L746.4,449.5L748.8,450.4L751.2,451.4L753.5,452.5L756.0,453.2L758.4,454.1L760.3,456.0L762.4,457.6L764.7,458.7L766.8,460.1L769.1,461.3L771.8,461.7L774.2,462.6L776.2,464.2L778.4,465.5L780.6,466.8L782.5,468.6L784.7,469.9L787.4,470.3L789.8,471.3L792.0,472.6L794.4,473.5L796.5,474.9L798.3,476.9L800.5,478.2L803.0,479.0L805.3,480.1L807.7,481.1L810.3,481.7L812.4,483.1L814.3,485.0L816.5,486.3L818.7,487.5M712.0,432.7L714.2,434.0L716.8,434.6L719.3,435.2L721.4,436.8L723.4,438.3L725.7,439.5L727.7,441.2L729.8,442.7L732.4,443.2L734.9,443.9L737.1,445.2L739.4,446.3L741.7,447.5L743.5,449.5L745.6,451.1L748.1,451.7L750.5,452.7L752.8,453.9L755.3,454.5L757.6,455.7L759.4,457.7L761.5,459.2L763.9,460.2L766.0,461.5L768.4,462.6L771.1,463.0L773.4,464.0L775.3,465.8L777.5,467.1L779.7,468.4L781.7,470.2L784.0,471.2L786.7,471.6L789.0,472.7L791.2,474.0L793.6,475.0L795.6,476.6L797.5,478.6L799.8,479.7L802.3,480.3L804.6,481.5L807.0,482.4L809.5,483.1L811.5,484.8L813.4,486.7L815.7,487.9L818.0,489.0M710.8,434.9L713.0,436.1L715.7,436.6L718.1,437.5L720.1,439.2L722.2,440.7L724.4,441.9L726.4,443.6L728.7,444.8L731.3,445.2L733.8,446.1L735.9,447.5L738.2,448.7L740.4,450.0L742.2,452.0L744.4,453.3L747.0,453.9L749.3,454.9L751.6,456.0L754.1,456.8L756.3,458.1L758.1,460.2L760.3,461.5L762.7,462.4L764.9,463.7L767.3,464.6L769.9,465.1L772.1,466.4L774.0,468.2L776.3,469.5L778.4,470.9L780.5,472.5L782.9,473.3L785.6,473.7L787.8,474.9L790.0,476.4L792.3,477.5L794.3,479.1L796.2,480.9L798.6,481.8L801.2,482.4L803.4,483.6L805.8,484.6L808.2,485.5L810.2,487.3L812.1,489.1L814.4,490.2L816.8,491.2M710.2,436.1L712.5,437.2L715.1,437.7L717.4,438.8L719.3,440.6L721.4,442.1L723.7,443.3L725.8,444.8L728.1,445.9L730.8,446.3L733.2,447.3L735.2,448.8L737.5,450.0L739.6,451.5L741.5,453.3L743.8,454.5L746.4,454.9L748.7,456.0L751.0,457.2L753.4,458.0L755.5,459.6L757.3,461.6L759.6,462.8L762.0,463.6L764.3,464.8L766.7,465.7L769.3,466.3L771.4,467.8L773.3,469.7L775.5,470.9L777.7,472.2L779.8,473.6L782.4,474.3L785.0,474.8L787.2,476.2L789.3,477.7L791.5,478.8L793.5,480.5L795.5,482.2L798.1,482.9L800.6,483.5L802.8,484.8L805.2,485.8L807.5,486.8L809.4,488.8L811.4,490.5L813.8,491.3L816.2,492.3M709.1,438.1L711.4,439.2L714.0,439.8L716.2,441.0L718.1,443.0L720.2,444.4L722.5,445.5L724.6,446.9L727.1,447.8L729.7,448.2L732.0,449.4L734.0,451.1L736.2,452.3L738.4,453.8L740.3,455.6L742.7,456.4L745.4,456.9L747.6,458.1L749.9,459.3L752.3,460.3L754.2,462.0L756.1,463.9L758.5,464.9L761.0,465.7L763.2,466.9L765.7,467.7L768.2,468.4L770.1,470.1L772.1,472.0L774.4,473.1L776.6,474.3L778.8,475.7L781.4,476.2L783.9,476.8L786.0,478.4L788.1,480.0L790.3,481.2L792.3,482.8L794.4,484.3L797.0,484.8L799.5,485.5L801.7,486.9L804.0,488.0L806.3,489.2L808.1,491.1L810.2,492.7L812.7,493.4L815.1,494.4M708.2,439.8L710.5,440.9L713.0,441.6L715.1,443.1L717.0,445.1L719.2,446.3L721.5,447.3L723.7,448.7L726.2,449.5L728.8,449.9L731.0,451.4L732.9,453.1L735.2,454.3L737.3,455.8L739.3,457.4L741.9,458.1L744.5,458.6L746.7,459.9L748.9,461.2L751.2,462.3L753.1,464.0L755.1,465.8L757.6,466.6L760.1,467.4L762.3,468.6L764.7,469.4L767.1,470.3L769.0,472.2L771.0,474.0L773.4,475.0L775.6,476.1L777.9,477.4L780.5,477.9L783.0,478.7L784.9,480.4L787.0,481.9L789.3,483.1L791.3,484.8L793.5,486.0L796.2,486.4L798.6,487.3L800.7,488.7L803.0,489.9L805.2,491.2L807.1,493.2L809.2,494.5L811.8,495.1L814.2,496.1M707.7,440.7L710.1,441.7L712.5,442.6L714.5,444.2L716.4,446.2L718.7,447.3L721.1,448.2L723.3,449.5L725.8,450.2L728.4,450.8L730.4,452.5L732.3,454.2L734.6,455.4L736.7,456.8L738.9,458.3L741.5,458.8L744.0,459.4L746.2,460.9L748.3,462.2L750.6,463.4L752.5,465.2L754.6,466.8L757.1,467.4L759.6,468.2L761.8,469.4L764.3,470.3L766.6,471.4L768.4,473.4L770.4,475.0L772.9,475.9L775.2,477.0L777.5,478.1L780.1,478.7L782.4,479.7L784.3,481.6L786.4,483.0L788.7,484.2L790.7,485.8L793.1,486.8L795.8,487.2L798.1,488.2L800.2,489.8L802.4,491.0L804.6,492.4L806.5,494.3L808.8,495.4L811.4,495.9L813.7,496.9M706.6,442.9L708.9,444.0L711.2,445.0L713.2,446.8L715.1,448.7L717.5,449.6L719.9,450.5L722.1,451.7L724.7,452.4L727.1,453.2L729.0,455.0L731.0,456.7L733.3,457.8L735.5,459.2L737.7,460.5L740.4,460.9L742.9,461.6L744.9,463.3L747.0,464.6L749.3,465.9L751.2,467.7L753.4,469.1L756.0,469.5L758.5,470.4L760.6,471.7L763.0,472.6L765.2,473.9L767.0,476.0L769.2,477.4L771.7,478.1L774.0,479.2L776.3,480.3L778.9,480.9L781.1,482.1L783.0,484.1L785.1,485.5L787.4,486.6L789.5,488.0L791.9,488.9L794.6,489.3L796.9,490.5L798.9,492.2L801.1,493.4L803.3,494.9L805.2,496.7L807.6,497.5L810.3,498.0L812.5,499.2M705.7,444.4L708.0,445.6L710.3,446.7L712.2,448.6L714.2,450.3L716.7,451.1L719.1,451.9L721.4,453.1L723.9,453.8L726.2,454.9L728.1,456.8L730.1,458.4L732.5,459.4L734.7,460.7L737.0,461.9L739.6,462.3L742.0,463.2L744.0,465.0L746.1,466.4L748.3,467.6L750.3,469.4L752.6,470.5L755.3,470.9L757.7,471.9L759.8,473.3L762.1,474.3L764.3,475.7L766.1,477.7L768.3,479.0L770.9,479.6L773.2,480.7L775.5,481.7L778.1,482.4L780.2,483.9L782.0,485.9L784.2,487.1L786.6,488.2L788.7,489.5L791.2,490.3L793.9,490.8L796.0,492.2L798.0,493.9L800.2,495.1L802.3,496.6L804.4,498.2L806.9,498.9L809.5,499.4L811.7,500.7M704.9,446.0L707.2,447.2L709.4,448.4L711.3,450.4L713.4,451.8L715.9,452.4L718.4,453.3L720.6,454.5L723.1,455.3L725.3,456.5L727.1,458.6L729.2,460.0L731.7,460.9L733.9,462.2L736.2,463.2L738.9,463.7L741.2,464.8L743.1,466.7L745.2,468.0L747.5,469.3L749.5,470.9L751.9,471.9L754.6,472.2L756.9,473.3L759.0,474.8L761.3,475.9L763.3,477.5L765.2,479.4L767.6,480.4L770.2,481.0L772.5,482.1L774.8,483.2L777.2,484.0L779.2,485.6L781.1,487.6L783.4,488.7L785.8,489.7L788.0,490.9L790.5,491.6L793.1,492.3L795.1,493.9L797.1,495.6L799.3,496.8L801.5,498.2L803.6,499.7L806.2,500.2L808.8,500.8L810.9,502.3M704.3,447.1L706.6,448.3L708.7,449.7L710.6,451.5L712.9,452.8L715.5,453.3L717.9,454.2L720.1,455.5L722.5,456.4L724.7,457.8L726.5,459.8L728.7,461.1L731.1,461.9L733.4,463.1L735.8,464.0L738.4,464.6L740.6,466.0L742.4,467.9L744.6,469.2L746.9,470.4L749.0,471.9L751.4,472.7L754.1,473.1L756.3,474.4L758.4,476.0L760.6,477.1L762.7,478.7L764.6,480.5L767.1,481.3L769.7,481.8L772.0,483.0L774.3,484.1L776.6,485.1L778.6,486.9L780.5,488.8L782.9,489.7L785.3,490.6L787.5,491.8L790.1,492.5L792.5,493.3L794.5,495.1L796.4,496.8L798.7,497.9L800.9,499.3L803.1,500.6L805.8,501.0L808.3,501.8L810.3,503.4M703.2,449.3L705.4,450.6L707.5,451.9L709.5,453.7L711.8,454.8L714.5,455.2L716.8,456.3L719.0,457.6L721.4,458.5L723.4,460.1L725.3,462.1L727.6,463.2L730.1,463.9L732.4,465.1L734.8,466.0L737.3,466.7L739.3,468.3L741.2,470.2L743.5,471.4L745.7,472.5L747.9,473.9L750.4,474.6L753.1,475.1L755.2,476.6L757.2,478.2L759.5,479.4L761.5,481.0L763.5,482.6L766.1,483.2L768.7,483.8L770.9,485.1L773.1,486.2L775.4,487.4L777.3,489.3L779.3,490.9L781.8,491.7L784.2,492.6L786.5,493.8L789.0,494.5L791.4,495.5L793.2,497.4L795.3,499.0L797.6,500.1L799.8,501.4L802.1,502.5L804.8,502.9L807.2,503.9L809.1,505.6M702.1,451.3L704.3,452.6L706.5,453.9L708.5,455.6L710.9,456.4L713.6,456.8L715.8,458.1L718.0,459.4L720.3,460.5L722.3,462.2L724.2,464.0L726.6,464.9L729.2,465.6L731.4,466.8L733.8,467.7L736.3,468.6L738.2,470.3L740.1,472.2L742.5,473.2L744.8,474.3L747.0,475.6L749.6,476.2L752.1,476.9L754.1,478.6L756.1,480.2L758.4,481.4L760.5,482.9L762.6,484.3L765.2,484.8L767.8,485.5L769.9,486.9L772.1,488.1L774.4,489.4L776.2,491.3L778.3,492.8L780.9,493.4L783.3,494.3L785.6,495.5L788.1,496.3L790.3,497.5L792.1,499.5L794.2,501.0L796.6,501.9L798.9,503.2L801.2,504.2L803.9,504.6L806.1,505.8L808.0,507.6M701.3,452.8L703.5,454.0L705.7,455.4L707.8,456.9L710.3,457.5L713.0,458.0L715.1,459.4L717.3,460.8L719.5,462.0L721.5,463.7L723.5,465.4L726.0,466.1L728.6,466.8L730.8,468.0L733.2,469.0L735.5,470.0L737.4,471.9L739.4,473.7L741.8,474.5L744.1,475.6L746.4,476.8L749.0,477.3L751.4,478.2L753.3,480.1L755.3,481.7L757.6,482.8L759.7,484.3L762.0,485.5L764.7,485.9L767.1,486.8L769.1,488.3L771.4,489.6L773.6,490.9L775.4,492.8L777.7,494.1L780.3,494.5L782.7,495.5L784.9,496.7L787.3,497.6L789.5,499.0L791.3,501.0L793.5,502.4L796.0,503.2L798.2,504.4L800.6,505.3L803.2,505.8L805.4,507.2L807.2,509.1M700.3,454.6L702.6,455.7L704.8,457.0L707.0,458.4L709.6,458.9L712.2,459.5L714.2,461.1L716.4,462.5L718.6,463.7L720.6,465.5L722.7,467.0L725.3,467.5L727.8,468.2L730.0,469.6L732.3,470.6L734.6,471.8L736.4,473.7L738.5,475.3L741.0,476.1L743.3,477.1L745.6,478.2L748.2,478.8L750.5,479.9L752.3,481.9L754.4,483.4L756.7,484.5L758.9,485.9L761.2,486.9L763.9,487.3L766.2,488.3L768.2,490.0L770.4,491.3L772.6,492.7L774.5,494.5L776.9,495.5L779.5,496.0L781.9,497.0L784.1,498.3L786.5,499.3L788.5,500.8L790.4,502.8L792.7,503.9L795.2,504.7L797.4,505.8L799.8,506.7L802.4,507.4L804.4,509.0L806.3,510.9M699.3,456.5L701.7,457.5L703.9,458.8L706.2,460.0L708.8,460.5L711.3,461.2L713.2,463.0L715.3,464.4L717.6,465.7L719.6,467.3L721.8,468.6L724.5,469.1L726.9,469.9L729.0,471.3L731.4,472.4L733.5,473.7L735.4,475.7L737.5,477.1L740.1,477.7L742.4,478.7L744.7,479.8L747.3,480.5L749.5,481.9L751.3,483.9L753.4,485.2L755.8,486.2L758.0,487.6L760.4,488.5L763.1,488.9L765.3,490.2L767.2,491.9L769.4,493.2L771.6,494.6L773.6,496.3L776.0,497.1L778.7,497.5L781.0,498.7L783.1,500.1L785.5,501.1L787.5,502.8L789.4,504.7L791.8,505.6L794.3,506.3L796.6,507.5L799.0,508.4L801.4,509.2L803.4,511.0L805.3,512.9M698.4,458.2L700.8,459.1L703.1,460.3L705.4,461.4L708.0,461.9L710.4,462.9L712.3,464.7L714.4,466.2L716.7,467.4L718.7,469.0L721.0,470.1L723.7,470.5L726.1,471.4L728.2,473.0L730.4,474.1L732.6,475.6L734.4,477.5L736.7,478.6L739.3,479.1L741.6,480.2L743.9,481.4L746.4,482.1L748.5,483.7L750.3,485.7L752.6,486.9L755.0,487.8L757.2,489.1L759.6,489.9L762.2,490.4L764.3,491.9L766.3,493.7L768.5,495.0L770.7,496.3L772.8,497.8L775.3,498.5L777.9,499.0L780.1,500.4L782.2,501.8L784.5,502.9L786.5,504.7L788.5,506.4L791.0,507.1L793.5,507.8L795.7,509.0L798.1,509.9L800.5,510.9L802.4,512.9L804.3,514.6M697.2,460.5L699.7,461.3L702.0,462.4L704.3,463.4L706.9,464.0L709.2,465.2L711.0,467.1L713.2,468.5L715.4,469.7L717.5,471.2L719.9,472.1L722.6,472.5L724.9,473.7L726.9,475.3L729.2,476.5L731.3,478.0L733.2,479.8L735.6,480.7L738.3,481.2L740.5,482.3L742.8,483.5L745.2,484.4L747.2,486.1L749.0,488.1L751.4,489.1L753.8,489.9L756.1,491.1L758.6,491.9L761.1,492.6L763.1,494.3L765.0,496.1L767.3,497.3L769.5,498.6L771.6,499.9L774.3,500.5L776.8,501.1L778.9,502.6L781.0,504.1L783.3,505.3L785.2,507.0L787.3,508.5L789.9,509.1L792.4,509.8L794.6,511.1L797.0,512.1L799.2,513.3L801.1,515.3L803.1,516.9M696.6,461.7L699.1,462.4L701.4,463.5L703.7,464.5L706.3,465.2L708.4,466.6L710.3,468.6L712.5,469.9L714.8,470.9L716.9,472.3L719.4,473.1L722.1,473.6L724.2,474.9L726.2,476.6L728.5,477.8L730.5,479.3L732.6,481.0L735.1,481.7L737.7,482.2L739.9,483.5L742.1,484.7L744.5,485.8L746.4,487.6L748.3,489.4L750.8,490.2L753.3,491.0L755.5,492.2L758.0,493.0L760.4,493.9L762.3,495.8L764.3,497.5L766.6,498.5L768.8,499.8L771.1,501.0L773.7,501.5L776.2,502.3L778.2,504.0L780.3,505.5L782.5,506.7L784.5,508.4L786.7,509.7L789.4,510.1L791.8,510.9L794.0,512.3L796.3,513.4L798.5,514.7L800.3,516.7L802.5,518.1M695.7,463.4L698.2,464.0L700.5,465.1L702.9,466.1L705.4,466.9L707.4,468.6L709.2,470.5L711.5,471.6L713.9,472.7L716.1,474.0L718.6,474.6L721.2,475.2L723.2,476.8L725.2,478.5L727.5,479.7L729.6,481.2L731.7,482.7L734.3,483.3L736.8,483.8L739.0,485.2L741.2,486.5L743.5,487.7L745.4,489.6L747.4,491.2L749.9,491.8L752.4,492.6L754.6,493.9L757.1,494.7L759.4,495.8L761.2,497.7L763.3,499.4L765.7,500.3L767.9,501.5L770.2,502.6L772.9,503.1L775.2,504.1L777.2,505.9L779.3,507.3L781.5,508.6L783.6,510.2L785.9,511.3L788.6,511.6L790.9,512.6L793.0,514.1L795.3,515.3L797.4,516.7L799.3,518.6L801.6,519.8M694.7,465.1L697.3,465.7L699.6,466.9L701.9,468.0L704.3,468.9L706.2,470.7L708.1,472.6L710.5,473.5L712.9,474.5L715.1,475.7L717.7,476.4L720.2,477.1L722.1,478.9L724.1,480.6L726.4,481.7L728.5,483.2L730.7,484.5L733.4,484.9L735.9,485.6L737.9,487.2L740.1,488.5L742.4,489.8L744.3,491.6L746.4,493.0L749.0,493.5L751.5,494.4L753.7,495.7L756.1,496.6L758.3,497.8L760.1,499.9L762.2,501.3L764.7,502.1L767.0,503.3L769.3,504.3L771.9,504.8L774.2,506.0L776.0,508.0L778.2,509.4L780.5,510.5L782.6,512.0L785.0,513.0L787.7,513.3L789.9,514.5L792.0,516.1L794.2,517.3L796.3,518.8L798.2,520.6L800.6,521.5M693.8,466.9L696.3,467.5L698.5,468.8L700.9,469.9L703.2,471.0L705.1,472.9L707.0,474.6L709.5,475.4L711.9,476.4L714.2,477.5L716.7,478.2L719.1,479.2L721.0,481.1L723.0,482.7L725.3,483.8L727.5,485.1L729.8,486.3L732.4,486.7L734.8,487.6L736.8,489.3L739.0,490.6L741.2,491.9L743.2,493.7L745.4,494.9L748.1,495.3L750.5,496.3L752.6,497.6L755.0,498.6L757.1,500.0L759.0,502.0L761.2,503.3L763.7,504.0L766.0,505.1L768.4,506.1L770.9,506.7L773.0,508.2L774.9,510.2L777.1,511.4L779.4,512.5L781.5,514.0L784.0,514.7L786.7,515.2L788.8,516.5L790.8,518.2L793.1,519.4L795.2,520.9L797.2,522.6L799.7,523.3M693.4,467.7L695.9,468.4L698.0,469.8L700.3,471.0L702.5,472.2L704.4,474.1L706.5,475.7L709.0,476.3L711.4,477.2L713.7,478.4L716.2,479.1L718.5,480.3L720.3,482.3L722.4,483.8L724.8,484.8L727.0,486.1L729.3,487.1L732.0,487.5L734.3,488.6L736.2,490.4L738.4,491.8L740.6,493.1L742.6,494.8L745.0,495.7L747.6,496.1L750.0,497.2L752.1,498.6L754.4,499.7L756.5,501.3L758.3,503.2L760.7,504.2L763.3,504.8L765.5,506.0L767.9,507.0L770.4,507.8L772.4,509.4L774.2,511.4L776.5,512.5L778.9,513.5L781.1,514.8L783.6,515.5L786.2,516.1L788.2,517.7L790.2,519.4L792.5,520.6L794.6,522.1L796.7,523.6L799.3,524.1M692.7,468.9L695.2,469.8L697.2,471.3L699.5,472.5L701.7,473.8L703.6,475.7L705.8,477.0L708.4,477.6L710.7,478.5L713.0,479.7L715.5,480.5L717.6,481.9L719.4,484.0L721.6,485.3L724.0,486.2L726.3,487.4L728.7,488.3L731.3,488.8L733.5,490.2L735.4,492.0L737.6,493.3L739.8,494.6L741.8,496.2L744.3,497.0L747.0,497.4L749.2,498.6L751.3,500.1L753.6,501.3L755.6,502.9L757.6,504.7L760.0,505.5L762.6,506.1L764.8,507.3L767.2,508.3L769.6,509.3L771.5,511.1L773.4,512.9L775.8,513.9L778.2,514.9L780.4,516.1L783.0,516.7L785.4,517.5L787.4,519.3L789.4,521.0L791.7,522.1L793.8,523.5L796.0,524.9L798.6,525.3M691.5,471.3L693.8,472.3L695.8,474.0L698.0,475.2L700.2,476.6L702.1,478.5L704.4,479.5L707.1,480.0L709.4,481.0L711.6,482.3L714.0,483.2L716.1,484.8L717.9,486.8L720.2,487.9L722.7,488.7L724.9,489.9L727.4,490.7L729.9,491.4L732.0,492.9L733.9,494.8L736.1,496.0L738.4,497.3L740.5,498.7L743.1,499.3L745.7,499.8L747.8,501.3L749.9,502.8L752.1,504.0L754.1,505.7L756.2,507.3L758.7,507.9L761.3,508.6L763.5,509.9L765.8,510.9L768.1,512.0L770.0,513.9L772.0,515.6L774.4,516.4L776.8,517.4L779.1,518.6L781.6,519.2L784.0,520.2L785.9,522.1L787.9,523.7L790.3,524.8L792.4,526.2L794.7,527.3L797.4,527.7M690.7,472.7L693.0,473.9L694.9,475.6L697.2,476.9L699.3,478.3L701.3,480.0L703.7,480.9L706.4,481.3L708.6,482.5L710.8,483.8L713.2,484.8L715.2,486.5L717.1,488.4L719.4,489.4L722.0,490.1L724.2,491.3L726.6,492.1L729.1,492.9L731.1,494.7L733.0,496.5L735.3,497.6L737.6,498.8L739.8,500.1L742.4,500.6L744.9,501.3L746.9,502.9L749.0,504.5L751.2,505.7L753.3,507.3L755.4,508.8L758.0,509.3L760.5,510.0L762.7,511.4L765.0,512.5L767.2,513.7L769.1,515.7L771.1,517.2L773.7,517.8L776.1,518.8L778.4,520.0L780.9,520.7L783.1,521.8L785.0,523.8L787.1,525.3L789.4,526.3L791.6,527.6L794.0,528.6L796.6,529.1M689.9,474.2L692.0,475.7L694.0,477.4L696.2,478.7L698.4,480.1L700.4,481.6L703.0,482.3L705.6,482.8L707.8,484.1L709.9,485.5L712.2,486.6L714.2,488.4L716.1,490.1L718.6,490.9L721.2,491.6L723.4,492.8L725.8,493.7L728.2,494.7L730.1,496.6L732.0,498.3L734.4,499.2L736.7,500.4L739.0,501.6L741.6,502.1L744.0,502.9L746.0,504.7L748.0,506.3L750.3,507.5L752.4,509.0L754.6,510.3L757.3,510.7L759.7,511.5L761.8,513.0L764.1,514.2L766.2,515.6L768.1,517.5L770.3,518.8L772.9,519.3L775.3,520.3L777.5,521.5L780.0,522.3L782.2,523.7L784.0,525.7L786.2,527.0L788.6,527.9L790.8,529.2L793.2,530.1L795.8,530.6M689.2,475.6L691.2,477.2L693.1,479.0L695.4,480.2L697.6,481.5L699.7,482.9L702.3,483.5L704.9,484.1L707.0,485.6L709.1,487.0L711.4,488.2L713.3,490.0L715.4,491.5L718.0,492.1L720.5,492.8L722.7,494.1L725.1,495.1L727.4,496.2L729.2,498.2L731.2,499.8L733.7,500.6L736.0,501.7L738.3,502.8L740.9,503.3L743.2,504.4L745.1,506.3L747.2,507.8L749.5,508.9L751.6,510.4L753.9,511.5L756.6,511.9L759.0,512.9L761.0,514.5L763.2,515.7L765.4,517.2L767.3,519.0L769.6,520.1L772.3,520.5L774.6,521.6L776.8,522.8L779.2,523.7L781.3,525.3L783.1,527.3L785.4,528.4L787.9,529.2L790.1,530.4L792.6,531.3L795.1,531.9M688.4,477.0L690.4,478.8L692.3,480.5L694.6,481.6L696.8,482.9L699.1,484.2L701.7,484.6L704.2,485.4L706.2,487.1L708.3,488.5L710.6,489.7L712.5,491.5L714.7,492.8L717.4,493.3L719.8,494.1L722.0,495.5L724.3,496.5L726.5,497.8L728.4,499.8L730.5,501.2L733.0,501.9L735.4,502.9L737.7,504.0L740.2,504.6L742.4,505.9L744.3,507.9L746.4,509.3L748.8,510.4L750.9,511.8L753.3,512.7L756.0,513.1L758.2,514.3L760.2,516.0L762.4,517.3L764.6,518.7L766.5,520.4L769.0,521.3L771.6,521.7L773.9,522.9L776.1,524.2L778.5,525.2L780.4,526.9L782.3,528.8L784.7,529.7L787.2,530.5L789.5,531.7L791.9,532.5L794.4,533.3M687.5,478.7L689.4,480.6L691.4,482.3L693.8,483.2L696.0,484.5L698.3,485.6L701.0,486.0L703.3,487.0L705.3,488.8L707.4,490.2L709.6,491.5L711.7,493.1L713.9,494.3L716.6,494.6L719.0,495.6L721.1,497.1L723.4,498.1L725.6,499.6L727.4,501.6L729.7,502.7L732.3,503.3L734.6,504.4L736.9,505.5L739.4,506.2L741.5,507.7L743.3,509.7L745.5,511.0L747.9,511.9L750.1,513.3L752.6,514.0L755.2,514.5L757.3,516.0L759.3,517.8L761.5,519.0L763.7,520.4L765.7,522.0L768.2,522.7L770.9,523.1L773.1,524.5L775.2,525.8L777.5,526.9L779.5,528.7L781.4,530.5L783.9,531.2L786.4,531.9L788.7,533.2L791.1,534.0L793.5,535.0M686.5,480.7L688.3,482.7L690.4,484.2L692.8,485.0L695.1,486.2L697.4,487.2L700.1,487.7L702.3,488.9L704.2,490.8L706.4,492.2L708.6,493.4L710.7,495.0L713.1,495.9L715.8,496.3L718.1,497.4L720.1,498.9L722.4,500.1L724.5,501.6L726.4,503.5L728.8,504.4L731.4,505.0L733.7,506.1L736.0,507.2L738.4,508.1L740.4,509.8L742.2,511.7L744.6,512.8L747.0,513.7L749.2,514.9L751.7,515.7L754.3,516.3L756.3,518.0L758.2,519.8L760.5,520.9L762.6,522.3L764.8,523.7L767.4,524.2L770.0,524.8L772.1,526.3L774.2,527.7L776.5,528.9L778.4,530.7L780.5,532.3L783.1,532.9L785.6,533.6L787.8,534.9L790.2,535.8L792.4,537.0M685.4,482.7L687.2,484.7L689.4,486.0L691.9,486.7L694.2,487.9L696.6,488.9L699.1,489.5L701.3,490.9L703.1,492.8L705.3,494.1L707.6,495.3L709.7,496.7L712.2,497.5L714.9,497.9L717.1,499.3L719.1,500.9L721.4,502.1L723.4,503.6L725.4,505.3L727.9,506.1L730.5,506.6L732.7,507.9L735.0,509.0L737.4,510.0L739.3,511.9L741.2,513.7L743.6,514.6L746.1,515.4L748.3,516.6L750.8,517.3L753.3,518.2L755.2,520.0L757.2,521.8L759.5,522.8L761.7,524.2L763.9,525.4L766.5,525.9L769.0,526.6L771.0,528.3L773.2,529.7L775.4,530.9L777.4,532.7L779.5,534.0L782.2,534.5L784.6,535.3L786.8,536.7L789.2,537.7L791.4,539.0M684.6,484.2L686.4,486.2L688.8,487.2L691.3,487.9L693.6,489.1L696.0,490.0L698.5,490.7L700.5,492.4L702.4,494.3L704.6,495.4L706.9,496.6L709.1,497.9L711.7,498.5L714.3,499.1L716.3,500.6L718.3,502.3L720.6,503.5L722.7,505.0L724.7,506.6L727.3,507.2L729.9,507.7L732.1,509.1L734.3,510.3L736.6,511.5L738.5,513.4L740.5,515.0L743.0,515.7L745.5,516.6L747.7,517.8L750.2,518.5L752.5,519.6L754.4,521.5L756.4,523.2L758.8,524.1L761.0,525.4L763.3,526.5L766.0,526.9L768.3,527.9L770.3,529.7L772.4,531.1L774.7,532.4L776.6,534.0L778.9,535.2L781.6,535.5L784.0,536.5L786.1,538.0L788.4,539.0L790.6,540.5M683.2,486.7L685.2,488.6L687.6,489.4L690.2,490.0L692.4,491.2L694.8,492.2L697.2,493.1L699.1,494.9L701.0,496.8L703.4,497.8L705.7,498.8L708.0,500.1L710.5,500.7L713.0,501.4L715.0,503.1L717.0,504.8L719.3,505.9L721.4,507.4L723.6,508.8L726.2,509.2L728.7,509.9L730.8,511.5L733.0,512.7L735.3,514.0L737.2,515.9L739.3,517.3L741.9,517.9L744.3,518.7L746.5,520.0L749.0,520.8L751.2,522.0L753.0,524.1L755.1,525.5L757.6,526.4L759.8,527.6L762.2,528.6L764.8,529.1L767.1,530.3L769.0,532.2L771.1,533.6L773.4,534.8L775.4,536.4L777.8,537.3L780.5,537.7L782.8,538.8L784.9,540.3L787.2,541.5L789.2,543.0M682.2,488.6L684.3,490.3L686.8,490.9L689.3,491.6L691.6,492.9L693.9,493.9L696.2,494.9L698.1,496.9L700.1,498.6L702.5,499.4L704.9,500.4L707.2,501.6L709.7,502.2L712.1,503.1L714.0,505.0L716.1,506.6L718.4,507.7L720.5,509.2L722.8,510.3L725.4,510.7L727.9,511.6L729.9,513.2L732.1,514.5L734.3,515.9L736.2,517.7L738.4,518.9L741.1,519.4L743.5,520.3L745.7,521.6L748.1,522.5L750.2,524.0L752.0,526.0L754.2,527.3L756.7,528.0L759.0,529.2L761.4,530.1L764.0,530.7L766.1,532.1L768.0,534.1L770.2,535.4L772.4,536.5L774.5,538.0L777.0,538.8L779.7,539.2L781.9,540.5L783.9,542.1L786.2,543.3L788.2,544.9M681.7,489.7L683.8,491.2L686.4,491.7L688.9,492.4L691.1,493.8L693.4,494.9L695.6,496.1L697.5,498.0L699.6,499.6L702.1,500.3L704.4,501.2L706.7,502.4L709.3,503.0L711.6,504.2L713.4,506.2L715.5,507.7L717.8,508.7L720.0,510.1L722.3,511.1L725.0,511.5L727.3,512.6L729.3,514.3L731.5,515.6L733.7,517.0L735.6,518.7L738.0,519.7L740.7,520.1L743.0,521.2L745.2,522.5L747.5,523.6L749.6,525.1L751.4,527.1L753.7,528.2L756.3,528.8L758.6,530.0L760.9,530.9L763.5,531.7L765.5,533.3L767.3,535.2L769.6,536.4L771.9,537.5L774.1,538.8L776.6,539.5L779.2,540.0L781.3,541.6L783.3,543.2L785.6,544.4L787.6,546.0M680.3,492.3L682.5,493.6L685.2,494.0L687.6,494.8L689.7,496.3L692.0,497.4L694.2,498.8L696.1,500.7L698.2,502.1L700.8,502.6L703.2,503.6L705.5,504.8L708.0,505.5L710.1,506.9L711.9,508.9L714.1,510.3L716.5,511.2L718.7,512.5L721.1,513.4L723.8,513.8L726.0,515.2L727.9,517.0L730.1,518.3L732.3,519.6L734.3,521.2L736.8,522.0L739.4,522.4L741.7,523.7L743.8,525.1L746.1,526.2L748.1,527.9L750.0,529.7L752.5,530.6L755.0,531.2L757.3,532.4L759.7,533.4L762.1,534.2L764.0,536.0L765.9,537.9L768.3,538.9L770.6,540.0L772.8,541.2L775.4,541.8L777.9,542.5L779.9,544.2L781.9,545.9L784.2,547.0L786.3,548.6M679.6,493.7L681.9,494.7L684.6,495.1L686.9,496.1L689.0,497.7L691.3,498.9L693.4,500.3L695.3,502.2L697.6,503.3L700.2,503.8L702.5,504.8L704.8,506.0L707.2,506.9L709.3,508.4L711.1,510.4L713.4,511.6L715.8,512.4L718.1,513.7L720.5,514.5L723.1,515.1L725.2,516.6L727.1,518.5L729.3,519.7L731.5,521.0L733.6,522.5L736.2,523.1L738.8,523.6L741.0,525.0L743.1,526.5L745.3,527.7L747.3,529.4L749.3,531.0L751.9,531.7L754.4,532.4L756.6,533.6L759.0,534.6L761.3,535.7L763.2,537.6L765.2,539.3L767.6,540.2L770.0,541.2L772.2,542.4L774.8,542.9L777.2,543.9L779.1,545.8L781.1,547.4L783.4,548.5L785.6,549.9M678.5,495.7L680.9,496.6L683.6,497.0L685.8,498.2L687.8,499.9L690.1,501.1L692.2,502.6L694.1,504.3L696.6,505.2L699.2,505.7L701.5,506.9L703.7,508.1L706.1,509.1L708.1,510.8L709.9,512.7L712.3,513.7L714.8,514.4L717.0,515.6L719.5,516.5L722.0,517.2L724.0,518.9L725.9,520.8L728.2,521.9L730.4,523.1L732.6,524.5L735.2,525.0L737.7,525.6L739.8,527.2L741.9,528.7L744.1,529.9L746.1,531.6L748.2,533.1L750.9,533.6L753.4,534.3L755.5,535.7L757.9,536.7L760.1,538.0L762.0,539.9L764.0,541.5L766.5,542.2L768.9,543.2L771.2,544.3L773.7,544.9L776.0,546.1L777.9,548.1L780.0,549.6L782.3,550.6L784.5,552.0M677.9,496.9L680.4,497.6L683.0,498.1L685.1,499.5L687.1,501.3L689.3,502.5L691.4,503.9L693.5,505.6L696.0,506.2L698.6,506.7L700.8,508.0L703.0,509.3L705.4,510.4L707.3,512.2L709.2,514.0L711.7,514.8L714.2,515.5L716.4,516.7L718.9,517.6L721.3,518.5L723.2,520.4L725.1,522.1L727.5,523.1L729.8,524.3L732.0,525.5L734.7,526.0L737.1,526.8L739.1,528.6L741.2,530.1L743.4,531.3L745.4,532.9L747.6,534.2L750.3,534.6L752.8,535.4L754.9,536.9L757.2,538.0L759.4,539.4L761.2,541.3L763.4,542.7L766.0,543.2L768.3,544.3L770.6,545.4L773.1,546.1L775.3,547.5L777.1,549.5L779.3,550.9L781.7,551.8L783.8,553.1M676.9,498.7L679.4,499.4L682.0,500.0L684.0,501.7L685.9,503.4L688.2,504.6L690.3,506.0L692.5,507.5L695.1,508.0L697.6,508.6L699.8,510.1L701.9,511.4L704.2,512.6L706.1,514.4L708.2,516.0L710.7,516.6L713.2,517.4L715.4,518.6L717.9,519.5L720.2,520.6L722.0,522.6L724.0,524.2L726.5,525.1L728.8,526.2L731.1,527.3L733.7,527.8L736.0,528.9L737.9,530.8L740.0,532.2L742.3,533.4L744.3,535.0L746.7,536.0L749.4,536.4L751.7,537.4L753.8,539.0L756.1,540.1L758.2,541.6L760.1,543.5L762.4,544.6L765.0,545.1L767.3,546.1L769.6,547.3L772.0,548.2L774.1,549.7L775.9,551.7L778.2,552.9L780.6,553.7L782.9,555.0M676.2,499.9L678.8,500.6L681.2,501.4L683.2,503.2L685.2,504.9L687.5,506.0L689.6,507.4L691.8,508.7L694.5,509.1L697.0,509.9L699.0,511.5L701.2,512.8L703.4,514.1L705.3,515.9L707.5,517.3L710.1,517.7L712.6,518.6L714.8,519.9L717.2,520.8L719.4,522.2L721.2,524.2L723.3,525.6L725.8,526.3L728.1,527.4L730.4,528.5L733.0,529.1L735.2,530.3L737.1,532.3L739.2,533.7L741.5,534.8L743.7,536.3L746.1,537.1L748.8,537.5L751.0,538.7L753.0,540.4L755.3,541.6L757.4,543.1L759.3,544.9L761.7,545.7L764.4,546.2L766.7,547.4L768.9,548.6L771.3,549.6L773.3,551.3L775.1,553.2L777.5,554.2L780.0,555.0L782.2,556.2M675.4,501.6L677.9,502.3L680.2,503.3L682.1,505.2L684.1,506.9L686.5,507.9L688.7,509.2L690.9,510.3L693.6,510.7L696.0,511.7L698.0,513.4L700.1,514.8L702.3,516.1L704.3,517.8L706.6,519.0L709.3,519.4L711.7,520.3L713.8,521.7L716.1,522.7L718.3,524.2L720.1,526.2L722.3,527.4L724.9,528.0L727.2,529.1L729.5,530.2L732.1,530.9L734.2,532.3L736.0,534.3L738.2,535.6L740.6,536.6L742.7,538.0L745.2,538.8L747.9,539.2L750.0,540.7L752.0,542.4L754.2,543.6L756.3,545.1L758.4,546.7L760.9,547.4L763.5,547.9L765.7,549.2L767.9,550.5L770.2,551.5L772.2,553.3L774.1,555.1L776.6,555.9L779.1,556.7L781.3,557.9M674.6,503.0L677.1,503.8L679.3,505.0L681.1,507.0L683.2,508.5L685.6,509.4L687.9,510.7L690.2,511.7L692.9,512.1L695.1,513.3L697.1,515.1L699.2,516.5L701.4,517.8L703.5,519.4L705.9,520.3L708.6,520.7L710.8,521.8L713.0,523.3L715.3,524.4L717.3,526.0L719.2,527.9L721.6,528.9L724.2,529.4L726.4,530.6L728.8,531.6L731.2,532.5L733.2,534.1L735.1,536.1L737.4,537.2L739.8,538.1L742.0,539.4L744.5,540.1L747.1,540.7L749.1,542.4L751.1,544.1L753.3,545.3L755.4,546.7L757.6,548.2L760.2,548.7L762.7,549.3L764.9,550.8L767.1,552.1L769.3,553.3L771.2,555.1L773.3,556.7L775.8,557.3L778.3,558.1L780.5,559.3M674.0,504.1L676.4,505.0L678.6,506.4L680.4,508.4L682.6,509.7L685.0,510.5L687.3,511.8L689.7,512.7L692.3,513.2L694.4,514.6L696.3,516.5L698.5,517.8L700.8,519.0L702.9,520.5L705.3,521.3L708.0,521.7L710.2,523.0L712.3,524.6L714.5,525.8L716.6,527.4L718.5,529.1L721.0,529.9L723.6,530.5L725.9,531.7L728.2,532.8L730.5,533.7L732.5,535.6L734.4,537.4L736.8,538.3L739.2,539.2L741.4,540.5L744.0,541.1L746.4,541.9L748.4,543.7L750.3,545.4L752.6,546.6L754.8,548.0L757.0,549.2L759.7,549.7L762.2,550.4L764.2,552.0L766.4,553.4L768.6,554.6L770.5,556.4L772.7,557.8L775.3,558.3L777.8,559.2L779.9,560.5M673.1,505.9L675.4,506.9L677.5,508.4L679.3,510.4L681.6,511.5L684.1,512.2L686.4,513.4L688.8,514.3L691.4,515.0L693.4,516.6L695.3,518.5L697.5,519.7L699.8,520.9L702.0,522.2L704.5,522.9L707.1,523.4L709.2,524.9L711.3,526.5L713.5,527.7L715.5,529.3L717.6,530.9L720.2,531.5L722.7,532.1L724.9,533.4L727.2,534.6L729.5,535.7L731.4,537.6L733.4,539.3L735.9,540.0L738.3,540.9L740.5,542.1L743.1,542.8L745.4,543.8L747.3,545.8L749.3,547.4L751.7,548.4L753.9,549.7L756.1,550.8L758.8,551.3L761.2,552.2L763.2,553.9L765.3,555.3L767.5,556.6L769.5,558.3L771.8,559.5L774.5,559.9L776.8,560.8L779.0,562.2M672.1,507.7L674.4,508.7L676.4,510.4L678.3,512.3L680.8,513.2L683.3,513.9L685.5,515.1L688.0,516.0L690.4,516.8L692.3,518.6L694.2,520.4L696.6,521.5L698.9,522.6L701.1,523.9L703.7,524.4L706.2,525.1L708.2,526.8L710.2,528.4L712.5,529.6L714.6,531.2L716.7,532.6L719.4,533.0L721.9,533.7L724.0,535.2L726.2,536.4L728.5,537.6L730.3,539.6L732.4,541.0L735.0,541.6L737.4,542.6L739.7,543.7L742.2,544.5L744.4,545.7L746.2,547.7L748.3,549.2L750.7,550.1L753.0,551.4L755.3,552.4L758.0,552.9L760.2,554.0L762.2,555.9L764.3,557.2L766.5,558.5L768.6,560.1L770.9,561.1L773.6,561.4L775.9,562.6L778.0,564.0" stroke="#000" stroke-width="0.85" fill="none"/></g>
<path d="M700,469 Q699,464 705,463.5 L790,509 Q797,512 797,518 L792,522 L700,474 Z" fill="none" stroke="#000" stroke-width="1.3" stroke-linejoin="round" />
<clipPath id="c36"><polygon points="784.0,513.0 792.0,508.0 797.0,518.0 790.0,522.0"/></clipPath>
<polygon points="784.0,513.0 792.0,508.0 797.0,518.0 790.0,522.0" fill="#fff" stroke="none"/>
<g clip-path="url(#c36)"><path d="M792.4,497.3L808.3,516.3M790.7,498.7L806.6,517.7M789.1,500.1L804.9,519.1M787.4,501.5L803.2,520.5M785.7,502.9L801.5,521.9M784.0,504.3L799.8,523.3M782.3,505.8L798.1,524.7M780.6,507.2L796.4,526.1M778.9,508.6L794.7,527.6M777.2,510.0L793.0,529.0M775.5,511.4L791.4,530.4M773.8,512.8L789.7,531.8" stroke="#000" stroke-width="0.9" fill="none"/></g>
<polygon points="784.0,513.0 792.0,508.0 797.0,518.0 790.0,522.0" fill="none" stroke="#000" stroke-width="1" stroke-linejoin="round" />
<clipPath id="c37"><polygon points="765.9,627.3 863.5,577.9 864.8,584.2 769.7,636.2"/></clipPath>
<polygon points="765.9,627.3 863.5,577.9 864.8,584.2 769.7,636.2" fill="#fff" stroke="none"/>
<g clip-path="url(#c37)"><path d="M786.5,532.8L788.5,534.3L790.3,536.3L792.5,537.5L795.0,538.3L797.2,539.5L799.5,540.4L802.1,540.9L804.2,542.3L806.1,544.2L808.2,545.4L810.5,546.6L812.5,548.1L814.9,549.0L817.6,549.3L819.8,550.5L821.8,552.1L824.0,553.2L826.1,554.7L828.0,556.5L830.3,557.5L832.9,558.0L835.2,559.1L837.4,560.2L839.8,561.1L841.8,562.7L843.6,564.7L845.8,565.8L848.3,566.6L850.5,567.8L852.9,568.6L855.4,569.2L857.5,570.7L859.3,572.6L861.5,573.8L863.7,575.0L865.8,576.5L868.2,577.2L870.9,577.6L873.0,578.9L875.1,580.5L877.3,581.6L879.3,583.1L881.2,584.9L883.6,585.7L886.2,586.2L888.5,587.4L890.7,588.5L893.1,589.5M785.6,534.5L787.6,536.1L789.4,538.1L791.7,539.1L794.2,539.8L796.4,541.0L798.8,541.8L801.3,542.5L803.3,544.1L805.1,546.0L807.3,547.2L809.6,548.3L811.7,549.7L814.2,550.4L816.8,550.8L818.9,552.2L820.9,553.9L823.1,555.0L825.1,556.5L827.1,558.2L829.5,558.9L832.1,559.4L834.3,560.6L836.5,561.8L838.9,562.8L840.8,564.6L842.6,566.4L845.0,567.3L847.5,568.1L849.7,569.3L852.1,570.1L854.5,570.8L856.5,572.5L858.4,574.4L860.6,575.5L862.8,576.6L865.0,578.0L867.5,578.6L870.1,579.1L872.1,580.6L874.1,582.2L876.3,583.4L878.4,584.9L880.4,586.5L882.9,587.2L885.4,587.7L887.6,589.0L889.8,590.2L892.1,591.2M784.5,536.5L786.4,538.3L788.3,540.1L790.7,540.9L793.2,541.6L795.4,542.8L797.8,543.6L800.2,544.5L802.1,546.3L804.0,548.1L806.3,549.1L808.6,550.2L810.7,551.5L813.3,552.1L815.8,552.7L817.8,554.3L819.8,555.9L822.0,557.1L824.0,558.6L826.1,560.1L828.6,560.6L831.2,561.2L833.3,562.5L835.5,563.8L837.7,564.9L839.6,566.7L841.6,568.4L844.0,569.1L846.5,569.9L848.7,571.1L851.1,571.9L853.5,572.8L855.4,574.7L857.3,576.4L859.6,577.4L861.8,578.5L864.0,579.8L866.6,580.3L869.1,581.0L871.0,582.7L873.0,584.3L875.3,585.4L877.3,587.0L879.4,588.4L882.0,588.9L884.5,589.5L886.6,590.9L888.8,592.2L891.0,593.3M783.7,538.0L785.6,539.8L787.6,541.4L790.1,542.0L792.6,542.7L794.8,543.9L797.2,544.8L799.5,545.9L801.3,547.8L803.2,549.5L805.6,550.4L807.9,551.4L810.1,552.6L812.7,553.1L815.1,554.0L817.0,555.7L819.0,557.3L821.2,558.5L823.3,559.9L825.5,561.2L828.1,561.7L830.6,562.4L832.6,563.9L834.8,565.2L837.0,566.4L838.9,568.2L840.9,569.7L843.5,570.2L845.9,571.0L848.1,572.3L850.5,573.2L852.7,574.2L854.5,576.2L856.5,577.8L858.9,578.7L861.2,579.7L863.4,580.9L866.0,581.4L868.4,582.3L870.3,584.1L872.3,585.7L874.5,586.8L876.6,588.3L878.8,589.5L881.4,589.9L883.9,590.7L885.9,592.2L888.0,593.5L890.2,594.8M782.5,540.2L784.4,542.0L786.6,543.4L789.2,543.8L791.6,544.6L793.7,545.9L796.1,546.9L798.3,548.1L800.1,550.0L802.1,551.6L804.6,552.3L806.9,553.3L809.1,554.5L811.7,555.1L814.0,556.1L815.8,558.0L817.8,559.5L820.1,560.6L822.2,562.0L824.5,563.1L827.1,563.5L829.5,564.4L831.5,566.0L833.6,567.3L835.8,568.6L837.7,570.4L839.9,571.7L842.5,572.1L844.9,572.9L847.0,574.2L849.4,575.2L851.5,576.5L853.3,578.5L855.4,579.9L857.9,580.6L860.2,581.6L862.4,582.8L865.0,583.4L867.2,584.5L869.1,586.4L871.1,587.9L873.4,588.9L875.5,590.3L877.8,591.4L880.4,591.8L882.8,592.7L884.7,594.4L886.9,595.7L889.1,597.0M781.9,541.4L783.8,543.1L786.1,544.3L788.7,544.7L791.1,545.6L793.2,547.0L795.5,548.0L797.6,549.3L799.4,551.3L801.6,552.6L804.1,553.3L806.4,554.3L808.7,555.4L811.2,556.0L813.3,557.3L815.1,559.3L817.2,560.7L819.6,561.7L821.7,563.0L824.0,564.0L826.7,564.4L828.9,565.4L830.9,567.2L833.0,568.5L835.2,569.8L837.1,571.5L839.4,572.6L842.0,572.9L844.4,573.9L846.5,575.3L848.8,576.3L850.9,577.7L852.7,579.7L854.9,580.9L857.4,581.5L859.7,582.6L862.0,583.7L864.4,584.3L866.6,585.7L868.4,587.7L870.5,589.0L872.8,590.0L875.0,591.3L877.3,592.2L880.0,592.6L882.2,593.8L884.1,595.6L886.3,596.9L888.4,598.2M780.8,543.5L782.8,545.1L785.1,546.1L787.8,546.4L790.1,547.5L792.1,549.0L794.4,550.1L796.5,551.5L798.3,553.4L800.6,554.5L803.1,555.1L805.4,556.1L807.7,557.2L810.1,558.0L812.2,559.4L814.0,561.4L816.1,562.7L818.5,563.6L820.7,564.8L823.1,565.7L825.7,566.2L827.8,567.5L829.7,569.3L831.9,570.6L834.1,571.9L836.1,573.4L838.4,574.3L841.1,574.7L843.3,575.8L845.4,577.3L847.7,578.4L849.7,579.9L851.6,581.8L853.9,582.8L856.4,583.3L858.7,584.4L861.0,585.5L863.4,586.3L865.4,587.8L867.2,589.8L869.4,591.0L871.8,591.9L874.0,593.1L876.4,594.0L879.0,594.5L881.1,595.9L883.0,597.7L885.1,599.0L887.3,600.2M779.8,545.3L781.9,546.8L784.3,547.6L787.0,548.0L789.2,549.2L791.2,550.7L793.4,551.9L795.5,553.4L797.4,555.2L799.7,556.1L802.3,556.6L804.6,557.7L806.8,558.9L809.2,559.8L811.2,561.4L813.0,563.3L815.2,564.4L817.7,565.2L819.9,566.4L822.3,567.2L824.8,567.8L826.9,569.3L828.7,571.2L830.9,572.4L833.1,573.6L835.2,575.1L837.7,575.8L840.3,576.2L842.4,577.5L844.4,579.1L846.7,580.3L848.7,581.8L850.6,583.5L853.0,584.4L855.6,584.9L857.9,586.0L860.1,587.2L862.4,588.1L864.4,589.8L866.2,591.7L868.5,592.7L871.0,593.5L873.2,594.7L875.6,595.5L878.1,596.2L880.1,597.8L882.0,599.6L884.2,600.8L886.4,602.0M779.0,546.8L781.2,548.2L783.7,548.8L786.2,549.3L788.3,550.7L790.3,552.4L792.5,553.5L794.6,555.1L796.6,556.7L799.0,557.4L801.6,557.9L803.8,559.1L806.0,560.3L808.3,561.4L810.3,563.1L812.1,564.9L814.5,565.8L816.9,566.6L819.2,567.8L821.6,568.6L824.0,569.3L826.0,571.0L827.8,572.9L830.1,574.0L832.3,575.1L834.5,576.5L837.0,577.1L839.5,577.6L841.6,579.1L843.6,580.7L845.8,581.9L847.8,583.4L849.9,585.0L852.4,585.6L854.9,586.2L857.1,587.5L859.3,588.7L861.6,589.7L863.5,591.5L865.4,593.3L867.8,594.1L870.2,594.9L872.5,596.1L874.9,596.9L877.3,597.7L879.2,599.4L881.1,601.3L883.4,602.3L885.6,603.5M777.8,549.0L780.0,550.3L782.6,550.9L785.1,551.5L787.1,553.1L789.0,554.8L791.3,555.9L793.3,557.4L795.4,558.9L797.9,559.4L800.5,560.0L802.6,561.4L804.8,562.7L807.0,563.8L808.9,565.6L810.9,567.3L813.3,568.0L815.8,568.7L818.0,569.9L820.4,570.8L822.8,571.7L824.6,573.5L826.5,575.3L828.9,576.3L831.1,577.4L833.3,578.6L835.9,579.1L838.4,579.9L840.3,581.5L842.3,583.2L844.5,584.3L846.6,585.8L848.7,587.2L851.3,587.7L853.8,588.3L855.9,589.7L858.1,591.0L860.3,592.2L862.2,594.0L864.2,595.6L866.7,596.2L869.1,597.0L871.3,598.2L873.7,599.1L876.0,600.1L877.9,602.0L879.8,603.7L882.2,604.6L884.4,605.7M777.2,550.2L779.5,551.4L782.0,551.9L784.4,552.8L786.3,554.6L788.3,556.2L790.5,557.3L792.6,558.7L794.8,560.0L797.4,560.5L799.9,561.2L801.9,562.7L804.1,564.0L806.3,565.2L808.2,567.0L810.2,568.5L812.8,569.0L815.2,569.8L817.4,571.1L819.8,572.0L822.0,573.1L823.8,575.0L825.8,576.6L828.2,577.5L830.5,578.5L832.8,579.7L835.3,580.2L837.7,581.1L839.5,583.0L841.6,584.5L843.8,585.6L845.9,587.1L848.1,588.3L850.7,588.7L853.2,589.5L855.2,591.0L857.3,592.3L859.5,593.6L861.4,595.4L863.5,596.8L866.1,597.3L868.5,598.1L870.7,599.4L873.1,600.3L875.3,601.5L877.1,603.4L879.1,605.0L881.5,605.8L883.8,606.8M776.1,552.2L778.4,553.4L780.9,554.0L783.2,555.0L785.0,556.9L787.1,558.5L789.4,559.5L791.5,560.9L793.7,562.0L796.4,562.4L798.8,563.3L800.7,564.9L802.9,566.3L805.0,567.5L807.0,569.3L809.1,570.5L811.7,571.0L814.1,571.8L816.3,573.2L818.6,574.1L820.8,575.4L822.6,577.4L824.7,578.8L827.1,579.5L829.4,580.6L831.7,581.6L834.2,582.2L836.5,583.4L838.3,585.3L840.3,586.8L842.6,587.8L844.8,589.2L847.1,590.3L849.7,590.6L852.0,591.6L854.0,593.3L856.1,594.6L858.3,595.9L860.2,597.7L862.4,598.8L865.1,599.2L867.4,600.1L869.6,601.5L871.9,602.5L874.0,603.8L875.8,605.8L877.9,607.1L880.4,607.8L882.7,608.9M775.2,554.0L777.5,555.1L780.0,555.7L782.2,557.0L783.9,559.0L786.0,560.4L788.4,561.4L790.5,562.7L792.9,563.6L795.5,564.1L797.8,565.1L799.7,566.9L801.8,568.2L804.0,569.5L805.9,571.2L808.2,572.2L810.9,572.6L813.2,573.6L815.3,575.0L817.6,576.1L819.7,577.5L821.5,579.4L823.7,580.6L826.2,581.2L828.5,582.3L830.8,583.3L833.3,584.0L835.4,585.4L837.2,587.4L839.3,588.7L841.7,589.7L843.8,591.0L846.2,591.9L848.8,592.3L851.0,593.5L852.9,595.3L855.1,596.6L857.2,597.9L859.2,599.5L861.5,600.5L864.2,600.9L866.5,601.9L868.6,603.3L870.9,604.4L872.9,605.9L874.8,607.8L877.0,608.9L879.5,609.5L881.8,610.6M774.8,554.8L777.0,555.9L779.5,556.7L781.5,558.2L783.3,560.2L785.5,561.4L787.9,562.3L790.1,563.5L792.5,564.4L795.0,564.9L797.2,566.2L799.1,568.1L801.2,569.3L803.4,570.6L805.4,572.2L807.8,573.0L810.5,573.4L812.7,574.5L814.8,576.0L817.0,577.1L819.1,578.6L820.9,580.5L823.2,581.5L825.8,582.0L828.1,583.1L830.3,584.2L832.8,585.0L834.8,586.6L836.6,588.6L838.8,589.7L841.2,590.6L843.4,591.8L845.8,592.7L848.3,593.2L850.4,594.6L852.3,596.4L854.5,597.7L856.7,599.0L858.7,600.5L861.1,601.3L863.8,601.7L866.0,602.9L868.0,604.4L870.3,605.5L872.3,607.0L874.2,608.9L876.6,609.8L879.1,610.3L881.4,611.4M773.6,557.0L775.8,558.2L778.2,559.1L780.2,560.7L782.0,562.7L784.3,563.7L786.7,564.5L788.9,565.7L791.3,566.5L793.8,567.2L795.9,568.7L797.7,570.6L799.9,571.8L802.1,573.0L804.2,574.4L806.7,575.1L809.3,575.5L811.5,576.9L813.5,578.4L815.7,579.6L817.7,581.2L819.7,582.9L822.1,583.7L824.7,584.2L826.9,585.3L829.1,586.5L831.5,587.4L833.4,589.1L835.3,591.0L837.6,592.0L840.0,592.8L842.2,594.0L844.6,594.8L847.1,595.5L849.1,597.1L851.0,598.9L853.2,600.1L855.4,601.3L857.5,602.7L860.0,603.3L862.6,603.8L864.7,605.2L866.7,606.8L869.0,608.0L871.0,609.5L872.9,611.2L875.4,611.9L878.0,612.4L880.2,613.7M772.8,558.6L775.0,559.8L777.3,560.8L779.2,562.5L781.1,564.4L783.5,565.2L785.9,566.0L788.1,567.2L790.6,568.0L793.0,568.8L794.9,570.5L796.8,572.3L799.1,573.4L801.3,574.6L803.5,575.9L806.0,576.5L808.5,577.0L810.6,578.6L812.6,580.2L814.8,581.3L816.8,582.9L818.8,584.4L821.4,585.0L823.9,585.6L826.1,586.9L828.3,588.1L830.6,589.2L832.5,591.0L834.4,592.7L836.8,593.5L839.2,594.3L841.4,595.5L843.9,596.3L846.3,597.1L848.2,598.9L850.1,600.7L852.3,601.7L854.6,602.9L856.8,604.2L859.3,604.7L861.8,605.3L863.8,606.9L865.8,608.5L868.0,609.7L870.1,611.3L872.1,612.7L874.7,613.3L877.2,613.9L879.4,615.2M772.0,560.1L774.2,561.3L776.4,562.5L778.3,564.3L780.3,565.9L782.7,566.6L785.2,567.4L787.4,568.6L789.8,569.4L792.1,570.4L794.0,572.3L795.9,574.0L798.2,574.9L800.5,576.0L802.7,577.2L805.3,577.8L807.7,578.5L809.7,580.2L811.7,581.8L813.9,583.0L815.9,584.5L818.1,585.9L820.7,586.3L823.2,587.0L825.3,588.4L827.4,589.7L829.6,590.9L831.5,592.7L833.5,594.3L836.1,594.9L838.5,595.7L840.7,596.9L843.1,597.7L845.4,598.8L847.2,600.7L849.2,602.4L851.5,603.3L853.8,604.4L856.0,605.5L858.6,606.0L861.0,606.9L862.9,608.6L864.9,610.2L867.2,611.4L869.2,612.9L871.4,614.2L874.0,614.6L876.5,615.3L878.5,616.8M771.4,561.2L773.6,562.5L775.8,563.7L777.6,565.5L779.7,566.9L782.3,567.5L784.7,568.3L786.9,569.5L789.3,570.4L791.5,571.6L793.3,573.5L795.3,575.1L797.7,575.9L800.0,577.0L802.3,578.1L804.8,578.7L807.2,579.6L809.0,581.5L811.0,583.0L813.3,584.1L815.4,585.6L817.6,586.7L820.2,587.1L822.7,587.9L824.7,589.5L826.8,590.8L829.0,592.1L830.9,593.9L833.0,595.2L835.6,595.7L838.0,596.6L840.2,597.8L842.5,598.7L844.8,600.0L846.5,601.9L848.6,603.5L851.0,604.2L853.3,605.3L855.6,606.4L858.1,606.9L860.4,608.0L862.3,609.9L864.3,611.4L866.6,612.5L868.7,613.9L870.9,615.0L873.6,615.4L875.9,616.3L877.9,617.9M770.2,563.4L772.4,564.7L774.5,566.0L776.5,567.7L778.7,569.0L781.3,569.4L783.7,570.2L785.8,571.6L788.1,572.6L790.3,573.9L792.1,575.8L794.2,577.3L796.7,577.9L799.0,579.0L801.2,580.0L803.8,580.7L806.0,581.8L807.8,583.8L809.9,585.3L812.2,586.3L814.3,587.6L816.6,588.7L819.2,589.0L821.5,590.0L823.5,591.7L825.6,593.1L827.8,594.3L829.7,596.1L832.0,597.2L834.6,597.6L837.0,598.6L839.1,599.9L841.4,600.9L843.5,602.3L845.3,604.2L847.5,605.6L850.0,606.2L852.3,607.3L854.5,608.3L857.1,609.0L859.2,610.2L861.0,612.2L863.1,613.6L865.4,614.6L867.6,616.0L869.9,616.9L872.5,617.3L874.8,618.4L876.7,620.1M769.2,565.4L771.3,566.7L773.5,568.0L775.4,569.6L777.8,570.6L780.4,571.0L782.7,572.0L784.8,573.4L787.1,574.5L789.2,575.9L791.0,577.9L793.2,579.1L795.8,579.6L798.0,580.7L800.3,581.8L802.8,582.5L804.9,583.9L806.7,585.9L808.8,587.2L811.2,588.1L813.3,589.4L815.7,590.3L818.3,590.7L820.5,592.0L822.4,593.8L824.6,595.0L826.7,596.3L828.7,598.0L831.1,598.9L833.7,599.3L836.0,600.3L838.1,601.8L840.4,602.8L842.4,604.3L844.3,606.2L846.5,607.3L849.1,607.9L851.3,609.0L853.6,610.1L856.1,610.8L858.1,612.3L859.9,614.2L862.1,615.5L864.5,616.4L866.6,617.7L869.0,618.6L871.6,619.0L873.8,620.3L875.7,622.1M768.4,566.9L770.5,568.2L772.7,569.4L774.7,571.0L777.1,571.8L779.8,572.2L782.0,573.3L784.1,574.8L786.3,576.0L788.4,577.5L790.2,579.3L792.6,580.3L795.1,580.8L797.4,581.9L799.7,583.0L802.1,583.8L804.1,585.4L805.9,587.4L808.1,588.5L810.5,589.4L812.7,590.6L815.1,591.4L817.7,592.0L819.7,593.4L821.6,595.3L823.8,596.5L826.0,597.8L828.0,599.3L830.5,600.0L833.1,600.4L835.3,601.7L837.3,603.2L839.6,604.3L841.6,605.9L843.5,607.7L845.9,608.6L848.4,609.1L850.7,610.2L853.0,611.3L855.3,612.2L857.3,613.8L859.1,615.8L861.4,616.8L863.8,617.7L866.0,618.9L868.4,619.7L871.0,620.3L873.0,621.8L874.9,623.7M767.4,568.7L769.6,569.9L771.8,571.1L773.9,572.5L776.4,573.2L779.0,573.6L781.1,575.0L783.2,576.5L785.4,577.7L787.4,579.3L789.4,581.0L791.8,581.7L794.4,582.2L796.6,583.4L798.8,584.6L801.2,585.5L803.1,587.3L804.9,589.1L807.3,590.1L809.7,590.9L811.9,592.1L814.3,592.9L816.8,593.6L818.8,595.2L820.7,597.1L822.9,598.2L825.1,599.4L827.2,600.8L829.7,601.4L832.3,601.9L834.4,603.3L836.4,604.9L838.7,606.1L840.7,607.6L842.6,609.3L845.1,610.0L847.7,610.5L849.9,611.7L852.1,612.9L854.4,613.9L856.3,615.7L858.2,617.5L860.6,618.4L863.0,619.2L865.2,620.4L867.7,621.2L870.1,621.9L872.0,623.6L873.9,625.4M766.4,570.6L768.7,571.7L770.9,572.8L773.1,574.1L775.6,574.7L778.1,575.3L780.2,576.8L782.2,578.4L784.4,579.6L786.4,581.2L788.4,582.7L791.0,583.3L793.5,583.8L795.7,585.1L797.9,586.4L800.1,587.4L802.0,589.2L804.0,591.0L806.4,591.7L808.8,592.5L811.1,593.7L813.5,594.5L815.9,595.4L817.7,597.2L819.6,599.0L822.0,600.0L824.2,601.1L826.4,602.4L828.9,602.9L831.4,603.6L833.4,605.2L835.4,606.8L837.6,608.0L839.7,609.5L841.7,611.0L844.3,611.5L846.8,612.1L849.0,613.5L851.2,614.7L853.4,615.8L855.3,617.7L857.2,619.3L859.7,620.0L862.1,620.8L864.4,622.0L866.8,622.8L869.1,623.7L871.0,625.6L872.9,627.3M765.4,572.4L767.8,573.3L770.1,574.4L772.3,575.6L774.8,576.1L777.3,576.9L779.2,578.6L781.2,580.2L783.4,581.4L785.5,582.9L787.6,584.2L790.2,584.7L792.7,585.3L794.8,586.8L797.0,588.0L799.2,589.2L801.1,591.1L803.1,592.6L805.6,593.2L808.1,594.0L810.3,595.2L812.6,596.1L814.9,597.1L816.8,599.1L818.7,600.7L821.1,601.6L823.4,602.7L825.6,603.8L828.2,604.4L830.6,605.2L832.5,607.0L834.5,608.6L836.7,609.7L838.8,611.2L840.9,612.5L843.6,612.9L846.0,613.6L848.1,615.1L850.2,616.4L852.4,617.6L854.3,619.5L856.4,620.9L858.9,621.5L861.4,622.3L863.5,623.5L865.9,624.4L868.2,625.5L870.0,627.5L872.0,629.1M764.2,574.6L766.7,575.4L768.9,576.5L771.2,577.6L773.8,578.2L776.1,579.1L777.9,581.0L780.0,582.6L782.2,583.6L784.3,585.1L786.5,586.2L789.2,586.6L791.6,587.5L793.6,589.1L795.7,590.4L797.9,591.6L799.8,593.4L802.0,594.8L804.6,595.2L806.9,596.1L809.1,597.3L811.5,598.3L813.7,599.5L815.5,601.5L817.5,603.0L820.0,603.7L822.2,604.8L824.5,605.9L827.1,606.4L829.3,607.5L831.2,609.4L833.2,610.9L835.5,612.0L837.6,613.4L839.9,614.5L842.5,614.9L844.9,615.8L846.9,617.4L849.0,618.7L851.2,620.0L853.1,621.8L855.3,623.0L857.9,623.5L860.2,624.4L862.4,625.7L864.8,626.6L866.9,627.9L868.7,629.9L870.8,631.3M763.6,575.9L766.1,576.6L768.4,577.6L770.6,578.7L773.2,579.3L775.4,580.5L777.2,582.5L779.2,583.9L781.6,584.9L783.7,586.3L786.0,587.3L788.6,587.7L790.9,588.7L792.9,590.4L795.0,591.7L797.2,593.0L799.1,594.8L801.4,595.9L804.0,596.2L806.3,597.2L808.5,598.6L810.8,599.6L812.9,600.9L814.7,602.9L816.9,604.2L819.4,604.8L821.7,605.9L823.9,607.0L826.5,607.6L828.6,608.9L830.4,610.9L832.5,612.3L834.8,613.2L837.0,614.6L839.3,615.5L841.9,615.9L844.2,617.1L846.1,618.8L848.3,620.1L850.4,621.4L852.4,623.1L854.7,624.1L857.3,624.5L859.6,625.5L861.8,626.9L864.1,627.9L866.1,629.3L868.0,631.3L870.2,632.5M762.7,577.6L765.2,578.2L767.5,579.2L769.8,580.3L772.2,581.0L774.3,582.4L776.1,584.4L778.3,585.7L780.6,586.7L782.8,587.9L785.2,588.8L787.8,589.3L790.0,590.5L791.9,592.3L794.0,593.6L796.2,594.9L798.2,596.5L800.5,597.4L803.2,597.8L805.4,598.9L807.5,600.3L809.8,601.4L811.9,602.9L813.7,604.8L816.0,605.9L818.5,606.4L820.8,607.5L823.1,608.6L825.5,609.3L827.6,610.8L829.4,612.8L831.6,614.1L833.9,615.0L836.1,616.3L838.5,617.1L841.1,617.6L843.2,618.9L845.1,620.7L847.3,622.0L849.4,623.3L851.4,624.9L853.9,625.7L856.5,626.1L858.7,627.2L860.8,628.7L863.1,629.8L865.1,631.3L867.0,633.2L869.3,634.2M761.7,579.4L764.3,579.9L766.5,581.0L768.8,582.1L771.2,583.0L773.2,584.6L775.0,586.5L777.3,587.6L779.7,588.5L781.8,589.7L784.3,590.5L786.8,591.1L788.9,592.6L790.7,594.4L792.9,595.6L795.1,596.9L797.2,598.4L799.6,599.1L802.3,599.5L804.4,600.8L806.5,602.3L808.7,603.4L810.7,605.0L812.6,606.8L815.0,607.6L817.6,608.2L819.8,609.3L822.1,610.4L824.5,611.3L826.4,613.0L828.3,614.9L830.6,615.9L833.0,616.8L835.2,618.0L837.6,618.8L840.1,619.4L842.1,621.0L844.0,622.8L846.2,624.0L848.4,625.2L850.5,626.7L853.0,627.3L855.6,627.8L857.7,629.2L859.7,630.7L862.0,631.8L864.0,633.4L865.9,635.1L868.4,635.9M760.8,581.2L763.3,581.7L765.5,582.9L767.8,584.1L770.1,585.0L772.0,586.8L773.9,588.6L776.2,589.6L778.7,590.4L780.9,591.6L783.3,592.3L785.8,593.1L787.7,594.7L789.6,596.6L791.9,597.7L794.1,598.9L796.2,600.3L798.7,600.9L801.3,601.4L803.3,602.8L805.4,604.4L807.6,605.6L809.6,607.2L811.6,608.8L814.1,609.4L816.6,610.0L818.8,611.2L821.1,612.4L823.4,613.4L825.3,615.2L827.2,617.0L829.5,617.9L832.0,618.7L834.2,619.9L836.6,620.6L839.0,621.4L841.0,623.1L842.9,624.9L845.1,626.0L847.3,627.2L849.5,628.5L852.0,629.1L854.6,629.7L856.6,631.2L858.6,632.8L860.9,633.9L862.9,635.5L864.9,637.1L867.4,637.7M760.3,582.0L762.9,582.5L765.0,583.9L767.2,585.1L769.5,586.2L771.4,588.0L773.3,589.7L775.8,590.5L778.2,591.2L780.4,592.4L782.8,593.2L785.2,594.1L787.1,596.0L789.0,597.7L791.3,598.7L793.5,599.9L795.7,601.1L798.3,601.6L800.8,602.3L802.7,604.0L804.7,605.6L807.0,606.7L809.0,608.3L811.1,609.7L813.7,610.2L816.2,610.8L818.3,612.2L820.5,613.4L822.7,614.6L824.6,616.4L826.6,618.1L829.1,618.7L831.5,619.5L833.7,620.7L836.1,621.5L838.5,622.5L840.3,624.4L842.2,626.1L844.6,627.0L846.8,628.2L849.0,629.4L851.6,629.9L854.1,630.7L856.0,632.4L858.0,633.9L860.2,635.1L862.3,636.7L864.4,638.0L867.0,638.5M759.7,583.2L762.2,583.9L764.2,585.3L766.4,586.6L768.6,587.8L770.5,589.6L772.5,591.1L775.1,591.7L777.5,592.5L779.7,593.7L782.1,594.6L784.4,595.7L786.2,597.6L788.2,599.3L790.6,600.1L792.8,601.2L795.1,602.4L797.6,602.9L800.0,603.8L801.9,605.6L803.9,607.1L806.2,608.3L808.2,609.8L810.4,611.0L813.0,611.4L815.5,612.2L817.5,613.7L819.7,614.9L821.9,616.2L823.8,618.0L825.8,619.5L828.4,620.0L830.8,620.8L833.0,622.1L835.4,622.9L837.6,624.1L839.4,626.0L841.4,627.6L843.8,628.4L846.1,629.5L848.4,630.6L850.9,631.2L853.3,632.1L855.1,634.0L857.2,635.5L859.4,636.6L861.5,638.1L863.7,639.3L866.4,639.7M758.4,585.5L760.8,586.4L762.8,588.0L765.0,589.3L767.1,590.6L769.0,592.4L771.2,593.7L773.8,594.1L776.2,595.0L778.4,596.3L780.7,597.2L782.9,598.5L784.7,600.5L786.7,601.9L789.2,602.7L791.5,603.7L793.8,604.8L796.3,605.4L798.6,606.5L800.4,608.4L802.5,609.9L804.7,610.9L806.8,612.4L809.1,613.4L811.8,613.8L814.1,614.7L816.1,616.4L818.2,617.7L820.4,619.0L822.3,620.8L824.5,622.0L827.1,622.4L829.5,623.3L831.6,624.6L834.0,625.5L836.1,626.9L837.9,628.9L840.0,630.2L842.5,631.0L844.8,632.0L847.1,633.1L849.6,633.7L851.8,634.9L853.6,636.8L855.7,638.2L858.0,639.3L860.1,640.7L862.4,641.7L865.1,642.1M757.7,586.9L760.0,588.0L761.9,589.7L764.1,591.0L766.2,592.3L768.2,594.0L770.5,595.1L773.1,595.5L775.4,596.4L777.6,597.8L779.9,598.8L782.0,600.2L783.8,602.2L785.9,603.4L788.5,604.1L790.7,605.1L793.0,606.2L795.5,606.8L797.7,608.2L799.5,610.1L801.6,611.5L803.9,612.5L806.0,613.8L808.4,614.8L811.0,615.2L813.3,616.3L815.2,618.1L817.4,619.3L819.5,620.7L821.4,622.4L823.8,623.3L826.4,623.7L828.7,624.8L830.8,626.1L833.1,627.2L835.2,628.6L837.0,630.6L839.2,631.7L841.8,632.3L844.0,633.4L846.3,634.5L848.8,635.1L850.9,636.6L852.7,638.5L854.9,639.8L857.2,640.8L859.3,642.2L861.7,643.0L864.3,643.4M756.9,588.4L759.1,589.7L761.0,591.5L763.2,592.7L765.3,594.0L767.3,595.7L769.7,596.5L772.3,596.9L774.6,598.0L776.7,599.5L778.9,600.5L781.0,602.1L782.8,604.0L785.1,605.0L787.7,605.5L789.9,606.6L792.2,607.7L794.7,608.5L796.7,610.0L798.5,612.0L800.7,613.2L803.1,614.1L805.2,615.4L807.6,616.2L810.2,616.7L812.3,618.1L814.2,619.9L816.4,621.1L818.6,622.4L820.6,624.0L823.0,624.8L825.7,625.2L827.9,626.4L829.9,627.8L832.2,628.9L834.2,630.5L836.1,632.3L838.4,633.3L841.0,633.8L843.2,634.9L845.5,636.0L847.9,636.8L849.9,638.4L851.7,640.4L854.0,641.5L856.4,642.4L858.5,643.7L861.0,644.4L863.5,645.0M756.2,589.7L758.3,591.2L760.1,593.1L762.3,594.3L764.5,595.5L766.6,597.0L769.1,597.7L771.7,598.1L773.8,599.4L775.9,601.0L778.1,602.1L780.1,603.7L782.0,605.4L784.5,606.2L787.0,606.8L789.2,607.9L791.5,609.0L793.9,609.9L795.8,611.6L797.7,613.5L800.0,614.6L802.4,615.4L804.6,616.6L807.0,617.4L809.5,618.0L811.5,619.6L813.4,621.4L815.6,622.6L817.8,623.9L819.9,625.3L822.4,626.0L825.0,626.4L827.1,627.8L829.1,629.3L831.4,630.5L833.4,632.1L835.3,633.8L837.8,634.5L840.3,635.1L842.5,636.3L844.8,637.4L847.1,638.3L849.1,640.1L850.9,641.9L853.3,642.9L855.7,643.7L857.9,644.9L860.3,645.7L862.8,646.4M755.5,591.1L757.4,592.8L759.3,594.6L761.6,595.7L763.8,596.9L765.9,598.3L768.4,598.9L771.0,599.4L773.1,600.9L775.1,602.5L777.3,603.6L779.3,605.2L781.3,606.8L783.8,607.4L786.4,608.0L788.5,609.3L790.8,610.4L793.1,611.5L795.0,613.3L796.9,615.0L799.3,615.9L801.7,616.7L803.9,617.9L806.3,618.6L808.8,619.4L810.7,621.2L812.6,623.0L814.8,624.1L817.1,625.3L819.2,626.6L821.8,627.1L824.3,627.7L826.3,629.3L828.3,630.8L830.6,632.0L832.6,633.6L834.6,635.1L837.1,635.7L839.7,636.3L841.8,637.6L844.1,638.7L846.3,639.8L848.2,641.7L850.1,643.4L852.6,644.2L855.0,645.0L857.2,646.2L859.7,646.9L862.0,647.8M754.6,592.8L756.5,594.6L758.4,596.4L760.7,597.3L762.9,598.5L765.1,599.7L767.7,600.2L770.2,601.0L772.1,602.6L774.2,604.2L776.4,605.4L778.4,606.9L780.5,608.3L783.1,608.8L785.6,609.4L787.7,610.8L789.9,612.1L792.1,613.2L794.0,615.1L796.0,616.7L798.5,617.3L800.9,618.1L803.1,619.3L805.5,620.1L807.9,621.1L809.7,623.0L811.6,624.7L814.0,625.7L816.2,626.8L818.5,628.0L821.0,628.5L823.5,629.3L825.4,631.0L827.4,632.6L829.6,633.7L831.7,635.3L833.8,636.6L836.4,637.0L838.9,637.8L841.0,639.2L843.2,640.4L845.4,641.6L847.2,643.5L849.3,645.0L851.8,645.6L854.2,646.4L856.4,647.6L858.8,648.4L861.1,649.5M753.6,594.7L755.4,596.7L757.4,598.3L759.8,599.1L762.0,600.2L764.3,601.4L766.8,601.9L769.2,602.8L771.1,604.6L773.1,606.2L775.4,607.3L777.4,608.8L779.6,610.0L782.2,610.4L784.7,611.2L786.7,612.7L788.9,614.0L791.1,615.2L792.9,617.1L795.0,618.5L797.6,619.0L800.0,619.8L802.2,621.1L804.6,621.9L806.8,623.1L808.6,625.1L810.6,626.6L813.1,627.4L815.3,628.5L817.6,629.6L820.2,630.2L822.5,631.2L824.3,633.0L826.4,634.5L828.6,635.6L830.7,637.1L832.9,638.3L835.6,638.6L838.0,639.5L840.0,641.1L842.2,642.3L844.3,643.6L846.2,645.5L848.3,646.8L850.9,647.2L853.3,648.1L855.5,649.4L857.9,650.2L860.1,651.5M752.5,596.7L754.3,598.7L756.4,600.2L758.8,600.9L761.1,602.0L763.4,603.0L765.9,603.6L768.2,604.7L770.0,606.7L772.1,608.1L774.3,609.2L776.4,610.6L778.7,611.7L781.4,612.0L783.7,613.0L785.7,614.6L787.8,615.9L790.0,617.2L791.9,619.0L794.1,620.2L796.7,620.6L799.1,621.5L801.3,622.8L803.6,623.8L805.7,625.1L807.5,627.1L809.6,628.5L812.1,629.2L814.4,630.3L816.7,631.3L819.2,631.9L821.4,633.1L823.2,635.1L825.3,636.5L827.6,637.5L829.7,638.9L832.1,639.9L834.7,640.3L837.0,641.3L838.9,643.0L841.1,644.3L843.3,645.6L845.2,647.4L847.4,648.5L850.1,648.9L852.4,649.9L854.5,651.2L856.9,652.1L859.0,653.6M751.7,598.2L753.5,600.2L755.7,601.4L758.2,602.0L760.5,603.1L762.8,604.2L765.3,604.8L767.4,606.2L769.2,608.2L771.3,609.5L773.7,610.5L775.8,611.8L778.2,612.7L780.8,613.1L783.0,614.3L784.9,616.1L787.1,617.3L789.2,618.7L791.2,620.4L793.5,621.3L796.2,621.7L798.5,622.7L800.6,624.1L802.9,625.2L804.9,626.6L806.7,628.6L809.0,629.7L811.5,630.3L813.8,631.4L816.1,632.4L818.6,633.1L820.6,634.6L822.4,636.6L824.6,637.8L826.9,638.8L829.1,640.1L831.5,641.0L834.1,641.4L836.3,642.7L838.2,644.4L840.4,645.7L842.5,647.0L844.5,648.7L846.9,649.6L849.5,650.0L851.7,651.1L853.9,652.5L856.1,653.5L858.2,655.0M750.3,600.8L752.2,602.6L754.5,603.6L757.1,604.2L759.3,605.3L761.6,606.4L764.0,607.1L766.1,608.7L767.9,610.7L770.1,611.8L772.4,612.8L774.6,614.0L777.0,614.8L779.6,615.3L781.7,616.7L783.6,618.5L785.8,619.8L788.0,621.1L790.0,622.6L792.4,623.4L795.0,623.8L797.2,625.0L799.3,626.5L801.6,627.6L803.6,629.2L805.5,631.0L807.8,631.9L810.4,632.5L812.6,633.6L814.9,634.7L817.3,635.5L819.3,637.1L821.1,639.1L823.4,640.2L825.7,641.1L827.9,642.3L830.4,643.1L832.9,643.6L835.0,645.1L836.9,646.9L839.1,648.1L841.2,649.5L843.3,651.0L845.7,651.7L848.4,652.1L850.5,653.4L852.6,654.8L854.8,656.0L856.8,657.6M749.3,602.7L751.3,604.4L753.7,605.2L756.3,605.7L758.5,606.9L760.7,608.0L763.1,608.9L765.0,610.6L766.9,612.5L769.2,613.5L771.6,614.4L773.8,615.6L776.2,616.3L778.7,617.0L780.7,618.6L782.6,620.4L784.8,621.6L787.0,622.8L789.1,624.3L791.6,624.9L794.2,625.4L796.3,626.8L798.4,628.3L800.6,629.4L802.6,631.1L804.5,632.7L807.0,633.4L809.6,634.0L811.8,635.2L814.0,636.3L816.4,637.3L818.3,639.1L820.1,640.9L822.5,641.8L824.9,642.7L827.1,643.9L829.6,644.6L832.0,645.3L834.0,647.0L835.9,648.8L838.1,649.9L840.3,651.2L842.4,652.6L845.0,653.1L847.5,653.7L849.6,655.1L851.6,656.7L853.9,657.8L855.8,659.4M748.7,603.8L750.8,605.3L753.3,605.9L755.8,606.5L758.0,607.8L760.2,609.0L762.5,610.0L764.4,611.8L766.3,613.6L768.7,614.4L771.1,615.2L773.4,616.4L775.8,617.2L778.2,618.0L780.1,619.8L782.0,621.5L784.3,622.6L786.5,623.8L788.7,625.1L791.2,625.6L793.8,626.2L795.8,627.8L797.8,629.4L800.0,630.5L802.0,632.2L804.1,633.6L806.6,634.2L809.1,634.8L811.3,636.1L813.5,637.3L815.8,638.4L817.6,640.2L819.6,641.9L822.0,642.7L824.4,643.5L826.7,644.7L829.1,645.4L831.5,646.3L833.3,648.2L835.3,649.9L837.6,650.9L839.8,652.1L842.0,653.4L844.6,653.9L847.0,654.6L849.0,656.2L851.0,657.7L853.3,658.9L855.3,660.5M747.4,606.4L749.5,607.8L752.1,608.2L754.6,608.9L756.7,610.3L758.9,611.5L761.1,612.7L762.9,614.6L765.0,616.1L767.5,616.8L769.9,617.6L772.1,618.8L774.5,619.6L776.8,620.6L778.6,622.5L780.6,624.2L783.0,625.1L785.2,626.3L787.4,627.4L790.0,627.9L792.4,628.7L794.3,630.5L796.4,632.0L798.6,633.2L800.6,634.7L802.8,636.0L805.4,636.5L807.9,637.2L809.9,638.7L812.1,639.9L814.3,641.1L816.2,643.0L818.3,644.4L820.8,645.0L823.2,645.9L825.4,647.1L827.8,647.9L830.1,649.0L831.9,650.9L833.9,652.5L836.3,653.4L838.5,654.6L840.7,655.7L843.3,656.2L845.7,657.1L847.6,658.9L849.6,660.4L851.9,661.5L853.9,663.1M746.6,607.7L748.9,608.9L751.5,609.3L753.9,610.1L755.9,611.7L758.1,612.9L760.3,614.2L762.2,616.0L764.3,617.4L766.9,617.9L769.3,618.8L771.4,620.0L773.8,620.9L776.0,622.1L777.8,624.1L779.9,625.6L782.3,626.4L784.5,627.5L786.8,628.6L789.4,629.1L791.7,630.1L793.5,632.0L795.6,633.5L797.9,634.6L799.9,636.1L802.2,637.2L804.8,637.6L807.2,638.5L809.2,640.0L811.4,641.3L813.5,642.6L815.4,644.4L817.6,645.7L820.2,646.2L822.6,647.1L824.7,648.3L827.1,649.2L829.3,650.5L831.1,652.5L833.2,653.9L835.6,654.7L837.8,655.8L840.1,656.8L842.7,657.4L844.9,658.5L846.8,660.4L848.9,661.8L851.1,663.0L853.2,664.4M745.5,609.8L747.8,610.8L750.5,611.2L752.8,612.2L754.8,613.9L756.9,615.2L759.1,616.5L761.0,618.3L763.2,619.4L765.9,619.8L768.2,620.8L770.3,622.1L772.7,623.0L774.8,624.4L776.6,626.4L778.7,627.7L781.2,628.4L783.5,629.5L785.8,630.5L788.3,631.1L790.5,632.4L792.3,634.3L794.4,635.7L796.7,636.8L798.8,638.2L801.2,639.1L803.8,639.5L806.1,640.6L808.0,642.3L810.2,643.5L812.3,644.9L814.2,646.6L816.5,647.7L819.2,648.1L821.5,649.1L823.6,650.4L826.0,651.4L828.0,652.8L829.8,654.8L832.0,656.0L834.5,656.7L836.8,657.8L839.1,658.8L841.6,659.4L843.7,660.8L845.6,662.7L847.7,664.0L850.0,665.1L852.1,666.5M744.9,611.0L747.3,611.9L749.9,612.3L752.1,613.5L754.0,615.3L756.2,616.5L758.3,617.9L760.3,619.5L762.7,620.4L765.3,620.8L767.6,621.9L769.7,623.3L772.0,624.3L774.0,625.8L775.9,627.8L778.1,628.9L780.7,629.5L782.9,630.6L785.2,631.6L787.7,632.3L789.7,633.8L791.5,635.8L793.7,637.0L796.1,638.0L798.2,639.3L800.6,640.1L803.2,640.6L805.4,641.9L807.3,643.6L809.5,644.9L811.6,646.2L813.6,647.9L816.0,648.7L818.6,649.1L820.9,650.2L823.0,651.6L825.3,652.7L827.3,654.2L829.1,656.1L831.4,657.2L834.0,657.7L836.2,658.9L838.5,659.9L841.0,660.6L843.0,662.2L844.8,664.1L847.0,665.3L849.3,666.3L851.5,667.6M743.9,612.9L746.3,613.6L748.9,614.2L751.0,615.6L752.9,617.4L755.1,618.6L757.2,620.0L759.3,621.5L761.7,622.2L764.3,622.6L766.5,623.9L768.6,625.4L770.9,626.5L772.9,628.1L774.7,629.9L777.1,630.7L779.7,631.3L781.9,632.5L784.2,633.5L786.6,634.3L788.6,636.0L790.4,637.9L792.7,639.0L795.0,639.9L797.2,641.2L799.7,641.9L802.2,642.5L804.2,644.0L806.1,645.8L808.3,647.0L810.5,648.3L812.6,649.8L815.0,650.5L817.6,650.9L819.8,652.2L821.9,653.7L824.1,654.8L826.1,656.5L828.0,658.2L830.4,659.0L833.0,659.6L835.2,660.8L837.5,661.8L839.9,662.7L841.8,664.4L843.6,666.3L846.0,667.3L848.3,668.2L850.5,669.5M743.3,614.1L745.7,614.8L748.2,615.5L750.2,617.1L752.1,618.9L754.3,620.1L756.5,621.3L758.6,622.7L761.1,623.3L763.7,623.8L765.8,625.3L767.8,626.8L770.1,627.9L772.1,629.6L774.0,631.2L776.5,631.9L779.1,632.5L781.2,633.7L783.5,634.8L785.8,635.8L787.7,637.6L789.6,639.4L792.0,640.3L794.4,641.1L796.6,642.3L799.0,643.1L801.5,643.8L803.4,645.5L805.3,647.3L807.6,648.4L809.8,649.7L811.9,651.0L814.5,651.6L817.0,652.1L819.1,653.6L821.1,655.1L823.3,656.3L825.3,658.0L827.3,659.5L829.8,660.1L832.4,660.7L834.5,662.0L836.8,663.1L839.1,664.2L841.0,666.0L842.9,667.7L845.3,668.6L847.7,669.4L849.9,670.6M742.4,615.7L744.8,616.5L747.2,617.4L749.1,619.2L751.0,620.9L753.3,622.0L755.5,623.2L757.7,624.4L760.3,624.9L762.8,625.6L764.8,627.2L766.8,628.8L769.0,629.9L771.0,631.5L773.1,633.0L775.6,633.5L778.2,634.1L780.3,635.5L782.5,636.6L784.8,637.8L786.6,639.6L788.6,641.3L791.1,642.0L793.5,642.8L795.7,644.0L798.1,644.8L800.5,645.7L802.3,647.6L804.3,649.3L806.6,650.3L808.8,651.5L811.0,652.7L813.6,653.2L816.1,653.9L818.0,655.6L820.1,657.1L822.3,658.3L824.3,659.9L826.4,661.3L829.0,661.8L831.5,662.4L833.6,663.8L835.8,665.0L838.0,666.2L839.9,668.0L841.9,669.6L844.4,670.3L846.8,671.1L849.0,672.3M741.6,617.2L744.0,618.0L746.3,619.0L748.1,621.0L750.1,622.6L752.5,623.5L754.7,624.7L757.0,625.8L759.5,626.3L761.9,627.2L763.8,628.9L765.9,630.5L768.1,631.6L770.1,633.2L772.3,634.4L774.9,634.8L777.4,635.6L779.5,637.1L781.7,638.3L783.9,639.5L785.7,641.4L787.8,642.8L790.3,643.4L792.7,644.3L794.9,645.5L797.3,646.3L799.6,647.4L801.4,649.4L803.4,651.0L805.8,651.8L808.0,653.0L810.3,654.1L812.9,654.6L815.2,655.5L817.1,657.3L819.1,658.8L821.4,660.0L823.4,661.5L825.6,662.7L828.3,663.1L830.7,663.9L832.7,665.4L834.9,666.6L837.1,667.9L839.0,669.8L841.1,671.2L843.6,671.7L846.0,672.6L848.2,673.8M741.0,618.3L743.4,619.2L745.6,620.4L747.4,622.4L749.5,623.9L751.9,624.7L754.1,625.8L756.4,626.8L759.0,627.3L761.3,628.4L763.1,630.3L765.2,631.8L767.4,632.9L769.5,634.4L771.8,635.5L774.4,635.8L776.8,636.7L778.8,638.3L781.0,639.6L783.1,640.9L785.0,642.7L787.2,644.0L789.8,644.4L792.1,645.3L794.3,646.6L796.7,647.5L798.8,648.8L800.6,650.8L802.7,652.2L805.2,652.9L807.4,654.1L809.7,655.1L812.3,655.6L814.5,656.8L816.4,658.7L818.4,660.1L820.7,661.2L822.8,662.7L825.1,663.7L827.7,664.1L830.1,665.1L832.0,666.7L834.2,667.9L836.4,669.3L838.2,671.1L840.5,672.2L843.1,672.7L845.4,673.6L847.6,674.9M740.1,620.0L742.4,621.0L744.5,622.4L746.3,624.4L748.5,625.7L751.0,626.3L753.3,627.4L755.6,628.5L758.1,629.1L760.2,630.4L762.0,632.3L764.2,633.7L766.5,634.7L768.6,636.1L770.9,637.0L773.6,637.4L775.8,638.6L777.8,640.3L779.9,641.5L782.1,642.9L784.0,644.6L786.3,645.6L788.9,646.0L791.2,647.0L793.4,648.4L795.7,649.3L797.8,650.8L799.6,652.8L801.8,654.0L804.3,654.6L806.5,655.7L808.9,656.7L811.4,657.4L813.5,658.8L815.3,660.7L817.4,662.0L819.7,663.1L821.9,664.4L824.2,665.3L826.9,665.7L829.1,666.9L831.0,668.6L833.2,669.9L835.3,671.2L837.3,673.0L839.6,673.9L842.3,674.3L844.5,675.4L846.7,676.7M739.2,621.8L741.4,622.9L743.5,624.4L745.3,626.3L747.6,627.4L750.1,628.0L752.4,629.1L754.7,630.1L757.2,630.8L759.2,632.3L761.0,634.3L763.2,635.5L765.5,636.5L767.7,637.8L770.1,638.6L772.7,639.1L774.8,640.4L776.7,642.2L778.9,643.4L781.1,644.8L783.0,646.4L785.5,647.2L788.1,647.6L790.3,648.8L792.4,650.2L794.7,651.2L796.7,652.8L798.6,654.7L800.9,655.6L803.4,656.2L805.7,657.4L808.0,658.4L810.4,659.1L812.4,660.7L814.2,662.7L816.5,663.8L818.8,664.8L821.0,666.1L823.4,666.9L826.0,667.4L828.1,668.8L830.0,670.6L832.2,671.8L834.3,673.1L836.3,674.7L838.8,675.4L841.4,675.9L843.6,677.1L845.7,678.5" stroke="#000" stroke-width="0.85" fill="none"/></g>
<polygon points="765.9,627.3 863.5,577.9 864.8,584.2 769.7,636.2" fill="none" stroke="#000" stroke-width="1.3" stroke-linejoin="round" />
<polyline points="767.0,632.0 864.0,581.0" fill="none" stroke="#000" stroke-width="1" stroke-linejoin="round" stroke-linecap="round" />
<clipPath id="c38"><polygon points="850.1,615.4 944.0,560.8 950.0,561.0 968.4,574.3 971.3,580.0 971.3,641.3 874.2,692.7 868.5,690.8 866.6,639.4 851.4,625.1"/></clipPath>
<polygon points="850.1,615.4 944.0,560.8 950.0,561.0 968.4,574.3 971.3,580.0 971.3,641.3 874.2,692.7 868.5,690.8 866.6,639.4 851.4,625.1" fill="#fff" stroke="none"/>
<g clip-path="url(#c38)"><path d="M798.8,577.2L953.7,512.2M800.0,580.3L955.0,515.2M801.3,583.3L956.3,518.2M802.6,586.4L957.5,521.3M803.9,589.4L958.8,524.3M805.2,592.4L960.1,527.4M806.4,595.5L961.4,530.4M807.7,598.5L962.7,533.4M809.0,601.6L963.9,536.5M810.3,604.6L965.2,539.5M811.5,607.7L966.5,542.6M812.8,610.7L967.8,545.6M814.1,613.7L969.0,548.7M815.4,616.8L970.3,551.7M816.7,619.8L971.6,554.7M817.9,622.9L972.9,557.8M819.2,625.9L974.2,560.8M820.5,629.0L975.4,563.9M821.8,632.0L976.7,566.9M823.0,635.0L978.0,570.0M824.3,638.1L979.3,573.0M825.6,641.1L980.5,576.0M826.9,644.2L981.8,579.1M828.2,647.2L983.1,582.1M829.4,650.2L984.4,585.2M830.7,653.3L985.7,588.2M832.0,656.3L986.9,591.3M833.3,659.4L988.2,594.3M834.5,662.4L989.5,597.3M835.8,665.5L990.8,600.4M837.1,668.5L992.0,603.4M838.4,671.5L993.3,606.5M839.7,674.6L994.6,609.5M840.9,677.6L995.9,612.6M842.2,680.7L997.2,615.6M843.5,683.7L998.4,618.6M844.8,686.8L999.7,621.7M846.0,689.8L1001.0,624.7M847.3,692.8L1002.3,627.8M848.6,695.9L1003.5,630.8M849.9,698.9L1004.8,633.9M851.2,702.0L1006.1,636.9M852.4,705.0L1007.4,639.9M853.7,708.1L1008.7,643.0M855.0,711.1L1009.9,646.0M856.3,714.1L1011.2,649.1M857.5,717.2L1012.5,652.1M858.8,720.2L1013.8,655.1M860.1,723.3L1015.0,658.2M861.4,726.3L1016.3,661.2M862.7,729.4L1017.6,664.3M863.9,732.4L1018.9,667.3M865.2,735.4L1020.2,670.4M866.5,738.5L1021.4,673.4" stroke="#000" stroke-width="0.55" fill="none"/></g>
<polygon points="850.1,615.4 944.0,560.8 950.0,561.0 968.4,574.3 971.3,580.0 971.3,641.3 874.2,692.7 868.5,690.8 866.6,639.4 851.4,625.1" fill="none" stroke="#000" stroke-width="1.7" stroke-linejoin="round" />
<path d="M858,611.6 L940,565.5 Q943,564 946,565.5 L961,573.6 Q963,575.5 960,577 L876,625.5 Q873,627 870,625.5 L856.5,617 Q854,614 858,611.6 Z" fill="#fff" stroke="#000" stroke-width="1.4" stroke-linejoin="round" fill-opacity="0.5"/>
<path d="M862,612.5 L941,568 L957,575.5 L875,622.5 Z" fill="none" stroke="#000" stroke-width="0.8" stroke-linejoin="round" />
<polyline points="850.1,615.4 872.0,627.0 873.3,629.9 971.3,577.0" fill="none" stroke="#000" stroke-width="1.5" stroke-linejoin="round" stroke-linecap="round" />
<polyline points="873.3,629.9 874.2,692.7" fill="none" stroke="#000" stroke-width="1.5" stroke-linejoin="round" stroke-linecap="round" />
<polyline points="877.0,630.0 969.0,580.0" fill="none" stroke="#000" stroke-width="0.8" stroke-linejoin="round" stroke-linecap="round" />
<polyline points="881.0,602.6 892.6,610.3" fill="none" stroke="#000" stroke-width="1.1" stroke-linejoin="round" stroke-linecap="round" />
<polyline points="920.9,580.7 932.4,587.1" fill="none" stroke="#000" stroke-width="1.1" stroke-linejoin="round" stroke-linecap="round" />
<polyline points="935.0,570.4 946.6,577.5" fill="none" stroke="#000" stroke-width="1.1" stroke-linejoin="round" stroke-linecap="round" />
<ellipse cx="883" cy="611" rx="1.4" ry="1.1" transform="rotate(0 883 611)" fill="#000" stroke="none" stroke-width="1"/>
<ellipse cx="924" cy="586" rx="1.4" ry="1.1" transform="rotate(0 924 586)" fill="#000" stroke="none" stroke-width="1"/>
<ellipse cx="933" cy="577" rx="1.4" ry="1.1" transform="rotate(0 933 577)" fill="#000" stroke="none" stroke-width="1"/>
<polyline points="879.0,633.7 922.0,636.0 965.5,634.7" fill="none" stroke="#000" stroke-width="2.2" stroke-linejoin="round" stroke-linecap="round" />
<polyline points="880.0,633.7 922.0,635.8 964.5,634.7" fill="none" stroke="#fff" stroke-width="0.7" stroke-linejoin="round" stroke-linecap="round" />
<polyline points="967.2,584.6 881.0,686.0" fill="none" stroke="#000" stroke-width="2.2" stroke-linejoin="round" stroke-linecap="round" />
<polyline points="966.5,585.6 881.8,685.3" fill="none" stroke="#fff" stroke-width="0.7" stroke-linejoin="round" stroke-linecap="round" />
<ellipse cx="922" cy="636" rx="5" ry="2.5" transform="rotate(-10 922 636)" fill="#fff" stroke="#000" stroke-width="1.3"/>
<polyline points="896.7,677.3 898.2,687.9 904.2,690.9 904.2,697.0" fill="none" stroke="#000" stroke-width="2.4" stroke-linejoin="round" stroke-linecap="round" />
<polyline points="946.7,645.5 948.2,657.6 954.2,660.6 955.8,666.7" fill="none" stroke="#000" stroke-width="2.4" stroke-linejoin="round" stroke-linecap="round" />
<ellipse cx="860.5" cy="632" rx="2.8" ry="2.6" transform="rotate(0 860.5 632)" fill="#333" stroke="#000" stroke-width="1"/>
<clipPath id="c39"><polygon points="889.0,563.0 899.0,558.5 905.0,562.5 912.0,560.5 916.0,566.0 906.0,574.0 903.5,581.0 898.0,574.0 890.0,569.0"/></clipPath>
<polygon points="889.0,563.0 899.0,558.5 905.0,562.5 912.0,560.5 916.0,566.0 906.0,574.0 903.5,581.0 898.0,574.0 890.0,569.0" fill="#fff" stroke="none"/>
<g clip-path="url(#c39)"><path d="M905.9,540.7L931.7,571.6M904.2,542.1L930.0,573.0M902.6,543.5L928.3,574.4M900.9,544.9L926.6,575.8M899.2,546.4L924.9,577.2M897.5,547.8L923.2,578.6M895.8,549.2L921.5,580.1M894.1,550.6L919.8,581.5M892.4,552.0L918.2,582.9M890.7,553.4L916.5,584.3M889.0,554.8L914.8,585.7M887.3,556.2L913.1,587.1M885.7,557.6L911.4,588.5M884.0,559.0L909.7,589.9M882.3,560.4L908.0,591.3M880.6,561.8L906.3,592.7M878.9,563.3L904.6,594.1M877.2,564.7L902.9,595.5M875.5,566.1L901.3,597.0" stroke="#000" stroke-width="0.9" fill="none"/></g>
<polygon points="889.0,563.0 899.0,558.5 905.0,562.5 912.0,560.5 916.0,566.0 906.0,574.0 903.5,581.0 898.0,574.0 890.0,569.0" fill="none" stroke="#000" stroke-width="1.4" stroke-linejoin="round" />
<ellipse cx="898" cy="566" rx="2" ry="1.6" transform="rotate(0 898 566)" fill="#000" stroke="none" stroke-width="1"/>
<ellipse cx="909" cy="564" rx="2" ry="1.6" transform="rotate(0 909 564)" fill="#000" stroke="none" stroke-width="1"/>
<polygon points="932.8,528.0 937.4,528.0 937.4,543.0 932.8,543.0" fill="#fff" stroke="#000" stroke-width="1.5" stroke-linejoin="round" />
<polyline points="933.3,531.0 936.9,532.0" fill="none" stroke="#000" stroke-width="0.9" stroke-linejoin="round" stroke-linecap="round" />
<polyline points="933.3,534.0 936.9,535.0" fill="none" stroke="#000" stroke-width="0.9" stroke-linejoin="round" stroke-linecap="round" />
<polyline points="933.3,537.0 936.9,538.0" fill="none" stroke="#000" stroke-width="0.9" stroke-linejoin="round" stroke-linecap="round" />
<polyline points="933.3,540.0 936.9,541.0" fill="none" stroke="#000" stroke-width="0.9" stroke-linejoin="round" stroke-linecap="round" />
<ellipse cx="935" cy="527.5" rx="3.2" ry="2.1" transform="rotate(0 935 527.5)" fill="#fff" stroke="#000" stroke-width="1.4"/>
<ellipse cx="935.2" cy="544.5" rx="3.3" ry="2.2" transform="rotate(0 935.2 544.5)" fill="#333" stroke="#000" stroke-width="1"/>
<ellipse cx="935.2" cy="552.8" rx="3.3" ry="2.9" transform="rotate(0 935.2 552.8)" fill="#1a1a1a" stroke="#000" stroke-width="1"/>
<path d="M166,393 C165,337 190,325 240,325 C292,325 316,337 316,393 C316,450 292,463 240,463 C190,463 165,450 166,393 Z" fill="none" stroke="#a6a6a6" stroke-width="1" stroke-linejoin="round" />
<path d="M190.4,366.6 L205,364.7 C232,362.5 244,366 247,377 L248.4,384 L248.4,419 L213,422.7 C197,422.7 188.5,417 188.5,404 C188.5,390 197,384.5 214,384.5 L228.4,384.5 C228.4,381.8 224,381.8 216,381.8 L193.3,381.8 Z M210,398 L228.5,398 L228.5,408.4 L210,408.4 C207,408.4 207,398 210,398 Z" fill="none" stroke="#a6a6a6" stroke-width="1" stroke-linejoin="round" />
<path d="M256.9,375.1 L265.5,365.6 L297.8,392.2 L266.5,422.7 L256.9,413.2 L276,394.1 Z" fill="none" stroke="#a6a6a6" stroke-width="1" stroke-linejoin="round" />
<text font-family="Liberation Sans, sans-serif" font-weight="bold" font-size="80" fill="none" stroke="#a6a6a6" stroke-width="0.9" transform="scale(1.15,1)" x="292.8 331.5 374.0 397.1 439.7 463.2 509.9 529.2 553.9 597.8 631.2 660.0 691.2" y="416.5">auto-piter.ru</text>
<defs><pattern id="w1" patternUnits="userSpaceOnUse" width="70" height="40" patternTransform="rotate(40)"><rect width="70" height="40" fill="#fff"/><path d="M0.0,7.6 L1.8,7.9 L3.5,7.9 L5.2,7.7 L7.0,7.3 L8.8,6.8 L10.5,6.2 L12.2,5.6 L14.0,5.0 L15.8,4.4 L17.5,4.0 L19.2,3.6 L21.0,3.3 L22.8,3.1 L24.5,2.9 L26.2,2.8 L28.0,2.7 L29.8,2.5 L31.5,2.2 L33.2,1.8 L35.0,1.4 L36.8,0.9 L38.5,0.3 L40.2,-0.4 L42.0,-1.0 L43.8,-1.5 L45.5,-1.9 L47.2,-2.2 L49.0,-2.2 L50.8,-2.0 L52.5,-1.6 L54.2,-0.9 L56.0,-0.0 L57.8,1.0 L59.5,2.1 L61.2,3.3 L63.0,4.4 L64.8,5.5 L66.5,6.4 L68.2,7.1 L70.0,7.6" fill="none" stroke="#000" stroke-width="0.6"/><path d="M0.0,5.7 L1.8,5.4 L3.5,5.3 L5.2,5.3 L7.0,5.4 L8.8,5.7 L10.5,6.2 L12.2,6.8 L14.0,7.5 L15.8,8.2 L17.5,9.0 L19.2,9.7 L21.0,10.4 L22.8,11.0 L24.5,11.4 L26.2,11.7 L28.0,11.9 L29.8,11.9 L31.5,11.7 L33.2,11.4 L35.0,11.1 L36.8,10.7 L38.5,10.3 L40.2,9.9 L42.0,9.6 L43.8,9.3 L45.5,9.0 L47.2,8.8 L49.0,8.7 L50.8,8.6 L52.5,8.5 L54.2,8.4 L56.0,8.3 L57.8,8.1 L59.5,7.9 L61.2,7.6 L63.0,7.2 L64.8,6.8 L66.5,6.4 L68.2,6.0 L70.0,5.7" fill="none" stroke="#000" stroke-width="0.6"/><path d="M0.0,14.3 L1.8,14.2 L3.5,14.1 L5.2,13.9 L7.0,13.7 L8.8,13.4 L10.5,13.0 L12.2,12.6 L14.0,12.1 L15.8,11.6 L17.5,11.2 L19.2,10.8 L21.0,10.5 L22.8,10.4 L24.5,10.4 L26.2,10.7 L28.0,11.1 L29.8,11.7 L31.5,12.4 L33.2,13.2 L35.0,14.1 L36.8,15.0 L38.5,15.9 L40.2,16.6 L42.0,17.3 L43.8,17.8 L45.5,18.1 L47.2,18.2 L49.0,18.1 L50.8,17.9 L52.5,17.6 L54.2,17.1 L56.0,16.7 L57.8,16.2 L59.5,15.7 L61.2,15.3 L63.0,15.0 L64.8,14.7 L66.5,14.6 L68.2,14.4 L70.0,14.3" fill="none" stroke="#000" stroke-width="0.6"/><path d="M0.0,18.2 L1.8,17.7 L3.5,17.1 L5.2,16.5 L7.0,15.9 L8.8,15.5 L10.5,15.2 L12.2,15.1 L14.0,15.2 L15.8,15.6 L17.5,16.1 L19.2,16.9 L21.0,17.9 L22.8,18.9 L24.5,20.1 L26.2,21.2 L28.0,22.2 L29.8,23.2 L31.5,23.9 L33.2,24.5 L35.0,24.8 L36.8,24.9 L38.5,24.8 L40.2,24.5 L42.0,24.0 L43.8,23.5 L45.5,22.9 L47.2,22.3 L49.0,21.7 L50.8,21.2 L52.5,20.8 L54.2,20.5 L56.0,20.3 L57.8,20.1 L59.5,20.0 L61.2,19.9 L63.0,19.7 L64.8,19.5 L66.5,19.1 L68.2,18.7 L70.0,18.2" fill="none" stroke="#000" stroke-width="0.6"/><path d="M0.0,27.7 L1.8,28.1 L3.5,28.3 L5.2,28.3 L7.0,28.3 L8.8,28.2 L10.5,27.9 L12.2,27.7 L14.0,27.3 L15.8,27.0 L17.5,26.7 L19.2,26.4 L21.0,26.2 L22.8,26.0 L24.5,25.9 L26.2,25.8 L28.0,25.7 L29.8,25.7 L31.5,25.6 L33.2,25.5 L35.0,25.3 L36.8,25.1 L38.5,24.9 L40.2,24.6 L42.0,24.2 L43.8,23.9 L45.5,23.6 L47.2,23.4 L49.0,23.2 L50.8,23.1 L52.5,23.1 L54.2,23.3 L56.0,23.5 L57.8,23.9 L59.5,24.4 L61.2,25.0 L63.0,25.6 L64.8,26.2 L66.5,26.8 L68.2,27.3 L70.0,27.7" fill="none" stroke="#000" stroke-width="0.6"/><path d="M0.0,27.6 L1.8,27.8 L3.5,28.1 L5.2,28.6 L7.0,29.3 L8.8,30.0 L10.5,30.9 L12.2,31.8 L14.0,32.7 L15.8,33.5 L17.5,34.2 L19.2,34.7 L21.0,35.1 L22.8,35.2 L24.5,35.2 L26.2,35.1 L28.0,34.8 L29.8,34.4 L31.5,34.0 L33.2,33.5 L35.0,33.0 L36.8,32.6 L38.5,32.3 L40.2,32.0 L42.0,31.8 L43.8,31.6 L45.5,31.5 L47.2,31.4 L49.0,31.3 L50.8,31.1 L52.5,30.9 L54.2,30.7 L56.0,30.3 L57.8,29.9 L59.5,29.4 L61.2,29.0 L63.0,28.5 L64.8,28.1 L66.5,27.8 L68.2,27.6 L70.0,27.6" fill="none" stroke="#000" stroke-width="0.6"/><path d="M0.0,34.9 L1.8,34.7 L3.5,34.6 L5.2,34.6 L7.0,34.7 L8.8,34.9 L10.5,35.3 L12.2,35.7 L14.0,36.3 L15.8,36.8 L17.5,37.4 L19.2,38.0 L21.0,38.5 L22.8,39.0 L24.5,39.3 L26.2,39.6 L28.0,39.7 L29.8,39.7 L31.5,39.6 L33.2,39.4 L35.0,39.1 L36.8,38.8 L38.5,38.5 L40.2,38.2 L42.0,37.9 L43.8,37.7 L45.5,37.5 L47.2,37.4 L49.0,37.3 L50.8,37.2 L52.5,37.1 L54.2,37.0 L56.0,36.9 L57.8,36.8 L59.5,36.6 L61.2,36.4 L63.0,36.1 L64.8,35.8 L66.5,35.5 L68.2,35.2 L70.0,34.9" fill="none" stroke="#000" stroke-width="0.6"/></pattern><pattern id="w2" patternUnits="userSpaceOnUse" width="50" height="36" patternTransform="rotate(75)"><rect width="50" height="36" fill="#fff"/><path d="M0.0,1.2 L1.2,2.2 L2.5,3.2 L3.8,4.3 L5.0,5.3 L6.2,6.1 L7.5,6.8 L8.8,7.3 L10.0,7.5 L11.2,7.6 L12.5,7.4 L13.8,7.1 L15.0,6.7 L16.2,6.2 L17.5,5.6 L18.8,5.0 L20.0,4.5 L21.2,4.1 L22.5,3.7 L23.8,3.4 L25.0,3.2 L26.2,3.1 L27.5,3.0 L28.8,2.8 L30.0,2.7 L31.2,2.4 L32.5,2.1 L33.8,1.7 L35.0,1.3 L36.2,0.7 L37.5,0.2 L38.8,-0.4 L40.0,-0.9 L41.2,-1.3 L42.5,-1.5 L43.8,-1.6 L45.0,-1.5 L46.2,-1.1 L47.5,-0.5 L48.8,0.2 L50.0,1.2" fill="none" stroke="#000" stroke-width="0.6"/><path d="M0.0,10.2 L1.2,10.6 L2.5,11.0 L3.8,11.2 L5.0,11.4 L6.2,11.4 L7.5,11.3 L8.8,11.1 L10.0,10.9 L11.2,10.6 L12.5,10.3 L13.8,10.0 L15.0,9.8 L16.2,9.6 L17.5,9.4 L18.8,9.2 L20.0,9.1 L21.2,9.0 L22.5,9.0 L23.8,8.9 L25.0,8.8 L26.2,8.7 L27.5,8.5 L28.8,8.3 L30.0,8.1 L31.2,7.8 L32.5,7.5 L33.8,7.2 L35.0,7.0 L36.2,6.8 L37.5,6.6 L38.8,6.6 L40.0,6.7 L41.2,6.9 L42.5,7.2 L43.8,7.6 L45.0,8.1 L46.2,8.6 L47.5,9.1 L48.8,9.7 L50.0,10.2" fill="none" stroke="#000" stroke-width="0.6"/><path d="M0.0,10.9 L1.2,11.1 L2.5,11.5 L3.8,12.0 L5.0,12.7 L6.2,13.5 L7.5,14.4 L8.8,15.4 L10.0,16.3 L11.2,17.2 L12.5,17.9 L13.8,18.4 L15.0,18.8 L16.2,19.0 L17.5,19.0 L18.8,18.9 L20.0,18.6 L21.2,18.2 L22.5,17.7 L23.8,17.2 L25.0,16.7 L26.2,16.3 L27.5,15.9 L28.8,15.6 L30.0,15.4 L31.2,15.2 L32.5,15.1 L33.8,15.0 L35.0,14.8 L36.2,14.7 L37.5,14.5 L38.8,14.2 L40.0,13.8 L41.2,13.4 L42.5,12.9 L43.8,12.4 L45.0,11.9 L46.2,11.5 L47.5,11.2 L48.8,11.0 L50.0,10.9" fill="none" stroke="#000" stroke-width="0.6"/><path d="M0.0,19.7 L1.2,19.3 L2.5,19.0 L3.8,18.6 L5.0,18.3 L6.2,18.1 L7.5,18.0 L8.8,18.1 L10.0,18.2 L11.2,18.5 L12.5,19.0 L13.8,19.5 L15.0,20.2 L16.2,20.8 L17.5,21.5 L18.8,22.2 L20.0,22.8 L21.2,23.3 L22.5,23.6 L23.8,23.9 L25.0,24.0 L26.2,23.9 L27.5,23.8 L28.8,23.5 L30.0,23.2 L31.2,22.8 L32.5,22.5 L33.8,22.1 L35.0,21.8 L36.2,21.6 L37.5,21.4 L38.8,21.2 L40.0,21.1 L41.2,21.0 L42.5,20.9 L43.8,20.8 L45.0,20.7 L46.2,20.5 L47.5,20.3 L48.8,20.0 L50.0,19.7" fill="none" stroke="#000" stroke-width="0.6"/><path d="M0.0,26.3 L1.2,26.0 L2.5,25.6 L3.8,25.2 L5.0,24.7 L6.2,24.2 L7.5,23.8 L8.8,23.5 L10.0,23.3 L11.2,23.3 L12.5,23.4 L13.8,23.7 L15.0,24.1 L16.2,24.8 L17.5,25.5 L18.8,26.3 L20.0,27.2 L21.2,28.0 L22.5,28.8 L23.8,29.5 L25.0,30.1 L26.2,30.5 L27.5,30.7 L28.8,30.7 L30.0,30.6 L31.2,30.3 L32.5,30.0 L33.8,29.6 L35.0,29.1 L36.2,28.6 L37.5,28.2 L38.8,27.9 L40.0,27.6 L41.2,27.4 L42.5,27.2 L43.8,27.1 L45.0,27.0 L46.2,26.9 L47.5,26.7 L48.8,26.6 L50.0,26.3" fill="none" stroke="#000" stroke-width="0.6"/><path d="M0.0,32.7 L1.2,32.5 L2.5,32.3 L3.8,32.0 L5.0,31.7 L6.2,31.4 L7.5,31.1 L8.8,30.8 L10.0,30.6 L11.2,30.4 L12.5,30.4 L13.8,30.5 L15.0,30.7 L16.2,31.0 L17.5,31.5 L18.8,32.0 L20.0,32.5 L21.2,33.1 L22.5,33.7 L23.8,34.3 L25.0,34.8 L26.2,35.1 L27.5,35.4 L28.8,35.6 L30.0,35.6 L31.2,35.5 L32.5,35.3 L33.8,35.1 L35.0,34.8 L36.2,34.5 L37.5,34.1 L38.8,33.8 L40.0,33.6 L41.2,33.4 L42.5,33.2 L43.8,33.1 L45.0,33.1 L46.2,33.0 L47.5,32.9 L48.8,32.8 L50.0,32.7" fill="none" stroke="#000" stroke-width="0.6"/></pattern><pattern id="w3" patternUnits="userSpaceOnUse" width="40" height="12" patternTransform="rotate(28)"><rect width="40" height="12" fill="#fff"/><path d="M0.0,2.2 L1.0,2.1 L2.0,2.0 L3.0,1.8 L4.0,1.7 L5.0,1.6 L6.0,1.4 L7.0,1.4 L8.0,1.3 L9.0,1.3 L10.0,1.2 L11.0,1.2 L12.0,1.1 L13.0,1.1 L14.0,1.0 L15.0,0.9 L16.0,0.8 L17.0,0.7 L18.0,0.6 L19.0,0.4 L20.0,0.3 L21.0,0.2 L22.0,0.1 L23.0,0.0 L24.0,0.0 L25.0,0.1 L26.0,0.2 L27.0,0.3 L28.0,0.6 L29.0,0.8 L30.0,1.1 L31.0,1.3 L32.0,1.6 L33.0,1.9 L34.0,2.1 L35.0,2.2 L36.0,2.3 L37.0,2.4 L38.0,2.4 L39.0,2.3 L40.0,2.2" fill="none" stroke="#000" stroke-width="0.9"/><path d="M0.0,3.9 L1.0,3.8 L2.0,3.7 L3.0,3.7 L4.0,3.6 L5.0,3.6 L6.0,3.6 L7.0,3.5 L8.0,3.5 L9.0,3.4 L10.0,3.3 L11.0,3.2 L12.0,3.1 L13.0,2.9 L14.0,2.7 L15.0,2.6 L16.0,2.5 L17.0,2.4 L18.0,2.4 L19.0,2.4 L20.0,2.4 L21.0,2.6 L22.0,2.8 L23.0,3.0 L24.0,3.3 L25.0,3.5 L26.0,3.8 L27.0,4.1 L28.0,4.3 L29.0,4.6 L30.0,4.7 L31.0,4.8 L32.0,4.8 L33.0,4.8 L34.0,4.8 L35.0,4.6 L36.0,4.5 L37.0,4.4 L38.0,4.2 L39.0,4.1 L40.0,3.9" fill="none" stroke="#000" stroke-width="0.9"/><path d="M0.0,5.8 L1.0,5.7 L2.0,5.6 L3.0,5.5 L4.0,5.4 L5.0,5.4 L6.0,5.3 L7.0,5.2 L8.0,5.2 L9.0,5.2 L10.0,5.3 L11.0,5.4 L12.0,5.5 L13.0,5.7 L14.0,5.8 L15.0,6.0 L16.0,6.2 L17.0,6.4 L18.0,6.5 L19.0,6.6 L20.0,6.7 L21.0,6.8 L22.0,6.8 L23.0,6.8 L24.0,6.7 L25.0,6.6 L26.0,6.6 L27.0,6.5 L28.0,6.4 L29.0,6.3 L30.0,6.2 L31.0,6.1 L32.0,6.1 L33.0,6.0 L34.0,6.0 L35.0,6.0 L36.0,6.0 L37.0,6.0 L38.0,5.9 L39.0,5.9 L40.0,5.8" fill="none" stroke="#000" stroke-width="0.9"/><path d="M0.0,8.6 L1.0,8.9 L2.0,9.2 L3.0,9.4 L4.0,9.6 L5.0,9.8 L6.0,9.8 L7.0,9.8 L8.0,9.8 L9.0,9.7 L10.0,9.5 L11.0,9.3 L12.0,9.2 L13.0,9.0 L14.0,8.8 L15.0,8.7 L16.0,8.6 L17.0,8.5 L18.0,8.5 L19.0,8.4 L20.0,8.4 L21.0,8.3 L22.0,8.3 L23.0,8.2 L24.0,8.1 L25.0,8.0 L26.0,7.8 L27.0,7.6 L28.0,7.5 L29.0,7.3 L30.0,7.1 L31.0,7.0 L32.0,7.0 L33.0,7.0 L34.0,7.0 L35.0,7.2 L36.0,7.4 L37.0,7.6 L38.0,7.9 L39.0,8.2 L40.0,8.6" fill="none" stroke="#000" stroke-width="0.9"/><path d="M0.0,11.5 L1.0,11.4 L2.0,11.3 L3.0,11.2 L4.0,11.1 L5.0,11.0 L6.0,10.9 L7.0,10.9 L8.0,10.8 L9.0,10.8 L10.0,10.8 L11.0,10.8 L12.0,10.7 L13.0,10.7 L14.0,10.6 L15.0,10.5 L16.0,10.4 L17.0,10.3 L18.0,10.2 L19.0,10.1 L20.0,10.0 L21.0,9.9 L22.0,9.9 L23.0,9.9 L24.0,9.9 L25.0,10.0 L26.0,10.1 L27.0,10.3 L28.0,10.5 L29.0,10.7 L30.0,10.9 L31.0,11.1 L32.0,11.3 L33.0,11.5 L34.0,11.6 L35.0,11.7 L36.0,11.7 L37.0,11.7 L38.0,11.7 L39.0,11.6 L40.0,11.5" fill="none" stroke="#000" stroke-width="0.9"/></pattern><pattern id="w4" patternUnits="userSpaceOnUse" width="60" height="42" patternTransform="rotate(30)"><rect width="60" height="42" fill="#fff"/><path d="M0.0,5.9 L1.5,5.5 L3.0,5.2 L4.5,4.7 L6.0,4.4 L7.5,4.0 L9.0,3.7 L10.5,3.5 L12.0,3.3 L13.5,3.1 L15.0,3.0 L16.5,3.0 L18.0,2.9 L19.5,2.7 L21.0,2.6 L22.5,2.3 L24.0,2.0 L25.5,1.7 L27.0,1.3 L28.5,0.9 L30.0,0.5 L31.5,0.2 L33.0,-0.1 L34.5,-0.2 L36.0,-0.3 L37.5,-0.1 L39.0,0.2 L40.5,0.6 L42.0,1.2 L43.5,1.8 L45.0,2.6 L46.5,3.3 L48.0,4.1 L49.5,4.7 L51.0,5.3 L52.5,5.8 L54.0,6.1 L55.5,6.2 L57.0,6.2 L58.5,6.1 L60.0,5.9" fill="none" stroke="#000" stroke-width="0.6"/><path d="M0.0,9.6 L1.5,9.4 L3.0,9.2 L4.5,9.1 L6.0,9.0 L7.5,8.9 L9.0,8.8 L10.5,8.7 L12.0,8.5 L13.5,8.2 L15.0,7.8 L16.5,7.5 L18.0,7.0 L19.5,6.6 L21.0,6.2 L22.5,5.9 L24.0,5.7 L25.5,5.6 L27.0,5.6 L28.5,5.8 L30.0,6.2 L31.5,6.7 L33.0,7.3 L34.5,8.1 L36.0,8.9 L37.5,9.7 L39.0,10.4 L40.5,11.1 L42.0,11.7 L43.5,12.1 L45.0,12.3 L46.5,12.4 L48.0,12.4 L49.5,12.2 L51.0,11.9 L52.5,11.5 L54.0,11.1 L55.5,10.7 L57.0,10.3 L58.5,9.9 L60.0,9.6" fill="none" stroke="#000" stroke-width="0.6"/><path d="M0.0,17.5 L1.5,18.2 L3.0,18.8 L4.5,19.1 L6.0,19.3 L7.5,19.2 L9.0,19.0 L10.5,18.7 L12.0,18.2 L13.5,17.7 L15.0,17.2 L16.5,16.7 L18.0,16.2 L19.5,15.8 L21.0,15.5 L22.5,15.3 L24.0,15.2 L25.5,15.0 L27.0,14.9 L28.5,14.8 L30.0,14.6 L31.5,14.4 L33.0,14.0 L34.5,13.6 L36.0,13.2 L37.5,12.7 L39.0,12.1 L40.5,11.6 L42.0,11.2 L43.5,10.9 L45.0,10.7 L46.5,10.8 L48.0,11.0 L49.5,11.4 L51.0,12.0 L52.5,12.8 L54.0,13.7 L55.5,14.7 L57.0,15.7 L58.5,16.6 L60.0,17.5" fill="none" stroke="#000" stroke-width="0.6"/><path d="M0.0,17.1 L1.5,18.1 L3.0,19.3 L4.5,20.6 L6.0,21.9 L7.5,23.2 L9.0,24.3 L10.5,25.3 L12.0,26.0 L13.5,26.4 L15.0,26.6 L16.5,26.6 L18.0,26.3 L19.5,25.8 L21.0,25.2 L22.5,24.5 L24.0,23.8 L25.5,23.2 L27.0,22.6 L28.5,22.1 L30.0,21.7 L31.5,21.4 L33.0,21.2 L34.5,21.0 L36.0,20.9 L37.5,20.7 L39.0,20.5 L40.5,20.2 L42.0,19.7 L43.5,19.2 L45.0,18.6 L46.5,17.9 L48.0,17.2 L49.5,16.5 L51.0,16.0 L52.5,15.6 L54.0,15.4 L55.5,15.4 L57.0,15.7 L58.5,16.3 L60.0,17.1" fill="none" stroke="#000" stroke-width="0.6"/><path d="M0.0,23.8 L1.5,23.5 L3.0,23.3 L4.5,23.4 L6.0,23.5 L7.5,23.9 L9.0,24.4 L10.5,25.1 L12.0,25.8 L13.5,26.7 L15.0,27.5 L16.5,28.3 L18.0,29.1 L19.5,29.7 L21.0,30.2 L22.5,30.5 L24.0,30.7 L25.5,30.6 L27.0,30.5 L28.5,30.2 L30.0,29.8 L31.5,29.3 L33.0,28.9 L34.5,28.5 L36.0,28.1 L37.5,27.7 L39.0,27.5 L40.5,27.3 L42.0,27.1 L43.5,27.0 L45.0,26.9 L46.5,26.8 L48.0,26.7 L49.5,26.5 L51.0,26.2 L52.5,25.9 L54.0,25.5 L55.5,25.0 L57.0,24.6 L58.5,24.1 L60.0,23.8" fill="none" stroke="#000" stroke-width="0.6"/><path d="M0.0,32.8 L1.5,32.7 L3.0,32.5 L4.5,32.2 L6.0,31.9 L7.5,31.4 L9.0,31.0 L10.5,30.5 L12.0,30.1 L13.5,29.7 L15.0,29.3 L16.5,29.2 L18.0,29.2 L19.5,29.3 L21.0,29.7 L22.5,30.2 L24.0,30.9 L25.5,31.6 L27.0,32.5 L28.5,33.4 L30.0,34.3 L31.5,35.1 L33.0,35.8 L34.5,36.3 L36.0,36.7 L37.5,36.8 L39.0,36.8 L40.5,36.7 L42.0,36.4 L43.5,36.0 L45.0,35.5 L46.5,35.1 L48.0,34.6 L49.5,34.2 L51.0,33.8 L52.5,33.5 L54.0,33.3 L55.5,33.2 L57.0,33.1 L58.5,33.0 L60.0,32.8" fill="none" stroke="#000" stroke-width="0.6"/><path d="M0.0,42.3 L1.5,42.2 L3.0,42.0 L4.5,41.7 L6.0,41.4 L7.5,41.0 L9.0,40.6 L10.5,40.2 L12.0,39.9 L13.5,39.6 L15.0,39.4 L16.5,39.2 L18.0,39.1 L19.5,39.0 L21.0,38.9 L22.5,38.8 L24.0,38.7 L25.5,38.5 L27.0,38.2 L28.5,37.9 L30.0,37.5 L31.5,37.1 L33.0,36.7 L34.5,36.3 L36.0,36.0 L37.5,35.8 L39.0,35.7 L40.5,35.8 L42.0,36.0 L43.5,36.3 L45.0,36.8 L46.5,37.5 L48.0,38.2 L49.5,38.9 L51.0,39.7 L52.5,40.4 L54.0,41.0 L55.5,41.6 L57.0,42.0 L58.5,42.2 L60.0,42.3" fill="none" stroke="#000" stroke-width="0.6"/></pattern></defs>
<g stroke="#000" stroke-width="1" fill="none">
<line x1="83.6" y1="46.9" x2="133" y2="175"/>
<line x1="83.6" y1="74.8" x2="125.5" y2="175"/>
<line x1="83.6" y1="102.7" x2="119" y2="172.4"/>
<line x1="85" y1="128" x2="119" y2="195"/>
<line x1="67.2" y1="152" x2="110" y2="195"/>
<line x1="139.4" y1="112.8" x2="162" y2="195"/>
<line x1="166" y1="97.6" x2="206" y2="250"/>
<line x1="399" y1="128.4" x2="276" y2="194"/>
<line x1="426.4" y1="145.6" x2="414.2" y2="206.5"/>
<line x1="454.8" y1="165.4" x2="414.2" y2="219"/>
<line x1="480" y1="180.6" x2="437" y2="229.3"/>
<line x1="500.4" y1="195.8" x2="429.4" y2="249.6"/>
<line x1="523.2" y1="209.8" x2="490" y2="330"/>
<line x1="546" y1="223" x2="505" y2="330"/>
<line x1="567.6" y1="238" x2="520" y2="320"/>
<line x1="590.3" y1="253.3" x2="541.2" y2="308.7"/>
<line x1="611" y1="267.5" x2="571.3" y2="327.7"/>
<line x1="639.4" y1="285" x2="565" y2="348.3"/>
<line x1="664.8" y1="302.4" x2="585.6" y2="348.3"/>
<line x1="691.7" y1="319.8" x2="587" y2="359.4"/>
<line x1="720.2" y1="337.2" x2="612.5" y2="378.4"/>
<line x1="746" y1="354" x2="649" y2="400.6"/>
<line x1="772.5" y1="370.6" x2="697.7" y2="446.6"/>
<line x1="799" y1="388.3" x2="735.8" y2="482"/>
<line x1="827" y1="408.6" x2="800.4" y2="507.4"/>
<line x1="870" y1="436.5" x2="863.3" y2="577.6"/>
<line x1="903.4" y1="457.2" x2="890.8" y2="565"/>
<line x1="936" y1="480" x2="935" y2="527"/>
<line x1="960.8" y1="495" x2="937.8" y2="541"/>
<line x1="959.6" y1="535.2" x2="937.8" y2="552.4"/>
<line x1="877" y1="748.5" x2="883" y2="695.5"/>
<line x1="698" y1="659.7" x2="709.6" y2="512.7"/>
<line x1="662.7" y1="640.7" x2="671.5" y2="534.2"/>
<line x1="623.4" y1="619" x2="631" y2="557"/>
<line x1="510.2" y1="560.7" x2="521" y2="491"/>
<line x1="481.8" y1="546.7" x2="512.2" y2="425"/>
<line x1="447.6" y1="529" x2="507" y2="420"/>
<line x1="414.6" y1="511.3" x2="466.6" y2="437.7"/>
<line x1="379.2" y1="494.8" x2="433.7" y2="440.3"/>
<line x1="347" y1="477.4" x2="378.7" y2="417"/>
<line x1="313" y1="463" x2="356.5" y2="353.9"/>
<line x1="201.3" y1="403" x2="234.6" y2="317.4"/>
<line x1="168" y1="385.5" x2="199.7" y2="320.6"/>
<line x1="117.4" y1="368.6" x2="111.5" y2="276"/>
<line x1="101.4" y1="353" x2="102.7" y2="282"/>
<line x1="83.6" y1="329" x2="86" y2="288.7"/>
</g>
<g font-family="Liberation Sans, sans-serif" font-size="17" fill="#000" stroke="#000" stroke-width="0.25">
<text transform="translate(62.2,41.2) scale(1.08,1)">41</text>
<text transform="translate(62.2,69.1) scale(1.08,1)">39</text>
<text transform="translate(62.2,96.5) scale(1.08,1)">40</text>
<text transform="translate(62.2,122.4) scale(1.08,1)">39</text>
<text transform="translate(44.4,146.4) scale(1.08,1)">38</text>
<text transform="translate(117.9,107.1) scale(1.08,1)">42</text>
<text transform="translate(143.8,93.2) scale(1.08,1)">43</text>
<text transform="translate(399.1,122.2) scale(1.08,1)">1</text>
<text transform="translate(425.2,140.4) scale(1.08,1)">2</text>
<text transform="translate(454.1,159.4) scale(1.08,1)">3</text>
<text transform="translate(479.8,174.7) scale(1.08,1)">4</text>
<text transform="translate(499.8,189.4) scale(1.08,1)">5</text>
<text transform="translate(521.8,204.1) scale(1.08,1)">6</text>
<text transform="translate(544.8,217.4) scale(1.08,1)">7</text>
<text transform="translate(566.4,231.7) scale(1.08,1)">8</text>
<text transform="translate(590.8,247.9) scale(1.08,1)">9</text>
<text transform="translate(611.3,262.2) scale(1.08,1)">10</text>
<text transform="translate(639.8,279.6) scale(1.08,1)">11</text>
<text transform="translate(665.2,297.0) scale(1.08,1)">12</text>
<text transform="translate(692.1,314.4) scale(1.08,1)">13</text>
<text transform="translate(719.6,331.9) scale(1.08,1)">14</text>
<text transform="translate(747.2,349.7) scale(1.08,1)">15</text>
<text transform="translate(773.1,366.2) scale(1.08,1)">16</text>
<text transform="translate(799.2,382.6) scale(1.08,1)">17</text>
<text transform="translate(827.1,402.9) scale(1.08,1)">18</text>
<text transform="translate(870.2,432.1) scale(1.08,1)">19</text>
<text transform="translate(902.2,452.0) scale(1.08,1)">20</text>
<text transform="translate(935.5,473.8) scale(1.08,1)">9</text>
<text transform="translate(959.6,488.7) scale(1.08,1)">8</text>
<text transform="translate(959.6,530.0) scale(1.08,1)">21</text>
<text transform="translate(855.5,766.1) scale(1.08,1)">22</text>
<text transform="translate(676.7,675.1) scale(1.08,1)">23</text>
<text transform="translate(640.4,656.1) scale(1.08,1)">24</text>
<text transform="translate(601.4,635.0) scale(1.08,1)">25</text>
<text transform="translate(488.2,575.8) scale(1.08,1)">26</text>
<text transform="translate(459.1,563.1) scale(1.08,1)">27</text>
<text transform="translate(424.3,545.4) scale(1.08,1)">28</text>
<text transform="translate(392.7,527.1) scale(1.08,1)">29</text>
<text transform="translate(356.4,510.1) scale(1.08,1)">30</text>
<text transform="translate(323.7,493.4) scale(1.08,1)">31</text>
<text transform="translate(292.0,478.4) scale(1.08,1)">32</text>
<text transform="translate(179.5,419.8) scale(1.08,1)">33</text>
<text transform="translate(145.3,403.4) scale(1.08,1)">34</text>
<text transform="translate(115.8,384.4) scale(1.08,1)">35</text>
<text transform="translate(79.4,369.4) scale(1.08,1)">36</text>
<text transform="translate(61.7,345.1) scale(1.08,1)">37</text>
</g>
</svg></body></html>
